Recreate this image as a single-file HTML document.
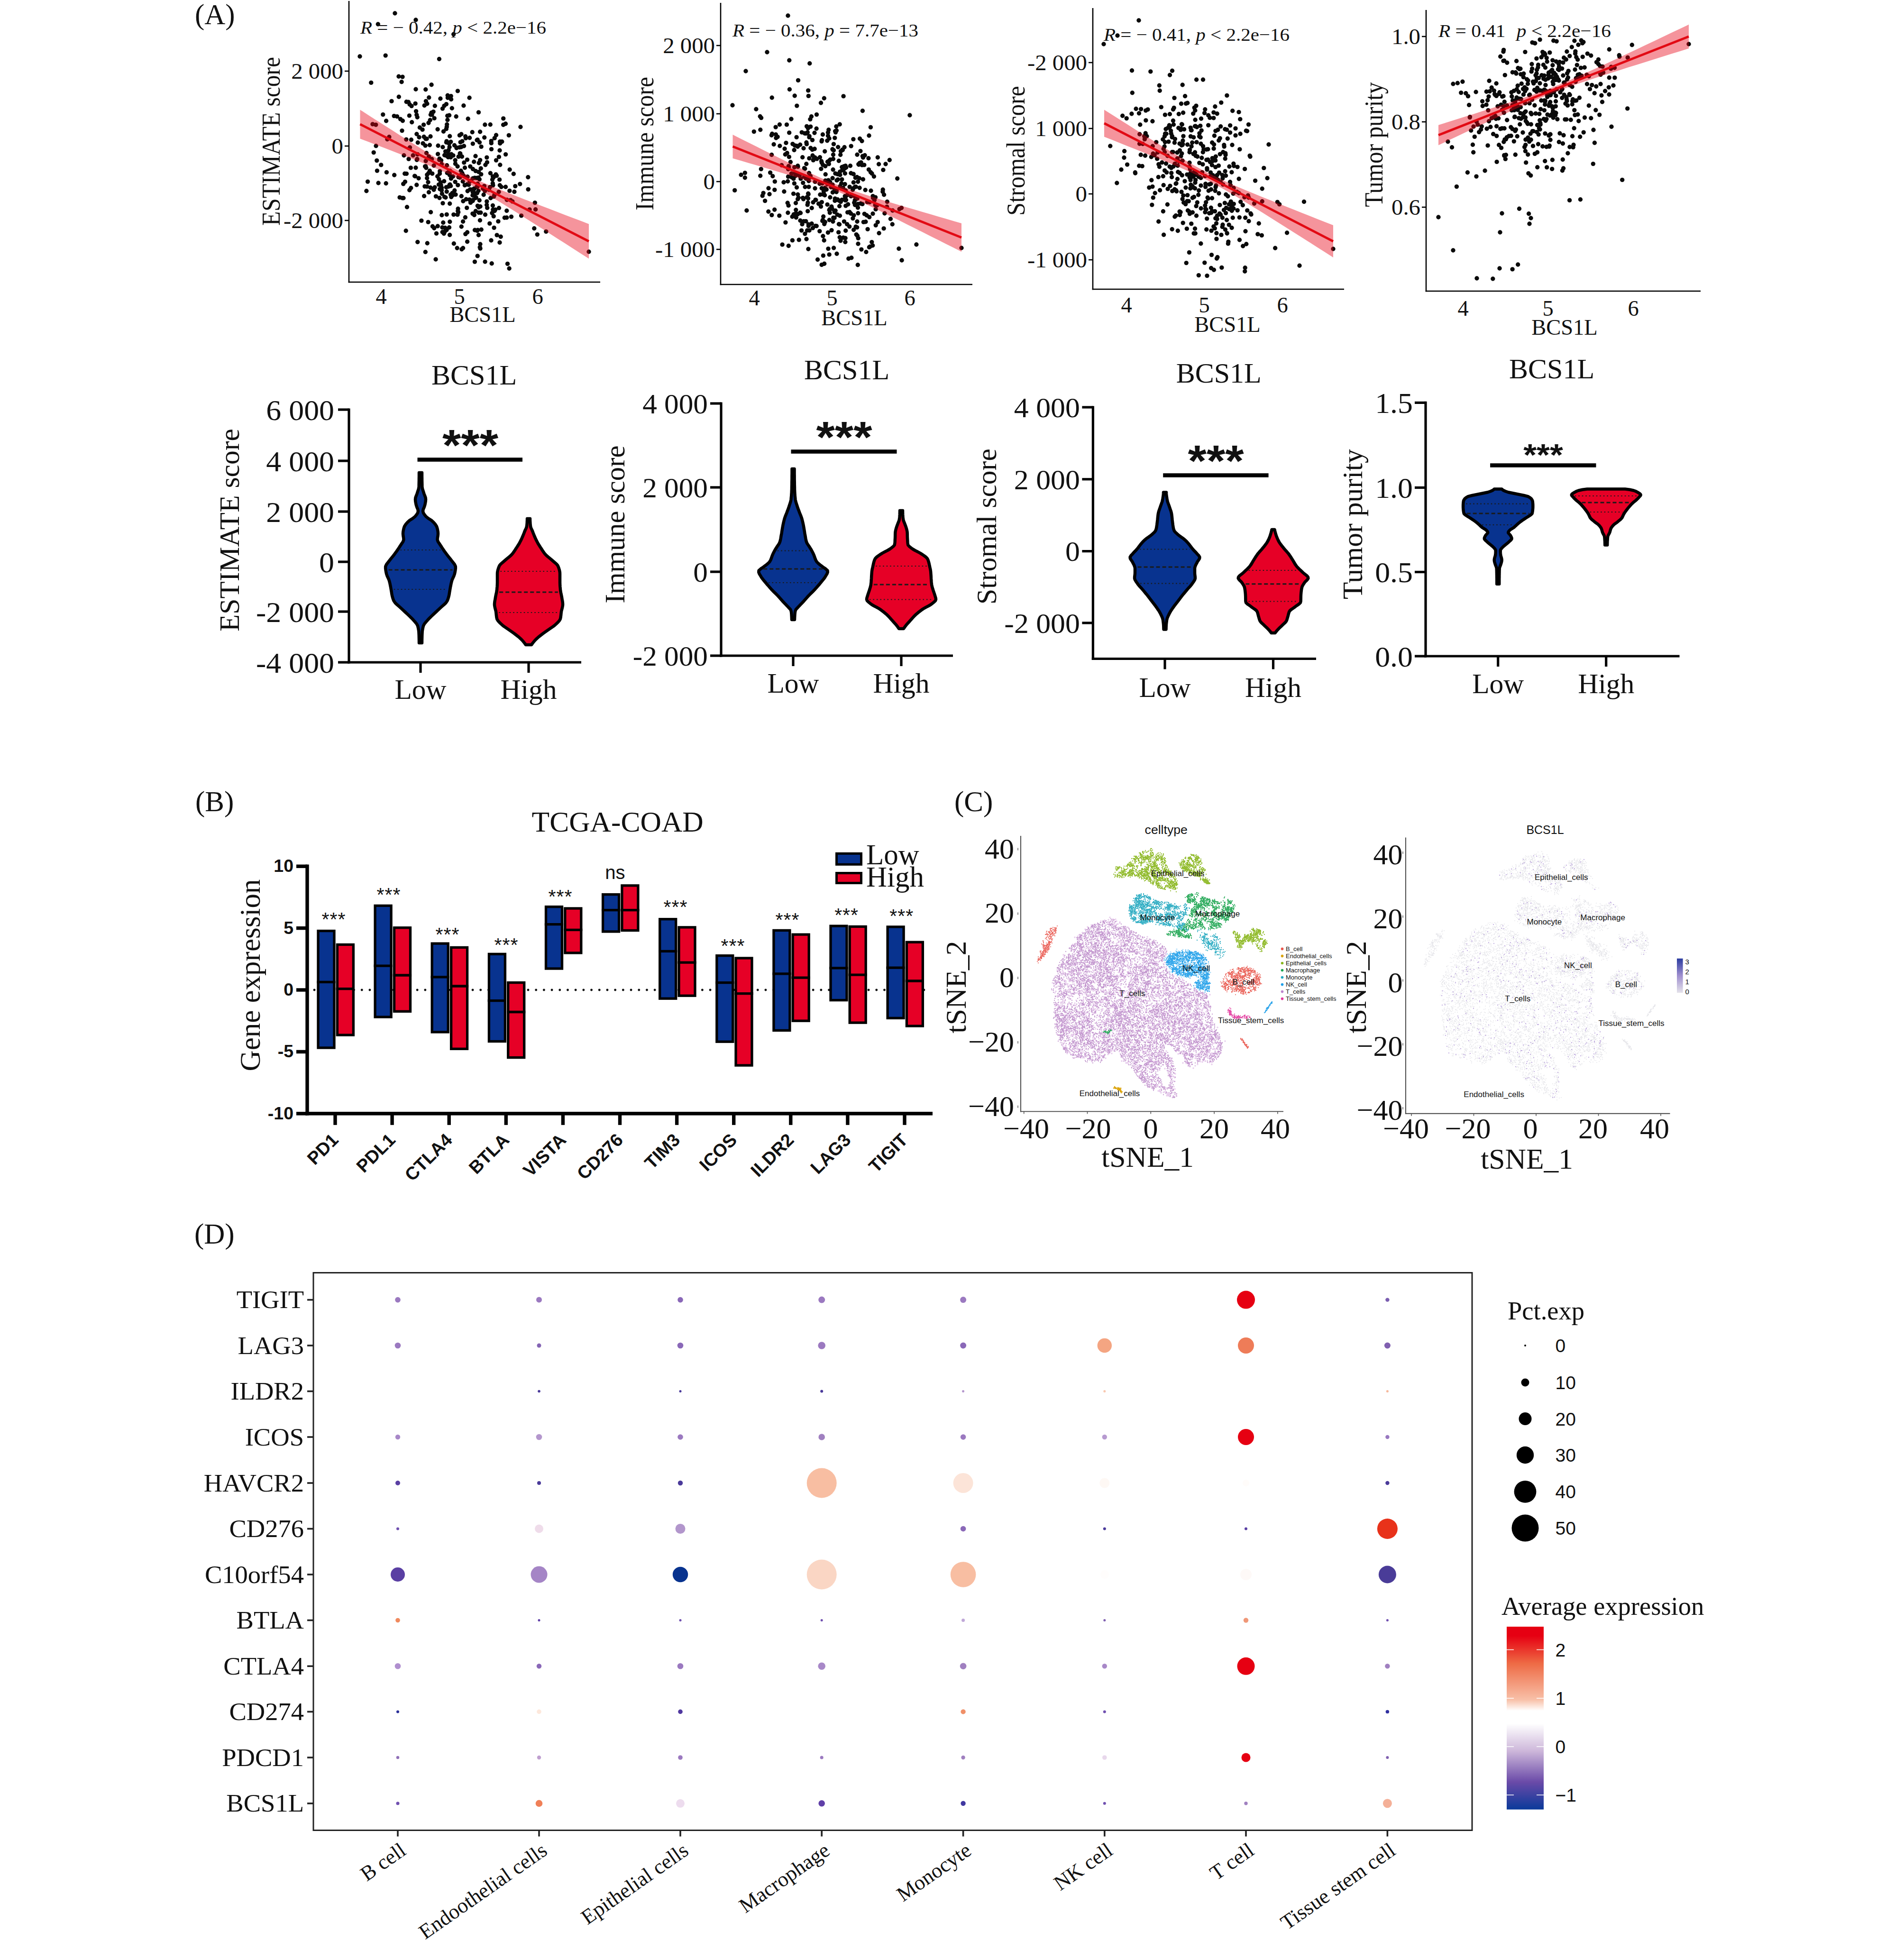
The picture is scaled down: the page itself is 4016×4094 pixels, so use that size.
<!DOCTYPE html>
<html lang="en"><head><meta charset="utf-8"><title>Figure</title>
<style>html,body{margin:0;padding:0;background:#fff}svg{display:block}text{font-family:"Liberation Serif",serif;fill:#111}text.a{font-family:"Liberation Sans",sans-serif}</style></head>
<body><svg width="4016" height="4094" viewBox="0 0 4016 4094">
<rect width="4016" height="4094" fill="#fff"/>
<defs><linearGradient id="gD" x1="0" y1="0" x2="0" y2="1"><stop offset="0" stop-color="#e60012"/><stop offset="0.05" stop-color="#e60012"/><stop offset="0.2" stop-color="#ee6a44"/><stop offset="0.4" stop-color="#f8c0a8"/><stop offset="0.46" stop-color="#ffffff"/><stop offset="0.53" stop-color="#ffffff"/><stop offset="0.68" stop-color="#cdb7da"/><stop offset="0.85" stop-color="#6a4aa8"/><stop offset="1" stop-color="#0a3a9a"/></linearGradient><linearGradient id="gB" x1="0" y1="0" x2="0" y2="1"><stop offset="0" stop-color="#2b3ca0"/><stop offset="0.5" stop-color="#9f8fcf"/><stop offset="1" stop-color="#e4e2ea"/></linearGradient></defs>
<text font-size="61" x="411" y="51">(A)</text>
<text font-size="61" x="412" y="1711">(B)</text>
<text font-size="61" x="2013" y="1711">(C)</text>
<text font-size="61" x="410" y="2623">(D)</text>
<path d="M736 2L736 596.3" stroke="#000" stroke-width="2.6" fill="none" />
<path d="M734.7 595L1266 595" stroke="#000" stroke-width="2.6" fill="none" />
<path d="M727 150L736 150" stroke="#000" stroke-width="2.6" fill="none" />
<text font-size="46.5" transform="translate(724 165.5) scale(1.05 1)" text-anchor="end">2 000</text>
<path d="M727 308L736 308" stroke="#000" stroke-width="2.6" fill="none" />
<text font-size="46.5" transform="translate(724 323.5) scale(1.05 1)" text-anchor="end">0</text>
<path d="M727 465L736 465" stroke="#000" stroke-width="2.6" fill="none" />
<text font-size="46.5" transform="translate(724 480.5) scale(1.05 1)" text-anchor="end">-2 000</text>
<text font-size="46.5" x="804" y="641" text-anchor="middle">4</text>
<text font-size="46.5" x="969" y="641" text-anchor="middle">5</text>
<text font-size="46.5" x="1134" y="641" text-anchor="middle">6</text>
<text font-size="46.5" x="1018" y="679" text-anchor="middle">BCS1L</text>
<text font-size="55" transform="translate(590 298) rotate(-90) scale(0.9 1)" text-anchor="middle">ESTIMATE score</text>
<path d="M1084.9 404.5h0M926.4 124.5h0M960.2 337.9h0M922.7 372h0M990.6 290.8h0M897.9 292.9h0M1009.7 437.2h0M868.1 223.6h0M1013 524.1h0M958.5 306.5h0M1038.5 378.8h0M1012.2 521.5h0M1005.5 394.1h0M1012.7 337.6h0M948.1 310.3h0M946.2 316.7h0M947.6 326.3h0M967.1 373.6h0M981.8 493.6h0M851 417.7h0M943.9 252.9h0M948.5 366.5h0M1036.5 314.6h0M976.2 382.8h0M841.3 204.3h0M1003.3 445.2h0M1037.9 449.4h0M988.8 389.7h0M1046.5 338.1h0M950.7 392.2h0M848.8 417.8h0M904.5 330.2h0M1113.8 373.7h0M923.2 477h0M884.1 289.5h0M997.4 422h0M1002.9 417.7h0M1056.2 499.2h0M1003 329.3h0M910.1 178.8h0M1009.5 236.9h0M1023.1 552h0M885.4 269h0M927 417.5h0M899.5 322.7h0M923.6 324.9h0M1052.4 330.9h0M965.8 390.4h0M1021.7 290h0M1039.9 442h0M1022.8 402.8h0M844.5 251.1h0M1018.8 397.8h0M957.3 513.7h0M1117 441.9h0M1097.9 267.8h0M815.4 363.4h0M942.2 404.1h0M997.4 376.3h0M1009.1 402.5h0M852 327.8h0M973.9 525.7h0M880.7 325.4h0M930.6 338.4h0M1078.5 457.1h0M927.8 361.1h0M1015.1 309.4h0M942 485h0M1021.5 392.4h0M926.9 334.7h0M850.7 387.9h0M985 389h0M868.7 257.8h0M997.3 405.4h0M925.5 389.4h0M1027.4 342.4h0M923.1 272.7h0M878.8 390h0M996.9 412h0M877.6 234.6h0M955.9 327.9h0M969.3 310.7h0M1007.2 539.9h0M1070.5 556.4h0M965.8 445h0M934 428.6h0M933.9 310.2h0M915 400.3h0M980.3 390.7h0M879.9 335.5h0M858.5 436.7h0M951.4 376.6h0M953.3 228.2h0M863.4 312.8h0M1066.6 325.6h0M910.7 335.4h0M841 161.2h0M931.6 346.3h0M933 479.7h0M949.1 389.3h0M1074.1 566.2h0M848 275.6h0M1043.2 291.4h0M895.2 222.5h0M864.1 220.3h0M973.3 478h0M1069.2 421.5h0M820.9 288.7h0M936.7 382.3h0M951.6 209.5h0M990.1 206.3h0M911.8 366.1h0M985.6 509.7h0M793.1 307.8h0M1009.7 362.6h0M1006 295.6h0M1007.4 434.1h0M891.1 273.4h0M947.3 303h0M1034.8 417.7h0M1054 511.5h0M965.1 351h0M893.6 263.1h0M903.9 365.1h0M898.1 339.5h0M974.4 330.3h0M947.5 479.7h0M1075.1 357.8h0M946.9 326.7h0M941.2 484h0M1009.5 495.8h0M1086.8 392.6h0M947.5 361.6h0M1033.5 394.6h0M1006.6 486.6h0M1043.3 444.8h0M904.8 205.8h0M1040.3 444.1h0M894.2 288.5h0M928.9 208h0M978.6 308h0M939.9 416.5h0M954 407.2h0M990.7 383h0M964.2 523.2h0M948.6 495.5h0M895.9 393.1h0M972.9 310h0M772.9 402.8h0M878.8 242.2h0M969.9 374.5h0M980.5 353.8h0M854.4 383.4h0M896.6 350.9h0M1001.5 485.2h0M945.3 331.5h0M944.2 201.3h0M907.2 253.2h0M879.2 337.3h0M938.6 487.8h0M1066.4 261h0M969.4 285.4h0M1000.2 398.5h0M1026.8 424.9h0M1014.8 367.6h0M782.8 174.4h0M900.1 292.8h0M888.9 465.4h0M948.8 467.8h0M936.7 491.7h0M875.6 371.8h0M866.4 353.9h0M1073.3 285.4h0M898.9 354h0M947.6 243.3h0M1042.8 411.4h0M1052.5 438.8h0M878.9 282.7h0M1058.8 298.8h0M927.7 398.6h0M1032.8 471.4h0M856.2 486.7h0M949.1 360.1h0M960.5 345.4h0M892.1 302.4h0M1054.6 298.6h0M788.2 321.6h0M984.7 438.4h0M1083.3 366.8h0M973.3 413.7h0M1048.1 495.9h0M900.9 218.7h0M941.4 219.6h0M1039.5 372.2h0M935.5 277.3h0M1068.8 444.5h0M931.5 401.4h0M954.7 411.8h0M1054.3 390.7h0M997.1 423.8h0M1041.2 456.1h0M963 312.2h0M981.7 287.8h0M1007.2 393.8h0M999.7 341.3h0M903.9 259.2h0M1039.3 386.8h0M944.4 206.3h0M956.7 72.3h0M1057.4 394.2h0M962.2 245.8h0M883 376h0M946 393.5h0M1050.9 466.9h0M826 213.4h0M880.2 247.3h0M813.2 117.1h0M908 287.8h0M997.4 356.5h0M1061.6 263.2h0M862 335.4h0M941.3 271.9h0M1015.2 484.2h0M1053.6 378.9h0M960.1 383.6h0M964.7 452.6h0M925.8 378h0M803.8 347.9h0M1076.9 422.1h0M1034.2 262.8h0M937 223.1h0M983.2 420.3h0M863.4 243.9h0M919.1 547h0M955.4 372.3h0M986.2 403h0M943.7 244.3h0M912.4 477.5h0M978.8 342.9h0M864.6 311h0M962.9 311.2h0M1023.9 347.8h0M948.7 429.5h0M976.6 467.3h0M944.4 320.2h0M993.9 399.9h0M1044.8 442.1h0M958.8 401.7h0M1007.2 294.6h0M950.6 331.7h0M1045.9 367.9h0M1036.2 297.4h0M956.8 452.6h0M942.2 452.4h0M816.9 293.7h0M972.2 360.3h0M853.7 366.2h0M795.4 360.1h0M981.4 458.5h0M942.7 262.5h0M924.1 307.3h0M1003.2 360.6h0M990.2 420.9h0M1061.7 249.9h0M932.3 408.6h0M1010.1 343.8h0M942.6 348.7h0M970.8 323.9h0M916.1 249.4h0M934.8 469.5h0M894.6 413.5h0M1099.6 454.9h0M1129.6 441.7h0M1080.8 424.9h0M876.9 353.8h0M1096.8 388.1h0M997.3 303.1h0M900.7 375.7h0M950.5 410.6h0M1054 317.3h0M915.1 349.2h0M1128.3 427.6h0M930.1 390.4h0M1114.1 399.4h0M943.2 364.7h0M877 188.3h0M976.9 424.3h0M807.8 241.6h0M1034.4 365.3h0M1000.9 407.3h0M1013 435.5h0M985.6 490h0M927.5 366.2h0M1047.6 370.6h0M941.4 300.2h0M901.3 513h0M1001.4 552.1h0M1020.1 410.7h0M948.3 389.7h0M965.1 452.7h0M906.4 360.3h0M1001.1 375.2h0M951.8 415.5h0M1007.9 389.4h0M967.2 330.4h0M1007.5 387.5h0M856.9 294.1h0M1011.2 422.5h0M904.5 405.5h0M1009.9 448.5h0M1074.8 402.4h0M1009.1 374.7h0M1036 507h0M1000.4 453.5h0M908 395.7h0M880.8 510.5h0M1046.5 285h0M775.6 383.1h0M903 384.3h0M871.2 327.8h0M917 395.1h0M938.8 480.5h0M908.6 447.5h0M961 410.4h0M849 162.1h0M1036.3 301.9h0M937.6 327.3h0M897.7 350.6h0M861.5 215.2h0M1026.8 332.1h0M1013.9 448.5h0M1068.8 459h0M831.2 244.6h0M931.9 453.7h0M985.5 336.9h0M991.8 351.1h0M999.7 397.9h0M1039.4 433.5h0M1031.4 400.3h0M1011.3 378.2h0M1006.4 407.2h0M952 325.3h0M941.3 394.9h0M798.1 386h0M792.8 263.1h0M937.4 415.2h0M977.5 370h0M966.7 447.6h0M1126.8 481.7h0M814.6 255h0M906.4 306h0M1000.4 412.5h0M866.8 396.5h0M867.4 294.8h0M1054.7 302.4h0M936.3 492.8h0M942.3 267.5h0M919.4 414.1h0M849.4 254.8h0M857.2 214.7h0M1052.1 404.7h0M929.5 384.8h0M910 237.7h0M1042.1 480.4h0M900.6 393.4h0M1064.3 459.3h0M996.2 278.7h0M951.2 202.6h0M1039.9 390.8h0M1054.8 347.8h0M1022.9 263h0M931.7 396.1h0M986 372.8h0M843.1 416.4h0M1007.7 485.2h0M1041 374.2h0M900.8 368.6h0M920.5 492.4h0M973 283h0M917.3 223.2h0M797.3 51h0M908.4 242h0M971.2 299.9h0M976.6 523.3h0M876.1 218.4h0M897.8 188.8h0M939.6 319.4h0M1011.5 300.3h0M941.6 328.4h0M847.1 172.8h0M992.5 427.4h0M903.2 468.4h0M1027.7 438.4h0M1004.3 416.7h0M1012.4 464.8h0M965.4 191.9h0M948.7 287.2h0M874.6 371.3h0M831.7 369.3h0M914.1 235.6h0M897.3 531.5h0M1066.5 394.2h0M1037.2 555.7h0M897.1 307.1h0M1026.6 432.3h0M933.2 489.5h0M996.9 450.6h0M1133.3 494.6h0M1151.8 488.4h0M948.5 369.2h0M1023.5 452.8h0M987.2 250.5h0M881.3 300.8h0M1012.9 515h0M786 261.9h0M926.6 337.1h0M975 297.9h0M863.7 401h0M1014.2 355.2h0M950.8 299.1h0M857.4 366.4h0M911.1 241.9h0M915.8 481.3h0M991.6 399.6h0M966.1 440.3h0M1012.6 278h0M942 297.9h0M974.8 365h0M814.2 386.7h0M977.9 222.7h0M1041.7 414.6h0M992.9 381.4h0M970.1 323.5h0M837.5 245.6h0M970.9 369.9h0M1004.7 375.5h0M794.8 338.6h0M898.4 213.4h0M933.5 229.1h0M982.4 291.5h0M1242 531h0M759 119h0M833 28h0M877 42h0" stroke="#0a0a0a" stroke-width="9.4" stroke-linecap="round" fill="none"/>
<path d="M759.5 231.5L776.1 242.2L792.8 252.9L809.4 263.5L826.1 274.1L842.7 284.7L859.3 295.3L876 305.8L892.6 316.2L909.2 326.5L925.9 336.6L942.5 346.4L959.2 355.8L975.8 364.7L992.4 373L1009.1 380.7L1025.7 387.9L1042.3 394.9L1059 401.7L1075.6 408.3L1092.3 414.9L1108.9 421.4L1125.5 427.8L1142.2 434.2L1158.8 440.6L1175.4 447L1192.1 453.4L1208.7 459.7L1225.4 466L1242 472.4L1242 545.6L1225.4 534.9L1208.7 524.2L1192.1 513.5L1175.4 502.9L1158.8 492.2L1142.2 481.6L1125.5 470.9L1108.9 460.4L1092.3 449.8L1075.6 439.3L1059 428.9L1042.3 418.7L1025.7 408.6L1009.1 398.8L992.4 389.5L975.8 380.7L959.2 372.6L942.5 365L925.9 357.8L909.2 350.8L892.6 344.1L876 337.5L859.3 330.9L842.7 324.4L826.1 318L809.4 311.6L792.8 305.2L776.1 298.8L759.5 292.5Z" fill="#e60012" fill-opacity="0.42"/>
<path d="M759.5 262L1242 509" stroke="#e20a14" stroke-width="5" fill="none" />
<text x="760" y="71" font-size="38.5" textLength="392" lengthAdjust="spacingAndGlyphs"><tspan font-style="italic">R</tspan> = − 0.42, <tspan font-style="italic">p</tspan> &lt; 2.2e−16</text>
<path d="M1520 6L1520 601.3" stroke="#000" stroke-width="2.6" fill="none" />
<path d="M1518.7 600L2051 600" stroke="#000" stroke-width="2.6" fill="none" />
<path d="M1511 96L1520 96" stroke="#000" stroke-width="2.6" fill="none" />
<text font-size="46.5" transform="translate(1508 111.5) scale(1.05 1)" text-anchor="end">2 000</text>
<path d="M1511 240L1520 240" stroke="#000" stroke-width="2.6" fill="none" />
<text font-size="46.5" transform="translate(1508 255.5) scale(1.05 1)" text-anchor="end">1 000</text>
<path d="M1511 383L1520 383" stroke="#000" stroke-width="2.6" fill="none" />
<text font-size="46.5" transform="translate(1508 398.5) scale(1.05 1)" text-anchor="end">0</text>
<path d="M1511 526L1520 526" stroke="#000" stroke-width="2.6" fill="none" />
<text font-size="46.5" transform="translate(1508 541.5) scale(1.05 1)" text-anchor="end">-1 000</text>
<text font-size="46.5" x="1591" y="644" text-anchor="middle">4</text>
<text font-size="46.5" x="1755" y="644" text-anchor="middle">5</text>
<text font-size="46.5" x="1919" y="644" text-anchor="middle">6</text>
<text font-size="46.5" x="1802" y="686" text-anchor="middle">BCS1L</text>
<text font-size="55" transform="translate(1378 303) rotate(-90) scale(0.9 1)" text-anchor="middle">Immune score</text>
<path d="M1780.2 350.6h0M1763.9 266.7h0M1799.9 293.6h0M1747.2 380.1h0M1704.6 408.2h0M1824.1 327.5h0M1841.5 417.5h0M1818.2 348.1h0M1674.2 452.2h0M1782.2 413.7h0M1792 447.2h0M1665.4 188.5h0M1628.2 206h0M1590.3 277.6h0M1709.5 371.3h0M1762 365.9h0M1728.9 387.5h0M1676.5 306.9h0M1749.3 338.6h0M1706.5 365h0M1841 450.8h0M1723 335.1h0M1738.7 556.3h0M1784.5 421.8h0M1808 326.2h0M1895.9 524.5h0M1743.2 399.8h0M1696.3 372.8h0M1736.7 456.8h0M1772 392.8h0M1794.6 450.4h0M1762.5 279.1h0M1819.4 329.3h0M1675.6 352.8h0M1782.9 510.5h0M1627.8 453.6h0M1862.2 400h0M1732.6 340h0M1704.3 270.4h0M1627.6 326.5h0M1765 535.3h0M1676.2 202h0M1757.1 357.8h0M1771.9 368.9h0M1658 301.4h0M1803.4 432.3h0M1678.5 428.2h0M1644.8 307.7h0M1760.8 290.9h0M1662.6 356.8h0M1741.2 367.8h0M1706.9 289.4h0M1702.6 486h0M1705.4 476.4h0M1833.7 457.9h0M1701.6 266.4h0M1814.9 318.6h0M1656.9 469.1h0M1849.9 433h0M1729.4 331.7h0M1771.6 362.2h0M1640.1 288.6h0M1764.4 275.3h0M1677.7 370.9h0M1865.9 450h0M1749.1 536.9h0M1671.9 303.6h0M1806.2 494.6h0M1779.1 202.9h0M1798.9 460.6h0M1750.1 441h0M1846.1 432.5h0M1680.8 223.1h0M1751.3 336.6h0M1707.2 287.3h0M1766.1 452.7h0M1777.4 316.2h0M1809.5 438h0M1571.3 364.6h0M1603.2 245.5h0M1821.4 468.4h0M1701.4 303.9h0M1771.2 262.2h0M1775.8 378.4h0M1798.6 400.2h0M1670 373.9h0M1722.1 271.3h0M1664.7 279.9h0M1750.3 448.7h0M1744.8 296.7h0M1719.9 421.5h0M1822.8 347.9h0M1766.8 367.4h0M1594.9 230.3h0M1706.9 333.9h0M1718.9 332.1h0M1772.7 326.5h0M1634.3 382.9h0M1703.2 431.9h0M1688 465.2h0M1659.4 262.9h0M1795.9 543.8h0M1690.6 486.1h0M1854.1 491.8h0M1731.5 217h0M1636.3 283.6h0M1782.1 388.4h0M1700 376.8h0M1629.8 371.5h0M1679.3 458.8h0M1757.4 335.2h0M1708.9 251.6h0M1758.4 316.9h0M1738.7 472.5h0M1770.6 434.7h0M1932.9 515.7h0M1825.2 400.7h0M1662.5 372.6h0M1664.8 127.2h0M1788.7 431h0M1671.1 457h0M1740.8 350.5h0M1678.8 449.8h0M1715.4 337.9h0M1713.3 315.6h0M1627.4 285.3h0M1684.2 417h0M1653.9 404h0M1709.9 312.2h0M1734.3 386.6h0M1753.9 435.7h0M1761.6 276.7h0M1697.9 493.1h0M1738.3 207.2h0M1758.6 523h0M1829.2 426.1h0M1762.2 444.3h0M1735.6 347.5h0M1861.9 404.4h0M1818 297.5h0M1691.2 279.1h0M1775.8 352.5h0M1700.9 300.5h0M1756.9 467.3h0M1704.5 418.4h0M1745.5 341.3h0M1771.2 500.5h0M1563.1 368.8h0M1871.3 425.5h0M1800.6 484.8h0M1783.3 422.6h0M1838.8 510.6h0M1759.9 444.7h0M1683 351.6h0M1756.1 389.5h0M1699.8 466.6h0M1771.5 455h0M1655.1 313.8h0M1697.9 355.7h0M1761 423.4h0M1733.2 342.9h0M1809.6 383.2h0M1673.6 408.6h0M1735.8 409.9h0M1769.4 472.7h0M1791.7 477.9h0M1741 380.9h0M1775.7 421.5h0M1783.8 434.1h0M1901.5 438.5h0M1783.1 416.3h0M1843.4 372.2h0M1661.9 448.7h0M1801.8 427.4h0M1695.2 466.7h0M1778.9 358.5h0M1714 328h0M1846.5 416.1h0M1675.1 316.5h0M1825.9 467.7h0M1697.3 281.2h0M1705.9 394.1h0M1717.9 334.3h0M1748.3 345.9h0M1669 251h0M1680.5 307.8h0M1764.5 402.1h0M1687.8 448.8h0M1661.2 428h0M1664.4 330.9h0M1805.1 478.1h0M1686.5 370.6h0M1667.4 341.8h0M1776.5 359h0M1851.2 468.4h0M1794.9 365.3h0M1737.5 408.3h0M1808 467.3h0M1718.2 314h0M1663.3 518.5h0M1826.9 531.5h0M1736.4 539.1h0M1783.1 421.6h0M1709.7 267.1h0M1795 413.9h0M1746.5 286.5h0M1605.6 248.6h0M1809.3 558.7h0M1700.8 345.8h0M1636.1 268.1h0M1769.3 339.3h0M1754 485.6h0M1733.6 295.7h0M1864.1 481.9h0M1761.3 418.9h0M1731.5 435.6h0M1648.7 348.5h0M1663.3 350.5h0M1792.1 394.1h0M1870.7 436.1h0M1698.1 394.3h0M1763.9 421.7h0M1750.7 383.8h0M1813.6 292.5h0M1800.2 367.1h0M1739.7 319.3h0M1836.4 268.4h0M1660.2 322.7h0M1795.2 308.1h0M1783.7 486.5h0M1683.5 169.4h0M1799.9 397.3h0M1740.3 468.2h0M1800.3 367.2h0M1757.5 326.3h0M1778.3 396.2h0M1782.7 354.6h0M1762.3 420.6h0M1786.9 411.4h0M1603.7 370.7h0M1663.1 433.4h0M1745.5 388.4h0M1701 504.2h0M1692 472.9h0M1844.4 422.1h0M1682.5 309.2h0M1643.8 454.9h0M1773.5 318.9h0M1803.2 422.6h0M1823.3 451.1h0M1673.8 377h0M1815.4 429.3h0M1758.4 303.9h0M1705.9 381.8h0M1807.6 373.5h0M1724.6 547.5h0M1682.7 349.8h0M1682.3 366.9h0M1807.7 479.6h0M1778.7 501.2h0M1749.1 443h0M1678.8 442.7h0M1705.4 473.3h0M1675.4 386.9h0M1770 423.1h0M1738.2 507h0M1777 315.6h0M1712.1 471.7h0M1685.2 505.9h0M1722.5 241.6h0M1811.4 347.3h0M1749 292h0M1760.2 447.1h0M1803.4 394.1h0M1633.7 442.3h0M1753.1 394.9h0M1636.9 291h0M1756.1 375.7h0M1757 316.1h0M1624.6 364.1h0M1734.7 465.9h0M1841.1 413.6h0M1720.2 476.4h0M1810.8 346.4h0M1878.4 461.8h0M1735.4 283.8h0M1720.9 421.8h0M1773 507.8h0M1816.2 342.6h0M1731.9 356.1h0M1695 312.7h0M1680.1 289.4h0M1739.6 411.7h0M1832.4 357.6h0M1707.8 133.8h0M1733.2 397h0M1706.9 375h0M1687.7 305.3h0M1644.4 262.7h0M1613.6 423.6h0M1803.7 415.2h0M1735.9 498h0M1783.4 349.8h0M1750.9 416.2h0M1766.8 420.8h0M1628.6 282.3h0M1605.3 356.6h0M1718 280.3h0M1902.1 549h0M1712.2 438.8h0M1703.7 445.4h0M1804.3 375h0M1789.8 545.5h0M1820.5 332.2h0M1780.4 467.1h0M1768.7 489.9h0M1705.3 202.4h0M1862.9 358.4h0M1746.5 279.5h0M1813.5 343.6h0M1764.2 405h0M1810.2 502.4h0M1773.3 425.6h0M1693.5 417.4h0M1610.1 407.1h0M1759.8 397.8h0M1833 286h0M1682.8 410.2h0M1726.6 429.7h0M1733 298.1h0M1780.3 420.7h0M1787.7 447.9h0M1892.7 376.5h0M1707.1 486h0M1688.9 376.9h0M1828.1 454.3h0M1783.7 401.7h0M1621 397h0M1809.9 449.7h0M1719.1 397.2h0M1800.3 384.7h0M1713.5 295.4h0M1781.1 310.5h0M1714.4 481h0M1603.8 273.7h0M1813.1 396.3h0M1831.9 333.8h0M1682.7 451.6h0M1676.8 365.2h0M1728.8 487.6h0M1669.3 366.1h0M1810 514.3h0M1760.1 459.5h0M1705 525.3h0M1786.7 472.9h0M1882.2 473h0M1757.7 459.2h0M1851.3 332h0M1633.8 400.4h0M1740.2 396.2h0M1897.1 441h0M1746.4 490.5h0M1693.8 385.6h0M1737.4 403.4h0M1767.7 310.2h0M1716.9 333.3h0M1653 384.5h0M1700.8 281.3h0M1632.1 304.5h0M1661.6 382.5h0M1812.4 375.9h0M1692.7 331.7h0M1793.5 349.8h0M1784.7 353.3h0M1574.9 444h0M1805.3 394h0M1756.3 405.7h0M1864.6 410.7h0M1767.2 378.6h0M1705.2 409.6h0M1782.4 365.8h0M1918.9 243h0M1853.6 346.2h0M1694.6 420h0M1816.9 526.1h0M1650.1 515.9h0M1680.5 395.3h0M1847.1 441.4h0M1749.3 464h0M1755.9 314.7h0M1835 520.2h0M1800.9 454.2h0M1840.7 517.8h0M1847.2 475.1h0M1623 409.5h0M1808.4 497.2h0M1868 346h0M1549.7 401.4h0M1809.7 430.3h0M1671.4 506.9h0M1733.1 558.5h0M1783.1 502.3h0M1571.3 374.7h0M1703.3 279.1h0M1711.4 245.7h0M1836.4 363.3h0M1747 524.6h0M1830.1 483.4h0M1834.2 426.4h0M1663.8 352.2h0M1719.2 383.4h0M1745.1 431.4h0M1820.4 378.3h0M1729.9 410.5h0M1837 402.2h0M1608.2 412.9h0M1656.3 325.7h0M1715.1 426.8h0M1620.8 446.3h0M1722.3 476.7h0M1765 380.4h0M1704.7 190.9h0M1876.3 337.5h0M1770.5 473.3h0M1808.1 418.9h0M1704 427.5h0M1747.8 273.7h0M1682.7 419.9h0M1819.4 233.8h0M1774.7 386.8h0M1819 430.4h0M1735.4 464.1h0M1833.4 521.4h0M1755 440.1h0M1882.8 444h0M1702.1 416h0M1688.5 449.2h0M1696.4 354.6h0M1839.1 366h0M1733.3 426.4h0M2028 523h0M1662 33h0M1618 110h0M1545 222h0M1573 150h0" stroke="#0a0a0a" stroke-width="9.4" stroke-linecap="round" fill="none"/>
<path d="M1545.5 284.1L1562.1 292.4L1578.8 300.8L1595.4 309.1L1612.1 317.4L1628.7 325.7L1645.3 334L1662 342.2L1678.6 350.3L1695.2 358.3L1711.9 366.2L1728.5 373.9L1745.2 381.2L1761.8 388.1L1778.4 394.5L1795.1 400.5L1811.7 406.1L1828.3 411.5L1845 416.8L1861.6 421.9L1878.3 427L1894.9 431.9L1911.5 436.9L1928.2 441.8L1944.8 446.7L1961.4 451.6L1978.1 456.5L1994.7 461.3L2011.4 466.2L2028 471L2028 531L2011.4 522.6L1994.7 514.2L1978.1 505.8L1961.4 497.4L1944.8 489.1L1928.2 480.7L1911.5 472.4L1894.9 464.1L1878.3 455.9L1861.6 447.7L1845 439.6L1828.3 431.6L1811.7 423.7L1795.1 416.1L1778.4 408.9L1761.8 402.1L1745.2 395.7L1728.5 389.8L1711.9 384.2L1695.2 378.8L1678.6 373.6L1662 368.5L1645.3 363.5L1628.7 358.5L1612.1 353.5L1595.4 348.6L1578.8 343.7L1562.1 338.8L1545.5 333.9Z" fill="#e60012" fill-opacity="0.42"/>
<path d="M1545.5 309L2028 501" stroke="#e20a14" stroke-width="5" fill="none" />
<text x="1545" y="77" font-size="38.5" textLength="392" lengthAdjust="spacingAndGlyphs"><tspan font-style="italic">R</tspan> = − 0.36, <tspan font-style="italic">p</tspan> = 7.7e−13</text>
<path d="M2305 17L2305 611.3" stroke="#000" stroke-width="2.6" fill="none" />
<path d="M2303.7 610L2835 610" stroke="#000" stroke-width="2.6" fill="none" />
<path d="M2296 132L2305 132" stroke="#000" stroke-width="2.6" fill="none" />
<text font-size="46.5" transform="translate(2293 147.5) scale(1.05 1)" text-anchor="end">-2 000</text>
<path d="M2296 271L2305 271" stroke="#000" stroke-width="2.6" fill="none" />
<text font-size="46.5" transform="translate(2293 286.5) scale(1.05 1)" text-anchor="end">1 000</text>
<path d="M2296 409L2305 409" stroke="#000" stroke-width="2.6" fill="none" />
<text font-size="46.5" transform="translate(2293 424.5) scale(1.05 1)" text-anchor="end">0</text>
<path d="M2296 548L2305 548" stroke="#000" stroke-width="2.6" fill="none" />
<text font-size="46.5" transform="translate(2293 563.5) scale(1.05 1)" text-anchor="end">-1 000</text>
<text font-size="46.5" x="2376" y="659" text-anchor="middle">4</text>
<text font-size="46.5" x="2540" y="659" text-anchor="middle">5</text>
<text font-size="46.5" x="2705" y="659" text-anchor="middle">6</text>
<text font-size="46.5" x="2589" y="700" text-anchor="middle">BCS1L</text>
<text font-size="55" transform="translate(2161 318) rotate(-90) scale(0.9 1)" text-anchor="middle">Stromal score</text>
<path d="M2481.6 403.5h0M2528.7 401.8h0M2626.7 459.2h0M2627 487.7h0M2636.1 328.4h0M2476.2 227.4h0M2571.5 364.1h0M2596.2 425.1h0M2540.8 554.1h0M2574.6 384.3h0M2462.4 431.2h0M2599 305.7h0M2521.6 379.7h0M2416.2 281h0M2630.5 276.5h0M2566.4 545.2h0M2488 303h0M2547.1 416.7h0M2559.8 248.9h0M2477.9 345.5h0M2509.4 450.9h0M2509.1 321h0M2662.2 424.8h0M2462.7 328.7h0M2515.4 417.2h0M2563.8 352.4h0M2504.7 305h0M2527.7 411h0M2557.2 333.6h0M2494.9 304.1h0M2396.1 229.5h0M2563.8 460.4h0M2517.2 324.7h0M2576.9 564.4h0M2466.3 264.2h0M2501 395.8h0M2471.6 373.5h0M2481 386.7h0M2509.6 316.1h0M2589.3 292.2h0M2477.6 399.3h0M2585.8 410.3h0M2377.6 347.1h0M2556.4 348.1h0M2394.6 365.3h0M2655.2 471.2h0M2625.6 356.4h0M2544.8 315.3h0M2452.8 294h0M2467.5 267.2h0M2477.4 300.9h0M2511.2 364.8h0M2443.8 346.5h0M2403.6 303.2h0M2537.5 168h0M2507.7 445.9h0M2563.6 338.4h0M2493.3 369.8h0M2542.7 440.4h0M2541.9 447.6h0M2560.1 313.4h0M2460.1 282.3h0M2560.6 304.8h0M2594.7 264.6h0M2513.2 274.8h0M2553.9 387.7h0M2521.1 252.7h0M2469.6 275.7h0M2601.8 345.3h0M2567.1 461.9h0M2472.2 289.4h0M2376.2 249.6h0M2582.1 309.1h0M2556.6 445.1h0M2557.2 340h0M2547.9 314.8h0M2502.2 554.6h0M2496 287.1h0M2542.7 394.1h0M2585 326.6h0M2457.4 242.1h0M2584.5 484.2h0M2478.4 293.1h0M2530 281.1h0M2496.7 427.2h0M2445.5 351.8h0M2614.9 314.9h0M2609 404.7h0M2494.1 419.8h0M2536.9 346.6h0M2491.1 271.2h0M2492.8 323.7h0M2585.6 370.5h0M2552.4 341.6h0M2565.3 375.6h0M2621.3 432.8h0M2414.4 293.6h0M2500.7 430.6h0M2533.2 439.5h0M2584.2 334.6h0M2510.3 357h0M2568.8 273.8h0M2432.1 324h0M2504.7 217.2h0M2410.4 303.5h0M2499 382.1h0M2523.5 455h0M2402.7 349.8h0M2474.4 254.5h0M2599.7 233.8h0M2525.6 330.2h0M2616.1 282.3h0M2556.5 418h0M2530.5 373.1h0M2520.8 233h0M2494.2 179h0M2598.1 480.5h0M2432.3 416.9h0M2519.2 227.1h0M2480.2 387.4h0M2524.5 268h0M2578.1 369.1h0M2495.6 237.8h0M2567.2 455h0M2457.4 299.7h0M2511.8 367.1h0M2454.6 495.3h0M2550.7 449.8h0M2508.4 532.4h0M2562.9 224.7h0M2602.1 396.5h0M2456.6 320.7h0M2468 392.1h0M2574.7 266.8h0M2578.2 478.5h0M2355.8 386h0M2578.4 459.3h0M2632.4 412.2h0M2470.7 364.9h0M2520.4 397.3h0M2367.7 244.2h0M2714.6 491h0M2602.3 430.1h0M2507.2 424.4h0M2584.1 361.2h0M2518.4 415.4h0M2475.4 262.8h0M2614.5 506h0M2518.1 492.2h0M2592.3 431h0M2495.9 412.4h0M2494.2 339h0M2488.1 446.3h0M2541.7 371.4h0M2606 270.9h0M2532.9 375.2h0M2492.5 262h0M2652.9 493.9h0M2598.5 432.7h0M2592.6 440.9h0M2546 357.7h0M2463.9 269.2h0M2529.6 287.6h0M2556.7 300.7h0M2587.6 273.6h0M2555.1 486.6h0M2593 351.3h0M2624.9 416h0M2557.5 373.9h0M2409.2 350.4h0M2562.5 445.6h0M2463.1 398.4h0M2486.3 240.5h0M2459.5 345h0M2503.3 482.4h0M2588.2 492.3h0M2520.4 266.2h0M2418.9 287.3h0M2621.7 519h0M2415.5 328.3h0M2581.8 305.8h0M2533 303.3h0M2542.8 387.8h0M2509 343.2h0M2484 349.4h0M2565.5 471.1h0M2438.8 299.9h0M2573.3 325.1h0M2483.4 334.1h0M2583.9 272.5h0M2548.2 418.8h0M2435.2 327.5h0M2633.8 416.7h0M2520.5 482.3h0M2490.9 329.5h0M2626.2 564.8h0M2456.1 309h0M2565.9 491.8h0M2564.3 330.1h0M2587.9 201.4h0M2541.8 433.5h0M2610.2 443.6h0M2430.9 393.6h0M2494.1 305.6h0M2613 236.4h0M2689.7 523.3h0M2594.5 383.8h0M2581.5 442.9h0M2548.7 243.2h0M2563.2 402.5h0M2598.1 434.6h0M2550.8 388.9h0M2426.8 150.9h0M2524 299.9h0M2563.9 276.1h0M2492 404.7h0M2532.2 289.6h0M2571 407.8h0M2459 272.3h0M2545.9 354.9h0M2513.1 308.8h0M2341.8 308h0M2553.5 363.9h0M2404.8 263h0M2529.8 343.6h0M2523.6 168h0M2572.9 432.4h0M2576 495.4h0M2544.7 484h0M2443.3 373.5h0M2512.8 471.9h0M2494.9 296.8h0M2483.5 377.5h0M2472.7 402.9h0M2579.7 389.1h0M2537.5 308.4h0M2661.3 496.4h0M2446.6 401.3h0M2450.9 342.7h0M2570.4 349.4h0M2484.7 362.7h0M2564.9 391.2h0M2551.8 248.4h0M2521.5 266h0M2531.8 265.4h0M2467.4 240.8h0M2492.4 306.5h0M2511.7 389.6h0M2453.4 445.8h0M2493.3 262.5h0M2538.9 315.1h0M2483.9 338.6h0M2428.8 380h0M2421 230.9h0M2592.2 474.1h0M2541.8 230.7h0M2490.4 273.9h0M2472.3 288.6h0M2543.7 426.6h0M2534.2 275.1h0M2520.4 363.3h0M2579.8 320.8h0M2485.8 269.9h0M2440.7 334.9h0M2480.5 401.4h0M2578.8 376.2h0M2537.3 321h0M2535.6 363.4h0M2602.6 350h0M2598.2 444.5h0M2548.7 264.1h0M2454.2 313.9h0M2533.5 250.2h0M2645.5 429.3h0M2516.9 395.3h0M2472.5 149.2h0M2517.7 289.7h0M2528.3 372.7h0M2416.7 233.1h0M2590.4 513.9h0M2524 368.7h0M2554.4 399.5h0M2488.5 317.3h0M2614.3 458.6h0M2600.2 459.3h0M2474.5 230.8h0M2430.9 255.7h0M2563.1 337.6h0M2676 304.7h0M2515.4 448h0M2665.8 354.4h0M2554.3 438.2h0M2394.3 363.7h0M2544.8 337.2h0M2601.2 408.4h0M2480.1 454.8h0M2488.4 453.5h0M2365 357.8h0M2511.1 379.8h0M2545.7 461.1h0M2474.1 320.6h0M2510.8 397.3h0M2533 391.4h0M2559.9 237.1h0M2517.7 369h0M2590.9 509.9h0M2504 424.3h0M2662.2 398h0M2491.5 218.8h0M2443.7 467.3h0M2431.2 308.3h0M2589.9 414h0M2553.8 373.1h0M2606 285.6h0M2509.1 352h0M2402.5 239h0M2521.2 492.2h0M2490 447.4h0M2484.3 486.8h0M2505.4 444h0M2741 560.3h0M2637 330.4h0M2574.6 452.7h0M2520.9 385.3h0M2456.4 287.5h0M2446.2 191.3h0M2584.7 323.2h0M2555.5 537.6h0M2610.1 352.1h0M2514.7 300.7h0M2532.9 513.7h0M2647.6 381.1h0M2436.2 407.3h0M2371 332.5h0M2371.6 318.8h0M2547.9 336.7h0M2453.3 371.7h0M2564 394.6h0M2698.6 430.9h0M2495.2 470.1h0M2750.5 425.5h0M2520.5 321.3h0M2554.8 448.8h0M2483.1 321.7h0M2467.1 351.5h0M2515 392.7h0M2517.2 372.5h0M2416.9 253.9h0M2503.9 368.1h0M2457.6 282h0M2601.8 439.7h0M2486.9 340.7h0M2509.2 374.3h0M2512.3 274.6h0M2540.6 238.4h0M2579 474h0M2594.6 279.6h0M2523.1 434.6h0M2549.2 402.3h0M2544 441.7h0M2523 223.1h0M2554.6 565.5h0M2585.5 449.4h0M2673.1 375.8h0M2464.8 298.9h0M2567.9 542.5h0M2613 407.2h0M2639 452.4h0M2558.4 369.7h0M2472.3 320.7h0M2467.5 158.3h0M2477.9 457h0M2516.8 239.6h0M2546 581.6h0M2528.3 580.6h0M2575.8 216.4h0M2560.4 569.2h0M2573.2 291.6h0M2565.9 503.9h0M2428.3 331h0M2562.3 481.6h0M2511.4 287.6h0M2583.4 428.1h0M2534.8 333h0M2597.9 363.3h0M2694.4 426.1h0M2628.8 514.7h0M2569.2 379.3h0M2616.7 425.7h0M2474.9 351.1h0M2567.2 239.8h0M2615.8 251.4h0M2553 372.5h0M2413.7 287.4h0M2460.7 363.6h0M2488.2 364.7h0M2559.8 477.7h0M2472.2 483.5h0M2388.3 195.7h0M2499.6 202.8h0M2406.2 326.5h0M2406.6 230.1h0M2588.1 491.7h0M2504.7 411.6h0M2586.3 438.5h0M2511.2 269.4h0M2429.8 432.1h0M2567.3 369.3h0M2525.3 427h0M2595.4 390.3h0M2454.2 390.5h0M2501.5 218.4h0M2625.7 572.3h0M2554.9 371.6h0M2522.1 328.6h0M2497.6 272.8h0M2470.2 281.5h0M2518.9 362.6h0M2561.4 286.2h0M2570.7 296.3h0M2456.6 359.6h0M2403.8 283h0M2386.9 240h0M2572.4 450.4h0M2449.3 225.9h0M2637.9 450.2h0M2628.3 275.8h0M2630.8 443.9h0M2441.6 321.5h0M2634 466.5h0M2445.3 180.2h0M2613.2 377.3h0M2472.3 287.1h0M2477 206.6h0M2512.4 373.9h0M2423.8 395.6h0M2470.5 354.1h0M2587.6 464h0M2633.5 262.6h0M2387.5 148.8h0M2812 525h0M2402 43h0M2328 93h0M2357 75h0" stroke="#0a0a0a" stroke-width="9.4" stroke-linecap="round" fill="none"/>
<path d="M2329 231.5L2345.7 242L2362.3 252.6L2379 263.1L2395.6 273.7L2412.3 284.2L2428.9 294.6L2445.6 305L2462.2 315.3L2478.9 325.5L2495.6 335.5L2512.2 345.3L2528.9 354.7L2545.5 363.6L2562.2 372L2578.8 379.9L2595.5 387.4L2612.1 394.7L2628.8 401.7L2645.4 408.6L2662.1 415.4L2678.8 422.1L2695.4 428.8L2712.1 435.5L2728.7 442.1L2745.4 448.7L2762 455.3L2778.7 461.9L2795.3 468.5L2812 475.1L2812 542.9L2795.3 532.3L2778.7 521.7L2762 511.1L2745.4 500.6L2728.7 490L2712.1 479.5L2695.4 469L2678.8 458.5L2662.1 448.1L2645.4 437.7L2628.8 427.4L2612.1 417.3L2595.5 407.3L2578.8 397.7L2562.2 388.4L2545.5 379.6L2528.9 371.4L2512.2 363.6L2495.6 356.2L2478.9 349.1L2462.2 342.1L2445.6 335.2L2428.9 328.4L2412.3 321.7L2395.6 315L2379 308.4L2362.3 301.7L2345.7 295.1L2329 288.5Z" fill="#e60012" fill-opacity="0.42"/>
<path d="M2329 260L2812 509" stroke="#e20a14" stroke-width="5" fill="none" />
<text x="2328" y="86" font-size="38.5" textLength="392" lengthAdjust="spacingAndGlyphs"><tspan font-style="italic">R</tspan> = − 0.41, <tspan font-style="italic">p</tspan> &lt; 2.2e−16</text>
<path d="M3008 21L3008 615.3" stroke="#000" stroke-width="2.6" fill="none" />
<path d="M3006.7 614L3587 614" stroke="#000" stroke-width="2.6" fill="none" />
<path d="M2999 77L3008 77" stroke="#000" stroke-width="2.6" fill="none" />
<text font-size="46.5" transform="translate(2996 92.5) scale(1.05 1)" text-anchor="end">1.0</text>
<path d="M2999 257L3008 257" stroke="#000" stroke-width="2.6" fill="none" />
<text font-size="46.5" transform="translate(2996 272.5) scale(1.05 1)" text-anchor="end">0.8</text>
<path d="M2999 437L3008 437" stroke="#000" stroke-width="2.6" fill="none" />
<text font-size="46.5" transform="translate(2996 452.5) scale(1.05 1)" text-anchor="end">0.6</text>
<text font-size="46.5" x="3086" y="666" text-anchor="middle">4</text>
<text font-size="46.5" x="3265" y="666" text-anchor="middle">5</text>
<text font-size="46.5" x="3445" y="666" text-anchor="middle">6</text>
<text font-size="46.5" x="3300" y="706" text-anchor="middle">BCS1L</text>
<text font-size="55" transform="translate(2916 305) rotate(-90) scale(0.9 1)" text-anchor="middle">Tumor purity</text>
<path d="M3375.5 155.2h0M3257.4 232.6h0M3140.5 255.7h0M3295.1 187.7h0M3305.5 167.2h0M3303.8 251.9h0M3237.8 91.2h0M3322.9 108.4h0M3213.8 155.3h0M3270.1 283.2h0M3323.3 172.4h0M3255.7 166h0M3171.1 202.8h0M3244.5 304h0M3234.8 175.9h0M3212.6 187.6h0M3233.5 307.9h0M3231.7 144.9h0M3138.9 232.6h0M3228.7 370.1h0M3277.2 165.2h0M3149.5 247.7h0M3193.9 232.4h0M3231.5 210.4h0M3186.8 268.3h0M3262.2 122.1h0M3360.3 345.6h0M3274 195h0M3198.6 208.7h0M3193.2 191.6h0M3304 204.9h0M3236.9 91h0M3156.8 286.8h0M3276.2 248.3h0M3240.9 123.4h0M3225.7 298.6h0M3216.7 192.3h0M3334.4 143.1h0M3206.9 145h0M3249.2 262.6h0M3288.5 140.6h0M3270.1 295h0M3241.5 164.3h0M3208 250.4h0M3151.4 191.2h0M3207.4 226h0M3259.5 142.5h0M3267 285.9h0M3125.3 266.6h0M3096.5 202.9h0M3298.7 174.3h0M3269.5 191.7h0M3084.9 172.3h0M3393.3 184.2h0M3218 188.8h0M3204.4 208.2h0M3209.3 176.5h0M3254.4 192.6h0M3278.7 168.9h0M3379.5 215h0M3278 153.8h0M3233.5 172.3h0M3367.5 131.1h0M3065 177h0M3273.7 147.6h0M3148.8 588h0M3304.9 108.7h0M3316.5 287.3h0M3188.6 232.7h0M3284.9 251.5h0M3296.4 302.7h0M3225.6 200.6h0M3442.3 94.8h0M3100.5 246.6h0M3212 279.5h0M3223 169.8h0M3188.8 203.4h0M3178.7 253.2h0M3260.1 254.5h0M3217.9 235.1h0M3270.6 150.7h0M3154 244.5h0M3347.5 177.2h0M3247.7 253.7h0M3222.8 290.2h0M3190.7 211.9h0M3215.2 237.8h0M3371.3 135h0M3146.2 184.8h0M3135.1 220.9h0M3415.2 116.5h0M3283.4 188.1h0M3161.7 198h0M3280.7 242.9h0M3199.1 205.7h0M3054 298.8h0M3266.1 193.7h0M3201.7 558h0M3172.8 328.5h0M3268.2 218.7h0M3182.7 286.9h0M3259.3 212.6h0M3072.4 393.6h0M3240.9 193.2h0M3242.5 263.7h0M3324.7 211.9h0M3217.4 318.8h0M3253.7 109.6h0M3156.2 202.4h0M3168.1 270.7h0M3257.5 112.1h0M3220.6 167.2h0M3248.2 273h0M3320.8 232.4h0M3328.1 157.8h0M3168.4 231.6h0M3178.8 132.2h0M3239.5 170.9h0M3342.5 248h0M3281.3 224.1h0M3164.7 119.2h0M3315.3 99.3h0M3316.1 183h0M3264 241.8h0M3268.3 307.2h0M3283.2 87.1h0M3195 246.1h0M3244.5 136.8h0M3310.2 198.8h0M3399 267.2h0M3286.4 167.1h0M3236.5 189.7h0M3317.6 209.5h0M3376 177.2h0M3357.7 179.4h0M3228.8 238.1h0M3268 284.8h0M3215.9 184.1h0M3277.9 193h0M3212.8 240.7h0M3276.8 155.4h0M3275.2 228h0M3201.2 180.8h0M3217.9 294.5h0M3257.5 189.1h0M3226.7 199.8h0M3421.7 379.4h0M3230.3 240.8h0M3259 114.6h0M3289.6 130.8h0M3108 267h0M3217 217.8h0M3320.2 270.5h0M3135.3 193.2h0M3113.1 194h0M3257.6 115.3h0M3146.2 249.3h0M3201.3 231.8h0M3245.5 164.4h0M3331.4 156.7h0M3173.3 214.7h0M3234.1 276.6h0M3294.8 206.5h0M3266.5 153.2h0M3190.3 152.5h0M3171 109h0M3218.3 255.3h0M3222.8 326h0M3171.6 105.4h0M3190.1 221.9h0M3353.5 187.9h0M3172.6 127.9h0M3195.8 215.2h0M3272.9 241.4h0M3331.4 206.3h0M3276.7 85.7h0M3255.1 115.2h0M3394 199.2h0M3241.5 278.4h0M3281.1 157.4h0M3156.1 176h0M3251.1 120.7h0M3281.5 213.8h0M3246.4 270.6h0M3298.6 121.7h0M3110.3 288.4h0M3299.9 174h0M3275.9 243.9h0M3173.9 294.3h0M3196.7 152.7h0M3200.7 224.2h0M3365.8 232.3h0M3307.4 163.5h0M3152.6 198.5h0M3355.8 249.2h0M3126.6 213.6h0M3280.8 237.6h0M3245.2 283.6h0M3260.5 191.6h0M3284 162.1h0M3296.2 336.5h0M3275.5 234.6h0M3248 175.7h0M3253.8 308.7h0M3397.9 144.9h0M3332.7 288.5h0M3178.6 222.5h0M3290 281.2h0M3296.9 131.9h0M3239.1 239.4h0M3371.4 125.5h0M3241.6 147.3h0M3175.3 335.4h0M3123.6 273.2h0M3242.7 352.8h0M3291 194.6h0M3270.5 200.8h0M3194.6 246.9h0M3159 224.2h0M3127.2 223.5h0M3342.2 142.2h0M3298 285.2h0M3273.5 224.2h0M3311 179.6h0M3277.5 194.8h0M3062.5 310.8h0M3363.4 301.2h0M3203.6 249.1h0M3207.8 156.6h0M3377.9 201.3h0M3119.7 278.6h0M3171 128.4h0M3258.7 339.7h0M3276.2 235.4h0M3107.7 321.3h0M3337.7 91.1h0M3198.6 128.8h0M3203.3 194h0M3339.9 88.8h0M3319 305.5h0M3178.2 289.7h0M3271.3 162.2h0M3374.9 139.2h0M3173.1 270.8h0M3242.6 321.2h0M3095.4 363.7h0M3232.2 276.7h0M3153.6 200.1h0M3255.6 192h0M3294.3 189.1h0M3346.8 157.8h0M3380.1 140.4h0M3222.4 261.3h0M3261.9 309.8h0M3294.7 144.6h0M3196.3 326.2h0M3172.2 237.9h0M3199.2 188.4h0M3259 281.6h0M3287.7 134.8h0M3106.4 305.2h0M3306.5 222.4h0M3241 155h0M3206.9 238.8h0M3187.9 194.8h0M3114.4 256.7h0M3267.3 223.1h0M3193 227.8h0M3259.9 179.4h0M3297 159.3h0M3324.3 164.7h0M3263.7 204.4h0M3262.7 352.9h0M3295.4 359.7h0M3302 218.5h0M3363.2 196.5h0M3204.5 440.2h0M3299.1 199.9h0M3433.2 121.4h0M3176.4 326.8h0M3259.8 168.2h0M3230.9 135.2h0M3091.9 196.8h0M3385.6 192h0M3176.4 293.6h0M3248.2 190.8h0M3174.3 158.4h0M3098.6 221.5h0M3197.4 273.3h0M3432.7 228.9h0M3137.7 211.5h0M3200.2 287.5h0M3275.2 172.5h0M3326.3 137.1h0M3329 94.5h0M3138.1 306.9h0M3335.2 85.2h0M3333.4 420.7h0M3222.5 176.8h0M3258.7 220.5h0M3276.1 177.2h0M3274.9 137.5h0M3100.2 247.6h0M3102.8 275.2h0M3274.8 127.1h0M3268.8 110.9h0M3230.2 150.9h0M3198.1 155.1h0M3074.4 175.2h0M3257.4 212h0M3168.6 203.6h0M3208.2 208.8h0M3327.7 125.7h0M3195.9 276.1h0M3205.8 262.3h0M3213.3 162.8h0M3218.7 342.9h0M3250.9 212h0M3286.4 146.3h0M3220.8 258.5h0M3405.9 163.9h0M3212.1 247.4h0M3229.3 262.3h0M3338.2 119.9h0M3237.3 324.4h0M3305.6 154.7h0M3405.5 143h0M3381.6 153.1h0M3303.3 125.5h0M3306.9 323.2h0M3213.4 199.4h0M3257 159.4h0M3132.1 360h0M3288 169.9h0M3281.9 238.4h0M3267.7 309.1h0M3282.4 129.7h0M3251.8 158.7h0M3140 203.6h0M3217.7 305.6h0M3329.8 255.3h0M3394.3 104.2h0M3204.9 145.7h0M3301 251.9h0M3156.6 266.2h0M3274.4 337.2h0M3193.3 298.1h0M3161.6 305.7h0M3265.3 165.4h0M3160.6 249.5h0M3340.2 279.1h0M3327.9 241.5h0M3308.2 149.6h0M3351.4 160.8h0M3091.7 196.8h0M3297.6 355h0M3269.8 215.2h0M3136.1 271.5h0M3322.1 146.7h0M3322.6 112.9h0M3288.3 147.5h0M3263.3 200.8h0M3261.9 251.1h0M3310.9 310h0M3318.1 310.6h0M3316.2 220h0M3311.2 200.2h0M3355.8 117.2h0M3255.4 136.8h0M3217.6 247.8h0M3141.1 170.5h0M3348.3 113.1h0M3310.6 422.4h0M3172.8 327.4h0M3248.1 83.6h0M3228.1 282h0M3171.7 223.9h0M3335.9 159.6h0M3116.9 262.9h0M3187.2 286.5h0M3166.6 311.9h0M3305 213.1h0M3229.2 294.8h0M3269.5 243.6h0M3155.4 250.5h0M3246.9 240.2h0M3197.2 229.6h0M3166.1 220.9h0M3114 372.1h0M3190 272h0M3331 164.5h0M3239 158.8h0M3258.8 214.6h0M3236.9 222.2h0M3321.7 212.4h0M3351.3 222.8h0M3249.6 230.2h0M3366.8 182.3h0M3373.7 242.1h0M3157.1 341.4h0M3164.7 271.7h0M3142.2 192.6h0M3232 89.6h0M3415.9 119.5h0M3201.9 143.5h0M3310.8 118.1h0M3226.2 217.9h0M3273.7 356.4h0M3223.9 365.6h0M3316.6 213.3h0M3243.9 142.2h0M3281.5 168.6h0M3219.7 187.4h0M3171.8 299.3h0M3403 180.3h0M3398.4 141.3h0M3313.2 252.7h0M3266 158.1h0M3242.6 185.3h0M3321.9 242.6h0M3216.9 109.6h0M3304.4 209.5h0M3376.1 157.5h0M3149.6 282.7h0M3361 274h0M3281.9 202.3h0M3143.9 267.8h0M3253.7 191.3h0M3248.9 259.9h0M3288.3 299.5h0M3215.6 310.1h0M3256.2 251h0M3224.6 450.7h0M3263.2 130h0M3324.8 120.5h0M3320.9 86h0M3190.1 567.9h0M3162.9 194.7h0M3081.7 195.6h0M3394.2 163.8h0M3562 93h0M3034 458h0M3065 528h0M3163 566h0M3115 587h0M3164 490h0M3168 450h0M3229 460h0M3226 472h0" stroke="#0a0a0a" stroke-width="9.4" stroke-linecap="round" fill="none"/>
<path d="M3034 263.7L3052.2 258L3070.4 252.3L3088.6 246.6L3106.8 240.9L3125 235.1L3143.2 229.3L3161.4 223.5L3179.7 217.6L3197.9 211.6L3216.1 205.5L3234.3 199.2L3252.5 192.7L3270.7 185.8L3288.9 178.5L3307.1 170.8L3325.3 162.8L3343.5 154.6L3361.7 146.3L3379.9 137.9L3398.1 129.4L3416.3 120.9L3434.6 112.3L3452.8 103.7L3471 95.1L3489.2 86.4L3507.4 77.8L3525.6 69.1L3543.8 60.5L3562 51.8L3562 102.2L3543.8 107.9L3525.6 113.6L3507.4 119.2L3489.2 124.9L3471 130.7L3452.8 136.4L3434.6 142.1L3416.3 147.9L3398.1 153.7L3379.9 159.5L3361.7 165.5L3343.5 171.5L3325.3 177.7L3307.1 184L3288.9 190.7L3270.7 197.8L3252.5 205.2L3234.3 213L3216.1 221L3197.9 229.3L3179.7 237.6L3161.4 246.1L3143.2 254.6L3125 263.1L3106.8 271.7L3088.6 280.3L3070.4 289L3052.2 297.6L3034 306.3Z" fill="#e60012" fill-opacity="0.42"/>
<path d="M3034 285L3562 77" stroke="#e20a14" stroke-width="5" fill="none" />
<text x="3034" y="78" font-size="38.5" textLength="364" lengthAdjust="spacingAndGlyphs"><tspan font-style="italic">R</tspan> = 0.41  <tspan font-style="italic" dx="12">p</tspan> &lt; 2.2e−16</text>
<path d="M736 861.4L736 1399.6" stroke="#000" stroke-width="5.2" fill="none" />
<path d="M733.4 1397L1226 1397" stroke="#000" stroke-width="5.2" fill="none" />
<path d="M713 864L736 864" stroke="#000" stroke-width="5.2" fill="none" />
<text font-size="62" transform="translate(705 885.5) scale(1.03 1)" text-anchor="end">6 000</text>
<path d="M713 972L736 972" stroke="#000" stroke-width="5.2" fill="none" />
<text font-size="62" transform="translate(705 993.5) scale(1.03 1)" text-anchor="end">4 000</text>
<path d="M713 1079L736 1079" stroke="#000" stroke-width="5.2" fill="none" />
<text font-size="62" transform="translate(705 1100.5) scale(1.03 1)" text-anchor="end">2 000</text>
<path d="M713 1185L736 1185" stroke="#000" stroke-width="5.2" fill="none" />
<text font-size="62" transform="translate(705 1206.5) scale(1.03 1)" text-anchor="end">0</text>
<path d="M713 1290L736 1290" stroke="#000" stroke-width="5.2" fill="none" />
<text font-size="62" transform="translate(705 1311.5) scale(1.03 1)" text-anchor="end">-2 000</text>
<path d="M713 1397L736 1397" stroke="#000" stroke-width="5.2" fill="none" />
<text font-size="62" transform="translate(705 1418.5) scale(1.03 1)" text-anchor="end">-4 000</text>
<path d="M887 1397L887 1419" stroke="#000" stroke-width="5.2" fill="none" />
<text font-size="59.5" x="887" y="1474" text-anchor="middle">Low</text>
<path d="M1115 1397L1115 1419" stroke="#000" stroke-width="5.2" fill="none" />
<text font-size="59.5" x="1115" y="1474" text-anchor="middle">High</text>
<text font-size="60" x="1000" y="811" text-anchor="middle">BCS1L</text>
<text font-size="59.5" x="504" y="1118" transform="rotate(-90 504 1118)" text-anchor="middle">ESTIMATE score</text>
<path d="M880.5 969.5L1102 969.5" stroke="#000" stroke-width="8.6" fill="none" />
<text font-size="92" transform="translate(992 970.5) scale(1.1 1)" class="a" text-anchor="middle" font-weight="bold">***</text>
<path d="M890 997L890 1001L890 1005.1L890.1 1009.1L890.1 1013.1L890.2 1017.2L890.3 1021.2L890.4 1025.2L890.7 1029.3L891.8 1033.3L893.2 1037.3L894.4 1041.4L896 1045.4L897.5 1049.4L898 1053.5L897.7 1057.5L897 1061.5L896.1 1065.6L894.8 1069.6L893 1073.6L892 1077.7L892.9 1081.7L895.5 1085.7L898.8 1089.8L903.9 1093.8L910.4 1097.8L914.7 1101.9L918.2 1105.9L920.8 1109.9L922.2 1114L923.1 1118L923.8 1122L924 1126.1L923.6 1130.1L922.9 1134.1L922.5 1138.2L923.8 1142.2L926.4 1146.2L929.2 1150.3L931.7 1154.3L934.4 1158.3L937.2 1162.4L940.1 1166.4L943.1 1170.4L946.3 1174.5L949.6 1178.5L952.7 1182.6L955.8 1186.6L958.9 1190.6L960.8 1194.7L960.9 1198.7L960.4 1202.7L959.7 1206.8L958.8 1210.8L957.4 1214.8L955.5 1218.9L953.7 1222.9L952.5 1226.9L951.5 1231L950.7 1235L949.9 1239L949.2 1243.1L948.5 1247.1L947.9 1251.1L947.2 1255.2L946.2 1259.2L945 1263.2L943.4 1267.3L940.7 1271.3L936.6 1275.3L931.9 1279.4L927.5 1283.4L923.2 1287.4L918.8 1291.5L914.5 1295.5L910.3 1299.5L906.1 1303.6L902.3 1307.6L898.7 1311.6L895.3 1315.7L893.1 1319.7L892.1 1323.7L891.3 1327.8L890.7 1331.8L890.5 1335.8L890.3 1339.9L890.2 1343.9L890.1 1347.9L890 1352L890 1356L884 1356L884 1352L883.9 1347.9L883.8 1343.9L883.7 1339.9L883.5 1335.8L883.3 1331.8L882.7 1327.8L881.9 1323.7L880.9 1319.7L878.7 1315.7L875.3 1311.6L871.7 1307.6L867.9 1303.6L863.7 1299.5L859.5 1295.5L855.2 1291.5L850.8 1287.4L846.5 1283.4L842.1 1279.4L837.4 1275.3L833.3 1271.3L830.6 1267.3L829 1263.2L827.8 1259.2L826.8 1255.2L826.1 1251.1L825.5 1247.1L824.8 1243.1L824.1 1239L823.3 1235L822.5 1231L821.5 1226.9L820.3 1222.9L818.5 1218.9L816.6 1214.8L815.2 1210.8L814.3 1206.8L813.6 1202.7L813.1 1198.7L813.2 1194.7L815.1 1190.6L818.2 1186.6L821.3 1182.6L824.4 1178.5L827.7 1174.5L830.9 1170.4L833.9 1166.4L836.8 1162.4L839.6 1158.3L842.3 1154.3L844.8 1150.3L847.6 1146.2L850.2 1142.2L851.5 1138.2L851.1 1134.1L850.4 1130.1L850 1126.1L850.2 1122L850.9 1118L851.8 1114L853.2 1109.9L855.8 1105.9L859.3 1101.9L863.6 1097.8L870.1 1093.8L875.2 1089.8L878.5 1085.7L881.1 1081.7L882 1077.7L881 1073.6L879.2 1069.6L877.9 1065.6L877 1061.5L876.3 1057.5L876 1053.5L876.5 1049.4L878 1045.4L879.6 1041.4L880.8 1037.3L882.2 1033.3L883.3 1029.3L883.6 1025.2L883.7 1021.2L883.8 1017.2L883.9 1013.1L883.9 1009.1L884 1005.1L884 1001L884 997Z" fill="#08338f" stroke="#000" stroke-width="6.5" stroke-linejoin="round"/>
<path d="M819.5 1202H954.5" stroke="#1a1a1a" stroke-width="3" stroke-dasharray="8 5" fill="none"/>
<path d="M844.5 1160H929.5" stroke="#1a1a1a" stroke-width="2.2" stroke-dasharray="2.5 5" fill="none"/>
<path d="M830.8 1243H943.2" stroke="#1a1a1a" stroke-width="2.2" stroke-dasharray="2.5 5" fill="none"/>
<path d="M1118 1094L1118 1097L1118.2 1100L1118.3 1103L1118.6 1106L1118.9 1108.9L1119.4 1111.9L1120.6 1114.9L1122.1 1117.9L1123.4 1120.9L1124.5 1123.9L1125.7 1126.9L1126.9 1129.9L1128.2 1132.9L1129.5 1135.8L1130.9 1138.8L1132.4 1141.8L1134 1144.8L1135.7 1147.8L1137.6 1150.8L1139.5 1153.8L1141.5 1156.8L1143.4 1159.8L1145.3 1162.7L1147.4 1165.7L1149.8 1168.7L1152.7 1171.7L1156.2 1174.7L1159.9 1177.7L1163.5 1180.7L1166.9 1183.7L1170.4 1186.7L1173.8 1189.6L1176.3 1192.6L1177.7 1195.6L1178.8 1198.6L1179.7 1201.6L1180.4 1204.6L1180.9 1207.6L1181 1210.6L1181 1213.6L1181 1216.5L1181 1219.5L1181 1222.5L1181 1225.5L1181 1228.5L1181.1 1231.5L1181.2 1234.5L1181.4 1237.5L1181.7 1240.4L1181.9 1243.4L1182.3 1246.4L1182.8 1249.4L1183.5 1252.4L1184.1 1255.4L1184.7 1258.4L1185.2 1261.4L1185.7 1264.4L1186.3 1267.3L1186.7 1270.3L1187 1273.3L1187 1276.3L1186.5 1279.3L1185.9 1282.3L1185.1 1285.3L1184.3 1288.3L1183.8 1291.3L1183.5 1294.2L1183.2 1297.2L1182.8 1300.2L1182.4 1303.2L1181.6 1306.2L1179.8 1309.2L1177.2 1312.2L1174.1 1315.2L1170.8 1318.2L1167.1 1321.1L1162.7 1324.1L1158.3 1327.1L1154 1330.1L1149.7 1333.1L1145.5 1336.1L1141.6 1339.1L1137.8 1342.1L1134.2 1345.1L1131 1348L1128.1 1351L1125.6 1354L1123.2 1357L1121 1360L1109 1360L1106.8 1357L1104.4 1354L1101.9 1351L1099 1348L1095.8 1345.1L1092.2 1342.1L1088.4 1339.1L1084.5 1336.1L1080.3 1333.1L1076 1330.1L1071.7 1327.1L1067.3 1324.1L1062.9 1321.1L1059.2 1318.2L1055.9 1315.2L1052.8 1312.2L1050.2 1309.2L1048.4 1306.2L1047.6 1303.2L1047.2 1300.2L1046.8 1297.2L1046.5 1294.2L1046.2 1291.3L1045.7 1288.3L1044.9 1285.3L1044.1 1282.3L1043.5 1279.3L1043 1276.3L1043 1273.3L1043.3 1270.3L1043.7 1267.3L1044.3 1264.4L1044.8 1261.4L1045.3 1258.4L1045.9 1255.4L1046.5 1252.4L1047.2 1249.4L1047.7 1246.4L1048.1 1243.4L1048.3 1240.4L1048.6 1237.5L1048.8 1234.5L1048.9 1231.5L1049 1228.5L1049 1225.5L1049 1222.5L1049 1219.5L1049 1216.5L1049 1213.6L1049 1210.6L1049.1 1207.6L1049.6 1204.6L1050.3 1201.6L1051.2 1198.6L1052.3 1195.6L1053.7 1192.6L1056.2 1189.6L1059.6 1186.7L1063.1 1183.7L1066.5 1180.7L1070.1 1177.7L1073.8 1174.7L1077.3 1171.7L1080.2 1168.7L1082.6 1165.7L1084.7 1162.7L1086.6 1159.8L1088.5 1156.8L1090.5 1153.8L1092.4 1150.8L1094.3 1147.8L1096 1144.8L1097.6 1141.8L1099.1 1138.8L1100.5 1135.8L1101.8 1132.9L1103.1 1129.9L1104.3 1126.9L1105.5 1123.9L1106.6 1120.9L1107.9 1117.9L1109.4 1114.9L1110.6 1111.9L1111.1 1108.9L1111.4 1106L1111.7 1103L1111.8 1100L1112 1097L1112 1094Z" fill="#e60026" stroke="#000" stroke-width="6.5" stroke-linejoin="round"/>
<path d="M1053.2 1249H1176.8" stroke="#1a1a1a" stroke-width="3" stroke-dasharray="8 5" fill="none"/>
<path d="M1055.5 1205H1174.5" stroke="#1a1a1a" stroke-width="2.2" stroke-dasharray="2.5 5" fill="none"/>
<path d="M1052.3 1292H1177.7" stroke="#1a1a1a" stroke-width="2.2" stroke-dasharray="2.5 5" fill="none"/>
<path d="M1521 848.4L1521 1385.6" stroke="#000" stroke-width="5.2" fill="none" />
<path d="M1518.4 1383L2010 1383" stroke="#000" stroke-width="5.2" fill="none" />
<path d="M1498 851L1521 851" stroke="#000" stroke-width="5.2" fill="none" />
<text font-size="59.5" transform="translate(1493 871.6) scale(1.03 1)" text-anchor="end">4 000</text>
<path d="M1498 1028L1521 1028" stroke="#000" stroke-width="5.2" fill="none" />
<text font-size="59.5" transform="translate(1493 1048.6) scale(1.03 1)" text-anchor="end">2 000</text>
<path d="M1498 1206L1521 1206" stroke="#000" stroke-width="5.2" fill="none" />
<text font-size="59.5" transform="translate(1493 1226.6) scale(1.03 1)" text-anchor="end">0</text>
<path d="M1498 1383L1521 1383" stroke="#000" stroke-width="5.2" fill="none" />
<text font-size="59.5" transform="translate(1493 1403.6) scale(1.03 1)" text-anchor="end">-2 000</text>
<path d="M1673 1383L1673 1405" stroke="#000" stroke-width="5.2" fill="none" />
<text font-size="59.5" x="1673" y="1461" text-anchor="middle">Low</text>
<path d="M1901 1383L1901 1405" stroke="#000" stroke-width="5.2" fill="none" />
<text font-size="59.5" x="1901" y="1461" text-anchor="middle">High</text>
<text font-size="60" x="1786" y="799.5" text-anchor="middle">BCS1L</text>
<text font-size="58.5" x="1317" y="1106" transform="rotate(-90 1317 1106)" text-anchor="middle">Immune score</text>
<path d="M1668.5 952.5L1891.5 952.5" stroke="#000" stroke-width="8.6" fill="none" />
<text font-size="92" transform="translate(1780.5 953.5) scale(1.1 1)" class="a" text-anchor="middle" font-weight="bold">***</text>
<path d="M1675.5 989L1675.5 992.6L1675.5 996.1L1675.5 999.7L1675.6 1003.3L1675.6 1006.9L1675.6 1010.4L1675.7 1014L1675.8 1017.6L1675.8 1021.2L1675.9 1024.7L1676 1028.3L1676 1031.9L1676.2 1035.4L1676.3 1039L1676.6 1042.6L1676.8 1046.2L1677.2 1049.7L1677.5 1053.3L1678.2 1056.9L1679.2 1060.5L1680.4 1064L1681.5 1067.6L1682.7 1071.2L1684 1074.8L1685.4 1078.3L1686.7 1081.9L1688.2 1085.5L1689.6 1089L1690.9 1092.6L1691.9 1096.2L1692.8 1099.8L1693.6 1103.3L1694.4 1106.9L1695.1 1110.5L1695.7 1114.1L1696.3 1117.6L1696.9 1121.2L1697.4 1124.8L1698.1 1128.3L1698.7 1131.9L1699.3 1135.5L1700 1139.1L1700.9 1142.6L1702.4 1146.2L1704.8 1149.8L1707.3 1153.4L1709.5 1156.9L1711.6 1160.5L1713.5 1164.1L1715.4 1167.7L1716.9 1171.2L1718.2 1174.8L1719.4 1178.4L1720.9 1181.9L1723.1 1185.5L1726.9 1189.1L1731.4 1192.7L1736 1196.2L1741.5 1199.8L1745.5 1203.4L1745.7 1207L1744.3 1210.5L1742.1 1214.1L1740 1217.7L1737.4 1221.2L1734.5 1224.8L1731.5 1228.4L1728.6 1232L1725.5 1235.5L1722.4 1239.1L1719.2 1242.7L1715.8 1246.3L1712.2 1249.8L1708.5 1253.4L1705 1257L1701.8 1260.6L1698.7 1264.1L1695.6 1267.7L1692.3 1271.3L1688.9 1274.8L1685.4 1278.4L1682.1 1282L1678.7 1285.6L1677.3 1289.1L1676.8 1292.7L1676.5 1296.3L1676.3 1299.9L1676.1 1303.4L1676 1307L1670 1307L1669.9 1303.4L1669.7 1299.9L1669.5 1296.3L1669.2 1292.7L1668.7 1289.1L1667.3 1285.6L1663.9 1282L1660.6 1278.4L1657.1 1274.8L1653.7 1271.3L1650.4 1267.7L1647.3 1264.1L1644.2 1260.6L1641 1257L1637.5 1253.4L1633.8 1249.8L1630.2 1246.3L1626.8 1242.7L1623.6 1239.1L1620.5 1235.5L1617.4 1232L1614.5 1228.4L1611.5 1224.8L1608.6 1221.2L1606 1217.7L1603.9 1214.1L1601.7 1210.5L1600.3 1207L1600.5 1203.4L1604.5 1199.8L1610 1196.2L1614.6 1192.7L1619.1 1189.1L1622.9 1185.5L1625.1 1181.9L1626.6 1178.4L1627.8 1174.8L1629.1 1171.2L1630.6 1167.7L1632.5 1164.1L1634.4 1160.5L1636.5 1156.9L1638.7 1153.4L1641.2 1149.8L1643.6 1146.2L1645.1 1142.6L1646 1139.1L1646.7 1135.5L1647.3 1131.9L1647.9 1128.3L1648.6 1124.8L1649.1 1121.2L1649.7 1117.6L1650.3 1114.1L1650.9 1110.5L1651.6 1106.9L1652.4 1103.3L1653.2 1099.8L1654.1 1096.2L1655.1 1092.6L1656.4 1089L1657.8 1085.5L1659.3 1081.9L1660.6 1078.3L1662 1074.8L1663.3 1071.2L1664.5 1067.6L1665.6 1064L1666.8 1060.5L1667.8 1056.9L1668.5 1053.3L1668.8 1049.7L1669.2 1046.2L1669.4 1042.6L1669.7 1039L1669.8 1035.4L1670 1031.9L1670 1028.3L1670.1 1024.7L1670.2 1021.2L1670.2 1017.6L1670.3 1014L1670.4 1010.4L1670.4 1006.9L1670.4 1003.3L1670.5 999.7L1670.5 996.1L1670.5 992.6L1670.5 989Z" fill="#08338f" stroke="#000" stroke-width="6.5" stroke-linejoin="round"/>
<path d="M1610.2 1200H1735.8" stroke="#1a1a1a" stroke-width="3" stroke-dasharray="8 5" fill="none"/>
<path d="M1639.8 1161.6H1706.2" stroke="#1a1a1a" stroke-width="2.2" stroke-dasharray="2.5 5" fill="none"/>
<path d="M1621 1229H1725" stroke="#1a1a1a" stroke-width="2.2" stroke-dasharray="2.5 5" fill="none"/>
<path d="M1904 1077L1904 1079.8L1904.1 1082.6L1904.2 1085.4L1904.4 1088.2L1904.6 1091L1904.9 1093.8L1905.3 1096.6L1906.2 1099.4L1907.4 1102.2L1908.5 1105L1909.5 1107.8L1910.6 1110.6L1911.5 1113.4L1912.3 1116.2L1913 1119L1913.5 1121.8L1913.7 1124.6L1913.8 1127.4L1913.8 1130.2L1913.9 1133L1914 1135.8L1914.2 1138.6L1914.3 1141.3L1914.5 1144.1L1914.8 1146.9L1915.4 1149.7L1917.8 1152.5L1921.3 1155.3L1925.2 1158.1L1929.8 1160.9L1935.3 1163.7L1940.6 1166.5L1945 1169.3L1949.2 1172.1L1952.9 1174.9L1955.7 1177.7L1957.2 1180.5L1958.2 1183.3L1959 1186.1L1959.7 1188.9L1960.3 1191.7L1960.9 1194.5L1961.5 1197.3L1962.2 1200.1L1962.7 1202.9L1963.1 1205.7L1963.3 1208.5L1963.5 1211.3L1963.7 1214.1L1963.9 1216.9L1964 1219.7L1964.2 1222.5L1964.4 1225.3L1964.6 1228.1L1964.9 1230.9L1965.2 1233.7L1965.8 1236.5L1966.6 1239.3L1967.4 1242.1L1968.3 1244.9L1969.2 1247.7L1970.2 1250.5L1971.2 1253.3L1972 1256.1L1972.9 1258.9L1973.7 1261.7L1974 1264.4L1972.9 1267.2L1970 1270L1966.5 1272.8L1962.7 1275.6L1957.9 1278.4L1952.5 1281.2L1947.5 1284L1943.4 1286.8L1939.7 1289.6L1936.2 1292.4L1932.9 1295.2L1929.9 1298L1927.2 1300.8L1924.6 1303.6L1922.2 1306.4L1919.7 1309.2L1917.2 1312L1914.6 1314.8L1912.1 1317.6L1909.9 1320.4L1907.9 1323.2L1906 1326L1896 1326L1894.1 1323.2L1892.1 1320.4L1889.9 1317.6L1887.4 1314.8L1884.8 1312L1882.3 1309.2L1879.8 1306.4L1877.4 1303.6L1874.8 1300.8L1872.1 1298L1869.1 1295.2L1865.8 1292.4L1862.3 1289.6L1858.6 1286.8L1854.5 1284L1849.5 1281.2L1844.1 1278.4L1839.3 1275.6L1835.5 1272.8L1832 1270L1829.1 1267.2L1828 1264.4L1828.3 1261.7L1829.1 1258.9L1830 1256.1L1830.8 1253.3L1831.8 1250.5L1832.8 1247.7L1833.7 1244.9L1834.6 1242.1L1835.4 1239.3L1836.2 1236.5L1836.8 1233.7L1837.1 1230.9L1837.4 1228.1L1837.6 1225.3L1837.8 1222.5L1838 1219.7L1838.1 1216.9L1838.3 1214.1L1838.5 1211.3L1838.7 1208.5L1838.9 1205.7L1839.3 1202.9L1839.8 1200.1L1840.5 1197.3L1841.1 1194.5L1841.7 1191.7L1842.3 1188.9L1843 1186.1L1843.8 1183.3L1844.8 1180.5L1846.3 1177.7L1849.1 1174.9L1852.8 1172.1L1857 1169.3L1861.4 1166.5L1866.7 1163.7L1872.2 1160.9L1876.8 1158.1L1880.7 1155.3L1884.2 1152.5L1886.6 1149.7L1887.2 1146.9L1887.5 1144.1L1887.7 1141.3L1887.8 1138.6L1888 1135.8L1888.1 1133L1888.2 1130.2L1888.2 1127.4L1888.3 1124.6L1888.5 1121.8L1889 1119L1889.7 1116.2L1890.5 1113.4L1891.4 1110.6L1892.5 1107.8L1893.5 1105L1894.6 1102.2L1895.8 1099.4L1896.7 1096.6L1897.1 1093.8L1897.4 1091L1897.6 1088.2L1897.8 1085.4L1897.9 1082.6L1898 1079.8L1898 1077Z" fill="#e60026" stroke="#000" stroke-width="6.5" stroke-linejoin="round"/>
<path d="M1842.9 1233H1959.1" stroke="#1a1a1a" stroke-width="3" stroke-dasharray="8 5" fill="none"/>
<path d="M1847.2 1194H1954.8" stroke="#1a1a1a" stroke-width="2.2" stroke-dasharray="2.5 5" fill="none"/>
<path d="M1834 1264.5H1968" stroke="#1a1a1a" stroke-width="2.2" stroke-dasharray="2.5 5" fill="none"/>
<path d="M2305.4 856.4L2305.4 1392.1" stroke="#000" stroke-width="5.2" fill="none" />
<path d="M2302.8 1389.5L2776 1389.5" stroke="#000" stroke-width="5.2" fill="none" />
<path d="M2282.4 859L2305.4 859" stroke="#000" stroke-width="5.2" fill="none" />
<text font-size="60" transform="translate(2277.9 879.8) scale(1.03 1)" text-anchor="end">4 000</text>
<path d="M2282.4 1010.8L2305.4 1010.8" stroke="#000" stroke-width="5.2" fill="none" />
<text font-size="60" transform="translate(2277.9 1031.6) scale(1.03 1)" text-anchor="end">2 000</text>
<path d="M2282.4 1162.6L2305.4 1162.6" stroke="#000" stroke-width="5.2" fill="none" />
<text font-size="60" transform="translate(2277.9 1183.4) scale(1.03 1)" text-anchor="end">0</text>
<path d="M2282.4 1313.9L2305.4 1313.9" stroke="#000" stroke-width="5.2" fill="none" />
<text font-size="60" transform="translate(2277.9 1334.7) scale(1.03 1)" text-anchor="end">-2 000</text>
<path d="M2457 1389.5L2457 1411.5" stroke="#000" stroke-width="5.2" fill="none" />
<text font-size="59.5" x="2457" y="1469.7" text-anchor="middle">Low</text>
<path d="M2685.5 1389.5L2685.5 1411.5" stroke="#000" stroke-width="5.2" fill="none" />
<text font-size="59.5" x="2685.5" y="1469.7" text-anchor="middle">High</text>
<text font-size="60" x="2570.7" y="806.6" text-anchor="middle">BCS1L</text>
<text font-size="59.5" x="2101" y="1110.6" transform="rotate(-90 2101 1110.6)" text-anchor="middle">Stromal score</text>
<path d="M2453.2 1002.5L2675.6 1002.5" stroke="#000" stroke-width="8.6" fill="none" />
<text font-size="92" transform="translate(2564.6 1003.5) scale(1.1 1)" class="a" text-anchor="middle" font-weight="bold">***</text>
<path d="M2460 1038.5L2460.1 1041.7L2460.4 1045L2460.9 1048.2L2461.4 1051.5L2462 1054.7L2462.7 1058L2463.8 1061.2L2465 1064.5L2466.2 1067.7L2467.3 1071L2468.4 1074.2L2469.6 1077.5L2470.5 1080.7L2471.2 1084L2471.6 1087.2L2472 1090.5L2472.3 1093.7L2472.6 1096.9L2473 1100.2L2473.4 1103.4L2473.8 1106.7L2474.3 1109.9L2474.8 1113.2L2475.6 1116.4L2476.8 1119.7L2479.4 1122.9L2483 1126.2L2486.7 1129.4L2491.3 1132.7L2496 1135.9L2499.9 1139.2L2503.1 1142.4L2506 1145.7L2508.7 1148.9L2511.2 1152.2L2513.6 1155.4L2516.1 1158.6L2519.2 1161.9L2522.4 1165.1L2525.2 1168.4L2528.3 1171.6L2530.4 1174.9L2530.1 1178.1L2528.1 1181.4L2525.8 1184.6L2524.1 1187.9L2522.4 1191.1L2521 1194.4L2520.1 1197.6L2520 1200.9L2520 1204.1L2520 1207.4L2520.1 1210.6L2520.5 1213.8L2520.9 1217.1L2520.9 1220.3L2519.7 1223.6L2517.7 1226.8L2515.3 1230.1L2513.1 1233.3L2510.4 1236.6L2507.4 1239.8L2504.4 1243.1L2501.7 1246.3L2499 1249.6L2496.3 1252.8L2493.7 1256.1L2491.2 1259.3L2488.7 1262.6L2486.3 1265.8L2483.8 1269.1L2481.3 1272.3L2478.8 1275.5L2476.3 1278.8L2474 1282L2471.8 1285.3L2469.6 1288.5L2467.7 1291.8L2466 1295L2464.4 1298.3L2462.9 1301.5L2461.7 1304.8L2461 1308L2460.6 1311.3L2460.2 1314.5L2459.9 1317.8L2459.7 1321L2459.6 1324.3L2459.5 1327.5L2454.5 1327.5L2454.4 1324.3L2454.3 1321L2454.1 1317.8L2453.8 1314.5L2453.4 1311.3L2453 1308L2452.3 1304.8L2451.1 1301.5L2449.6 1298.3L2448 1295L2446.3 1291.8L2444.4 1288.5L2442.2 1285.3L2440 1282L2437.7 1278.8L2435.2 1275.5L2432.7 1272.3L2430.2 1269.1L2427.7 1265.8L2425.3 1262.6L2422.8 1259.3L2420.3 1256.1L2417.7 1252.8L2415 1249.6L2412.3 1246.3L2409.6 1243.1L2406.6 1239.8L2403.6 1236.6L2400.9 1233.3L2398.7 1230.1L2396.3 1226.8L2394.3 1223.6L2393.1 1220.3L2393.1 1217.1L2393.5 1213.8L2393.9 1210.6L2394 1207.4L2394 1204.1L2394 1200.9L2393.9 1197.6L2393 1194.4L2391.6 1191.1L2389.9 1187.9L2388.2 1184.6L2385.9 1181.4L2383.9 1178.1L2383.6 1174.9L2385.7 1171.6L2388.8 1168.4L2391.6 1165.1L2394.8 1161.9L2397.9 1158.6L2400.4 1155.4L2402.8 1152.2L2405.3 1148.9L2408 1145.7L2410.9 1142.4L2414.1 1139.2L2418 1135.9L2422.7 1132.7L2427.3 1129.4L2431 1126.2L2434.6 1122.9L2437.2 1119.7L2438.4 1116.4L2439.2 1113.2L2439.7 1109.9L2440.2 1106.7L2440.6 1103.4L2441 1100.2L2441.4 1096.9L2441.7 1093.7L2442 1090.5L2442.4 1087.2L2442.8 1084L2443.5 1080.7L2444.4 1077.5L2445.6 1074.2L2446.7 1071L2447.8 1067.7L2449 1064.5L2450.2 1061.2L2451.3 1058L2452 1054.7L2452.6 1051.5L2453.1 1048.2L2453.6 1045L2453.9 1041.7L2454 1038.5Z" fill="#08338f" stroke="#000" stroke-width="6.5" stroke-linejoin="round"/>
<path d="M2399.6 1196H2514.4" stroke="#1a1a1a" stroke-width="3" stroke-dasharray="8 5" fill="none"/>
<path d="M2404 1158.5H2510" stroke="#1a1a1a" stroke-width="2.2" stroke-dasharray="2.5 5" fill="none"/>
<path d="M2405.1 1230.7H2508.9" stroke="#1a1a1a" stroke-width="2.2" stroke-dasharray="2.5 5" fill="none"/>
<path d="M2688.5 1117L2689 1119.4L2689.6 1121.9L2690.2 1124.3L2691 1126.8L2691.7 1129.2L2692.6 1131.7L2693.6 1134.1L2694.6 1136.6L2695.8 1139L2697 1141.5L2698.4 1143.9L2700 1146.4L2701.8 1148.8L2703.7 1151.3L2705.7 1153.7L2707.7 1156.2L2709.7 1158.6L2711.9 1161.1L2714.1 1163.5L2716.2 1166L2718.2 1168.4L2719.9 1170.9L2721.6 1173.3L2723.2 1175.8L2724.7 1178.2L2726.3 1180.7L2727.8 1183.1L2729.2 1185.6L2730.6 1188L2732.1 1190.5L2733.8 1192.9L2735.7 1195.4L2738 1197.8L2740.4 1200.3L2743 1202.7L2745.6 1205.2L2748.2 1207.6L2751.1 1210.1L2754.3 1212.5L2757.2 1215L2759 1217.4L2759.3 1219.9L2757.8 1222.3L2755.5 1224.8L2752.9 1227.2L2751.1 1229.7L2749.4 1232.1L2747.9 1234.6L2746.6 1237L2745.9 1239.5L2745.4 1241.9L2745 1244.4L2744.7 1246.8L2744.4 1249.3L2744.2 1251.7L2744 1254.2L2743.9 1256.6L2743.8 1259.1L2743.8 1261.5L2743.7 1264L2743.7 1266.4L2743.5 1268.9L2742.8 1271.3L2740.3 1273.8L2736.8 1276.2L2733.2 1278.7L2730.1 1281.1L2726.5 1283.6L2723 1286L2720.3 1288.5L2719 1290.9L2718.2 1293.4L2717.6 1295.8L2717 1298.3L2716.3 1300.7L2715.6 1303.2L2714.9 1305.6L2714.1 1308.1L2712.9 1310.5L2710.9 1313L2708.3 1315.4L2705.6 1317.9L2703.1 1320.3L2700.4 1322.8L2697.9 1325.2L2695.5 1327.7L2693.3 1330.1L2691.3 1332.6L2689.5 1335L2681.5 1335L2679.7 1332.6L2677.7 1330.1L2675.5 1327.7L2673.1 1325.2L2670.6 1322.8L2667.9 1320.3L2665.4 1317.9L2662.7 1315.4L2660.1 1313L2658.1 1310.5L2656.9 1308.1L2656.1 1305.6L2655.4 1303.2L2654.7 1300.7L2654 1298.3L2653.4 1295.8L2652.8 1293.4L2652 1290.9L2650.7 1288.5L2648 1286L2644.5 1283.6L2640.9 1281.1L2637.8 1278.7L2634.2 1276.2L2630.7 1273.8L2628.2 1271.3L2627.5 1268.9L2627.3 1266.4L2627.3 1264L2627.2 1261.5L2627.2 1259.1L2627.1 1256.6L2627 1254.2L2626.8 1251.7L2626.6 1249.3L2626.3 1246.8L2626 1244.4L2625.6 1241.9L2625.1 1239.5L2624.4 1237L2623.1 1234.6L2621.6 1232.1L2619.9 1229.7L2618.1 1227.2L2615.5 1224.8L2613.2 1222.3L2611.7 1219.9L2612 1217.4L2613.8 1215L2616.7 1212.5L2619.9 1210.1L2622.8 1207.6L2625.4 1205.2L2628 1202.7L2630.6 1200.3L2633 1197.8L2635.3 1195.4L2637.2 1192.9L2638.9 1190.5L2640.4 1188L2641.8 1185.6L2643.2 1183.1L2644.7 1180.7L2646.3 1178.2L2647.8 1175.8L2649.4 1173.3L2651.1 1170.9L2652.8 1168.4L2654.8 1166L2656.9 1163.5L2659.1 1161.1L2661.3 1158.6L2663.3 1156.2L2665.3 1153.7L2667.3 1151.3L2669.2 1148.8L2671 1146.4L2672.6 1143.9L2674 1141.5L2675.2 1139L2676.4 1136.6L2677.4 1134.1L2678.4 1131.7L2679.3 1129.2L2680 1126.8L2680.8 1124.3L2681.4 1121.9L2682 1119.4L2682.5 1117Z" fill="#e60026" stroke="#000" stroke-width="6.5" stroke-linejoin="round"/>
<path d="M2627.3 1231.7H2743.7" stroke="#1a1a1a" stroke-width="3" stroke-dasharray="8 5" fill="none"/>
<path d="M2633.7 1203H2737.3" stroke="#1a1a1a" stroke-width="2.2" stroke-dasharray="2.5 5" fill="none"/>
<path d="M2633.4 1268.5H2737.6" stroke="#1a1a1a" stroke-width="2.2" stroke-dasharray="2.5 5" fill="none"/>
<path d="M3007 846.8L3007 1386.6" stroke="#000" stroke-width="5.2" fill="none" />
<path d="M3004.4 1384L3542.5 1384" stroke="#000" stroke-width="5.2" fill="none" />
<path d="M2984 849.4L3007 849.4" stroke="#000" stroke-width="5.2" fill="none" />
<text font-size="62" transform="translate(2980 870.9) scale(1.03 1)" text-anchor="end">1.5</text>
<path d="M2984 1028.5L3007 1028.5" stroke="#000" stroke-width="5.2" fill="none" />
<text font-size="62" transform="translate(2980 1050) scale(1.03 1)" text-anchor="end">1.0</text>
<path d="M2984 1206.5L3007 1206.5" stroke="#000" stroke-width="5.2" fill="none" />
<text font-size="62" transform="translate(2980 1228) scale(1.03 1)" text-anchor="end">0.5</text>
<path d="M2984 1384L3007 1384" stroke="#000" stroke-width="5.2" fill="none" />
<text font-size="62" transform="translate(2980 1405.5) scale(1.03 1)" text-anchor="end">0.0</text>
<path d="M3159.7 1384L3159.7 1406" stroke="#000" stroke-width="5.2" fill="none" />
<text font-size="59.5" x="3159.7" y="1462" text-anchor="middle">Low</text>
<path d="M3387.7 1384L3387.7 1406" stroke="#000" stroke-width="5.2" fill="none" />
<text font-size="59.5" x="3387.7" y="1462" text-anchor="middle">High</text>
<text font-size="60" x="3273" y="798" text-anchor="middle">BCS1L</text>
<text font-size="59.5" x="2873" y="1105.6" transform="rotate(-90 2873 1105.6)" text-anchor="middle">Tumor purity</text>
<path d="M3143.1 981.5L3366.5 981.5" stroke="#000" stroke-width="8.6" fill="none" />
<text font-size="65" transform="translate(3255 982.1) scale(1.1 1)" class="a" text-anchor="middle" font-weight="bold">***</text>
<path d="M3167.7 1031.5L3170 1033.7L3174.8 1036L3181.2 1038.2L3192.2 1040.5L3203.2 1042.7L3214.4 1045L3222.9 1047.2L3227 1049.5L3229.7 1051.7L3231.3 1054L3232.4 1056.2L3232.8 1058.5L3233 1060.7L3233.2 1063L3233.3 1065.2L3233.3 1067.5L3233.3 1069.7L3233.2 1072L3233 1074.2L3232.8 1076.5L3232.5 1078.7L3232.1 1081L3231.6 1083.2L3229.4 1085.5L3226.1 1087.7L3222.6 1090L3218.9 1092.2L3215.5 1094.5L3212.2 1096.7L3209 1099L3206 1101.2L3203.1 1103.5L3200.6 1105.7L3198.2 1108L3195.8 1110.2L3193.2 1112.5L3189.7 1114.7L3186 1117L3183.5 1119.2L3181.6 1121.5L3181.2 1123.7L3183 1126L3185.2 1128.2L3186.6 1130.5L3187.8 1132.7L3188.6 1135L3188.4 1137.2L3186.4 1139.5L3184 1141.7L3181.6 1144L3178.9 1146.2L3176.1 1148.5L3173.4 1150.7L3170.7 1153L3168.5 1155.2L3166.5 1157.5L3165 1159.7L3164.7 1162L3164.8 1164.2L3164.9 1166.5L3165.1 1168.7L3165.3 1171L3165.9 1173.2L3166.6 1175.5L3167.2 1177.7L3167.6 1180L3167.6 1182.2L3167.3 1184.5L3166.7 1186.7L3166 1189L3165.3 1191.2L3164.4 1193.5L3163.5 1195.7L3162.8 1198L3162.7 1200.2L3162.6 1202.5L3162.5 1204.7L3162.5 1207L3162.4 1209.2L3162.4 1211.5L3162.3 1213.7L3162.3 1216L3162.3 1218.2L3162.2 1220.5L3162.2 1222.7L3162.2 1225L3162.2 1227.2L3162.2 1229.5L3162.2 1231.7L3157.2 1231.7L3157.2 1229.5L3157.2 1227.2L3157.2 1225L3157.2 1222.7L3157.2 1220.5L3157.1 1218.2L3157.1 1216L3157.1 1213.7L3157 1211.5L3157 1209.2L3156.9 1207L3156.9 1204.7L3156.8 1202.5L3156.7 1200.2L3156.6 1198L3155.9 1195.7L3155 1193.5L3154.1 1191.2L3153.4 1189L3152.7 1186.7L3152.1 1184.5L3151.8 1182.2L3151.8 1180L3152.2 1177.7L3152.8 1175.5L3153.5 1173.2L3154.1 1171L3154.3 1168.7L3154.5 1166.5L3154.6 1164.2L3154.7 1162L3154.4 1159.7L3152.9 1157.5L3150.9 1155.2L3148.7 1153L3146 1150.7L3143.3 1148.5L3140.5 1146.2L3137.8 1144L3135.4 1141.7L3133 1139.5L3131 1137.2L3130.8 1135L3131.6 1132.7L3132.8 1130.5L3134.2 1128.2L3136.4 1126L3138.2 1123.7L3137.8 1121.5L3135.9 1119.2L3133.4 1117L3129.7 1114.7L3126.2 1112.5L3123.6 1110.2L3121.2 1108L3118.8 1105.7L3116.3 1103.5L3113.4 1101.2L3110.4 1099L3107.2 1096.7L3103.9 1094.5L3100.5 1092.2L3096.8 1090L3093.3 1087.7L3090 1085.5L3087.8 1083.2L3087.3 1081L3086.9 1078.7L3086.6 1076.5L3086.4 1074.2L3086.2 1072L3086.1 1069.7L3086.1 1067.5L3086.1 1065.2L3086.2 1063L3086.4 1060.7L3086.6 1058.5L3087 1056.2L3088.1 1054L3089.7 1051.7L3092.4 1049.5L3096.5 1047.2L3105 1045L3116.2 1042.7L3127.2 1040.5L3138.2 1038.2L3144.6 1036L3149.4 1033.7L3151.7 1031.5Z" fill="#08338f" stroke="#000" stroke-width="6.5" stroke-linejoin="round"/>
<path d="M3093.7 1083H3225.7" stroke="#1a1a1a" stroke-width="3" stroke-dasharray="8 5" fill="none"/>
<path d="M3092.3 1062.7H3227.1" stroke="#1a1a1a" stroke-width="2.2" stroke-dasharray="2.5 5" fill="none"/>
<path d="M3126.2 1107H3193.2" stroke="#1a1a1a" stroke-width="2.2" stroke-dasharray="2.5 5" fill="none"/>
<path d="M3427.7 1031.5L3437.5 1032.8L3444.3 1034.2L3448.4 1035.5L3451.4 1036.8L3453.8 1038.1L3456.1 1039.5L3458.1 1040.8L3459.7 1042.1L3460.6 1043.4L3460.5 1044.8L3459.5 1046.1L3458.2 1047.4L3457.1 1048.7L3455.9 1050.1L3454.6 1051.4L3453.3 1052.7L3451.9 1054L3450.4 1055.4L3448.8 1056.7L3447.2 1058L3445.6 1059.3L3444.1 1060.7L3442.7 1062L3441.4 1063.3L3440.1 1064.6L3438.9 1066L3437.7 1067.3L3436.6 1068.6L3435.4 1069.9L3434.3 1071.3L3433.3 1072.6L3432.2 1073.9L3431.2 1075.3L3430.1 1076.6L3429.2 1077.9L3428.2 1079.2L3427.3 1080.6L3426.4 1081.9L3425.6 1083.2L3424.8 1084.5L3424.2 1085.9L3423.6 1087.2L3423 1088.5L3422.4 1089.8L3421.7 1091.2L3420.9 1092.5L3419.8 1093.8L3418.5 1095.1L3417 1096.5L3415.4 1097.8L3413.8 1099.1L3412.2 1100.4L3410.5 1101.8L3408.7 1103.1L3406.9 1104.4L3405.1 1105.7L3403.6 1107.1L3402.3 1108.4L3401.2 1109.7L3400.1 1111.1L3399.2 1112.4L3398.3 1113.7L3397.7 1115L3397.2 1116.4L3396.8 1117.7L3396.4 1119L3396.1 1120.3L3395.7 1121.7L3395.3 1123L3394.7 1124.3L3394 1125.6L3393.3 1127L3392.5 1128.3L3391.9 1129.6L3391.4 1130.9L3391.2 1132.3L3391 1133.6L3390.9 1134.9L3390.8 1136.2L3390.7 1137.6L3390.6 1138.9L3390.5 1140.2L3390.4 1141.5L3390.3 1142.9L3390.3 1144.2L3390.3 1145.5L3390.2 1146.8L3390.2 1148.2L3390.2 1149.5L3385.2 1149.5L3385.2 1148.2L3385.2 1146.8L3385.1 1145.5L3385.1 1144.2L3385.1 1142.9L3385 1141.5L3384.9 1140.2L3384.8 1138.9L3384.7 1137.6L3384.6 1136.2L3384.5 1134.9L3384.4 1133.6L3384.2 1132.3L3384 1130.9L3383.5 1129.6L3382.9 1128.3L3382.1 1127L3381.4 1125.6L3380.7 1124.3L3380.1 1123L3379.7 1121.7L3379.3 1120.3L3379 1119L3378.6 1117.7L3378.2 1116.4L3377.7 1115L3377.1 1113.7L3376.2 1112.4L3375.3 1111.1L3374.2 1109.7L3373.1 1108.4L3371.8 1107.1L3370.3 1105.7L3368.5 1104.4L3366.7 1103.1L3364.9 1101.8L3363.2 1100.4L3361.6 1099.1L3360 1097.8L3358.4 1096.5L3356.9 1095.1L3355.6 1093.8L3354.5 1092.5L3353.7 1091.2L3353 1089.8L3352.4 1088.5L3351.8 1087.2L3351.2 1085.9L3350.6 1084.5L3349.8 1083.2L3349 1081.9L3348.1 1080.6L3347.2 1079.2L3346.2 1077.9L3345.3 1076.6L3344.2 1075.3L3343.2 1073.9L3342.1 1072.6L3341.1 1071.3L3340 1069.9L3338.8 1068.6L3337.7 1067.3L3336.5 1066L3335.3 1064.6L3334 1063.3L3332.7 1062L3331.3 1060.7L3329.8 1059.3L3328.2 1058L3326.6 1056.7L3325 1055.4L3323.5 1054L3322.1 1052.7L3320.8 1051.4L3319.5 1050.1L3318.3 1048.7L3317.2 1047.4L3315.9 1046.1L3314.9 1044.8L3314.8 1043.4L3315.7 1042.1L3317.3 1040.8L3319.3 1039.5L3321.6 1038.1L3324 1036.8L3327 1035.5L3331.1 1034.2L3337.9 1032.8L3347.7 1031.5Z" fill="#e60026" stroke="#000" stroke-width="6.5" stroke-linejoin="round"/>
<path d="M3336.5 1060H3438.9" stroke="#1a1a1a" stroke-width="3" stroke-dasharray="8 5" fill="none"/>
<path d="M3321.8 1046H3453.6" stroke="#1a1a1a" stroke-width="2.2" stroke-dasharray="2.5 5" fill="none"/>
<path d="M3353.7 1080H3421.7" stroke="#1a1a1a" stroke-width="2.2" stroke-dasharray="2.5 5" fill="none"/>
<text font-size="61.5" x="1302.7" y="1753.5" text-anchor="middle">TCGA-COAD</text>
<text font-size="61" x="548" y="2057" transform="rotate(-90 548 2057)" text-anchor="middle">Gene expression</text>
<path d="M663 2088H1962" stroke="#111" stroke-width="4.8" stroke-dasharray="0.1 16.6" stroke-linecap="round" fill="none"/>
<rect x="671" y="1963.5" width="34" height="246.5" fill="#08338f" stroke="#000" stroke-width="5.3"/>
<path d="M668.4 2071.4L707.7 2071.4" stroke="#000" stroke-width="5.3" fill="none" />
<rect x="711.4" y="1992.4" width="34" height="190.7" fill="#e60026" stroke="#000" stroke-width="5.3"/>
<path d="M708.7 2085.7L748 2085.7" stroke="#000" stroke-width="5.3" fill="none" />
<text font-size="41" x="704" y="1953" class="a" text-anchor="middle" letter-spacing="1">***</text>
<path d="M707 2348.8L707 2372.8" stroke="#000" stroke-width="7.4" fill="none" />
<text font-size="38" x="716" y="2406.8" transform="rotate(-45 716 2406.8)" class="a" text-anchor="end" font-weight="bold">PD1</text>
<rect x="791.1" y="1910.3" width="34" height="234.8" fill="#08338f" stroke="#000" stroke-width="5.3"/>
<path d="M788.5 2037.2L827.8 2037.2" stroke="#000" stroke-width="5.3" fill="none" />
<rect x="831.5" y="1956.7" width="34" height="176.6" fill="#e60026" stroke="#000" stroke-width="5.3"/>
<path d="M828.8 2057L868.1 2057" stroke="#000" stroke-width="5.3" fill="none" />
<text font-size="41" x="820" y="1900.7" class="a" text-anchor="middle" letter-spacing="1">***</text>
<path d="M827.1 2348.8L827.1 2372.8" stroke="#000" stroke-width="7.4" fill="none" />
<text font-size="38" x="836.1" y="2406.8" transform="rotate(-45 836.1 2406.8)" class="a" text-anchor="end" font-weight="bold">PDL1</text>
<rect x="911.2" y="1990.1" width="34" height="186.8" fill="#08338f" stroke="#000" stroke-width="5.3"/>
<path d="M908.6 2060.9L947.9 2060.9" stroke="#000" stroke-width="5.3" fill="none" />
<rect x="951.6" y="1998.4" width="34" height="213.9" fill="#e60026" stroke="#000" stroke-width="5.3"/>
<path d="M948.9 2080L988.2 2080" stroke="#000" stroke-width="5.3" fill="none" />
<text font-size="41" x="944" y="1985" class="a" text-anchor="middle" letter-spacing="1">***</text>
<path d="M947.2 2348.8L947.2 2372.8" stroke="#000" stroke-width="7.4" fill="none" />
<text font-size="38" x="956.2" y="2406.8" transform="rotate(-45 956.2 2406.8)" class="a" text-anchor="end" font-weight="bold">CTLA4</text>
<rect x="1031.4" y="2012.3" width="34" height="184.2" fill="#08338f" stroke="#000" stroke-width="5.3"/>
<path d="M1028.7 2110.7L1068 2110.7" stroke="#000" stroke-width="5.3" fill="none" />
<rect x="1071.7" y="2072.5" width="34" height="158.1" fill="#e60026" stroke="#000" stroke-width="5.3"/>
<path d="M1069 2134.5L1108.3 2134.5" stroke="#000" stroke-width="5.3" fill="none" />
<text font-size="41" x="1068" y="2007" class="a" text-anchor="middle" letter-spacing="1">***</text>
<path d="M1067.3 2348.8L1067.3 2372.8" stroke="#000" stroke-width="7.4" fill="none" />
<text font-size="38" x="1076.3" y="2406.8" transform="rotate(-45 1076.3 2406.8)" class="a" text-anchor="end" font-weight="bold">BTLA</text>
<rect x="1151.5" y="1912.6" width="34" height="130.4" fill="#08338f" stroke="#000" stroke-width="5.3"/>
<path d="M1148.8 1949.6L1188.1 1949.6" stroke="#000" stroke-width="5.3" fill="none" />
<rect x="1191.8" y="1916" width="34" height="93.9" fill="#e60026" stroke="#000" stroke-width="5.3"/>
<path d="M1189.1 1961.3L1228.4 1961.3" stroke="#000" stroke-width="5.3" fill="none" />
<text font-size="41" x="1182" y="1905" class="a" text-anchor="middle" letter-spacing="1">***</text>
<path d="M1187.4 2348.8L1187.4 2372.8" stroke="#000" stroke-width="7.4" fill="none" />
<text font-size="38" x="1196.4" y="2406.8" transform="rotate(-45 1196.4 2406.8)" class="a" text-anchor="end" font-weight="bold">VISTA</text>
<rect x="1271.6" y="1886.6" width="34" height="78.3" fill="#08338f" stroke="#000" stroke-width="5.3"/>
<path d="M1268.9 1919.6L1308.2 1919.6" stroke="#000" stroke-width="5.3" fill="none" />
<rect x="1311.9" y="1867.8" width="34" height="94.7" fill="#e60026" stroke="#000" stroke-width="5.3"/>
<path d="M1309.2 1919.6L1348.5 1919.6" stroke="#000" stroke-width="5.3" fill="none" />
<text font-size="40" x="1297.4" y="1853.8" class="a" text-anchor="middle">ns</text>
<path d="M1307.5 2348.8L1307.5 2372.8" stroke="#000" stroke-width="7.4" fill="none" />
<text font-size="38" x="1316.5" y="2406.8" transform="rotate(-45 1316.5 2406.8)" class="a" text-anchor="end" font-weight="bold">CD276</text>
<rect x="1391.7" y="1938.7" width="34" height="167.5" fill="#08338f" stroke="#000" stroke-width="5.3"/>
<path d="M1389 2006.4L1428.3 2006.4" stroke="#000" stroke-width="5.3" fill="none" />
<rect x="1432" y="1955.9" width="34" height="144.3" fill="#e60026" stroke="#000" stroke-width="5.3"/>
<path d="M1429.3 2030.1L1468.6 2030.1" stroke="#000" stroke-width="5.3" fill="none" />
<text font-size="41" x="1425" y="1926.8" class="a" text-anchor="middle" letter-spacing="1">***</text>
<path d="M1427.6 2348.8L1427.6 2372.8" stroke="#000" stroke-width="7.4" fill="none" />
<text font-size="38" x="1436.6" y="2406.8" transform="rotate(-45 1436.6 2406.8)" class="a" text-anchor="end" font-weight="bold">TIM3</text>
<rect x="1511.8" y="2015.6" width="34" height="181.6" fill="#08338f" stroke="#000" stroke-width="5.3"/>
<path d="M1509.1 2072.7L1548.4 2072.7" stroke="#000" stroke-width="5.3" fill="none" />
<rect x="1552" y="2020.9" width="34" height="226.2" fill="#e60026" stroke="#000" stroke-width="5.3"/>
<path d="M1549.4 2095.6L1588.7 2095.6" stroke="#000" stroke-width="5.3" fill="none" />
<text font-size="41" x="1546" y="2008.8" class="a" text-anchor="middle" letter-spacing="1">***</text>
<path d="M1547.7 2348.8L1547.7 2372.8" stroke="#000" stroke-width="7.4" fill="none" />
<text font-size="38" x="1556.7" y="2406.8" transform="rotate(-45 1556.7 2406.8)" class="a" text-anchor="end" font-weight="bold">ICOS</text>
<rect x="1631.9" y="1962.4" width="34" height="211" fill="#08338f" stroke="#000" stroke-width="5.3"/>
<path d="M1629.2 2053.9L1668.5 2053.9" stroke="#000" stroke-width="5.3" fill="none" />
<rect x="1672.2" y="1971.1" width="34" height="182.1" fill="#e60026" stroke="#000" stroke-width="5.3"/>
<path d="M1669.5 2062.2L1708.8 2062.2" stroke="#000" stroke-width="5.3" fill="none" />
<text font-size="41" x="1661" y="1953.8" class="a" text-anchor="middle" letter-spacing="1">***</text>
<path d="M1667.8 2348.8L1667.8 2372.8" stroke="#000" stroke-width="7.4" fill="none" />
<text font-size="38" x="1676.8" y="2406.8" transform="rotate(-45 1676.8 2406.8)" class="a" text-anchor="end" font-weight="bold">ILDR2</text>
<rect x="1752" y="1953.1" width="34" height="156.5" fill="#08338f" stroke="#000" stroke-width="5.3"/>
<path d="M1749.3 2041.9L1788.6 2041.9" stroke="#000" stroke-width="5.3" fill="none" />
<rect x="1792.2" y="1954.4" width="34" height="202.7" fill="#e60026" stroke="#000" stroke-width="5.3"/>
<path d="M1789.6 2056.2L1828.9 2056.2" stroke="#000" stroke-width="5.3" fill="none" />
<text font-size="41" x="1785.6" y="1944" class="a" text-anchor="middle" letter-spacing="1">***</text>
<path d="M1787.9 2348.8L1787.9 2372.8" stroke="#000" stroke-width="7.4" fill="none" />
<text font-size="38" x="1796.9" y="2406.8" transform="rotate(-45 1796.9 2406.8)" class="a" text-anchor="end" font-weight="bold">LAG3</text>
<rect x="1872.1" y="1954.9" width="34" height="192.5" fill="#08338f" stroke="#000" stroke-width="5.3"/>
<path d="M1869.4 2041.1L1908.7 2041.1" stroke="#000" stroke-width="5.3" fill="none" />
<rect x="1912.4" y="1987.2" width="34" height="176.9" fill="#e60026" stroke="#000" stroke-width="5.3"/>
<path d="M1909.7 2069L1949 2069" stroke="#000" stroke-width="5.3" fill="none" />
<text font-size="41" x="1901.7" y="1945.7" class="a" text-anchor="middle" letter-spacing="1">***</text>
<path d="M1908 2348.8L1908 2372.8" stroke="#000" stroke-width="7.4" fill="none" />
<text font-size="38" x="1917" y="2406.8" transform="rotate(-45 1917 2406.8)" class="a" text-anchor="end" font-weight="bold">TIGIT</text>
<path d="M648 1823.5L648 2352.5" stroke="#000" stroke-width="7.4" fill="none" />
<path d="M644.3 2348.8L1967 2348.8" stroke="#000" stroke-width="7.4" fill="none" />
<path d="M625 1827.2L648 1827.2" stroke="#000" stroke-width="7.4" fill="none" />
<text font-size="37.5" x="619" y="1839.2" class="a" text-anchor="end" font-weight="bold">10</text>
<path d="M625 1957.6L648 1957.6" stroke="#000" stroke-width="7.4" fill="none" />
<text font-size="37.5" x="619" y="1969.6" class="a" text-anchor="end" font-weight="bold">5</text>
<path d="M625 2088L648 2088" stroke="#000" stroke-width="7.4" fill="none" />
<text font-size="37.5" x="619" y="2100" class="a" text-anchor="end" font-weight="bold">0</text>
<path d="M625 2218.4L648 2218.4" stroke="#000" stroke-width="7.4" fill="none" />
<text font-size="37.5" x="619" y="2230.4" class="a" text-anchor="end" font-weight="bold">-5</text>
<path d="M625 2348.8L648 2348.8" stroke="#000" stroke-width="7.4" fill="none" />
<text font-size="37.5" x="619" y="2360.8" class="a" text-anchor="end" font-weight="bold">-10</text>
<rect x="1764.5" y="1800.3" width="52" height="23" fill="#08338f" stroke="#000" stroke-width="5"/>
<rect x="1764.5" y="1841.5" width="52" height="21" fill="#e60026" stroke="#000" stroke-width="5"/>
<text font-size="61" x="1827" y="1822.5">Low</text>
<text font-size="61" x="1827" y="1870">High</text>
<path d="M2368 2004h0m-27 13h0m24 91h0m-86 119h0m103 -74h0m37 -24h0m0 48h0m-141 -22h0m14 -3h0m115 100h0m-152 -78h0m254 14h0m-199 -169h0m130 175h0m-152 -55h0m176 42h0m-207 40h0m293 -7h0m-66 -36h0m-108 -71h0m102 17h0m-127 -172h0m-14 100h0m130 208h0m-84 -281h0m104 228h0m-16 -82h0m-37 87h0m-19 32h0m-102 -123h0m153 -52h0m-85 64h0m-86 64h0m181 58h0m-185 -263h0m119 153h0m137 63h0m-15 -113h0m-4 90h0m-190 -164h0m219 140h0m-304 -6h0m26 -90h0m91 -47h0m-10 -39h0m-47 20h0m43 175h0m93 -54h0m-184 47h0m137 7h0m64 121h0m10 -133h0m-10 -47h0m53 45h0m-230 -64h0m246 39h0m-134 48h0m-122 -108h0m204 31h0m-242 -31h0m80 -7h0m14 132h0m30 -131h0m-107 141h0m67 -13h0m-40 -205h0m65 97h0m-17 129h0m168 -6h0m-243 -143h0m156 134h0m0 -218h0m-62 81h0m41 60h0m74 124h0m-241 -132h0m158 -135h0m-69 13h0m120 243h0m-101 -259h0m116 29h0m-112 92h0m166 12h0m-95 150h0m-139 -104h0m191 80h0m41 -57h0m-52 -176h0m-60 -17h0m-29 31h0m6 120h0m-3 -123h0m148 183h0m-83 57h0m-76 -318h0m-15 1h0m157 128h0m-205 58h0m88 -87h0m46 142h0m-138 -25h0m-20 -62h0m289 69h0m-146 69h0m61 -112h0m18 28h0m-45 39h0m-20 26h0m2 -37h0m82 57h0m-78 -54h0m-126 -75h0m151 -20h0m-164 120h0m136 -70h0m-124 73h0m-30 -173h0m180 119h0m11 16h0m14 -13h0m-159 -12h0m12 -190h0m173 140h0m0 58h0m-167 -180h0m-78 94h0m77 -18h0m121 184h0m-118 -84h0m114 53h0m-66 -233h0m-66 229h0m35 -171h0m3 -77h0m22 150h0m157 65h0m-2 -27h0m-251 -69h0m64 -129h0m164 156h0m-93 -56h0m-53 -28h0m66 229h0m9 15h0m-158 -78h0m149 -174h0m-45 51h0m30 -20h0m-137 -59h0m63 4h0m131 156h0m-202 -101h0m214 166h0m-102 -94h0m172 88h0m-272 -62h0m168 160h0m-138 -56h0m79 -183h0m-107 6h0m-46 79h0m269 -52h0m-214 6h0m112 -86h0m132 161h0m-287 52h0m139 -237h0m-22 -8h0m-21 160h0m117 174h0m-67 -261h0m-107 -11h0m0 177h0m-37 -69h0m183 -13h0m-156 -102h0m-20 24h0m21 -47h0m0 -32h0m170 50h0m48 87h0m-123 -127h0m128 158h0m-111 -109h0m-82 125h0m-4 67h0m97 -132h0m107 94h0m-210 -127h0m212 185h0m-172 -151h0m6 25h0m85 137h0m59 -144h0m-244 57h0m191 -48h0m-70 -97h0m142 69h0m-5 8h0m14 -16h0m-147 80h0m-137 -41h0m198 148h0m13 -230h0m-177 140h0m102 -48h0m64 -124h0m-198 110h0m35 91h0m72 5h0m-35 -207h0m46 131h0m103 -126h0m-46 15h0m-126 -53h0m57 30h0m209 153h0m-261 -38h0m142 -131h0m-98 224h0m-68 -223h0m89 184h0m64 -101h0m-74 119h0m151 -27h0m-233 -170h0m111 -26h0m-4 112h0m144 80h0m-128 8h0m-61 -104h0m20 -127h0m85 256h0m-68 -120h0m-29 -77h0m161 171h0m13 34h0m-244 -148h0m168 -25h0m-91 160h0m-61 -189h0m70 169h0m63 -80h0m-165 68h0m75 9h0m210 38h0m-182 -226h0m194 236h0m-155 -13h0m-46 -188h0m-6 95h0m112 -88h0m52 124h0m-206 30h0m72 -47h0m67 72h0m-87 -79h0m199 -8h0m-152 52h0m160 -17h0m-54 -28h0m-226 98h0m162 34h0m5 -169h0m-41 123h0m5 -225h0m-148 72h0m93 68h0m-79 -146h0m184 279h0m1 -115h0m-209 1h0m19 12h0m127 98h0m121 -43h0m45 -7h0m-188 -246h0m29 301h0m-116 -138h0m244 -21h0m-194 44h0m3 -130h0m33 204h0m113 -47h0m-112 -160h0m145 138h0m-70 -145h0m20 59h0m-47 52h0m-55 -89h0m-58 -7h0m171 201h0m-203 -15h0m166 -82h0m36 8h0m6 1h0m-35 67h0m-28 -150h0m18 53h0m-1 -79h0m14 31h0m76 155h0m-3 -21h0m-58 15h0m-237 -153h0m248 227h0m-190 -71h0m183 31h0m-122 -205h0m151 210h0m-85 -49h0m90 2h0m-49 -117h0m-167 57h0m103 78h0m-25 -234h0m-16 29h0m130 137h0m53 -32h0m-94 102h0m-182 -196h0m205 181h0m-143 -154h0m110 -21h0m-27 61h0m-66 98h0m31 -201h0m10 48h0m147 179h0m7 -23h0m-81 -183h0m-93 157h0m-114 38h0m159 -160h0m84 176h0m-91 -110h0m-152 23h0m221 36h0m-31 -38h0m-44 -148h0m-111 204h0m19 -85h0m58 -87h0m-47 217h0m200 25h0m4 -105h0m-229 9h0m103 100h0m54 -153h0m-207 22h0m192 55h0m-28 44h0m-147 -77h0m167 102h0m-10 -260h0m126 174h0m-188 -130h0m111 49h0m57 60h0m-36 26h0m-206 39h0m-42 -139h0m218 229h0m-16 -228h0m64 34h0m-8 -35h0m-48 -36h0m-112 5h0m96 190h0m-27 -183h0m-40 155h0m12 -127h0m-17 -49h0m16 -47h0m104 154h0m-8 16h0m50 70h0m-36 -66h0m-205 -81h0m178 71h0m28 -24h0m-212 69h0m12 -127h0m117 154h0m-153 -153h0m194 135h0m11 43h0m-61 -156h0m-62 -104h0m33 184h0m20 -107h0m154 68h0m-170 77h0m32 -104h0m149 8h0m-127 -42h0m-80 -112h0m175 183h0m-112 -66h0m-11 100h0m41 -133h0m-172 173h0m75 -243h0m108 156h0m-23 -37h0m117 77h0m-161 -63h0m41 -101h0m98 197h0m-81 -40h0m-156 -74h0m112 -22h0m-121 24h0m41 132h0m88 -140h0m-35 -83h0m81 100h0m-189 53h0m211 121h0m-175 -244h0m129 203h0m-124 -199h0m-52 49h0m174 -64h0m-102 -29h0m66 211h0m-10 -224h0m-127 195h0m327 72h0m-237 -210h0m72 121h0m-48 30h0m-57 -147h0m-25 161h0m235 -26h0m43 58h0m-163 19h0m108 -82h0m-210 -103h0m-26 -3h0m108 157h0m132 17h0m-197 -57h0m164 23h0m-178 -173h0m200 73h0m-178 -18h0m154 199h0m44 -43h0m-206 -167h0m-38 5h0m-26 108h0m127 42h0m-102 -164h0m94 150h0m17 10h0m-44 -10h0m64 -3h0m-53 -110h0m-1 40h0m233 95h0m-100 -126h0m-49 117h0m49 -44h0m-136 54h0m76 -209h0m29 216h0m-27 -201h0m-162 120h0m316 33h0m-196 61h0m93 30h0m-43 -125h0m-28 -135h0m42 -5h0m41 148h0m-236 45h0m219 -118h0m84 56h0m-163 -141h0m-29 49h0m-104 123h0m28 -177h0m105 44h0m-76 84h0m78 54h0m-144 -151h0m95 164h0m132 96h0m-211 -176h0m-20 13h0m146 4h0m169 51h0m-294 -55h0m271 32h0m-61 116h0m-156 -268h0m255 218h0m-189 -245h0m-17 74h0m82 22h0m-84 54h0m-88 -131h0m166 30h0m-47 -25h0m-71 211h0m126 49h0m-69 -167h0m153 118h0m-233 -107h0m192 37h0m-146 -31h0m196 -8h0m-205 -88h0m86 -6h0m-97 -8h0m91 153h0m129 53h0m-213 -243h0m14 89h0m78 29h0m-96 106h0m96 -17h0m-57 -14h0m15 -113h0m138 136h0m-219 -2h0m150 10h0m-220 -112h0m154 -109h0m-138 188h0m178 36h0m-114 -227h0m56 179h0m-1 68h0m-109 -121h0m118 35h0m-4 50h0m-86 -73h0m202 125h0m9 -108h0m-6 72h0m-62 61h0m-133 -57h0m-37 -121h0m129 130h0m171 23h0m-308 -188h0m163 37h0m31 167h0m-17 -136h0m-87 -52h0m-8 -58h0m-17 153h0m229 24h0m-15 26h0m-102 30h0m-41 -184h0m86 241h0m-47 -3h0m-147 -118h0m51 -179h0m216 229h0m-132 -234h0m-38 9h0m124 230h0m-158 -197h0m20 31h0m-19 170h0m-42 -171h0m68 -33h0m77 143h0m53 -54h0m-64 51h0m-147 -27h0m-44 -34h0m186 47h0m-51 -2h0m-65 -96h0m93 111h0m110 6h0m3 21h0m-250 -97h0m97 -103h0m-132 58h0m305 163h0m-149 -198h0m19 39h0m75 23h0m-236 78h0m38 -121h0m97 94h0m-134 44h0m149 -127h0m-99 117h0m60 -171h0m200 200h0m-314 8h0m191 -90h0m79 0h0m-221 78h0m54 -72h0m11 -33h0m103 144h0m-20 35h0m110 -47h0m-125 -78h0m-91 -92h0m-61 -59h0m42 129h0m-38 -5h0m193 35h0m-136 67h0m-44 -165h0m129 -39h0m-31 141h0m0 55h0m151 -26h0m7 10h0m-203 29h0m104 86h0m-129 -59h0m-5 -184h0m-68 18h0m283 71h0m-89 102h0m-59 -107h0m115 -61h0m-146 -56h0m-64 -30h0m61 78h0m78 -56h0m70 56h0m-137 52h0m-21 77h0m-32 -54h0m-77 -49h0m251 -10h0m-82 -37h0m111 136h0m-54 -64h0m-107 86h0m90 48h0m-129 -202h0m104 -7h0m-128 75h0m-40 45h0m111 -98h0m-29 -8h0m165 142h0m-166 0h0m-47 -150h0m156 250h0m14 -44h0m12 -163h0m-104 33h0m60 149h0m2 -128h0m103 -35h0m-114 -61h0m-41 73h0m9 -161h0m154 142h0m-283 42h0m91 55h0m-70 -162h0m257 171h0m-199 -53h0m-78 -63h0m187 -91h0m-99 197h0m104 -184h0m-61 86h0m85 -26h0m54 63h0m-71 119h0m34 -182h0m-235 76h0m210 -103h0m30 138h0m-64 -128h0m-70 -5h0m10 -21h0m-97 -39h0m36 67h0m257 186h0m-300 -99h0m135 -145h0m-95 13h0m66 11h0m-113 139h0m172 1h0m-55 33h0m13 -116h0m59 -66h0m-8 41h0m126 177h0m-220 -175h0m216 39h0m-18 96h0m-205 -78h0m17 9h0m-27 -32h0m146 173h0m-45 -189h0m-8 -51h0m-42 161h0m173 -41h0m-261 -171h0m81 179h0m-109 -54h0m238 -16h0m32 109h0m-192 -151h0m-102 85h0m160 -1h0m147 2h0m17 112h0m-83 30h0m-169 -65h0m98 -167h0m-125 175h0m162 -73h0m-82 -123h0m84 271h0m-156 -297h0m237 146h0m-214 -170h0m232 202h0m-188 -127h0m116 141h0m-21 -125h0m-92 23h0m-76 -57h0m137 65h0m-107 32h0m223 47h0m-84 131h0m-82 -145h0m-114 -100h0m106 3h0m14 -4h0m-127 102h0m182 23h0m-127 -172h0m49 180h0m72 8h0m-93 -80h0m77 -90h0m-35 107h0m27 95h0m35 -104h0m-170 -120h0m77 45h0m181 111h0m-59 -73h0m8 223h0m-79 -317h0m16 117h0m5 158h0m-81 -230h0m158 85h0m-40 0h0m3 -29h0m51 142h0m-219 -161h0m-17 -31h0m175 -7h0m31 110h0m-60 75h0m2 -187h0m-95 195h0m-29 -197h0m-55 89h0m290 -28h0m-68 0h0m-146 -19h0m80 -16h0m-78 167h0m70 -10h0m34 -35h0m-158 -113h0m-30 85h0m241 -19h0m-21 21h0m-43 13h0m-44 11h0m84 -170h0m-196 198h0m26 -137h0m6 -41h0m141 200h0m-125 -236h0m155 136h0m-137 3h0m14 -77h0m93 4h0m-87 -48h0m-52 168h0m82 9h0m83 52h0m-74 -37h0m-45 -134h0m38 107h0m122 7h0m-221 -65h0m109 88h0m-45 -21h0m37 -20h0m152 -26h0m-33 -48h0m-187 -89h0m230 149h0m-60 86h0m-172 -212h0m-12 151h0m119 -121h0m130 150h0m-263 16h0m178 -205h0m70 147h0m13 -38h0m-93 -79h0m-28 143h0m-55 -93h0m118 217h0m-53 -295h0m-55 100h0m16 -92h0m150 93h0m-63 126h0m0 -134h0m-211 9h0m173 -52h0m-32 -58h0m-103 90h0m143 64h0m54 55h0m30 -97h0m-150 -61h0m-67 -84h0m89 253h0m61 75h0m-61 -118h0m102 39h0m-72 -92h0m-121 -101h0m-38 99h0m265 -11h0m-278 -98h0m68 35h0m47 -51h0m139 96h0m36 4h0m-65 30h0m-152 46h0m182 18h0m-47 -53h0m98 79h0m-178 -63h0m172 63h0m-232 -166h0m-1 157h0m78 -226h0m8 285h0m-72 -167h0m106 81h0m-112 -5h0m-40 -109h0m49 -107h0m-65 228h0m43 -177h0m-84 125h0m95 -104h0m17 104h0m-66 -129h0m147 137h0m-87 11h0m28 -193h0m-69 114h0m160 141h0m37 -6h0m-142 -208h0m-9 127h0m-71 6h0m119 -166h0m81 314h0m-5 2h0m-148 -258h0m18 28h0m18 23h0m14 67h0m19 45h0m-41 -173h0m3 159h0m-50 -90h0m20 126h0m-37 -222h0m137 76h0m-35 92h0m-105 -122h0m162 246h0m-48 -232h0m-138 29h0m273 134h0m-121 -184h0m145 132h0m-154 -18h0m16 53h0m-44 -147h0m82 -44h0m-194 149h0m194 -137h0m-223 155h0m42 -19h0m185 -74h0m-116 -153h0m-54 64h0m215 113h0m-95 36h0m-107 36h0m-35 -131h0m-25 -18h0m50 19h0m166 10h0m-223 86h0m267 78h0m-78 -215h0m-161 122h0m19 -68h0m149 -62h0m62 101h0m-126 -52h0m70 -21h0m33 63h0m-201 53h0m218 27h0m-162 -211h0m19 0h0m193 139h0m-211 -77h0m217 78h0m-223 -149h0m-56 257h0m132 -207h0m136 227h0m-7 -66h0m-145 -148h0m-93 92h0m150 -98h0m-195 151h0m193 2h0m-60 -20h0m103 -55h0m-188 -111h0m134 188h0m-40 -95h0m83 12h0m35 -1h0m-150 32h0m-111 42h0m188 54h0m41 54h0m79 -100h0m0 63h0m-236 -279h0m219 149h0m-141 40h0m72 -77h0m57 80h0m-152 96h0m71 -216h0m-205 101h0m142 9h0m107 51h0m-93 1h0m-79 -234h0m235 148h0m-63 24h0m-226 -53h0m146 17h0m-153 -44h0m178 156h0m146 5h0m-293 -76h0m168 99h0m-20 -244h0m-10 154h0m125 102h0m-143 31h0m48 -212h0m98 84h0m-170 -21h0m-112 77h0m196 -195h0m-180 115h0m56 -73h0m221 184h0m-91 26h0m14 -171h0m49 105h0m-98 -182h0m25 132h0m-64 -60h0m82 98h0m-46 33h0m67 -124h0m-169 97h0m110 64h0m-185 -30h0m161 -6h0m-38 -128h0m117 103h0m-204 -82h0m7 33h0m119 86h0m-142 -3h0m36 -80h0m-17 -60h0m88 -123h0m-13 224h0m107 -117h0m38 92h0m-88 -68h0m60 221h0m-70 -156h0m-31 22h0m7 24h0m-119 -153h0m30 21h0m9 51h0m132 36h0m-112 -61h0m97 -67h0m125 96h0m-164 -8h0m-79 -23h0m139 130h0m104 -105h0m-25 90h0m-127 57h0m-89 -45h0m262 -8h0m-317 -129h0m221 113h0m-221 -47h0m175 -88h0m-62 160h0m10 -198h0m-21 -77h0m61 112h0m97 59h0m9 102h0m-54 -158h0m-64 140h0m50 22h0m-146 -234h0m32 185h0m-61 -168h0m64 4h0m30 163h0m-91 45h0m69 -30h0m167 -43h0m-121 -101h0m-3 183h0m-13 -237h0m63 174h0m-109 -97h0m74 -29h0m-44 76h0m35 49h0m36 -140h0m-73 148h0m146 22h0m-164 -191h0m18 43h0m50 104h0m7 6h0m70 70h0m-176 -243h0m-37 188h0m218 -50h0m-6 35h0m-206 39h0m-16 -169h0m187 77h0m103 75h0m-279 -45h0m44 -186h0m105 87h0m52 90h0m-101 -85h0m-134 147h0m202 38h0m57 -77h0m-69 15h0m-36 -28h0m133 104h0m-171 -85h0m-65 -161h0m74 244h0m65 -173h0m32 252h0m15 -95h0m-77 -4h0m-159 -178h0m15 130h0m154 -180h0m-160 219h0m67 -183h0m-92 122h0m93 -73h0m84 -78h0m-73 99h0m-64 128h0m158 -67h0m113 61h0m-27 -69h0m32 50h0m-125 -133h0m-15 -72h0m-89 231h0m121 10h0m-178 -210h0m56 -40h0m45 -9h0m-117 44h0m117 0h0m93 222h0m-173 -240h0m153 79h0m-146 -6h0m-29 99h0m174 -121h0m-159 -12h0m54 74h0m218 90h0m5 20h0m-16 2h0m-228 -150h0m63 -112h0m-55 138h0m135 133h0m-107 -286h0m44 219h0m26 12h0m60 29h0m39 -38h0m-5 -30h0m-195 1h0m70 13h0m49 -106h0m36 5h0m-106 115h0m-5 -156h0m93 84h0m82 136h0m-116 -207h0m-56 3h0m182 197h0m-206 -216h0m111 56h0m31 22h0m-198 9h0m118 -89h0m-59 141h0m90 126h0m-64 -73h0m33 -77h0m-40 11h0m-55 -45h0m273 136h0m-275 -44h0m157 -137h0m-147 48h0m179 109h0m-42 46h0m-136 -116h0m5 -1h0m153 104h0m-156 -231h0m-66 196h0m95 9h0m134 43h0m-16 -46h0m20 63h0m23 -169h0m7 125h0m11 5h0m-225 -150h0m138 102h0m-67 -190h0m82 118h0m-87 -65h0m72 -7h0m-18 242h0m-149 -270h0m159 68h0m-67 111h0m178 55h0m-255 -157h0m123 -44h0m1 11h0m-94 184h0m164 15h0m-152 -193h0m-24 -27h0m118 217h0m113 -57h0m-275 -162h0m116 207h0m107 -64h0m-124 -27h0m-51 -71h0m120 91h0m20 -154h0m-189 31h0m322 171h0m-233 1h0m13 -100h0m146 131h0m-225 -152h0m203 50h0m-145 -15h0m132 -26h0m-148 -62h0m-37 73h0m23 -76h0m40 -25h0m118 75h0m-37 121h0m-31 -3h0m-73 -16h0m224 21h0m-20 -38h0m20 22h0m-109 -142h0m31 136h0m21 -80h0m-217 39h0m128 -25h0m-86 -113h0m-67 103h0m199 -105h0m24 97h0m-62 169h0m-132 -288h0m209 233h0m-241 -127h0m67 -116h0m115 239h0m26 -109h0m-196 116h0m307 -46h0m-109 46h0m77 -53h0m-17 -61h0m-185 -157h0m121 214h0m-186 7h0m131 1h0m-5 45h0m54 -88h0m133 84h0m-117 -111h0m-105 75h0m197 17h0m-102 -77h0m-167 20h0m89 77h0m-99 -225h0m156 100h0m-32 57h0m-56 -126h0m182 127h0m-219 -178h0m110 143h0m-12 31h0m-82 -143h0m21 188h0m204 -22h0m-306 -87h0m144 27h0m-147 58h0m137 19h0m22 47h0m-94 -204h0m-16 84h0m80 -7h0m-75 69h0m187 -59h0m-49 125h0m-89 -285h0m101 67h0m-92 61h0m51 70h0m-103 -187h0m170 186h0m-13 -27h0m7 29h0m-43 -165h0m144 227h0m-256 -87h0m152 99h0m-118 -109h0m3 -18h0m-74 -77h0m255 204h0m-57 -170h0m81 128h0m-230 -210h0m23 210h0m-6 -186h0m-37 19h0m144 -27h0m-115 95h0m196 59h0m-16 -7h0m-246 -68h0m78 42h0m41 -9h0m-12 -41h0m-10 94h0m130 37h0m28 -69h0m38 49h0m-160 -57h0m85 7h0m-55 -133h0m35 93h0m-77 109h0m-102 -10h0m38 38h0m6 -189h0m-36 -16h0m-26 131h0m189 -20h0m-117 46h0m91 -15h0m-71 -141h0m184 174h0m-42 55h0m-191 -208h0m199 89h0m20 0h0m-54 109h0m-194 -214h0m66 197h0m186 -96h0m-126 12h0m9 79h0m-106 -32h0m172 -119h0m-86 -64h0m111 236h0m-274 -99h0m243 -36h0m-127 66h0m87 97h0m62 -131h0m-33 -118h0m-154 125h0m-34 -65h0m153 170h0m115 -115h0m-92 14h0m-224 -64h0m205 108h0m-162 -162h0m252 156h0m20 26h0m-126 -78h0m41 25h0m-103 -80h0m-75 -48h0m83 133h0m-47 -23h0m151 -16h0m-23 -65h0m-29 159h0m-89 -200h0m9 148h0m119 80h0m-10 -27h0m-112 -227h0m203 195h0m16 14h0m-278 14h0m81 -146h0m-94 73h0m93 75h0m36 -8h0m60 41h0m90 -42h0m-292 -31h0m267 -35h0m-55 -101h0m-79 203h0m12 -117h0m97 -24h0m-202 57h0m121 47h0m101 -7h0m-82 -154h0m-15 156h0m57 -89h0m48 89h0m-166 -252h0m30 75h0m3 223h0m115 -125h0m-188 -142h0m-39 147h0m300 92h0m-211 -219h0m64 266h0m-143 -85h0m93 -154h0m-117 169h0m269 -78h0m-267 68h0m113 -87h0m130 45h0m-74 36h0m78 -68h0m-218 126h0m261 -32h0m-215 -46h0m109 51h0m-179 3h0m19 -211h0m190 103h0m-219 116h0m94 -147h0m65 84h0m149 5h0m-182 -162h0m-62 -33h0m-63 80h0m19 170h0m211 -108h0m-58 71h0m-17 -162h0m-56 62h0m128 222h0m-180 -267h0m134 60h0m-48 143h0m174 -51h0m-303 -53h0m204 73h0m92 -38h0m-88 24h0m-103 -232h0m101 191h0m-31 -123h0m13 73h0m-214 56h0m131 53h0m190 -83h0m-209 -143h0m40 103h0m-17 -75h0m-100 176h0m115 -17h0m-59 4h0m48 -152h0m136 86h0m-252 -7h0m48 133h0m38 -247h0m90 181h0m-183 -31h0m82 -75h0m83 -44h0m144 216h0m-229 -100h0m226 76h0m-14 -38h0m-92 -141h0m-207 61h0m15 -24h0m127 -64h0m-73 58h0m145 -18h0m-147 148h0m-23 -69h0m-19 53h0m218 17h0m16 -99h0m-33 66h0m-137 62h0m53 -188h0m-18 103h0m-41 -89h0m139 49h0m-154 69h0m16 -51h0m122 37h0m10 155h0m85 -136h0m-292 -136h0m44 194h0m-5 -122h0m-17 76h0m-4 -35h0m-34 -73h0m176 75h0m56 -72h0m-24 50h0m5 -103h0m-27 112h0m-181 -57h0m80 6h0m113 -43h0m-139 97h0m244 25h0m-59 19h0m-17 -171h0m96 201h0m9 -14h0m-119 -126h0m-105 123h0m-33 25h0m-42 6h0m72 -37h0m-21 -74h0m-23 -55h0m0 0h0m-31 115h0m117 -64h0m-71 -150h0m107 187h0m-158 52h0m223 -44h0m-123 -128h0m-109 180h0m263 -17h0m-197 -99h0m-11 -72h0m-67 38h0m39 -2h0m123 17h0m-143 45h0m41 31h0m-2 36h0m-48 -94h0m20 -81h0m67 129h0m-3 21h0m16 34h0m-40 -108h0m85 -38h0m-70 63h0m47 -54h0m19 -59h0m107 150h0m-226 6h0m46 -165h0m196 258h0m-19 -93h0m-41 -19h0m-86 -138h0m45 108h0m4 -46h0m-50 148h0m-22 -127h0m16 -22h0m76 101h0m-117 -177h0m9 186h0m219 40h0m-148 -97h0m-46 -93h0m158 61h0m-262 122h0m239 -98h0m-66 -75h0m-193 105h0m328 57h0m-161 -120h0m-103 143h0m126 27h0m-49 -106h0m-10 36h0m-42 -121h0m26 46h0m91 101h0m105 18h0m-198 -228h0m170 233h0m-252 -58h0m64 61h0m37 -25h0m-54 -167h0m169 221h0m-135 -238h0m55 85h0m179 122h0m-156 57h0m40 -220h0m12 72h0m32 93h0m-259 -164h0m89 -89h0m44 10h0m71 232h0m-105 -122h0m-70 -98h0m80 106h0m21 119h0m177 2h0m-141 -197h0m-25 -55h0m-142 193h0m291 51h0m-202 -238h0m74 189h0m-129 54h0m2 -207h0m9 152h0m58 -33h0m-38 -127h0m17 147h0m94 2h0m124 31h0m3 19h0m-54 24h0m-68 43h0m-98 -150h0m4 -4h0m81 32h0m-16 -24h0m22 23h0m104 67h0m-46 -54h0m-23 70h0m55 -76h0m-180 -154h0m48 -8h0m-140 180h0m115 31h0m-62 -128h0m43 122h0m137 33h0m81 -7h0m-197 -177h0m3 131h0m-93 -121h0m19 -29h0m219 53h0m-212 -1h0m110 -2h0m26 3h0m102 74h0m-185 -200h0m135 311h0m74 -129h0m-220 30h0m22 -210h0m81 326h0m-100 -300h0m88 66h0m-5 208h0m-5 -202h0m61 62h0m-47 83h0m93 -14h0m-175 -102h0m-57 -75h0m-53 139h0m107 58h0m132 55h0m-173 -41h0m95 -191h0m-89 -11h0m144 125h0m27 163h0m-11 -172h0m-68 25h0m-112 -101h0m212 95h0m4 -63h0m-70 106h0m-34 -201h0m16 249h0m-23 -174h0m-73 117h0m215 -85h0m-116 122h0m-44 -46h0m-9 -110h0m-36 110h0m-37 -47h0m147 -115h0m131 219h0m-172 -26h0m-30 -39h0m20 -144h0m-105 84h0m133 157h0m-144 -96h0m54 -98h0m143 118h0m-36 -49h0m58 63h0m-187 -131h0m-56 87h0m137 53h0m21 -35h0m135 -42h0m-275 51h0m262 -38h0m-261 58h0m5 -176h0m74 -39h0m-88 88h0m258 134h0m-241 -114h0m186 28h0m-121 -107h0m-15 214h0m194 -25h0m-126 -136h0m-68 44h0m42 80h0m-59 -60h0m48 -14h0m57 -62h0m23 49h0m-91 20h0m52 56h0m-136 -12h0m147 -98h0m-114 149h0m220 -28h0m-88 -143h0m55 98h0m-52 -159h0m-130 -4h0m28 160h0m31 -175h0m209 212h0m-56 61h0m-78 3h0m-22 -33h0m34 80h0m-70 -286h0m-37 1h0m-3 -64h0m-44 93h0m143 254h0m84 -119h0m50 4h0m-294 -5h0m96 -129h0m-69 67h0m114 101h0m-167 -145h0m300 40h0m-186 -66h0m-26 185h0m106 65h0m-115 -218h0m19 61h0m211 15h0m-82 57h0m-137 -224h0m20 -2h0m-97 129h0m-19 -56h0m42 -41h0m256 140h0m-241 3h0m193 45h0m-222 -172h0m38 16h0m22 -21h0m-41 177h0m-43 -56h0m294 87h0m-242 -251h0m-16 251h0m251 -117h0m-208 -47h0m124 5h0m-154 117h0m126 -201h0m-17 189h0m22 98h0m52 -148h0m-176 38h0m228 -61h0m-126 -42h0m-164 11h0m28 -77h0m42 -18h0m131 312h0m35 -208h0m-49 133h0m-82 -72h0m60 -162h0m-135 24h0m162 43h0m-90 -83h0m-22 67h0m-48 62h0m188 -85h0m-3 178h0m-83 -150h0m69 94h0m-83 -55h0m-86 -79h0m170 142h0m-14 -75h0m-30 -64h0m32 122h0m33 124h0m-51 -259h0m15 18h0m-118 -39h0m57 174h0m148 110h0m-171 -96h0m24 -27h0m-34 54h0m-56 5h0m142 -164h0m-108 80h0m43 33h0m148 -48h0m-218 146h0m-19 -30h0m152 -157h0m-14 15h0m24 116h0m18 -6h0m-208 -46h0m60 40h0m177 -12h0m-149 -112h0m59 14h0m-77 186h0m39 -49h0m-16 -188h0m-15 116h0m-73 -4h0m123 -155h0m-28 79h0m34 -62h0m37 238h0m-76 -179h0m-5 98h0m-33 -84h0m275 183h0m-9 -79h0m-293 78h0m307 -23h0m-333 -66h0m319 79h0m-215 -71h0m221 26h0m-229 -79h0m3 35h0m43 76h0m-32 -160h0m149 130h0m-183 18h0m14 -230h0m179 159h0m-261 -106h0m140 70h0m-5 72h0m16 -49h0m-162 35h0m169 81h0m-62 -238h0m81 207h0m-145 -215h0m148 257h0m-11 -82h0m8 -110h0m-135 129h0m128 42h0m41 -84h0m17 -36h0m8 102h0m-163 -15h0m37 -235h0m47 249h0m143 21h0m13 -7h0m-174 10h0m-57 -66h0m54 -172h0m52 262h0m14 -39h0m68 20h0m-66 -15h0m54 -134h0m-35 188h0m-117 -207h0m-3 54h0m-53 7h0m33 -67h0m28 128h0m70 -185h0m-81 127h0m11 29h0m93 -47h0m62 19h0m-186 56h0m244 5h0m-245 -193h0m5 37h0m-32 -31h0m171 261h0m-232 -111h0m70 -178h0m115 314h0m-4 -244h0m39 100h0m-195 75h0m96 -60h0m190 68h0m-236 -158h0m32 -36h0m8 47h0m195 99h0m-198 -53h0m204 64h0m-78 83h0m-90 -135h0m71 -44h0m33 -27h0m50 45h0m-12 -3h0m-61 60h0m-30 45h0m41 60h0m-151 -210h0m0 53h0m-42 -18h0m-14 -49h0m159 241h0m-137 -95h0m-34 -92h0m214 7h0m-154 44h0m92 78h0m-37 -269h0m-37 5h0m27 221h0m10 35h0m-112 -81h0m146 127h0m135 -38h0m-110 -67h0m71 15h0m-121 -189h0m18 190h0m-46 -225h0m-20 247h0m-64 -80h0m195 122h0m-227 -193h0m229 142h0m85 24h0m-272 -223h0m36 148h0m49 -152h0m45 26h0m-174 141h0m122 -186h0m18 35h0m68 296h0m-63 -300h0m43 241h0m-104 -28h0m12 -160h0m21 144h0m-50 -71h0m-32 7h0m150 116h0m107 -26h0m-197 -61h0m49 -57h0m73 -49h0m54 92h0m40 -28h0m-194 -23h0m207 115h0m-171 -112h0m-55 88h0m66 -121h0m155 107h0m-247 -120h0m41 -49h0m80 240h0m131 -24h0m-259 -145h0m200 157h0m-32 -78h0m-89 40h0m-27 10h0m-90 -23h0m225 -33h0m-165 -112h0m5 -2h0m134 275h0m96 -137h0m-289 8h0m-35 -82h0m49 -11h0m158 54h0m-29 -32h0m-107 -32h0m113 24h0m-72 -107h0m203 236h0m-232 -273h0m222 278h0m10 -45h0m-178 2h0m73 -199h0m-210 92h0m47 -17h0m90 25h0m-65 -14h0m66 -16h0m43 -60h0m-168 63h0m202 79h0m-137 -174h0m243 185h0m-247 -185h0m38 149h0m5 3h0m50 89h0m-21 -258h0m31 74h0m60 207h0m-45 -8h0m-189 -131h0m308 85h0m-74 -56h0m-96 -149h0m13 121h0m-25 17h0m-14 44h0m149 68h0m-21 -58h0m74 -27h0m-132 35h0m1 111h0m-79 -301h0m144 105h0m41 64h0m-213 -103h0m6 137h0m110 -22h0m27 -71h0m-200 120h0m148 -210h0m-106 90h0m100 -5h0m-51 -130h0m54 46h0m48 108h0m81 94h0m-168 -32h0m-121 -51h0m-13 15h0m298 -17h0m-83 148h0m-8 -136h0m9 163h0m-213 -201h0m96 101h0m-68 -106h0m155 58h0m-11 -67h0m117 -1h0m-124 118h0m68 -152h0m-49 -49h0m-122 146h0m-67 -54h0m139 -16h0m-56 -68h0m72 33h0m28 147h0m35 -98h0m-20 8h0m-48 -34h0m64 69h0m-15 10h0m-173 -114h0m276 108h0m-198 -60h0m-62 -77h0m274 219h0m-91 -1h0m4 -30h0m-211 -61h0m120 -160h0m-67 144h0m32 44h0m-48 19h0m49 -172h0m-64 83h0m278 91h0m-199 -123h0m80 16h0m-63 147h0m-90 -53h0m138 -34h0m46 -17h0m-41 -74h0m-66 121h0m-34 -41h0m41 13h0m-126 -17h0m51 73h0m158 51h0m-219 -152h0m41 12h0m210 75h0m3 15h0m-219 -5h0m41 -2h0m37 -151h0m125 -27h0m-112 5h0m-19 -24h0m177 98h0m54 107h0m-50 -116h0m-173 0h0m-3 -30h0m-57 -2h0m277 175h0m-257 -49h0m148 -134h0m57 173h0m-112 -127h0m66 -63h0m-167 127h0m284 57h0m-210 -178h0m193 163h0m-224 -97h0m-44 -46h0m145 149h0m-31 32h0m-106 -21h0m79 -113h0m79 52h0m-103 19h0m-60 -148h0m37 -62h0m97 274h0m11 -171h0m-188 50h0m251 0h0m-39 -75h0m-44 -9h0m-76 173h0m-40 -84h0m-9 117h0m31 -76h0m89 97h0m-51 -59h0m-124 -117h0m126 -113h0m71 234h0m-11 3h0m-151 7h0m3 -63h0m-4 91h0m-12 -181h0m142 39h0m-130 -6h0m218 65h0m-157 -141h0m71 166h0m-166 0h0m311 -59h0m-177 16h0m-26 43h0m234 28h0m-147 36h0m69 -169h0m-140 -67h0m90 157h0m84 67h0m-94 -182h0m61 66h0m-220 -30h0m263 106h0m-235 14h0m12 -119h0m47 -44h0m73 188h0m-61 1h0m160 -75h0m-249 -88h0m240 34h0m-127 -3h0m108 55h0m-230 12h0m192 20h0m-60 71h0m28 -128h0m-122 -148h0m148 270h0m-105 -38h0m-59 -202h0m70 121h0m-101 53h0m180 -161h0m-96 131h0m128 -44h0m1 14h0m-165 -76h0m-84 126h0m184 80h0m-8 -171h0m-133 -27h0m2 1h0m-23 97h0m108 -12h0m141 -42h0m-46 14h0m-13 193h0m84 -173h0m-152 -153h0m194 228h0m-328 -51h0m156 -22h0m-41 -55h0m61 -100h0m6 135h0m-137 -38h0m240 157h0m-55 67h0m-92 -244h0m-91 176h0m55 -208h0m13 161h0m68 7h0m10 101h0m-176 -154h0m-31 24h0m202 -36h0m-151 -35h0m155 31h0m-51 111h0m-119 -42h0m225 -111h0m-6 30h0m-76 -46h0m42 127h0m-186 -99h0m8 43h0m109 -128h0m80 133h0m-147 -71h0m64 80h0m-20 -149h0m-86 77h0m205 47h0m-200 -140h0m159 169h0m55 -18h0m57 -21h0m-139 37h0m52 148h0m-9 -161h0m-117 53h0m-116 -116h0m82 -75h0m0 59h0m20 1h0m180 183h0m-74 -180h0m-143 104h0m250 13h0m-156 4h0m118 -78h0m42 37h0m6 -19h0m-108 61h0m131 16h0m-65 -25h0m-134 -125h0m-102 160h0m99 -204h0m81 101h0m-218 14h0m50 -69h0m134 209h0m-121 -160h0m243 35h0m1 -34h0m-1 81h0m-231 -155h0m141 106h0m-185 -127h0m-12 140h0m169 -68h0m-19 164h0m-63 -133h0m107 -49h0m-56 29h0m115 106h0m26 -68h0m-265 23h0m-16 3h0m103 50h0m45 -9h0m4 66h0m57 35h0m-5 -244h0m-134 37h0m151 63h0m-208 -14h0m154 110h0m-103 -250h0m22 213h0m152 -28h0m-84 -115h0m-10 85h0m-74 -56h0m166 -26h0m-127 110h0m12 -178h0m121 204h0m-165 -147h0m250 140h0m-276 -56h0m88 41h0m-2 -180h0m90 89h0m-142 -123h0m-8 120h0m18 88h0m111 -18h0m-120 -5h0m2 1h0m-16 -86h0m39 -121h0m187 155h0m-89 31h0m-65 73h0m-106 -52h0m50 52h0m-45 -56h0m119 15h0m22 -73h0m138 73h0m-115 26h0m76 -52h0m-69 -102h0m-165 162h0m35 -192h0m96 268h0m-32 -142h0m-29 -145h0m-73 196h0m265 4h0m-271 -127h0m153 165h0m-109 -66h0m-31 -51h0m206 9h0m-241 -89h0m65 -7h0m191 140h0m-255 -23h0m61 -172h0m115 64h0m27 228h0m-122 -78h0m132 -104h0m-240 -39h0m185 71h0m20 -10h0m-41 -30h0m-80 116h0m54 -211h0m-78 27h0m52 212h0m135 -133h0m-81 92h0m114 -1h0m-194 -134h0m229 83h0m-101 15h0m-228 -58h0m224 40h0m11 -106h0m-68 195h0m-16 -223h0m-68 -30h0m-66 127h0m97 114h0m-51 -103h0m277 88h0m-304 -125h0m134 16h0m-139 9h0m97 -20h0m-23 -96h0m217 162h0m-267 2h0m42 -130h0m-13 189h0m23 -144h0m23 -84h0m-58 87h0m-60 137h0m133 -51h0m-28 41h0m96 -117h0m-12 -28h0m73 44h0m-212 116h0m-10 -206h0m-24 138h0m93 -16h0m48 -80h0m-55 -43h0m-66 112h0m-30 75h0m210 23h0m67 -103h0m-192 4h0m161 62h0m-49 15h0m10 13h0m-15 60h0m-166 -75h0m44 33h0m91 -222h0m-37 -4h0m130 186h0m-21 -99h0m35 79h0m-267 32h0m12 -120h0m73 -65h0m178 170h0m-72 -9h0m95 -14h0m-139 -169h0m-113 35h0m148 292h0m-60 -267h0m54 109h0m-4 -132h0m-98 163h0m-26 -24h0m-16 -128h0m55 93h0m29 16h0m-97 21h0m100 -93h0m-64 139h0m-8 33h0m69 -128h0m-118 67h0m270 -46h0m-59 109h0m-146 -89h0m113 -24h0m-92 -139h0m80 105h0m94 61h0m-147 -167h0m79 208h0m132 8h0m-130 -22h0m-5 27h0m-35 -76h0m-90 113h0m173 -94h0m21 15h0m-175 -181h0m72 174h0m-48 22h0m124 109h0m-79 -31h0m-79 -173h0m167 21h0m-172 98h0m-12 -33h0m-3 -202h0m87 50h0m-74 21h0m-78 155h0m14 28h0m54 -23h0m62 -77h0m159 0h0m-166 -90h0m141 140h0m-170 46h0m186 -55h0m-165 -120h0m16 162h0m-35 -4h0m75 -160h0m132 193h0m-170 -38h0m-24 15h0m168 -40h0m-155 -48h0m-29 -89h0m56 153h0m-36 20h0m54 -176h0m-1 -6h0m-89 114h0m103 135h0m-55 -105h0m9 -27h0m16 26h0m151 67h0m-229 -147h0m166 163h0m-216 -149h0m61 -100h0m69 220h0m-26 4h0m-18 -13h0m-24 -12h0m159 -80h0m-116 16h0m42 -129h0m155 190h0m-14 47h0m-291 -163h0m17 80h0m-40 11h0m175 -93h0m148 98h0m-293 -18h0m273 36h0m-120 -73h0m-148 -13h0m198 45h0m-172 11h0m56 -156h0m-58 184h0m-43 -151h0m15 97h0m-23 -2h0m187 -140h0m-58 178h0m1 34h0m-15 -127h0m33 169h0m-25 -76h0m-88 -151h0m-2 -6h0m44 56h0m53 -65h0m-67 70h0m-42 79h0m178 -22h0m-16 6h0m-105 40h0m-18 -35h0m155 -136h0m-169 135h0m39 75h0m58 -243h0m26 229h0m-48 -180h0m46 233h0m93 -120h0m-251 -35h0m156 -16h0m28 147h0m-46 -78h0m149 0h0m-136 -41h0m-66 51h0m162 40h0m-111 -194h0m-82 -27h0m-64 73h0m42 -6h0m116 45h0m-9 -38h0m22 166h0m-10 -7h0m122 -47h0m-130 -136h0m145 118h0m-279 -16h0m220 -9h0m20 6h0m-80 -118h0m66 275h0m-89 -247h0m30 41h0m53 202h0m-166 -231h0m123 201h0m-61 -107h0m71 -118h0m-29 190h0m-123 -76h0m68 -121h0m88 109h0m-4 69h0m-77 -196h0m-107 183h0m72 -98h0m178 102h0m-12 -52h0m-169 38h0m-74 39h0m145 -105h0m16 -57h0m-50 97h0m195 39h0m-19 0h0m-7 48h0m16 -16h0m-25 -57h0m-194 30h0m194 22h0m-98 40h0m-142 -59h0m180 -144h0m1 68h0m-50 168h0m-53 -269h0m-33 -4h0m27 122h0m163 -38h0m-207 98h0m113 101h0m-136 -184h0m-33 63h0m85 -79h0m185 134h0m-9 -66h0m-61 29h0m-170 -214h0m68 -30h0m-51 92h0m145 5h0m34 117h0m-219 25h0m119 -60h0m7 96h0m151 -90h0m-241 -120h0m102 98h0m-133 11h0m100 -115h0m84 187h0m-190 -23h0m284 -24h0m-174 15h0m-48 68h0m166 -112h0m-244 -64h0m284 193h0m-222 -177h0m224 156h0m-94 -145h0m-133 131h0m39 -216h0m110 200h0m74 4h0m-65 -150h0m58 139h0m-239 -125h0m17 -5h0m61 12h0m-100 9h0m198 33h0m37 -24h0m-148 13h0m-21 -41h0m-37 99h0m139 88h0m-101 -209h0m61 162h0m-121 -63h0m126 -39h0m11 -7h0m-96 117h0m47 -260h0m-65 133h0m162 77h0m-56 -118h0m8 -63h0m0 164h0m-1 107h0m72 -152h0m-39 -87h0m60 173h0m-90 -163h0m-28 43h0m-23 -48h0m-106 88h0m186 -55h0m39 90h0m29 -47h0m-47 105h0m-21 -22h0m20 -68h0m0 -38h0m-71 -13h0m-35 169h0m109 -147h0m-15 -28h0m-11 26h0m-120 -63h0m144 -5h0m-10 10h0m-149 167h0m-21 -174h0m236 182h0m-109 -137h0m-151 -16h0m6 26h0m97 -43h0m-7 25h0m159 110h0m-24 -28h0m-139 57h0m-9 -95h0m227 112h0m-175 -94h0m30 82h0m133 5h0m-158 -81h0m-107 -121h0m189 303h0m-29 -233h0m-127 -69h0m107 128h0m57 45h0m-174 -95h0m7 42h0m43 7h0m32 -66h0m36 113h0m7 -136h0m95 202h0m-111 48h0m16 -123h0m73 -30h0m-178 -63h0m65 -16h0m-134 -35h0m68 151h0m99 -105h0m-9 152h0m126 -16h0m-116 -152h0m-58 104h0m-20 -73h0m53 60h0m-71 93h0m20 -157h0m174 18h0m-161 -5h0m-87 -105h0m45 232h0m162 -114h0m-205 18h0m92 38h0m-43 74h0m128 -101h0m-173 -86h0m166 42h0m-57 -53h0m131 57h0m-88 116h0m-163 -29h0m80 -84h0m-49 0h0m171 195h0m-218 -120h0m281 -7h0m-136 -43h0m-66 -41h0m48 50h0m141 83h0m-160 -47h0m37 91h0m17 -226h0m143 205h0m-253 -250h0m113 71h0m9 149h0m-75 -171h0m205 158h0m-50 62h0m-111 -177h0m-91 163h0m178 -32h0m-60 -123h0m-141 1h0m161 140h0m-93 -127h0m31 90h0m-21 -211h0m-44 -7h0m-73 84h0m48 102h0m88 -9h0m-133 -47h0m286 85h0m-300 -77h0m49 84h0m4 4h0m52 -149h0m67 93h0m89 -15h0m15 94h0m40 -15h0m-97 87h0m-202 -118h0m223 79h0m-54 -127h0m-143 -135h0m58 120h0m-39 40h0m212 -41h0m-230 -8h0m188 137h0m-135 -267h0m97 105h0m13 -42h0m-143 50h0m59 -15h0m175 105h0m15 -35h0m-192 -7h0m53 -43h0m62 109h0m12 -47h0m-177 -195h0m-24 197h0m-13 -130h0m-12 36h0m264 55h0m1 108h0m-100 -106h0m-116 -156h0m101 319h0m18 -4h0m-27 -89h0m-96 4h0m87 -43h0m78 163h0m-79 -335h0m1 29h0m46 239h0m-56 -100h0m-127 -67h0m200 99h0m-183 -84h0m143 124h0m-9 -203h0m127 111h0m-137 122h0m-148 -81h0m105 -129h0m22 -42h0m-48 82h0m111 124h0m-188 -20h0m252 -69h0m-265 35h0m291 92h0m34 -76h0m-311 -7h0m291 12h0m3 74h0m-34 -52h0m-6 36h0m-67 -231h0m72 177h0m-185 -50h0m-41 -21h0m263 120h0m-170 -69h0m-68 -130h0m157 72h0m-169 -111h0m84 171h0m-37 77h0m236 -34h0m-156 31h0m23 -56h0m-80 1h0m-58 44h0m188 -108h0m-212 126h0m161 -103h0m-80 -131h0m36 171h0m-62 -15h0m20 -60h0m15 81h0m-30 -106h0m19 108h0m-68 -213h0m19 170h0m15 -1h0m18 -182h0m6 230h0m202 -46h0m-50 -34h0m-171 -6h0m-14 -124h0m40 122h0m207 87h0m-230 -194h0m155 159h0m-202 78h0m122 -140h0m-123 12h0m242 9h0m-183 114h0m91 -190h0m-13 -29h0m48 151h0m70 41h0m-41 -31h0m-213 -15h0m80 -156h0m-39 97h0m-30 -98h0m143 206h0m21 11h0m62 47h0m10 -147h0m-167 -68h0m-110 55h0m187 73h0m-42 -158h0m25 -18h0m9 291h0m-103 -64h0m63 39h0m-122 -189h0m182 4h0m-48 -8h0m-70 61h0m83 126h0m-191 -169h0m11 -37h0m240 225h0m-195 -297h0m57 -12h0m-9 240h0m-57 -121h0m133 187h0m33 -224h0m116 151h0m-297 -109h0m221 41h0m-223 -33h0m299 103h0m-248 18h0m60 -244h0m-122 205h0m155 -40h0m103 -6h0m-242 -60h0m-29 2h0m314 157h0m-75 -59h0m-214 45h0m147 -89h0m-71 -8h0m83 65h0m12 -40h0m-155 94h0m45 -243h0m23 73h0m-44 -32h0m12 184h0m138 90h0m-103 -136h0m159 -54h0m-22 57h0m-207 -191h0m-13 90h0m-32 59h0m39 -124h0m79 206h0m-97 -132h0m118 91h0m176 -63h0m-161 -19h0m-68 140h0m-3 -133h0m198 53h0m-108 38h0m181 12h0m-151 -9h0m-99 30h0m46 -203h0m125 181h0m-44 -111h0m45 120h0m-148 -182h0m76 10h0m-171 104h0m171 75h0m28 -133h0m-227 51h0m218 -40h0m-212 24h0m264 46h0m15 5h0m-25 -1h0m-30 -30h0m-16 172h0m50 -207h0m-141 -40h0m134 133h0m-122 -57h0m134 -15h0m-156 -124h0m57 -7h0m11 190h0m-149 -12h0m-13 -138h0m34 90h0m251 57h0m-157 8h0m-33 -150h0m109 116h0m-221 -59h0m121 -16h0m52 4h0m-176 51h0m215 -5h0m18 145h0m-17 -268h0m99 166h0m-298 7h0m313 54h0m-268 -271h0m87 141h0m17 127h0m10 -10h0m47 8h0m42 -31h0m5 -99h0m47 148h0m-105 -159h0m-202 -30h0m213 10h0m52 44h0m17 122h0m-249 -157h0m269 33h0m-87 129h0m-20 6h0m125 -16h0m-228 -195h0m47 60h0m144 148h0m-127 -226h0m-144 147h0m38 -119h0m203 154h0m-186 -139h0m-54 153h0m222 -23h0m-46 88h0m-18 -215h0m-1 34h0m118 149h0m-81 -223h0m-192 32h0m-18 156h0m250 -88h0m-20 124h0m-43 -182h0m-160 -25h0m111 25h0m168 86h0m-314 -81h0m4 136h0m-11 -140h0m70 64h0m22 -30h0m108 27h0m-62 50h0m-73 -12h0m127 -175h0m-96 199h0m2 -155h0m-62 10h0m70 -46h0m44 234h0m-12 -223h0m-115 157h0m121 32h0m14 -17h0m-26 -155h0m-27 17h0m1 -68h0m118 159h0m-174 -155h0m177 181h0m-42 -97h0m92 139h0m-96 -71h0m130 53h0m14 17h0m-134 62h0m103 -72h0m-32 -50h0m-49 -53h0m104 44h0m-249 57h0m-17 42h0m261 -97h0m-204 25h0m-41 -94h0m156 42h0m-6 76h0m-92 -37h0m73 -35h0m-147 -98h0m263 219h0m-87 -42h0m-108 -26h0m197 4h0m-83 33h0m-161 -73h0m147 6h0m-11 115h0m-43 -123h0m-2 -46h0m-123 -47h0m179 190h0m-51 -55h0m-48 53h0m-79 -237h0m129 254h0m65 -156h0m-116 -55h0m-16 151h0m-92 -99h0m166 50h0m-38 17h0m-124 -93h0m258 150h0m-168 16h0m-24 -110h0m12 -145h0m123 109h0m87 165h0m-268 -185h0m150 23h0m-11 123h0m131 -58h0m-185 21h0m57 -112h0m-122 77h0m-46 69h0m18 -141h0m90 74h0m-117 -3h0m217 -102h0m84 160h0m-5 -78h0m-94 -25h0m17 159h0m-2 -140h0m-197 23h0m208 -27h0m-41 -24h0m-51 -120h0m61 131h0m-87 120h0m-48 -78h0m101 21h0m158 69h0m-127 35h0m34 -87h0m-58 85h0m-171 -95h0m263 -77h0m-56 62h0m-188 10h0m304 -5h0m-246 -122h0m121 154h0m5 -70h0m-26 173h0m-82 -236h0m77 42h0m-12 -10h0m35 127h0m61 117h0m-199 -141h0m33 -119h0m97 222h0m-14 -55h0m14 -162h0m-87 -70h0m-35 -12h0m133 27h0m46 92h0m-155 -143h0m71 204h0m118 71h0m-174 -11h0m79 -52h0m-111 -85h0m20 125h0m112 -111h0m73 112h0m-108 51h0m-99 -166h0m21 142h0m215 -73h0m-156 -82h0m-84 -20h0m177 4h0m-26 86h0m-108 68h0m48 -100h0m98 -49h0m-161 116h0m110 -39h0m-80 -19h0m28 24h0m127 58h0m9 -9h0m9 -107h0m46 110h0m-223 1h0m136 -88h0m-106 -152h0m47 54h0m8 257h0m-166 -93h0m59 -4h0m25 7h0m148 -94h0m-178 40h0m-17 -11h0m161 36h0m-123 66h0m75 -189h0m-83 145h0m104 -30h0m-93 -38h0m-91 79h0m104 -178h0m65 107h0m-88 119h0m1 -93h0m-39 -50h0m123 118h0m2 -223h0m-103 22h0m-3 102h0m85 90h0m8 38h0m104 -48h0m-82 -104h0m-46 35h0m-50 -42h0m225 163h0m-289 -15h0m117 5h0m-87 -83h0m71 -164h0m24 126h0m11 45h0m148 14h0m-107 59h0m1 -12h0m-70 -239h0m-132 201h0m124 -6h0m-51 -181h0m166 68h0m-203 18h0m-19 -59h0m93 68h0m153 80h0m-259 -91h0m269 98h0m-19 -12h0m35 -8h0m-95 83h0m-65 -66h0m8 -93h0m145 40h0m-176 -19h0m133 54h0m-157 -148h0m-39 228h0m-4 -172h0m-1 104h0m216 -88h0m-106 37h0m127 -22h0m-218 39h0m97 -153h0m27 14h0m-142 -6h0m151 241h0m-111 -28h0m51 -82h0m28 105h0m17 -61h0m-100 -152h0m191 92h0m-130 74h0m-2 -152h0m110 53h0m-167 -62h0m43 -20h0m-25 26h0m95 253h0m-111 -167h0m110 66h0m-125 -160h0m60 47h0m66 214h0m-120 -306h0m-72 147h0m86 -82h0m28 58h0m-112 43h0m271 -37h0m-187 -46h0m11 -32h0m-90 80h0m85 13h0m90 85h0m-36 -51h0m-91 -146h0m73 17h0m-79 33h0m64 165h0m-31 24h0m-26 -5h0m-66 -116h0m230 193h0m-111 -292h0m-5 176h0m-37 -126h0m254 147h0m-206 -185h0m105 217h0m-215 -205h0m136 39h0m94 94h0m-136 34h0m33 -5h0m136 -68h0m-44 38h0m-31 -38h0m-45 110h0m138 -48h0m-167 -224h0m-6 160h0m164 -29h0m-49 203h0m-129 -282h0m-43 41h0m169 -14h0m-190 177h0m-9 -160h0m281 56h0m-100 -34h0m-167 44h0m83 -115h0m-9 9h0m190 148h0m-152 -156h0m-31 48h0m-86 -3h0m148 169h0m-80 -180h0m213 172h0m-242 -164h0m134 74h0m-10 139h0m-86 -194h0m-82 128h0m178 26h0m-10 -133h0m96 92h0m-197 -129h0m42 -87h0m-49 111h0m-65 127h0m94 -215h0m75 1h0m-96 61h0m155 18h0m32 36h0m-203 -130h0m123 142h0m-64 -31h0m31 -18h0m-24 97h0m-38 -233h0m-114 220h0m64 -6h0m-2 -120h0m113 65h0m-50 -85h0m4 14h0m-102 187h0m64 -198h0m12 59h0m35 -24h0m30 -36h0m35 96h0m103 4h0m-129 162h0m-100 -194h0m4 143h0m3 -253h0m190 163h0m-212 -41h0m199 -11h0m-20 11h0m-184 -137h0m131 26h0m11 185h0m-110 -198h0m105 12h0m88 210h0m7 -26h0m-217 -118h0m192 77h0m-56 -32h0m-155 -9h0m221 96h0m-209 -210h0m146 226h0m-50 -24h0m-153 17h0m125 -65h0m-43 -113h0m112 274h0m117 -87h0m-258 -37h0m52 -70h0m-39 -123h0m-47 247h0m167 -112h0m-97 -62h0m156 35h0m-67 -23h0m-173 163h0m124 -218h0m-80 230h0m111 -258h0m-21 150h0m61 157h0m-128 -66h0m79 -170h0m1 205h0m156 -27h0m-168 3h0m105 -33h0m-92 -157h0m-101 73h0m13 26h0m19 -196h0m-35 242h0m102 -195h0m-35 71h0m184 158h0m-243 -87h0m78 -43h0m-112 138h0m38 -117h0m21 -94h0m110 268h0m-28 -289h0m89 120h0m-79 37h0m-35 66h0m-46 -115h0m-69 -71h0m131 9h0m-6 125h0m11 23h0m92 -45h0m25 -53h0m-173 -141h0m-17 156h0m101 76h0m28 -25h0m-180 -91h0m83 -11h0m-125 54h0m85 47h0m196 26h0m-54 -117h0m-30 80h0m-55 -142h0m142 153h0m-221 42h0m141 -107h0m-47 -78h0m-129 -9h0m-10 65h0m53 127h0m235 -94h0m-169 142h0m-34 -200h0m152 89h0m-121 97h0m76 -54h0m-19 -43h0m-10 114h0m-160 -144h0m89 -122h0m133 222h0m48 3h0m-107 -6h0m-106 -143h0m157 123h0m-77 -187h0m-118 203h0m18 -117h0m181 54h0m-150 -119h0m10 119h0m-74 -96h0m290 161h0m-118 -21h0m-107 13h0m157 -30h0m64 62h0m-312 -139h0m290 47h0m-45 17h0m-102 31h0m161 62h0m-109 -253h0m45 165h0m-109 66h0m21 -83h0m55 25h0m-50 -32h0m-62 23h0m-46 -175h0m39 41h0m13 141h0m118 30h0m-16 -92h0m-151 31h0m101 104h0m61 -87h0m-145 -42h0m-18 -52h0m-13 74h0m30 95h0m84 -252h0m47 146h0m-46 1h0m-96 -102h0m144 135h0m-166 -129h0m6 49h0m22 33h0m56 -110h0m-82 151h0m183 21h0m-26 -14h0m41 153h0m-1 16h0m-128 -248h0m101 39h0m-41 92h0m-111 -117h0m79 122h0m60 2h0m-195 -29h0m110 -157h0m109 119h0m-156 -78h0m151 77h0m-207 -44h0m96 -98h0m103 149h0m64 52h0m-27 22h0m-109 -224h0m-3 13h0m-69 190h0m103 43h0m64 -106h0m-97 -174h0m-13 78h0m55 60h0m3 -24h0m-31 51h0m-9 -108h0m109 141h0m-243 46h0m227 -57h0m-237 18h0m220 -106h0m18 68h0m-105 -73h0m-83 168h0m251 -93h0m-15 25h0m-124 51h0m28 -108h0m-126 82h0m160 118h0m3 -163h0m-160 -118h0m86 71h0m-68 -100h0m201 266h0m-87 -263h0m-57 10h0m131 187h0m-231 -51h0m0 -104h0m-29 64h0m41 -106h0m51 44h0m76 202h0m95 -11h0m-220 -154h0m78 103h0m-82 -22h0m-10 -155h0m280 160h0m-125 129h0m-155 -60h0m93 -18h0m-61 -256h0m102 197h0m-117 -53h0m98 -108h0m22 59h0m46 -36h0m9 159h0m-30 -85h0m-42 -31h0m87 124h0m-92 -180h0m37 177h0m-153 -142h0m192 108h0m-179 31h0m140 47h0m-166 5h0m20 -218h0m182 289h0m-123 -350h0m111 72h0m-107 -13h0m-96 170h0m252 -31h0m-220 71h0m276 25h0m-24 -56h0m-213 -162h0m122 178h0m-84 -209h0m36 -24h0m-72 51h0m203 160h0m-225 -153h0m177 142h0m-58 100h0m-181 -215h0m21 -37h0m134 161h0m-129 -31h0m75 -83h0m-52 124h0m141 -179h0m11 126h0m102 61h0m-237 4h0m139 -165h0m-75 -56h0m-119 235h0m117 -125h0m57 55h0m-15 14h0m-5 6h0m-53 -139h0m43 145h0m57 -67h0m2 25h0m-138 79h0m86 -214h0m-61 207h0m-56 -225h0m26 156h0m22 -140h0m52 256h0m127 -92h0m-77 88h0m-74 -183h0m140 165h0m-122 -72h0m-71 16h0m137 -55h0m-114 17h0m28 -92h0m-11 26h0m60 23h0m136 51h0m-294 -119h0m242 158h0m-68 -89h0m5 197h0m-141 -75h0m73 -175h0m-63 -40h0m92 242h0m66 -49h0m-1 -57h0m-99 -67h0m125 230h0m-149 -204h0m23 73h0m-18 -84h0m131 8h0m-139 -53h0m88 56h0m-66 30h0m-108 -19h0m103 -148h0m132 142h0m-158 -135h0m-70 207h0m61 -104h0m149 76h0m-12 136h0m11 -36h0m-228 -154h0m159 -41h0m55 8h0m-58 146h0m-20 -249h0m-107 153h0m189 -71h0m-218 93h0m21 47h0m52 -120h0m73 135h0m107 -97h0m-189 -10h0m156 8h0m26 18h0m-195 57h0m221 61h0m-154 -4h0m115 -136h0m-126 -28h0m110 -36h0m-24 -4h0m-53 -20h0m151 188h0m-190 -238h0m48 215h0m89 153h0m-113 -174h0m135 -58h0m-114 98h0m196 13h0m-322 -79h0m24 -1h0m-28 97h0m96 -238h0m135 96h0m-157 -23h0m110 -22h0m143 185h0" stroke="#e4c6ea" stroke-width="3.4" stroke-linecap="round" fill="none" stroke-opacity="0.9"/>
<path d="M2232 2127h0m166 110h0m-121 -244h0m252 240h0m-107 -216h0m78 82h0m-153 -34h0m86 65h0m79 -8h0m-53 -8h0m2 1h0m70 121h0m-10 -86h0m-157 -29h0m-26 7h0m-99 35h0m147 -170h0m-22 -34h0m28 46h0m35 166h0m-87 -177h0m22 35h0m-17 -23h0m59 241h0m9 -107h0m-103 -88h0m49 -42h0m5 145h0m3 -58h0m176 127h0m-157 -139h0m44 170h0m-92 -58h0m32 -169h0m100 170h0m27 -103h0m-270 -22h0m266 77h0m-74 9h0m77 0h0m-119 48h0m87 56h0m23 -150h0m-247 87h0m118 -191h0m-58 -20h0m196 154h0m18 24h0m-150 46h0m108 -156h0m39 30h0m-130 101h0m-72 31h0m25 -273h0m49 28h0m-21 159h0m166 105h0m-108 -32h0m-7 -181h0m138 207h0m-255 -171h0m173 234h0m-89 -181h0m-110 116h0m157 -164h0m-114 120h0m-35 -207h0m-48 186h0m205 62h0m12 -4h0m31 81h0m-86 -62h0m177 -49h0m-15 -32h0m-269 17h0m110 -167h0m-169 91h0m289 8h0m-9 124h0m-48 -232h0m-94 190h0m-69 -58h0m107 67h0m-12 -124h0m-146 22h0m40 18h0m276 65h0m-100 -54h0m37 -6h0m-205 -126h0m98 85h0m-127 -47h0m124 147h0m119 60h0m3 -14h0m-217 -63h0m87 68h0m-59 -272h0m36 150h0m15 -109h0m45 254h0m-168 -78h0m133 -155h0m179 186h0m-284 -208h0m103 193h0m-121 -169h0m54 -16h0m228 226h0m-294 -76h0m71 56h0m-38 -237h0m217 189h0m-147 4h0m-75 58h0m103 -43h0m-46 -147h0m-32 -33h0m104 160h0m-121 -168h0m1 196h0m-1 -111h0m-17 39h0m40 -63h0m-12 -13h0m229 71h0m-185 -91h0m43 131h0m36 -2h0m-44 -139h0m167 106h0m-157 81h0m73 -40h0m-87 47h0m120 -103h0m-194 89h0m-3 -199h0m104 57h0m4 96h0m-93 -63h0m133 31h0m-104 -7h0m205 121h0m-264 -71h0m-12 -63h0m-38 63h0m220 58h0m-124 -201h0m11 88h0m16 -45h0m165 34h0m-226 -28h0m275 155h0m-258 -270h0m162 190h0m-222 -59h0m164 188h0m92 -80h0m-211 -113h0m30 -110h0m122 165h0m-138 -125h0m156 224h0m-124 -152h0m178 103h0m-223 -170h0m71 136h0m149 82h0m-41 -28h0m-174 -235h0m145 218h0m-80 -43h0m-29 74h0m14 -265h0m-68 43h0m244 154h0m-285 39h0m17 -166h0m161 190h0m-122 -104h0m77 110h0m49 7h0m40 -2h0m-71 -58h0m-127 -69h0m15 -53h0m22 -61h0m84 152h0m-106 -79h0m191 68h0m-210 11h0m218 49h0m-35 -188h0m-145 18h0m31 72h0m-30 109h0m173 -9h0m-175 -174h0m57 37h0m8 103h0m37 -164h0m18 196h0m142 17h0m-321 -125h0m216 72h0m40 -13h0m-114 -7h0m-74 -38h0m226 51h0m-210 61h0m56 -56h0m24 24h0m13 -158h0m102 167h0m-244 -8h0m163 131h0m-155 -70h0m11 -210h0m179 250h0m-204 -65h0m12 -71h0m74 -180h0m-51 138h0m52 25h0m82 138h0m-118 -57h0m91 -53h0m-167 -7h0m181 103h0m-18 -149h0m18 -84h0m-157 42h0m195 148h0m-93 -64h0m-80 70h0m147 84h0m-29 -131h0m-59 -84h0m-41 -85h0m229 223h0m-141 -203h0m-159 52h0m67 120h0m256 15h0m-288 0h0m212 59h0m-68 -90h0m-1 75h0m-104 -38h0m6 -226h0m212 159h0m-85 -82h0m-70 -55h0m-87 1h0m-44 97h0m295 75h0m-124 92h0m22 -210h0m-55 -68h0m-109 178h0m203 81h0m-57 34h0m-143 -146h0m243 45h0m-242 -44h0m88 -112h0m25 163h0m-120 -129h0m64 174h0m-4 -253h0m94 148h0m-140 69h0m283 0h0m-210 -20h0m-3 26h0m-71 -164h0m-49 84h0m312 105h0m-28 -106h0m-139 52h0m20 -107h0m35 -35h0m-138 13h0m-10 109h0m288 49h0m-26 -82h0m-266 97h0m232 4h0m-91 18h0m-155 -220h0m72 -27h0m-35 34h0m112 90h0m0 -90h0m-130 188h0m91 -4h0m91 -69h0m68 97h0m23 4h0m-236 -226h0m-83 171h0m108 -90h0m42 44h0m-114 -86h0m115 54h0m-120 -8h0m51 -113h0m-40 13h0m148 135h0m-182 0h0m293 -37h0m-216 83h0m-21 -13h0m31 -159h0m14 92h0m201 2h0m-161 -101h0m-61 11h0m217 177h0m-13 -74h0m-279 103h0m160 -13h0m-73 -197h0m102 119h0m-23 -95h0m-38 -23h0m72 187h0m54 32h0m-241 -82h0m81 -144h0m47 98h0m14 50h0m44 18h0m-163 -46h0m192 144h0m-139 -142h0m55 -56h0m-81 -60h0m-29 33h0m84 71h0m167 64h0m-256 13h0m78 -184h0m95 296h0m-35 -261h0m51 250h0m-40 -50h0m-19 30h0m-60 -192h0m-8 143h0m121 -97h0m-70 127h0m44 -233h0m-11 -12h0m7 133h0m-132 -100h0m199 126h0m-127 -109h0m-9 101h0m-77 -29h0m-38 84h0m170 66h0m2 -141h0m-77 -15h0m124 -41h0m-32 -91h0m100 211h0m-233 -165h0m121 218h0m7 -227h0m-178 189h0m72 -167h0m-57 -33h0m90 -2h0m80 70h0m-49 -20h0m52 155h0m29 -48h0m-161 -38h0m162 4h0m-22 83h0m-53 41h0m-93 -58h0m270 17h0m-83 -49h0m-73 89h0m20 -87h0m-117 -172h0m-79 196h0m201 1h0m117 -20h0m-264 -56h0m61 -125h0m32 225h0m64 23h0m-138 -247h0m162 86h0m-80 -93h0m-161 195h0m182 91h0m-94 -243h0m60 184h0m-51 -4h0m4 -151h0m-52 -58h0m150 85h0m-170 63h0m60 -74h0m73 -104h0m40 268h0m-61 -195h0m5 160h0m-102 -150h0m33 125h0m148 -3h0m-27 116h0m-71 -101h0m-68 -114h0m126 76h0m13 -165h0m-1 9h0m-8 239h0m-119 -129h0m235 -2h0m-85 -47h0m-5 132h0m3 -56h0m-174 1h0m-32 -38h0m168 -18h0m-173 -17h0m129 -23h0m-54 -41h0m142 133h0m103 56h0m-187 -117h0m-52 -106h0m-61 111h0m143 7h0m-107 -49h0m-37 30h0m-12 30h0m33 -37h0m80 -49h0m-8 -14h0m-34 193h0m197 19h0m-272 -168h0m117 81h0m13 31h0m118 -61h0m-27 99h0m-78 9h0m75 -91h0m-27 -64h0m85 169h0m-263 -47h0m285 43h0m-241 -114h0m-60 77h0m96 -23h0m-46 -63h0m105 -26h0m10 75h0m-29 -96h0m56 174h0m18 -81h0m56 -9h0m-15 63h0m-16 -121h0m-163 42h0m-76 -42h0m300 78h0m-225 71h0m188 -106h0m-71 -99h0m-159 203h0m263 -22h0m-259 -24h0m163 7h0m-36 69h0m140 -131h0m-53 83h0m-146 -130h0m39 132h0m147 -56h0m-176 -181h0m-10 23h0m-10 -10h0m147 160h0m-92 -34h0m45 196h0m-82 -322h0m-24 230h0m41 -107h0m-79 -89h0m15 224h0m96 -41h0m-59 -85h0m119 190h0m32 -180h0m-112 96h0m139 -39h0m-87 52h0m124 4h0m-253 -153h0m-9 -15h0m259 99h0m-148 -47h0m-129 -124h0m18 217h0m-8 -139h0m117 -8h0m-90 -58h0m96 1h0m-180 63h0m17 95h0m112 -35h0m83 -71h0m-102 68h0m97 -108h0m-170 214h0m20 -235h0m12 172h0m213 49h0m-119 -89h0m-113 -41h0m137 180h0m10 -192h0m-76 11h0m73 210h0m-137 -170h0m34 -159h0m243 267h0m-72 -76h0m-110 -28h0m54 48h0m40 -44h0m-106 77h0m17 -69h0m-66 -186h0m144 122h0m-203 35h0m253 127h0m-194 -176h0m-26 -46h0m189 98h0m-150 -138h0m56 64h0m10 53h0m157 117h0m-236 -8h0m99 1h0m-54 -223h0m-98 180h0m-27 -105h0m228 187h0m-63 -195h0m84 82h0m62 91h0m-179 -105h0m2 -140h0m13 121h0m-111 -35h0m65 79h0m187 12h0m-155 -153h0m-5 12h0m-140 64h0m56 132h0m66 -62h0m43 -20h0m184 77h0m-103 107h0m-244 -165h0m209 141h0m-145 -258h0m1 -14h0m224 151h0m-215 -11h0m30 20h0m64 -37h0m-76 -96h0m-38 5h0m0 137h0m14 -211h0m241 250h0m-276 -182h0m1 24h0m-20 133h0m279 -20h0m-51 102h0m-72 -7h0m45 -122h0m67 -28h0m-83 -85h0m-38 118h0m184 37h0m-200 38h0m-31 -55h0m144 -76h0m41 106h0m-154 -176h0m-119 134h0m102 -93h0m-19 -52h0m226 151h0m-147 -92h0m-21 145h0m-53 -8h0m-3 -5h0m32 -232h0m-123 84h0m292 49h0m-46 20h0m-60 148h0m91 -158h0m-89 140h0m-15 -211h0m36 166h0m89 -106h0m-260 15h0m41 -114h0m211 230h0m-171 -265h0m-105 28h0m-1 171h0m68 -86h0m-89 70h0m45 -128h0m132 4h0m-19 166h0m-81 -210h0m132 225h0m-81 -207h0m-77 13h0m121 262h0m-1 -51h0m-88 -253h0m75 200h0m-87 -167h0m145 198h0m-144 -239h0m-28 70h0m47 16h0m121 171h0m-188 0h0m38 -168h0m180 65h0m13 -41h0m-197 97h0m-23 30h0m181 -48h0m-112 -206h0m-11 166h0m79 -31h0m-132 -21h0m7 52h0m121 -60h0m107 90h0m-187 -175h0m73 173h0m-52 -133h0m12 156h0m-29 -152h0m51 196h0m33 -230h0m-163 58h0m183 -34h0m-6 172h0m-20 -28h0m-140 -68h0m136 -35h0m-38 178h0m100 -85h0m-180 -169h0m-62 196h0m183 80h0m-103 -38h0m241 -3h0m-237 -201h0m208 171h0m-133 -119h0m42 -56h0m52 279h0m-156 -216h0m50 44h0m-11 26h0m72 -109h0m-94 -15h0m-64 110h0m156 86h0m-47 -127h0m-30 131h0m68 -59h0m122 71h0m-255 -248h0m105 161h0m-77 -57h0m126 -59h0m54 138h0m4 -3h0m-222 -60h0m15 -7h0m153 192h0m-180 -131h0m104 -172h0m198 245h0m-239 -262h0m203 220h0m-300 -37h0m207 -130h0m-135 110h0m-38 83h0m87 4h0m-13 -198h0m145 170h0m-103 -213h0m-107 109h0m271 140h0m-158 -55h0m32 -84h0m-46 137h0m68 -138h0m-220 -4h0m217 124h0m-134 -19h0m129 -158h0m-163 -7h0m96 45h0m177 124h0m-19 20h0m-218 -144h0m82 90h0m64 21h0m19 -8h0m41 72h0m-275 -30h0m125 21h0m-102 -196h0m16 141h0m113 -120h0m-56 18h0m-61 -47h0m202 88h0m-24 -38h0m-216 55h0m307 21h0m-106 -3h0m60 81h0m-164 -283h0m100 151h0m-86 116h0m141 -118h0m-47 92h0m103 -78h0m-144 95h0m-118 -203h0m248 210h0m-69 -148h0m-57 211h0m52 -142h0m-199 -35h0m-8 -34h0m-4 66h0m135 -148h0m34 96h0m10 72h0m0 -25h0m-59 -119h0m-128 172h0m0 -46h0m102 4h0m106 10h0m-25 -71h0m-121 -49h0m156 31h0m-148 -89h0m153 91h0m38 88h0m-222 -6h0m107 91h0m-10 -53h0m-22 -43h0m-2 -52h0m-103 -55h0m88 83h0m-8 92h0m225 -59h0m-115 26h0m-71 -129h0m180 59h0m-301 51h0m76 -6h0m104 -72h0m9 -37h0m-19 69h0m35 72h0m112 61h0m-173 -155h0m40 -80h0m-41 211h0m73 -88h0m-55 67h0m105 -78h0m-110 -18h0m-47 97h0m142 -118h0m23 142h0m-25 -57h0m-37 51h0m-175 -98h0m157 58h0m103 -51h0m-109 -30h0m-19 -1h0m-44 90h0m104 74h0m-135 -180h0m108 7h0m-42 56h0m-127 -87h0m-23 149h0m1 -52h0m117 -114h0m44 183h0m-74 -200h0m-1 186h0m-21 -122h0m80 11h0m-109 -14h0m210 159h0m-51 -23h0m-147 -14h0m49 -1h0m183 -34h0m4 31h0m-303 2h0m61 -181h0m32 214h0m24 -187h0m80 45h0m-20 -45h0m-46 170h0m-33 -69h0m81 7h0m96 94h0m-173 -190h0m39 -75h0m180 216h0m-315 -9h0m4 -59h0m247 29h0m50 -27h0m-251 -62h0m-23 135h0m170 8h0m-210 -48h0m70 -131h0m17 -44h0m52 43h0m92 30h0m95 174h0m-121 -121h0m-114 52h0m-49 -92h0m162 -76h0m-147 10h0m220 128h0m-264 10h0m111 -57h0m5 -123h0m58 260h0m-10 6h0m-89 -234h0m20 174h0m125 86h0m-236 -152h0m216 157h0m-37 -127h0m105 -45h0m-103 29h0m-58 -23h0m-2 -85h0m-46 112h0m-61 -23h0m44 98h0m278 -10h0m-331 -9h0m276 -9h0m-115 -41h0m132 -10h0m-138 -33h0m46 -24h0m-118 83h0m182 -3h0m-182 -121h0m7 15h0m67 65h0m-60 -22h0m197 22h0m-11 1h0m-210 70h0m50 23h0m99 -81h0m-163 42h0m-21 -108h0m11 -7h0m65 -90h0m130 259h0m-183 -137h0m-27 162h0m7 -193h0m-26 128h0m120 -172h0m-38 183h0m197 29h0m-169 -148h0m154 191h0m-255 -99h0m68 -112h0m108 169h0m8 -28h0m-151 -32h0m24 32h0m-71 -57h0m31 -37h0m-29 55h0m189 10h0m-151 37h0m132 -174h0m-65 -14h0m136 70h0m-155 -70h0m-99 168h0m211 -171h0m21 201h0m-82 -212h0m-48 46h0m-48 138h0m72 -93h0m-84 102h0m132 46h0m-63 -154h0m92 -38h0m-118 148h0m12 -141h0m71 45h0m-3 -4h0m67 44h0m-104 74h0m-23 -211h0m47 65h0m81 19h0m-172 -99h0m26 264h0m144 -142h0m-198 123h0m30 -134h0m231 48h0m-183 11h0m-23 -178h0m74 265h0m12 24h0m105 -49h0m-284 -68h0m105 -154h0m116 249h0m-82 -112h0m-13 5h0m179 89h0m-226 -99h0m-71 -1h0m44 29h0m160 121h0m-23 -18h0m-117 -126h0m92 -11h0m-152 -33h0m43 39h0m178 86h0m1 -95h0m-81 -85h0m-138 12h0m134 189h0m18 -181h0m49 88h0m-104 -116h0m-52 8h0m-57 100h0m211 18h0m-90 29h0m-52 -196h0m180 206h0m-222 -5h0m204 -116h0m-153 -84h0m-73 91h0m143 -96h0m-133 61h0m191 -46h0m32 140h0m-99 62h0m32 21h0m-90 -121h0m73 -111h0m86 229h0m-164 -211h0m64 110h0m2 -78h0m-120 125h0m51 -108h0m107 232h0m-24 -305h0m-91 231h0m94 -236h0m-109 39h0m0 32h0m292 159h0m-169 -195h0m-106 78h0m195 17h0m-161 123h0m-9 -245h0m160 245h0m-186 -218h0m-14 221h0m66 -69h0m108 -142h0m-222 87h0m63 65h0m169 -3h0m-167 -29h0m56 10h0m-13 32h0m78 -94h0m-127 -109h0m-20 113h0m-29 -38h0m148 -63h0m2 166h0m13 -163h0m38 172h0m-46 8h0m-152 -15h0m96 73h0m-88 -82h0m199 -26h0m-173 -69h0m207 38h0m-117 -85h0m143 218h0m-232 -7h0m138 37h0m-106 -186h0m206 36h0m-116 78h0m23 11h0m-19 -145h0m25 92h0m-68 -36h0m133 95h0m-195 -225h0m102 211h0m29 -72h0m4 -19h0m39 53h0m-30 -97h0m-63 190h0m-39 -160h0m104 205h0m91 -158h0m-289 34h0m49 -189h0m236 203h0m-102 -133h0m-73 136h0m9 -44h0m-24 -73h0m105 153h0m-181 -29h0m126 -16h0m-78 -203h0m-43 25h0m94 70h0m-24 -108h0m24 267h0m194 12h0m-167 -23h0m-44 -193h0m-38 39h0m21 143h0m168 -48h0m-228 -83h0m221 85h0m-94 -25h0m104 121h0m46 -100h0m-221 -30h0m2 -46h0m-37 40h0m167 89h0m-80 -18h0m113 -69h0m-4 17h0m38 -19h0m-112 -14h0m-100 -79h0m103 215h0m-114 -115h0m83 54h0m-92 -49h0m86 -137h0m-99 196h0m-42 2h0m67 -220h0m32 12h0m200 267h0m-235 -10h0m114 -102h0m-108 -76h0m95 219h0m49 -27h0m36 -18h0m-51 -98h0m-128 110h0m12 -250h0m-77 166h0m139 -37h0m140 26h0m-124 36h0m111 53h0m-54 -4h0m-11 -231h0m-99 -33h0m37 21h0m-136 52h0m120 139h0m-31 -14h0m-61 -19h0m251 76h0m-115 -38h0m-6 -113h0m-40 -107h0m-116 80h0m53 171h0m15 -45h0m135 -100h0m-84 -68h0m25 252h0m-95 -249h0m242 118h0m-188 79h0m100 -175h0m-134 163h0m-1 44h0m72 -39h0m-79 -133h0m7 159h0m71 41h0m-161 -113h0m129 41h0m-17 -167h0m22 111h0m132 24h0m14 76h0m-49 -70h0m-157 -185h0m75 156h0m61 3h0m-91 23h0m47 -50h0m-85 132h0m53 -190h0m-59 18h0m120 -44h0m-20 147h0m-132 -93h0m127 180h0m-62 -226h0m-78 -29h0m284 105h0m-78 11h0m-185 71h0m-31 -86h0m17 73h0m116 -184h0m64 219h0m-141 -229h0m97 209h0m-73 -146h0m140 231h0m-82 -212h0m164 99h0m-182 -204h0m67 80h0m92 205h0m-284 -139h0m165 86h0m55 49h0m-51 -74h0m-34 72h0m-134 -105h0m211 32h0m-182 -172h0m1 237h0m184 -129h0m-17 -88h0m-93 5h0m84 20h0m-142 39h0m75 108h0m182 -16h0m-186 51h0m85 -90h0m33 31h0m-209 -166h0m74 78h0m-65 -66h0m271 236h0m-98 -225h0m-214 23h0m146 115h0m36 -145h0m-20 -11h0m10 273h0m113 -158h0m-226 -96h0m99 164h0m91 -3h0m53 8h0m-266 -108h0m110 -67h0m43 17h0m10 21h0m33 186h0m-19 -132h0m-29 -78h0m52 235h0m-11 -99h0m-181 25h0m180 -65h0m14 39h0m-76 75h0m129 -81h0m-109 -92h0m80 12h0m-132 -114h0m89 152h0m-134 -155h0m51 228h0m16 51h0m181 -21h0m-314 -38h0m54 21h0m210 -30h0m-119 -163h0m32 163h0m52 -7h0m-209 36h0m30 14h0m-30 -5h0m193 83h0m4 -126h0m-107 -44h0m68 134h0m-12 -33h0m83 -15h0m15 4h0m-218 -210h0m66 -1h0m72 68h0m-158 103h0m31 -122h0m12 -29h0m54 -44h0m-40 150h0m-4 -99h0m7 127h0m44 -20h0m-115 28h0m32 -125h0m-80 112h0m111 -189h0m164 200h0m-227 -111h0m92 -32h0m-90 18h0m199 268h0m-185 -80h0m-11 -212h0m6 135h0m170 -125h0m-123 142h0m60 63h0m153 -95h0m-118 -76h0m-62 -29h0m-115 151h0m154 98h0m6 -214h0m45 72h0m-107 -30h0m-24 107h0m-24 29h0m175 66h0m-160 -136h0m24 23h0m-64 -2h0m97 -205h0m-83 248h0m-35 -203h0m176 237h0m-11 22h0m-84 -100h0m12 -234h0m84 68h0m41 238h0m-112 -242h0m56 184h0m-111 -33h0m-52 -132h0m72 90h0m-31 -157h0m-17 20h0m102 215h0m150 -51h0m-218 -52h0m203 74h0m-132 -151h0m102 82h0m-231 -74h0m109 133h0m-57 -98h0m-5 142h0m-55 -136h0m159 37h0m13 -61h0m-71 165h0m126 -8h0m-12 -125h0m-67 -5h0m-82 -36h0m64 112h0m29 -17h0m-101 3h0m209 38h0m-210 -25h0m96 -170h0m44 101h0m-87 -78h0m62 203h0m-85 0h0m32 -179h0m65 166h0m43 75h0m-52 -276h0m101 150h0m41 85h0m-304 -17h0m62 -65h0m133 -84h0m-134 -69h0m222 197h0m-79 -8h0m-154 -117h0m138 119h0m-137 37h0m86 -171h0m13 111h0m-132 -96h0m20 -50h0m175 235h0m-98 -142h0m-23 16h0m127 34h0m-191 31h0m225 32h0m-102 -5h0m-52 -146h0m-56 -111h0m76 235h0m68 56h0m-157 -165h0m192 -18h0m-98 83h0m62 36h0m-15 -80h0m-99 81h0m135 -79h0m-11 192h0m-105 -262h0m172 95h0m-280 26h0m35 58h0m30 22h0m60 -81h0m-87 -116h0m128 -48h0m-138 150h0m-12 -97h0m69 155h0m-69 -164h0m-2 -22h0m223 292h0m51 -120h0m-26 -20h0m34 29h0m-224 -138h0m71 99h0m-134 -63h0m100 -69h0m-72 56h0m134 56h0m-53 -132h0m-7 -31h0m45 36h0m29 -4h0m51 160h0m15 4h0m34 -77h0m-61 40h0m-173 -93h0m34 64h0m50 46h0m90 51h0m49 -30h0m6 -85h0m-160 91h0m-81 -145h0m32 1h0m98 22h0m168 146h0m-201 -236h0m-74 272h0m-3 -41h0m35 -128h0m30 45h0m68 87h0m-142 -191h0m202 110h0m-65 100h0m4 -183h0m97 104h0m-223 -126h0m136 124h0m85 -14h0m-86 78h0m-121 -196h0m120 178h0m-119 -139h0m-78 170h0m65 -6h0m-10 26h0m175 59h0m-164 -277h0m46 -5h0m-82 21h0m-29 179h0m146 -209h0m-156 163h0m125 -26h0m23 -3h0m34 -45h0m49 18h0m-99 92h0m-64 -209h0m250 187h0m-7 18h0m-207 25h0m-71 -68h0m50 -123h0m134 182h0m48 -116h0m-240 -90h0m95 -42h0m131 240h0m2 11h0m-135 -247h0m133 221h0m-114 -188h0m-134 44h0m71 68h0m249 121h0m-280 -163h0m38 52h0m-64 -97h0m32 165h0m50 -193h0m217 209h0m-76 -150h0m16 110h0m-33 127h0m-33 -62h0m-108 -142h0m-28 134h0m61 -200h0m184 92h0m-246 -148h0m238 143h0m-222 43h0m-71 18h0m146 -34h0m-17 65h0m35 -145h0m-77 20h0m1 -23h0m167 152h0m-57 20h0m-84 -15h0m41 -218h0m61 96h0m-158 -128h0m62 251h0m-82 -164h0m197 24h0m-99 -92h0m-58 -29h0m83 187h0m-36 -168h0m82 75h0m130 132h0m-83 -116h0m-26 169h0m-142 -269h0m12 -16h0m202 206h0m-88 133h0m-119 -314h0m-56 219h0m191 -104h0m-5 155h0m-95 -78h0m-12 -27h0m-77 -63h0m151 207h0m-74 -179h0m-8 14h0m-56 -107h0m144 230h0m-98 -24h0m110 25h0m10 -99h0m55 -47h0m-128 116h0m-87 -217h0m4 84h0m39 55h0m-82 -8h0m158 -101h0m11 54h0m-72 -121h0m152 160h0m-171 28h0m51 -139h0m-111 132h0m259 22h0m-250 -162h0m83 177h0m-32 -195h0m-80 60h0m-14 88h0m253 29h0m-106 -116h0m-45 39h0m123 162h0m-134 -218h0m-27 139h0m176 31h0m-108 -89h0m7 117h0m156 -46h0m-236 -213h0m-55 78h0m217 159h0m-116 -158h0m102 129h0m-78 -82h0m-68 97h0m45 34h0m24 -120h0m1 -139h0m-65 116h0m77 -75h0m31 127h0m8 -50h0m-127 -71h0m87 120h0m-64 -152h0m-58 61h0m72 -16h0m-67 30h0m171 244h0m75 -179h0m-97 -59h0m-130 -15h0m230 149h0m-184 -44h0m-42 69h0m180 81h0m-237 -154h0m177 85h0m129 -135h0m-307 15h0m287 54h0m-175 -191h0m74 204h0m61 -38h0m47 31h0m-93 73h0m132 -49h0m-194 -129h0m128 110h0m-23 -7h0m-52 98h0m20 -206h0m30 87h0m-33 89h0m80 -18h0m-17 -12h0m-234 -3h0m189 -129h0m-73 11h0m-41 79h0m84 -125h0m-129 127h0m163 -34h0m36 -58h0m-74 -83h0m-49 -9h0m-11 154h0m68 -135h0m-10 267h0m-138 -51h0m24 -140h0m124 -35h0m-120 -8h0m-8 10h0m50 78h0m-101 24h0m16 1h0m139 83h0m-126 -136h0m-31 32h0m51 -118h0m271 221h0m-206 -124h0m101 142h0m-26 -254h0m-21 223h0m-124 -108h0m128 12h0m-79 19h0m108 -78h0m-219 5h0m324 70h0m-277 -142h0m191 101h0m-86 99h0m52 64h0m-156 -169h0m74 -25h0m-48 177h0m29 -149h0m-93 106h0m123 -69h0m79 -32h0m49 75h0m-67 70h0m-29 -110h0m45 116h0m-119 -229h0m79 198h0m-122 -87h0m71 -125h0m182 139h0m-225 -115h0m75 202h0m-132 -74h0m249 -61h0m-118 56h0m24 65h0m-95 -61h0m149 47h0m-76 47h0m-48 -212h0m92 74h0m-199 -37h0m163 122h0m-92 -52h0m98 -26h0m-39 100h0m-70 -68h0m244 65h0m-143 23h0m35 -210h0m-86 -64h0m109 195h0m-172 -50h0m154 64h0m-44 51h0m147 -81h0m-149 -86h0m25 93h0m4 124h0m34 -26h0m85 -21h0m-31 -97h0m-237 74h0m262 -13h0m-227 -222h0m252 172h0m-274 29h0m-10 14h0m108 -207h0m-76 174h0m26 -91h0m65 74h0m-13 -138h0m-151 122h0m230 -15h0m-19 10h0m-99 -54h0m83 47h0m-19 -39h0m145 161h0m-187 -132h0m146 67h0m-47 32h0m-17 28h0m126 -28h0m-132 103h0m-181 -191h0m196 -52h0m6 85h0m-187 37h0m147 -197h0m44 130h0m-139 -74h0m95 212h0m-118 -278h0m-14 63h0m253 117h0m-111 -166h0m-49 212h0m-58 45h0m30 -65h0m-77 -109h0m117 63h0m-16 40h0m-15 -206h0m76 317h0m21 -38h0m-81 -177h0m37 100h0m8 -87h0m90 59h0m-5 -36h0m-111 18h0m21 136h0m-75 -131h0m-54 -112h0m80 -3h0m-17 196h0m126 -47h0m-209 41h0m80 -44h0m74 -18h0m-62 21h0m-117 -78h0m168 -80h0m171 202h0m-347 -70h0m289 58h0m-123 68h0m-58 -256h0m-35 85h0m136 68h0m43 -42h0m-126 40h0m191 36h0m-251 8h0m130 -214h0m-131 173h0m129 117h0m15 -5h0m-76 -174h0m-43 139h0m83 42h0m-143 -225h0m37 96h0m71 33h0m-137 -127h0m197 -5h0m54 145h0m59 2h0m-172 -15h0m81 -115h0m-158 67h0m201 15h0m-173 -90h0m156 137h0m-52 81h0m37 -218h0m-43 6h0m-77 133h0m110 -178h0m-153 124h0m26 98h0m96 -121h0m-118 32h0m113 -76h0m-118 129h0m194 17h0m-97 -178h0m-156 -14h0m65 -14h0m-5 184h0m37 -37h0m-75 -115h0m160 11h0m-123 24h0m133 5h0m7 -3h0m-24 -67h0m65 139h0m-91 58h0m-10 -48h0m-135 -54h0m156 -45h0m60 5h0m-88 115h0m203 26h0m-350 -64h0m170 45h0m148 -85h0m-32 21h0m-186 -76h0m85 142h0m16 -87h0m-3 105h0m-19 -119h0m-160 57h0m78 -181h0m110 46h0m-134 102h0m112 11h0m-74 -83h0m209 185h0m-123 36h0m147 -76h0m-107 -144h0m-38 56h0m-73 -87h0m71 43h0m-27 160h0m149 -46h0m-231 -180h0m73 118h0m-90 86h0m108 -148h0m114 77h0m-95 158h0m0 -7h0m-131 -171h0m176 79h0m-72 -149h0m-150 134h0m186 -174h0m20 21h0m-63 198h0m28 66h0m-37 -119h0m109 11h0m51 21h0m-215 -111h0m23 -22h0m88 165h0m-127 -197h0m67 10h0m-135 117h0m28 -14h0m42 -3h0m142 48h0m-176 -64h0m-28 -12h0m52 52h0m-39 -134h0m298 135h0m-292 -101h0m52 104h0m-55 -3h0m101 53h0m-31 -104h0m72 123h0m-141 -25h0m171 -12h0m-91 -100h0m4 0h0m-25 -115h0m-59 39h0m-16 199h0m189 19h0m11 -44h0m-64 -188h0m1 -24h0m-107 96h0m169 -68h0m-170 169h0m94 -211h0m-89 210h0m29 -159h0m-8 113h0m54 -131h0m-64 189h0m161 -129h0m-161 139h0m107 -4h0m46 1h0m-170 20h0m175 -198h0m-68 78h0m-120 -47h0m72 13h0m-68 30h0m-37 -36h0m69 23h0m-33 -78h0m105 -14h0m-82 -5h0m79 177h0m71 47h0m-116 -188h0m59 183h0m142 -88h0m-270 61h0m35 -113h0m54 105h0m-88 -156h0m104 147h0m1 -147h0m205 171h0m-320 3h0m-8 -9h0m87 43h0m112 -81h0m-136 -132h0m10 -13h0m165 210h0m36 -58h0m-68 132h0m-6 -37h0m-140 -49h0m-14 -209h0m184 115h0m-73 -89h0m-55 42h0m-29 -40h0m-17 63h0m109 31h0m-32 -71h0m-135 -4h0m231 260h0m-207 -284h0m28 210h0m68 -21h0m156 -102h0m-144 54h0m119 54h0m19 8h0m-132 -187h0m113 100h0m76 61h0m-144 -135h0m47 47h0m-110 46h0m-67 60h0m234 -10h0m31 0h0m-165 -137h0m41 225h0m-9 -266h0m124 197h0m-103 -41h0m-102 -109h0m144 86h0m67 62h0m-90 -13h0m-71 -181h0m136 223h0m-247 -21h0m3 -157h0m68 -31h0m-39 -39h0m174 77h0m-203 114h0m60 -8h0m141 42h0m-22 -136h0m-71 73h0m124 -71h0m-9 161h0m-163 -189h0m75 57h0m50 128h0m-137 -257h0m66 0h0m-59 54h0m-6 8h0m173 102h0m-192 -140h0m-31 36h0m179 200h0m-110 -138h0m-63 99h0m142 69h0m-67 -304h0m-64 261h0m-28 -207h0m12 -23h0m128 -7h0m-15 195h0m11 -1h0m-40 -34h0m118 62h0m-135 -244h0m-33 70h0m95 50h0m44 97h0m35 -46h0m-114 -113h0m79 178h0m-111 -102h0m160 131h0m-176 -165h0m-50 -62h0m116 39h0m-34 -9h0m-93 12h0m64 -55h0m-76 100h0m142 10h0m61 88h0m-160 -24h0m77 18h0m-113 -70h0m17 98h0m96 -53h0m48 -17h0m-20 40h0m23 21h0m-48 -210h0m-1 -21h0m-63 30h0m114 211h0m-190 -36h0m92 -1h0m36 -20h0m-74 -192h0m174 226h0m15 -15h0m8 -72h0m-243 21h0m7 27h0m15 -125h0m75 -55h0m136 183h0m-113 -20h0m-72 -64h0m-52 113h0m109 -34h0m89 94h0m-165 -186h0m185 19h0m-152 94h0m-56 15h0m115 -51h0m50 -53h0m-116 -59h0m251 180h0m-37 -61h0m-110 -18h0m27 -112h0m-60 216h0m79 7h0m-161 -185h0m38 -10h0m104 5h0m-47 8h0m70 106h0m23 -16h0m-71 106h0m-8 -266h0m-92 211h0m-83 -59h0m111 -31h0m75 -12h0m84 68h0m44 9h0m-267 18h0m157 -111h0m108 18h0m-72 3h0m-131 -34h0m-8 0h0m219 42h0m-22 38h0m-197 -60h0m29 44h0m-61 -82h0m110 -65h0m-48 133h0m169 13h0m-285 16h0m123 -96h0m104 248h0m-109 -231h0m92 146h0m-194 -71h0m126 85h0m-79 -143h0m-34 86h0m114 73h0m96 -28h0m-238 -143h0m3 -46h0m5 36h0m50 -93h0m126 182h0m-9 42h0m1 94h0m-14 -124h0m-21 -63h0m40 -32h0m-145 12h0m111 -69h0m-114 157h0m172 108h0m33 -143h0m-172 113h0m-49 -216h0m54 -47h0m248 198h0m-182 42h0m56 -56h0m-195 20h0m287 -7h0m-84 6h0m-162 -22h0m-2 -170h0m172 193h0m-80 -3h0m-70 17h0m87 -164h0m69 105h0m89 -33h0m-58 -25h0m-68 -9h0m-133 47h0m85 -94h0m111 105h0m-220 29h0m86 -207h0m67 216h0m-66 -122h0m-31 70h0m161 16h0m-217 -52h0m92 62h0m-22 20h0m-16 -202h0m15 229h0m64 20h0m84 -66h0m-9 171h0m-22 -252h0m51 51h0m-210 -24h0m246 104h0m-56 -92h0m-112 59h0m-38 -115h0m138 215h0m-188 -269h0m42 13h0m94 60h0m-179 130h0m197 -151h0m-137 26h0m164 89h0m-41 -157h0m95 130h0m-210 -112h0m100 150h0m-29 -204h0m13 113h0m98 119h0m-185 -230h0m214 259h0m-228 -179h0m-55 101h0m179 62h0m25 -41h0m-11 -93h0m-61 -101h0m-23 154h0m45 18h0m-100 41h0m180 -12h0m-59 -27h0m-102 -163h0m14 94h0m69 115h0m-58 37h0m17 -196h0m24 4h0m15 153h0m-130 1h0m72 -243h0m214 220h0m-117 -138h0m30 177h0m-193 -205h0m216 311h0m-62 -247h0m-66 13h0m126 233h0m-208 -187h0m-6 43h0m239 -47h0m-24 139h0m-38 -112h0m-48 86h0m-94 -166h0m52 27h0m-96 60h0m135 17h0m48 -51h0m-92 -58h0m151 112h0m-113 20h0m111 -115h0m-10 13h0m-86 83h0m161 13h0m-223 -161h0m107 148h0m97 33h0m-77 93h0m97 -157h0m-276 -108h0m-43 149h0m178 -22h0m-128 -32h0m48 -138h0m9 -39h0m83 140h0m-134 136h0m5 -152h0m-57 -52h0m153 180h0m-151 -114h0m65 -100h0m128 88h0m-18 48h0m6 8h0m-194 -9h0m286 98h0m-96 -146h0m-21 115h0m72 -64h0m-237 -32h0m203 28h0m-38 132h0m0 -66h0m122 -48h0m-116 39h0m151 -33h0m-289 -119h0m172 112h0m-54 -35h0m-126 -48h0m76 38h0m-57 -87h0m166 109h0m-32 22h0m-38 61h0m-17 -71h0m5 -178h0m100 287h0m-31 -257h0m-157 135h0m155 82h0m12 41h0m-39 -159h0m-145 67h0m150 39h0m-136 -3h0m32 -223h0m88 211h0m-44 -8h0m-5 -117h0m121 142h0m65 -68h0m-84 167h0m-136 -269h0m252 146h0m-281 25h0m242 -34h0m10 29h0m-140 -127h0m135 137h0m-93 92h0m-117 -248h0m127 159h0m42 -77h0m-225 -101h0m287 180h0m-200 -127h0m-68 76h0m37 -140h0m146 152h0m80 16h0m-237 15h0m-43 -130h0m15 -34h0m149 14h0m-25 -6h0m-81 79h0m-25 -55h0m135 202h0m48 -87h0m-111 -31h0m-76 -135h0m-66 121h0m198 119h0m-154 -226h0m64 22h0m37 -24h0m2 132h0m89 21h0m55 45h0m-189 -218h0m-81 48h0m145 -49h0m39 216h0m-33 -180h0m21 186h0m82 -103h0m-233 17h0m52 -72h0m70 92h0m-32 -162h0m54 158h0m50 -104h0m-20 -42h0m-136 198h0m144 -81h0m-29 78h0m24 35h0m-61 -155h0m57 -32h0m-207 103h0m84 -190h0m188 230h0m-266 -26h0m143 24h0m37 -190h0m-186 153h0m115 -199h0m-87 189h0m54 -195h0m131 127h0m-23 156h0m12 -108h0m-139 95h0m200 -6h0m-227 -12h0m74 -255h0m89 136h0m1 172h0m66 -95h0m8 -60h0m-233 -55h0m144 218h0m80 -77h0m-38 46h0m-93 -29h0m103 -10h0m-232 -18h0m167 -65h0m119 22h0m-140 99h0m135 -69h0m3 52h0m-226 -158h0m14 166h0m53 -170h0m-83 71h0m-31 -29h0m71 -23h0m88 188h0m8 -8h0m-92 -187h0m183 178h0m-82 -87h0m-140 -7h0m45 -16h0m-24 -143h0m83 65h0m-13 -55h0m-126 53h0m83 -33h0m-22 20h0m19 -18h0m-49 -18h0m178 112h0m-71 -116h0m87 171h0m-102 23h0m-4 -11h0m120 -16h0m-50 73h0m99 -30h0m-307 -171h0m121 -34h0m155 114h0m-84 12h0m-187 -51h0m58 4h0m99 170h0m-40 -52h0m-55 25h0m68 -140h0m81 10h0m-32 -7h0m-63 -33h0m52 66h0m-68 -126h0m40 -19h0m91 258h0m-218 -52h0m28 -5h0m146 -127h0m-83 -58h0m-24 210h0m47 -88h0m152 110h0m-101 -242h0m-78 228h0m-49 -174h0m113 170h0m149 -12h0m-195 -174h0m-26 98h0m89 -21h0m10 138h0m-121 -264h0m-73 171h0m87 -110h0m176 172h0m-42 -206h0m-90 87h0m-24 -93h0m99 24h0m63 113h0m-100 88h0m-130 -233h0m126 177h0m-165 -73h0m1 57h0m289 47h0m-229 -183h0m26 -40h0m-68 41h0m290 194h0m-126 46h0m62 -47h0m-113 -148h0m-36 38h0m29 -73h0m-89 194h0m63 -112h0m-102 23h0m42 -58h0m-37 91h0m103 31h0m80 87h0m-126 -93h0m69 -53h0m-49 -47h0m-31 -83h0m149 168h0m-138 -18h0m104 -180h0m-86 41h0m84 178h0m40 96h0m-199 -249h0m131 177h0m-8 -80h0m37 37h0m-45 -97h0m16 33h0m-23 -18h0m113 63h0m-159 1h0m0 -41h0m-16 74h0m176 -9h0m-108 -171h0m-13 36h0m54 209h0m50 -185h0m-22 -25h0m-6 238h0m-127 -221h0m228 140h0m-191 19h0m-33 -28h0m174 41h0m19 -159h0m-261 12h0m103 22h0m96 180h0m-177 -254h0m93 13h0m132 95h0m-119 -130h0m37 122h0m-83 -37h0m104 -22h0m101 98h0m-154 27h0m179 -58h0m-187 17h0m146 -67h0m-62 164h0m-7 -49h0m-174 -35h0m21 -43h0m-12 96h0m64 -116h0m130 100h0m-35 -118h0m132 32h0m-224 91h0m38 -43h0m17 24h0m102 -5h0m47 -8h0m-277 -14h0m90 -46h0m-54 -114h0m115 226h0m-144 -59h0m43 -43h0m15 -126h0m-1 -53h0m-71 206h0m34 61h0m90 -33h0m-119 -50h0m214 104h0m-32 -19h0m-191 -106h0m291 -21h0m-154 -44h0m77 174h0m-184 -147h0m25 64h0m50 -141h0m82 246h0m2 -88h0m-67 -39h0m-107 56h0m32 -109h0m-3 -1h0m159 101h0m-212 -28h0m113 -26h0m53 -47h0m-111 139h0m-45 -33h0m60 -140h0m-32 169h0m42 -77h0m119 -56h0m-185 -24h0m168 163h0m-66 -44h0m210 59h0m-95 -135h0m-115 93h0m162 26h0m21 -98h0m-204 -162h0m-14 268h0m176 -16h0m-152 -63h0m105 -9h0m-76 56h0m26 -177h0m138 187h0m-156 41h0m-90 -119h0m264 86h0m-263 -11h0m53 -126h0m25 -65h0m-85 18h0m90 154h0m-139 -25h0m231 -99h0m-43 70h0m-46 71h0m-69 -104h0m-28 71h0m65 -181h0m-25 240h0m137 -75h0m22 -56h0m-181 67h0m117 13h0m-159 26h0m203 -38h0m-85 -11h0m-4 -170h0m32 67h0m-69 152h0m-92 -122h0m171 46h0m-132 -15h0m105 0h0m155 128h0m-4 -31h0m-251 -20h0m77 -34h0m-8 15h0m31 -147h0m40 20h0m-65 -11h0m8 206h0m172 6h0m-122 -63h0m-78 -190h0m155 170h0m-162 48h0m-91 -2h0m199 54h0m-135 -84h0m-18 4h0m126 -169h0m112 148h0m-170 -144h0m-41 28h0m102 243h0m-28 -93h0m-142 -78h0m105 -55h0m-113 105h0m79 55h0m30 -152h0m165 96h0m-57 -3h0m-132 -83h0m-62 -43h0m235 96h0m-202 -113h0m126 277h0m-53 -159h0m14 50h0m21 -81h0m-104 -42h0m-53 17h0m27 92h0m307 56h0m-34 -117h0m-265 -3h0m219 -2h0m-56 70h0m-46 -19h0m-61 -40h0m116 101h0m-14 93h0m17 -64h0m-124 -114h0m62 7h0m16 125h0m-96 -248h0m-61 73h0m62 -75h0m41 105h0m-91 96h0m306 -21h0m-112 -171h0m58 130h0m-266 73h0m119 -264h0m-133 160h0m103 -128h0m0 155h0m83 -126h0m-131 57h0m155 123h0m0 -7h0m-123 -233h0m5 227h0m107 36h0m-42 -136h0m2 49h0m-167 -7h0m197 173h0m-82 -224h0m-45 17h0m138 75h0m-182 19h0m148 -171h0m-43 131h0m22 -173h0m-5 231h0m127 3h0m-101 -56h0m-13 82h0m130 -112h0m0 59h0m-103 -119h0m12 21h0m-11 73h0m-75 -144h0m164 145h0m26 78h0m-26 -83h0m-171 -137h0m147 153h0m-189 -131h0m-6 145h0m-42 -141h0m192 113h0m-108 -168h0m-50 166h0m-43 52h0m258 -25h0m-149 -199h0m27 94h0m45 9h0m128 31h0m25 106h0m-150 -229h0m41 34h0m18 180h0m-223 18h0m322 -5h0m-232 -227h0m126 282h0m4 -108h0m-109 -124h0m17 95h0m-54 91h0m-55 8h0m-39 -125h0m98 99h0m113 -155h0m0 1h0m-107 27h0m42 -89h0m88 320h0m-164 -271h0m-18 -10h0m190 126h0m-22 -155h0m22 248h0m-198 -232h0m104 122h0m181 28h0m-69 -90h0m-160 108h0m10 -229h0m21 212h0m-78 -132h0m47 -56h0m-41 33h0m190 172h0m-38 4h0m-30 -57h0m-69 25h0m213 41h0m19 12h0m-154 15h0m78 12h0m-207 -55h0m137 -7h0m-42 -82h0m61 156h0m44 -66h0m43 44h0m-145 -145h0m-100 13h0m44 61h0m218 -22h0m-272 70h0m77 2h0m44 -112h0m-61 -43h0m93 171h0m-73 -78h0m188 43h0m-166 -30h0m24 -43h0m-18 13h0m89 -1h0m-114 40h0m-57 -88h0m-28 112h0m141 81h0m21 -58h0m64 -128h0m-160 83h0m-115 -12h0m208 -25h0m-169 -80h0m7 125h0m197 -115h0m-180 7h0m260 120h0m-82 24h0m-19 -37h0m-47 -195h0m145 212h0m-7 -33h0m-50 -71h0m-40 -82h0m-72 208h0m173 -11h0m-189 -44h0m43 77h0m-23 -114h0m-83 -127h0m105 -4h0m-112 24h0m45 10h0m131 258h0m-137 -278h0m-29 -43h0m10 107h0m158 118h0m-31 7h0m-38 16h0m-23 -123h0m-30 -66h0m-11 55h0m34 127h0m-4 21h0m-68 -187h0m67 8h0m-9 172h0m-39 -148h0m162 122h0m-239 -21h0m126 -88h0m20 97h0m125 52h0m-175 -160h0m229 148h0m-48 -6h0m-164 -81h0m29 81h0m52 54h0m-142 -160h0m143 144h0m79 -77h0m-160 22h0m-9 -160h0m141 81h0m-264 54h0m223 78h0m71 -122h0m-174 -174h0m71 299h0m-154 -100h0m46 37h0m93 -62h0m-162 65h0m178 25h0m-127 -142h0m134 223h0m112 -83h0m-132 -33h0m-118 -56h0m160 -120h0m-11 200h0m-183 -10h0m278 9h0m22 27h0m-286 -204h0m196 230h0m50 -78h0m-213 25h0m-46 -155h0m-36 42h0m106 6h0m-90 55h0m258 24h0m-197 -80h0m3 83h0m80 -183h0m112 184h0m-112 9h0m18 -117h0m-134 -35h0m93 27h0m185 113h0m-126 4h0m-73 -190h0m-74 226h0m61 0h0m139 -90h0m-111 -7h0m-24 -103h0m-94 160h0m157 -182h0m-138 9h0m138 247h0m69 -109h0m62 12h0m-98 77h0m5 -95h0m-141 -170h0m-44 83h0m296 59h0m-214 -94h0m-6 200h0m66 -105h0m8 137h0m106 -120h0m-55 61h0m-106 -114h0m30 105h0m162 4h0m-99 -133h0m-19 177h0m105 -71h0m-258 -61h0m152 -16h0m37 109h0m-10 -19h0m14 -67h0m19 167h0m-119 -180h0m-67 -114h0m37 -24h0m19 123h0m-67 -93h0m20 227h0m-2 -84h0m-59 -84h0m49 107h0m118 0h0m-51 -184h0m72 58h0m84 105h0m-186 -155h0m231 210h0m-68 12h0m-153 -29h0m-31 -166h0m144 62h0m-58 30h0m-82 -68h0m200 117h0m-121 42h0m-140 -20h0m148 9h0m118 10h0m-82 -157h0m-139 204h0m117 -155h0m-29 140h0m36 -121h0m-147 88h0m96 -171h0m-129 95h0m299 24h0m29 97h0m-268 -22h0m6 -219h0m127 269h0m-58 -200h0m-3 176h0m36 -20h0m-48 -15h0m69 21h0m-116 -174h0m90 186h0m114 -134h0m-128 72h0m63 -34h0m25 142h0m-220 -143h0m125 -150h0m154 187h0m-102 -66h0m-125 77h0m76 19h0m74 -117h0m-50 187h0m-82 -216h0m8 -68h0m206 180h0m-78 143h0m14 -125h0m-72 -194h0m68 151h0m-90 31h0m82 -154h0m-45 44h0m-102 104h0m50 -2h0m26 81h0m95 -25h0m-166 -109h0m24 -11h0m-30 1h0m88 -52h0m-46 26h0m-41 30h0m39 -13h0m142 109h0m-210 -5h0m44 21h0m152 -131h0m-181 105h0m23 -105h0m82 193h0m126 -80h0m-242 -153h0m13 165h0m246 -35h0m-177 -200h0m45 210h0m98 12h0m-161 -37h0m126 56h0m-143 -226h0m190 186h0m-147 -147h0m31 25h0m44 108h0m49 67h0m-141 -72h0m-23 6h0m-39 -95h0m61 -29h0m91 -33h0m-51 273h0m-142 -183h0m96 -79h0m-27 3h0m35 175h0m106 -26h0m-170 -45h0m130 166h0m-26 -55h0m161 -43h0m-75 -74h0m-111 67h0m9 51h0m50 -239h0m67 102h0m-41 53h0m63 -14h0m2 -32h0m-154 97h0m-21 -77h0m-82 44h0m59 28h0m125 57h0m-145 -255h0m106 59h0m-29 -83h0m-93 42h0m154 163h0m-193 -2h0m1 42h0m49 -104h0m27 -94h0m-4 16h0m134 40h0m-217 51h0m0 -60h0m154 103h0m-34 -29h0m-102 -114h0m27 54h0m-40 107h0m11 -96h0m71 111h0m62 24h0m-102 -209h0m169 171h0m-151 -49h0m-8 -117h0m-6 -48h0m209 109h0m-115 57h0m92 3h0m-14 20h0m-140 -82h0m201 125h0m-164 -64h0m-24 -65h0m-14 -129h0m64 241h0m-99 -6h0m200 -97h0m-245 -57h0m98 -9h0m-41 -49h0m-32 80h0m282 145h0m-66 26h0m-24 -14h0m-157 -1h0m167 -29h0m71 53h0m11 -59h0m-104 27h0m59 7h0m-147 -101h0m-74 92h0m217 -107h0m-262 95h0m142 -191h0m-22 129h0m166 21h0m-49 4h0m-6 -58h0m-80 35h0m66 -2h0m-117 74h0m-59 -11h0m6 11h0m146 -160h0m-21 17h0m-45 -15h0m54 99h0m-132 87h0m-56 -175h0m-8 120h0m52 -183h0m63 187h0m-72 -175h0m296 231h0m-16 14h0m-316 -167h0m190 136h0m-8 -193h0m-75 71h0m87 160h0m-180 -183h0m95 10h0m-70 -64h0m-18 205h0m210 -42h0m-187 -181h0m253 169h0m-243 -104h0m125 215h0m45 -25h0m-54 -16h0m30 -139h0m-23 117h0m-74 -215h0m94 128h0m-34 10h0m66 118h0m-150 -15h0m16 -130h0m167 -30h0m-31 113h0m-71 -129h0m-135 159h0m56 -5h0m224 -86h0m6 60h0m-249 -24h0m-12 44h0m96 -14h0m-121 -82h0m156 74h0m-180 7h0m247 -101h0m-105 4h0m1 102h0m-8 -234h0m66 31h0m-15 166h0m31 79h0m-159 -14h0m43 -235h0m-23 -42h0m232 204h0m-154 -129h0m2 58h0m49 202h0m-142 -265h0m179 188h0m-165 -238h0m195 174h0m-114 -65h0m-106 127h0m162 -53h0m-176 -120h0m-38 145h0m235 68h0m-61 -75h0m24 -5h0m-163 -121h0m139 2h0m28 116h0m-8 -108h0m80 67h0m-71 -74h0m-13 140h0m-52 -27h0m-42 -4h0m81 -115h0m133 162h0m-231 -247h0m-9 -1h0m137 228h0m5 -32h0m-108 -104h0m-42 27h0m82 156h0m75 -5h0m-77 4h0m-58 -85h0m-14 96h0m44 -133h0m180 58h0m-203 -215h0m129 169h0m-181 -143h0m14 220h0m64 -33h0m-44 43h0m158 59h0m-207 -39h0m28 -132h0m264 100h0m-245 -34h0m168 150h0m-157 -279h0m190 184h0m-214 -182h0m68 26h0m12 96h0m-89 15h0m139 -119h0m-153 170h0m18 -63h0m23 -133h0m228 178h0m-116 49h0m55 -127h0m-220 42h0m40 -12h0m36 -189h0m54 181h0m129 62h0m-122 -184h0m118 88h0m-242 111h0m19 -193h0m167 98h0m-118 -60h0m135 89h0m49 -57h0m-119 174h0m20 -87h0m62 -17h0m-173 38h0m-56 -6h0m300 35h0m-183 -270h0m90 169h0m-142 10h0m-97 -87h0m93 11h0m-45 89h0m239 27h0m-132 61h0m54 -262h0m27 165h0m-24 23h0m-54 64h0m-2 -151h0m-91 -115h0m6 54h0m98 111h0m-135 -111h0m188 267h0m-169 -69h0m83 -106h0m159 75h0m-173 -124h0m3 60h0m120 50h0m-181 -192h0m230 232h0m-106 -174h0m55 153h0m-139 -114h0m88 153h0m-24 -93h0m93 -37h0m-225 45h0m251 52h0m-40 10h0m-158 -33h0m145 -95h0m-181 73h0m22 37h0m64 29h0m208 -21h0m-255 -122h0m198 10h0m21 145h0m-35 -10h0m-273 -84h0m119 -56h0m134 65h0m-184 -37h0m115 -34h0m-112 130h0m-62 -67h0m-14 32h0m292 21h0m-54 -103h0m-157 44h0m98 -52h0m107 26h0m-87 95h0m-86 -41h0m-4 -165h0m102 230h0m47 -162h0m-247 28h0m54 74h0m-23 37h0m25 -170h0m69 59h0m99 -33h0m-90 -69h0m48 38h0m127 150h0m-167 -79h0m87 135h0m-140 -276h0m-6 10h0m190 224h0m9 47h0m-256 -41h0m-4 -76h0m98 38h0m-91 -159h0m53 181h0m-63 -17h0m50 -82h0m16 -119h0m-43 113h0m3 87h0m59 -11h0m219 65h0m-49 -20h0m-224 -77h0m134 164h0m-59 -85h0m114 -134h0m-169 -101h0m242 214h0m-135 61h0m-7 14h0m75 -42h0m-141 -176h0m-40 41h0m82 37h0m26 -125h0m61 263h0m-186 -287h0m36 147h0m-74 -27h0m48 65h0m235 18h0m-95 -138h0m122 204h0m-328 -101h0m108 -127h0m45 169h0m131 62h0m-97 -51h0m0 -168h0m-141 34h0m224 48h0m25 31h0m-34 -26h0m-131 -76h0m146 116h0m58 33h0m-129 -27h0m-102 -30h0m32 -58h0m-67 165h0m191 -165h0m-93 3h0m111 48h0m-229 -27h0m89 122h0m119 -85h0m-29 1h0m-14 97h0m-141 -234h0m126 144h0m109 76h0m-199 -183h0m205 197h0m-186 -194h0m165 105h0m-71 -108h0m-109 137h0m81 24h0m-6 -30h0m11 80h0m104 -139h0m-126 35h0m120 -42h0m-100 -33h0m35 136h0m-11 -65h0m-119 67h0m-11 -192h0m205 103h0m-102 -101h0m-142 -27h0m-22 137h0m120 -82h0m-83 -30h0m225 192h0m-121 8h0m-35 -92h0m0 114h0m-51 -209h0m138 196h0m-34 -230h0m-148 148h0m124 -166h0m-20 103h0m-109 76h0m302 63h0m-105 -121h0m-219 81h0m39 -144h0m116 79h0m35 193h0m48 -177h0m-230 99h0m51 -212h0m99 229h0m-154 -22h0m245 -112h0m-61 -111h0m-185 112h0m317 119h0m-127 -188h0m-11 74h0m-101 -118h0m16 -21h0m-44 97h0m153 -65h0m-182 78h0m181 -76h0m-85 10h0m50 206h0m-130 8h0m-37 -149h0m91 -82h0m154 83h0m-39 52h0m-98 -70h0m62 216h0m52 -164h0m-76 70h0m-23 -125h0m133 85h0m-225 -167h0m272 144h0m-271 -105h0m53 123h0m57 92h0m-135 -175h0m186 128h0m-51 -5h0m-124 -150h0m63 25h0m65 195h0m-20 -141h0m-92 88h0m136 17h0m-42 -68h0m-110 9h0m-19 6h0m143 89h0m-100 -49h0m-58 -157h0m27 -9h0m31 -16h0m155 216h0m-35 42h0m18 -91h0m63 -15h0m-239 -150h0m-6 7h0m8 92h0m89 100h0m-77 -132h0m173 129h0m-187 -55h0m55 18h0m-69 7h0m-3 -8h0m225 -120h0m-182 -45h0m121 -45h0m93 169h0m-118 70h0m44 -57h0m12 -67h0m101 14h0m-10 77h0m-39 -19h0m-147 10h0m42 -29h0m84 -69h0m59 101h0m-80 49h0m-99 -105h0m129 75h0m-171 -99h0m-63 57h0m238 3h0m-233 -23h0m100 -72h0m-113 63h0m216 21h0m78 -8h0m-244 62h0m-38 -2h0m167 -155h0m9 8h0m8 29h0m-188 -24h0m31 179h0m-31 -99h0m215 -70h0m-87 160h0m-26 -89h0m54 39h0m23 -7h0m-107 -39h0m-69 30h0m140 -165h0m-50 74h0m101 191h0m31 -8h0m-142 -41h0m113 53h0m-188 -70h0m10 -17h0m99 -127h0m-46 -88h0m159 200h0m-48 30h0m61 -13h0m8 -49h0m-178 -78h0m-34 128h0m-7 -156h0m131 208h0m-168 -140h0m218 -60h0m72 146h0m37 18h0m-88 98h0m-24 -102h0m24 57h0m37 -42h0m27 -81h0m-301 12h0m254 30h0m-42 -124h0m-215 144h0m189 102h0m-84 -329h0m-28 244h0m137 -117h0m-116 -109h0m125 213h0m-53 -30h0m-12 -160h0m-54 -35h0m108 236h0m26 -75h0m-231 -61h0m268 164h0m-137 -97h0m33 -135h0m13 79h0m-173 24h0m235 13h0m-234 55h0m173 10h0m141 60h0m-256 -65h0m143 9h0m-211 -5h0m140 -27h0m190 48h0m-151 -96h0m70 79h0m1 -2h0m-147 -150h0m21 38h0m-57 96h0m20 -155h0m11 10h0m-14 -50h0m176 238h0m40 -57h0m-19 8h0m-222 74h0m23 -206h0m-20 33h0m95 202h0m67 -230h0m-216 32h0m240 161h0m10 -38h0m-42 -99h0m-64 -96h0m-79 97h0m-2 -37h0m128 235h0m-124 -300h0m229 185h0m20 3h0m-57 -85h0m-106 49h0m13 -130h0m89 177h0m-152 -225h0m86 195h0m127 16h0m-218 -103h0m197 81h0m-177 62h0m-9 -174h0m-105 26h0m255 38h0m-167 -27h0m128 -65h0m-132 -53h0m196 199h0m-132 6h0m188 48h0m-351 -131h0m239 9h0m-216 -58h0m264 127h0m-155 -49h0m202 79h0m-199 -157h0m105 247h0m-112 -306h0m51 183h0m21 -137h0m77 151h0m-107 74h0m-97 -56h0m81 -78h0m122 70h0m-199 -66h0m103 20h0m-150 25h0m138 66h0m-111 -51h0m111 -81h0m-139 108h0m47 -170h0m-47 46h0m167 134h0m-105 -240h0m21 115h0m173 104h0m-286 -64h0m162 108h0m-100 -196h0m103 69h0m152 31h0m-136 23h0m-43 -7h0m-9 -147h0m-86 230h0m95 -199h0m-140 102h0m228 41h0m-6 -168h0m-200 132h0m153 -103h0m12 154h0m135 -65h0m-93 -52h0m-17 -77h0m-42 127h0m6 -52h0m43 68h0m-101 75h0m-32 -252h0m87 175h0m63 -36h0m-196 -99h0m-18 47h0m113 99h0m58 -50h0m7 82h0m-75 18h0m185 -56h0m-117 43h0m-96 -121h0m-52 4h0m194 185h0m-178 -80h0m36 74h0m75 -146h0m-22 122h0m201 -17h0m-266 -244h0m36 122h0m-16 -50h0m-8 109h0m50 -100h0m-36 143h0m70 -126h0m55 192h0m-180 -268h0m188 149h0m61 23h0m-74 -34h0m-87 76h0m31 -71h0m-24 29h0m172 -4h0m-267 -119h0m24 -72h0m32 90h0m114 13h0m-85 -2h0m-87 25h0m-52 46h0m298 34h0m-88 8h0m63 -69h0m-73 -90h0m-82 67h0m71 175h0m-130 -177h0m-47 62h0m166 62h0m-19 -150h0m-71 -74h0m113 158h0m-59 31h0m123 -58h0m59 38h0m-174 -180h0m-16 176h0m36 -17h0m122 -14h0m-36 106h0m-62 -161h0m87 70h0m-169 64h0m-108 -57h0m36 15h0m-4 -83h0m18 -3h0m72 84h0m52 129h0m125 -98h0m-88 -177h0m-78 122h0m-59 -153h0m214 234h0m-291 -99h0m26 -20h0m-16 108h0m57 -73h0m-53 -79h0m257 166h0m-248 -36h0m131 -91h0m-110 81h0m11 -179h0m113 -5h0m47 111h0m-162 -59h0m-29 29h0m107 43h0m25 -131h0m-102 172h0m7 -77h0m-47 125h0m133 -149h0m137 74h0m-72 173h0m-9 -60h0m-111 -132h0m155 100h0m28 -92h0m-19 112h0m-232 -81h0m10 -138h0m2 137h0m130 -9h0m-47 -26h0m38 116h0m179 18h0m-277 -63h0m241 -12h0m-18 11h0m-167 -113h0m-3 161h0m38 -35h0m-83 -214h0m-30 57h0m151 -37h0m6 92h0m-73 41h0m106 49h0m-92 -30h0m-69 -110h0m18 14h0m-52 183h0m57 -192h0m-70 45h0m299 39h0m-154 112h0m-3 -88h0m-97 -102h0m160 -25h0m-2 45h0m-55 -54h0m-161 179h0m202 -43h0m129 41h0m-302 -57h0m27 -154h0m52 89h0m-75 -2h0m101 94h0m16 -39h0m-107 -95h0m253 77h0m-71 97h0m85 27h0m-134 -36h0m-30 21h0m-136 -75h0m323 72h0m-135 -186h0m-120 -7h0m101 245h0m-136 -109h0m199 20h0m35 -36h0m-167 -57h0m92 141h0m-164 -163h0m43 168h0m29 -278h0m207 251h0m-99 48h0m-182 -196h0m42 -2h0m-4 74h0m95 88h0m-85 32h0m-38 -257h0m153 159h0m65 57h0m-46 -71h0m-65 -21h0m-93 -6h0m126 -3h0m-98 -97h0m125 102h0m-121 -25h0m28 55h0m172 31h0m-231 -77h0m113 -33h0m-109 107h0m75 -162h0m94 109h0m-139 130h0m92 35h0m128 -66h0m-155 -138h0m-63 -22h0m218 115h0m-230 76h0m-43 -145h0m-1 112h0m140 -161h0m-144 47h0m122 38h0m-36 -34h0m12 34h0m69 155h0m-158 -261h0m279 212h0m-321 -50h0m221 6h0m-11 -124h0m-195 86h0m145 53h0m-155 -164h0m132 94h0m94 -8h0m-224 25h0m215 27h0m15 -15h0m-26 21h0m64 37h0m-229 -197h0m61 92h0m50 -44h0m8 123h0m-90 -159h0m13 -77h0m100 246h0m-105 -245h0m251 263h0m-161 -181h0m-71 59h0m99 172h0m4 20h0m-109 -129h0m50 -48h0m11 -30h0m-24 -85h0m-31 188h0m30 -163h0m-27 38h0m-48 -21h0m88 61h0m194 117h0m-258 -143h0m74 142h0m43 12h0m-13 18h0m95 -50h0m53 -5h0m-291 -143h0m136 227h0m111 -139h0m-173 -181h0m89 185h0m-69 -142h0m-54 18h0m211 141h0m-194 -114h0m-4 130h0m-26 -64h0m-20 -15h0m154 -57h0m43 84h0m-89 142h0m63 -143h0m-140 -113h0m88 -10h0m4 123h0m162 80h0m-108 21h0m-65 37h0m33 -157h0m-38 144h0m166 -16h0m-228 -112h0m-38 -29h0m35 49h0m42 26h0m-84 -165h0m133 78h0m-53 -79h0m143 215h0m-50 -64h0m-105 -54h0m59 -99h0m-43 217h0m37 -28h0m-43 -87h0m158 71h0m-7 78h0m-56 -83h0m10 145h0m-120 -276h0m-85 146h0m106 -193h0m181 243h0m-188 -12h0m-57 -37h0m188 -51h0m-182 -123h0m72 66h0m51 92h0m-26 104h0m82 -100h0m-100 -117h0m-58 113h0m170 -4h0m5 -31h0m61 58h0m-231 -163h0m57 220h0m-38 -105h0m207 41h0m-328 -93h0m126 58h0m38 15h0m-94 -72h0m185 65h0m36 -10h0m35 19h0m-172 62h0m42 -14h0m116 -8h0m-35 -93h0m-111 -60h0m-122 115h0m-57 -82h0m186 191h0m-13 -175h0m98 127h0m-84 -247h0m18 142h0m-167 -36h0m152 83h0m-18 -5h0m-52 -14h0m-53 -65h0m134 192h0m12 -217h0m-63 -98h0m67 36h0m31 188h0m-54 71h0m-96 -185h0m209 51h0m-137 101h0m-76 -23h0m-81 -152h0m267 190h0m-203 -80h0m64 19h0m60 -138h0m-77 109h0m-20 -88h0m43 181h0m-92 -258h0m6 159h0m112 102h0m46 -97h0m-17 -154h0m-33 248h0m-91 -65h0m-52 -31h0m100 -40h0m204 121h0m-142 -210h0m-67 192h0m61 -103h0m142 139h0m-107 -12h0m-16 -197h0m105 161h0m-235 7h0m218 28h0m-147 -199h0m84 -14h0m-155 175h0m20 -10h0m113 54h0m-39 -50h0m5 -88h0m-29 74h0m-12 -48h0m84 149h0m105 -149h0m-71 169h0m-139 -315h0m91 14h0m-138 68h0m154 -38h0m-133 7h0m43 -12h0m37 -38h0m-53 183h0m97 19h0m105 39h0m-138 -117h0m-44 28h0m-26 100h0m137 1h0m-82 -126h0m-145 -38h0m194 -79h0m-19 27h0m-33 214h0m134 -19h0m-121 -52h0m-112 -142h0m74 120h0m-72 -40h0m10 -114h0m70 68h0m50 220h0m-107 -32h0m7 -102h0m203 13h0m-41 26h0m-25 110h0m-167 -244h0m273 163h0m-99 9h0m-123 -132h0m142 32h0m-171 -106h0m-13 87h0m93 -9h0m8 2h0m6 -20h0m-40 -2h0m-30 -4h0m-53 -9h0m40 -52h0m54 51h0m-71 19h0m6 94h0m32 -137h0m38 143h0m34 -183h0m-83 39h0m-19 -69h0m22 49h0m-22 -10h0m-79 66h0m51 49h0m237 116h0m49 -9h0m-52 -139h0m62 140h0m-115 -147h0m-28 180h0m-139 -261h0m115 226h0m-162 -64h0m167 66h0m-144 -225h0m212 136h0m-206 49h0m158 3h0m-58 1h0m-16 -40h0m84 71h0m-169 -37h0m265 -17h0m-230 -150h0m88 123h0m-77 -1h0m190 67h0m-233 -204h0m258 111h0m-133 75h0m12 -22h0m15 97h0m-70 -42h0m221 -5h0m-298 21h0m286 -48h0m-232 -204h0m51 23h0m-31 71h0m77 142h0m-46 0h0m-8 -78h0m90 96h0m-196 -223h0m268 181h0m-115 104h0m-83 -252h0m83 -48h0m-73 154h0m-26 42h0m106 -199h0m26 157h0m-80 -12h0m-75 -165h0m141 81h0m-147 31h0m23 -29h0m165 65h0m-236 -111h0m92 -40h0m-7 206h0m105 82h0m-71 -197h0m72 -7h0m-139 -76h0m164 195h0m-167 -120h0m148 104h0m-107 61h0m148 -47h0m-105 -34h0m-61 -80h0m-34 -38h0m144 233h0m-9 -94h0m-176 57h0m278 -119h0m-82 187h0m46 -175h0m-46 -33h0m75 136h0m10 34h0m-233 -190h0m230 144h0m-183 -101h0m96 16h0m69 62h0m-274 -77h0m259 53h0m-115 67h0m9 -60h0m-113 -44h0m47 -143h0m-8 267h0m6 -288h0m168 170h0m-197 67h0m97 -72h0m-26 86h0m72 -205h0m-135 205h0m149 -81h0m75 94h0m-23 -38h0m-105 -179h0m-129 191h0m241 35h0m-254 -20h0m81 -174h0m5 153h0m70 -16h0m-8 94h0m113 -22h0m-224 -224h0m67 115h0m-115 56h0m192 -67h0m64 41h0m-30 77h0m-90 -174h0m159 157h0m-60 -132h0m-71 -113h0m-13 72h0m76 189h0m38 -64h0m-118 -9h0m-27 -148h0m147 179h0m-200 -217h0m171 150h0m48 13h0m-227 -29h0m201 80h0m41 -93h0m-209 101h0m21 -54h0m193 -15h0m31 80h0m-322 -175h0m78 46h0m80 -5h0m53 123h0m32 -105h0m-52 -5h0m-202 71h0m320 73h0m-196 -109h0m71 -51h0m38 105h0m39 -52h0m-44 -28h0m-192 83h0m9 -170h0m90 168h0m-64 -214h0m71 64h0m-138 75h0m120 114h0m136 -22h0m8 4h0m-225 -133h0m106 -58h0m176 175h0m-169 -129h0m-52 103h0m26 51h0m-33 2h0m169 -115h0m-189 -33h0m108 92h0m-163 -125h0m79 -19h0m48 154h0m-83 -65h0m198 147h0m14 -47h0m-202 -248h0m-35 188h0m90 5h0m-78 -164h0m161 169h0m-221 6h0m100 6h0m-86 -24h0m105 -2h0m137 1h0m-212 88h0m91 -73h0m-61 -160h0m152 146h0m-53 -44h0m54 8h0m-28 -81h0m-187 118h0m182 89h0m-107 -259h0m18 207h0m57 -129h0m55 94h0m-146 -51h0m-65 -46h0m264 197h0m-177 -215h0m206 165h0m-246 -33h0m145 132h0m4 1h0m-1 -217h0m-71 29h0m187 46h0m-183 -114h0m183 93h0m-135 -131h0m130 163h0m-265 -165h0m214 184h0m-53 61h0m-36 39h0m-67 -68h0m126 -62h0m-179 -107h0m223 148h0m-112 -30h0m23 -149h0m15 29h0m-169 -10h0m45 -61h0m34 22h0m-31 117h0m-52 107h0m-25 -46h0m118 31h0m4 -38h0m-18 39h0m-74 -161h0m38 149h0m191 32h0m2 21h0m-213 -101h0m46 -119h0m177 121h0m-250 75h0m55 -221h0m-53 129h0m79 91h0m214 -6h0m-15 10h0m2 -107h0m-95 69h0m-188 -146h0m247 42h0m-152 -39h0m-113 101h0m101 47h0m-30 -69h0m105 -17h0m-148 28h0m-8 -75h0m102 150h0m-6 -227h0m197 258h0m-171 -135h0m85 171h0m-165 -112h0m160 -11h0m-179 35h0m172 -142h0m-125 10h0m9 -81h0m-96 244h0m135 -67h0m-95 63h0m15 -239h0m163 211h0m-114 -28h0m163 12h0m-47 28h0m61 -94h0m-245 86h0m42 -118h0m39 90h0m158 -24h0m-235 23h0m176 151h0m-124 -190h0m-43 -78h0m-29 156h0m245 -5h0m-85 25h0m42 -49h0m21 -3h0m-84 -106h0m-74 -8h0m36 150h0m88 48h0m54 -78h0m60 4h0m-13 -20h0m-205 55h0m-105 -75h0m-10 34h0m181 -17h0m101 -56h0m-60 49h0m-41 -99h0m-180 18h0m187 86h0m14 -55h0m82 54h0m-228 -60h0m22 47h0m34 -193h0m-95 154h0m160 -7h0m129 92h0m-114 30h0m-12 -1h0m-150 -205h0m-6 -2h0m140 83h0m40 -31h0m-122 -84h0m201 244h0m-144 -22h0m138 7h0m-131 -71h0m-140 42h0m54 -17h0m34 -71h0m88 3h0m-177 67h0m196 -40h0m38 184h0m-236 -256h0m110 167h0m165 0h0m-168 -209h0m157 226h0m-206 -133h0m71 55h0m76 -156h0m17 68h0m-193 -2h0m180 22h0m15 163h0m-45 -171h0m94 33h0m-247 103h0m260 -109h0m-13 -9h0m-257 -43h0m112 103h0m22 39h0m-19 -222h0m103 306h0m-221 -143h0m180 72h0m137 35h0m-256 -55h0m-23 16h0m-58 -45h0m40 15h0m264 -70h0m-66 28h0m-132 -120h0m152 119h0m-212 -112h0m164 120h0m-102 -89h0m111 -25h0m-205 166h0m243 -13h0m-166 -119h0m88 18h0m-37 111h0m27 -187h0m0 229h0m-113 -28h0m-42 -18h0m175 71h0m111 -152h0m-194 -124h0m191 228h0m-10 -53h0m-144 -55h0m32 99h0m35 -65h0m-54 -23h0m-69 -28h0m127 18h0m-42 160h0m-166 -188h0m232 207h0m-52 -279h0m-8 268h0m62 -181h0m-92 56h0m60 109h0m-14 -87h0m105 41h0m-256 -16h0m178 -87h0m21 112h0m-212 -169h0m58 -68h0m100 206h0m-26 -209h0m130 226h0m-66 -114h0m16 35h0m-119 -141h0m170 160h0m-134 88h0m60 -90h0m-97 -167h0m-7 104h0m193 113h0m-232 -171h0m-52 207h0m142 -234h0m169 217h0m-70 -79h0m-145 -108h0m87 7h0m73 116h0m-73 -107h0m-171 185h0m100 -208h0m45 20h0m-24 67h0m-131 -74h0m230 136h0m-157 -76h0m125 72h0m21 19h0m-70 -158h0m-109 138h0m149 72h0m84 -122h0m-199 42h0m-74 -92h0m231 120h0m-193 -157h0m178 72h0m-163 17h0m216 36h0m-112 124h0m-14 -180h0m-5 65h0m33 45h0m121 35h0m-3 -64h0m-248 63h0m59 -71h0m-72 -165h0m96 171h0m5 -37h0m-74 106h0m103 5h0m112 -70h0m-103 -130h0m-184 91h0m157 -51h0m-40 7h0m63 -30h0m-140 145h0m229 7h0m-44 -25h0m-67 -34h0m141 -51h0m-158 -39h0m129 49h0m-176 -125h0m192 154h0m-30 74h0m-154 -214h0m100 210h0m-171 -15h0m192 -144h0m-54 123h0m-67 -179h0m146 132h0m-255 64h0m162 -62h0m152 48h0m-173 -27h0m-70 69h0m152 98h0m105 -118h0m-233 20h0m122 -153h0m72 137h0m9 -45h0m30 89h0m-116 40h0m76 -130h0m39 87h0m7 -50h0m-202 -156h0m67 209h0m-73 -211h0m-40 -23h0m28 92h0m-48 77h0m107 -7h0m-5 87h0m-112 -198h0m82 -31h0m-55 -42h0m220 230h0m-305 -83h0m101 75h0m64 -117h0m42 131h0m-15 -165h0m-56 0h0m7 90h0m-48 -174h0m155 190h0m-48 132h0m-129 -92h0m204 -123h0m-114 69h0m-121 -121h0m197 78h0m-31 -21h0m-65 123h0m65 -154h0m53 126h0m-73 -127h0m152 157h0m-149 8h0m10 -138h0m-114 -45h0m-13 51h0m1 -53h0m56 110h0m192 51h0m-267 -54h0m59 25h0m-13 -155h0m97 255h0m28 -200h0m-25 210h0m-52 -289h0m-77 42h0m68 36h0m86 135h0m-159 0h0m67 12h0m-119 -133h0m224 47h0m-185 63h0m219 38h0m2 20h0m9 -21h0m-249 -174h0m175 94h0m-37 41h0m-28 -221h0m-8 257h0m-122 -88h0m206 -133h0m-129 159h0m151 -14h0m-117 -1h0m32 -135h0m28 144h0m58 -37h0m-134 -22h0m154 26h0m-159 -68h0m9 8h0m190 166h0m-5 -34h0m-159 37h0m-35 -24h0m-67 -207h0m127 223h0m167 -39h0m-85 27h0m-142 -111h0m65 32h0m-123 -29h0m157 100h0m-37 -165h0m-100 123h0m253 43h0m-196 -66h0m62 -53h0m-92 -87h0m103 195h0m-59 41h0m-20 -208h0m113 -16h0m-170 -6h0m-5 -3h0m133 96h0m-75 -88h0m137 104h0m-252 -35h0m318 55h0m-107 -7h0m13 87h0m-12 -164h0m24 110h0m-37 83h0m-16 -188h0m90 33h0m-60 54h0m-95 23h0m84 1h0m-116 -199h0m-31 154h0m241 51h0m-8 -6h0m-87 94h0m27 -67h0m18 -95h0m-87 -122h0m-140 182h0m231 -48h0m85 90h0m-237 -138h0m-53 3h0m0 169h0m202 20h0m59 -90h0m-268 45h0m131 57h0m8 -95h0m-137 11h0m31 -118h0m-68 -5h0m240 239h0m-230 -122h0m113 20h0m-35 -171h0m14 151h0m-58 19h0m74 -169h0m-6 -53h0m-21 139h0m-22 -135h0m181 213h0m-21 4h0m-188 -171h0m263 142h0m-231 -74h0m81 -110h0m-100 -1h0m115 199h0m162 6h0m-131 68h0m-73 -159h0m124 -16h0m-159 80h0m8 -45h0m95 131h0m-102 -179h0m150 194h0m4 4h0m-125 -106h0m100 80h0m-86 -139h0m126 26h0m-96 -116h0m-114 28h0m-43 140h0m24 0h0m285 2h0m-240 -110h0m100 -85h0m-10 -5h0m34 78h0m45 254h0m-214 -108h0m84 -235h0m15 155h0m-118 63h0m189 -86h0m35 19h0m-113 -142h0m31 185h0m103 -6h0m-40 -110h0m-205 -25h0m203 178h0m-112 -168h0m-50 -8h0m-20 189h0m112 3h0m-76 -239h0m-64 216h0m37 -131h0m13 -87h0m174 170h0m-189 41h0m108 1h0m15 -61h0m-25 64h0m57 0h0m141 34h0m-307 -199h0m104 41h0m-120 29h0m32 112h0m-49 -70h0m220 170h0m22 1h0m-45 -283h0m-9 26h0m127 112h0m-63 156h0m-152 -147h0m-6 -114h0m51 -91h0m-11 142h0m47 -115h0m-99 108h0m-32 87h0m134 -36h0m8 78h0m-15 53h0m-6 -122h0m-111 -177h0m55 18h0m99 135h0m119 45h0m-97 119h0m17 -145h0m-75 -86h0m130 172h0m-165 -235h0m-1 -10h0m-49 57h0m-64 34h0m178 104h0m130 -7h0m-247 -173h0m8 -63h0m55 214h0m86 145h0m18 -210h0m-191 -9h0m103 -31h0m55 164h0m-80 -261h0m-127 209h0m7 -146h0m120 -34h0m75 200h0m-41 96h0m-120 -237h0m166 30h0m-13 48h0m-78 -21h0m190 23h0m-138 139h0m-82 -221h0m23 -66h0m-117 188h0m233 123h0m-18 -238h0m-40 68h0m-26 -126h0m132 160h0m-253 58h0m221 -84h0m14 97h0m-33 66h0m-54 -200h0m-130 -68h0m56 -49h0m139 187h0m-84 -97h0m-103 9h0m84 150h0m160 -117h0m-137 -127h0m5 46h0m10 177h0m91 34h0m65 -44h0m-322 24h0m11 -187h0m67 -28h0m158 203h0m-256 -38h0m213 -155h0m32 232h0m-145 -39h0m103 -111h0m87 -3h0m-74 78h0m32 151h0m-208 -292h0m56 85h0m101 -115h0m-154 141h0m174 27h0m-200 -3h0m139 -130h0m-57 167h0m123 25h0m-1 -12h0m-31 27h0m-48 -15h0m105 93h0m7 -239h0m-215 94h0m66 -170h0m165 169h0m-32 -97h0m-185 41h0m63 11h0m97 79h0m-197 -56h0m28 -152h0m252 187h0m23 -37h0m-227 -187h0m-15 228h0m199 -13h0m-200 -68h0m105 160h0m11 -142h0m-7 -6h0m4 -63h0m65 86h0m-186 -19h0m-17 -45h0m-37 109h0m101 -124h0m21 -76h0m25 -13h0m29 316h0m12 -271h0m23 115h0m-173 30h0m247 -64h0m-235 -54h0m-23 13h0m175 192h0m24 4h0m0 -155h0m-170 102h0m120 -17h0m-99 -175h0m-79 149h0m123 -25h0m-118 81h0m207 -2h0m-146 -170h0m9 57h0m-12 82h0m53 -184h0m157 207h0m-111 2h0m97 -16h0m-226 37h0m148 -153h0m-69 77h0m-110 54h0m44 -57h0m144 16h0m-56 -142h0m63 216h0m-125 -140h0m252 79h0m-85 43h0m-247 -146h0m88 -41h0m110 113h0m-58 14h0m54 -56h0m-43 29h0m-65 -84h0m-30 33h0m150 5h0m-69 -59h0m166 155h0m-190 -14h0m-73 -113h0m276 83h0m-124 152h0m-85 -339h0m-83 250h0m8 -168h0m8 48h0m198 69h0m-175 -123h0m104 169h0m31 87h0m-148 -234h0m270 155h0m-148 6h0m47 86h0m45 -105h0m-179 -32h0m181 -42h0m-94 -9h0m-38 -58h0m-21 -78h0m-8 168h0m2 -178h0m58 53h0m11 79h0m30 53h0m-93 -24h0m-51 -60h0m192 2h0m-258 12h0m79 -13h0m205 57h0m-221 -102h0m88 219h0m37 -159h0m84 83h0m19 -20h0m-252 61h0m250 -4h0m-131 -196h0m17 252h0m117 -88h0m-215 -212h0m97 293h0m-103 -178h0m263 117h0m-148 37h0m160 -6h0m-222 -244h0m173 241h0m-7 -60h0m-175 4h0m31 13h0m45 -84h0m74 102h0m-162 -91h0m6 20h0m-67 -29h0m202 57h0m-16 -2h0m-111 42h0m78 29h0m33 -63h0m-161 -31h0m-66 -48h0m110 -97h0m-93 185h0m207 73h0m-123 -111h0m-47 61h0m148 -98h0m-6 -10h0m29 151h0m-125 -262h0m73 169h0m-41 48h0m76 -84h0m54 104h0m-155 -86h0m22 65h0m23 30h0m118 -24h0m-239 -105h0m53 -120h0m-22 136h0m127 -95h0m-10 210h0m-140 -178h0m131 26h0m-11 37h0m90 175h0m-109 -98h0m66 -68h0m-108 -92h0m-65 73h0m146 51h0m-45 -16h0m27 4h0m-24 86h0m-57 -21h0m17 -98h0m124 -69h0m-201 71h0m-20 75h0m224 -69h0m-97 -86h0m147 173h0m-137 -136h0m-20 18h0m128 68h0m42 -38h0m-179 50h0m-103 -2h0m294 42h0m16 18h0m-92 -194h0m-168 106h0m-52 38h0m145 -4h0m-105 -139h0m133 174h0m-98 -160h0m116 -18h0m73 86h0m-93 -58h0m-6 157h0m17 -206h0m-15 244h0m-72 -89h0m212 -22h0m-231 44h0m154 84h0m-78 -118h0m-147 45h0m318 16h0m-271 -28h0m53 -185h0m-15 -20h0m-91 211h0m187 -101h0m-61 76h0m47 102h0m-78 -71h0m25 5h0m43 55h0m5 0h0m-65 -32h0m62 -195h0m-75 156h0m47 -172h0m70 183h0m-29 -12h0m-90 -54h0m96 -39h0m-24 -9h0m16 -64h0m-34 198h0m35 76h0m-162 -79h0m-9 -11h0m-8 -30h0m150 -159h0m133 186h0m-20 -84h0m56 111h0m-165 -117h0m12 -22h0m-134 -23h0m247 45h0m-28 30h0m-166 -93h0m151 145h0m-223 -68h0m-9 18h0m230 43h0m-229 -17h0m93 36h0m-48 42h0m40 -172h0m-5 -16h0m190 60h0m-216 138h0m149 -191h0m4 91h0m-98 66h0m50 -102h0m-35 -140h0m-123 178h0m262 -41h0m-262 -8h0m41 -74h0m153 31h0m-144 27h0m163 175h0m37 -136h0m-119 5h0m-88 -87h0m-41 68h0m241 -3h0m-47 34h0m-111 -170h0m134 42h0m-74 139h0m40 -79h0m-43 92h0m65 -116h0m-18 201h0m31 -97h0m-173 38h0m0 -155h0m-20 -4h0m59 158h0m-81 -7h0m298 31h0m-180 -34h0m-65 -150h0m145 -22h0m-148 11h0m-21 174h0m230 -6h0m-175 -216h0m73 271h0m66 -72h0m-164 -67h0m144 42h0m-200 77h0m80 -260h0m105 271h0m-157 -98h0m22 27h0m-45 22h0m209 -107h0m-32 190h0m-186 -67h0m284 -75h0m-51 58h0m-27 8h0m-21 -14h0m-181 17h0m-6 -30h0m214 -85h0m-147 -116h0m-51 216h0m70 50h0m59 -91h0m-8 49h0m92 -52h0m-169 -115h0m150 173h0m-160 -150h0m131 65h0m-19 -27h0m-146 -9h0m7 7h0m26 78h0m229 85h0m-201 -164h0m-69 -12h0m316 112h0m-51 36h0m-80 21h0m-58 -216h0m51 281h0m-31 -145h0m28 55h0m-54 -66h0m-49 -66h0m10 -84h0m200 232h0m-88 -97h0m23 -3h0m40 101h0m-73 -186h0m-42 -22h0m-131 109h0m175 171h0m-19 -9h0m122 -173h0m-201 -42h0m95 29h0m107 4h0m-191 50h0m47 -140h0m-4 97h0m16 26h0m-36 -16h0m-6 36h0m52 -76h0m-179 -31h0m228 54h0m83 118h0m-124 -133h0m-93 40h0m-24 -71h0m59 93h0m117 -12h0m-160 -93h0m148 83h0m-226 27h0m177 0h0m-106 -138h0m79 202h0m15 -231h0m13 2h0m-27 244h0m31 -169h0m-176 39h0m208 40h0m-78 -12h0m-136 23h0m119 -192h0m0 10h0m-59 168h0m163 -31h0m75 15h0m-33 37h0m-37 139h0m-125 -148h0m-53 5h0m212 -57h0m63 90h0m-119 -27h0m-46 68h0m-98 2h0m121 -15h0m75 -11h0m-129 -232h0m66 263h0m-117 -267h0m-47 125h0m233 66h0m34 -52h0m-314 27h0m67 66h0m-10 -133h0m28 -61h0m85 236h0m-105 -130h0m208 56h0m23 54h0m-219 -114h0m182 8h0m-223 -31h0m100 58h0m124 12h0m-46 -150h0m131 221h0m-226 -253h0m-2 107h0m135 88h0m24 5h0m-255 -75h0m77 -128h0m19 94h0m21 78h0m-58 -144h0m146 166h0m-172 -163h0m157 289h0m-20 -212h0m-86 82h0m79 37h0m117 -3h0m-164 -12h0m36 -4h0m1 -186h0m-154 154h0m164 -21h0m-27 -46h0m71 53h0m-84 19h0m84 -54h0m-84 41h0m13 -153h0m140 125h0m-234 -96h0m41 213h0m47 -232h0m106 212h0m-125 -85h0m-109 -92h0m250 194h0m-177 -250h0m47 194h0m4 -25h0m84 -86h0m-26 213h0m-83 -125h0m-11 -79h0m129 15h0m-184 89h0m-23 -137h0m86 -37h0m-105 33h0m145 187h0m-125 -18h0m85 -42h0m195 -15h0m-113 -8h0m38 71h0m-158 -170h0m265 182h0m-105 -100h0m-201 -82h0m39 -50h0m125 69h0m-161 149h0m7 -205h0m1 -5h0m-5 185h0m168 -121h0m-76 176h0m29 -140h0m-38 38h0m40 56h0m-28 -170h0m102 99h0m-81 101h0m-139 -194h0m142 189h0m87 -89h0m-111 14h0m126 21h0m15 -57h0m-112 103h0m22 -196h0m-147 14h0m158 138h0m-78 -38h0m-100 -88h0m148 80h0m55 7h0m-8 -64h0m79 94h0m-26 -49h0m-13 -10h0m-179 -108h0m82 239h0m-72 -148h0m77 18h0m87 46h0m29 47h0m-84 -168h0m-121 -39h0m119 35h0m-161 187h0m157 -158h0m54 104h0m-73 -25h0m-56 -130h0m-50 33h0m17 101h0m7 -111h0m-74 172h0m211 5h0m0 -43h0m-44 78h0m65 -40h0m-82 -41h0m-138 3h0m126 -105h0m130 141h0m-130 -211h0m178 205h0m-304 -152h0m267 67h0m-120 175h0m-98 -235h0m147 36h0m-203 -36h0m-5 138h0m97 -90h0m-28 -96h0m74 21h0m-120 21h0m15 -1h0m203 132h0m-143 -89h0m106 -28h0m124 166h0m-187 -131h0m-106 110h0m188 19h0m57 30h0m-91 -22h0m-191 -33h0m59 -74h0m155 124h0m6 -139h0m-182 -52h0m-8 163h0m53 -11h0m-29 -57h0m78 21h0m-18 51h0m-100 -35h0m102 -203h0m169 221h0m-253 -134h0m-19 -3h0m-18 12h0m213 82h0m-48 -89h0m-171 10h0m290 164h0m-78 -126h0m-24 166h0m-118 -46h0m135 -190h0m-126 61h0m-22 -72h0m251 100h0m-153 44h0m66 -81h0m50 136h0m-146 -7h0m60 -192h0m-1 53h0m-180 118h0m52 -222h0m234 160h0m50 91h0m-266 -225h0m41 88h0m161 68h0m0 -37h0m-246 76h0m89 -173h0m-7 80h0m49 111h0m69 -159h0m-134 -31h0m8 29h0m25 34h0m-7 74h0m8 -36h0m-56 82h0m-21 -171h0m23 -82h0m118 247h0m-80 5h0m-112 -143h0m178 129h0m-120 52h0m66 -99h0m93 89h0m-71 -178h0m-115 168h0m204 87h0m50 -95h0m-216 -100h0m153 185h0m-28 -238h0m-123 112h0m47 -159h0m76 183h0m-134 -237h0m83 217h0m25 8h0m121 -91h0m-196 -110h0m53 264h0m58 -57h0m19 -50h0m-136 -147h0m18 143h0m58 -79h0m96 59h0m-53 141h0m19 47h0m-163 -166h0m249 75h0m-171 -43h0m-40 -18h0m124 -103h0m-190 150h0m161 87h0m-144 -125h0m144 -143h0m16 61h0m94 121h0m-170 25h0m118 -46h0m-155 -146h0m106 46h0m23 107h0m-203 -40h0m113 16h0m-126 -28h0m18 20h0m83 -196h0m-115 183h0m96 87h0m-33 -189h0m173 87h0m-47 80h0m-120 -2h0m-40 -162h0m21 146h0m42 -20h0m105 -113h0m-94 7h0m-85 -43h0m177 220h0m14 -48h0m-128 -74h0m208 -2h0m-164 42h0m-34 -72h0m-18 70h0m-50 -154h0m35 49h0m16 -90h0m14 261h0m64 -166h0m96 19h0m-112 -28h0m171 126h0m-280 -7h0m313 27h0m-151 16h0m140 20h0m-124 -62h0m-32 -123h0m-143 54h0m-19 81h0m161 33h0m61 -51h0m-68 108h0m35 -124h0m89 22h0m-80 25h0m11 -169h0m-104 57h0m-13 -25h0m133 38h0m-139 139h0m-76 -209h0m273 127h0m-66 157h0m-216 -155h0m91 33h0m-19 -224h0m213 279h0m-233 -198h0m55 -4h0m-75 33h0m-33 112h0m158 -28h0m-115 13h0m41 -180h0m-31 79h0m277 138h0m-138 -216h0m-116 106h0m135 94h0m-64 20h0m119 -92h0m-202 -44h0m-9 1h0m71 22h0m-138 -25h0m130 -27h0m-67 136h0m-58 -16h0m176 28h0m-102 -184h0m189 104h0m21 -5h0m-77 141h0m6 -53h0m-108 -176h0m122 177h0m-166 -124h0m151 144h0m50 -79h0m-183 -140h0m13 198h0m88 55h0m-106 -20h0m74 -30h0m-49 -4h0m215 -76h0m-282 -96h0m114 -62h0m48 223h0m-14 -34h0m-62 -26h0m9 -53h0m-112 79h0m11 20h0m28 -143h0m-52 90h0m239 -46h0m37 175h0m-274 -94h0m84 62h0m-34 -137h0m136 8h0m49 204h0m-239 -103h0m187 46h0m-81 -187h0m-55 91h0m135 28h0m-69 -219h0m119 293h0m16 -75h0m-192 45h0m30 6h0m-62 -129h0m29 106h0m-27 8h0m117 -24h0m109 -49h0m44 -22h0m-215 -157h0m138 275h0m-23 -52h0m5 -171h0m6 139h0m-46 -64h0m-66 -46h0m-43 13h0m20 -84h0m-9 281h0m92 -143h0m33 122h0m-158 -67h0m204 -27h0m-194 -13h0m11 99h0m128 -159h0m-16 126h0m4 18h0m-158 -18h0m264 34h0m-96 -180h0m115 156h0m-116 42h0m51 -115h0m-151 50h0m174 9h0m-83 -156h0m106 160h0m-199 -56h0m-19 -11h0m83 70h0m20 35h0m-102 -91h0m59 43h0m28 -160h0m-106 140h0m-30 6h0m274 60h0m-81 -201h0m133 177h0m-115 -62h0m-144 -62h0m24 101h0m90 -9h0m7 116h0m-116 -320h0m-21 10h0m71 150h0m-109 -29h0m190 -56h0m-13 -34h0m72 234h0m-47 0h0m16 -74h0m-47 38h0m-27 80h0m-101 -282h0m59 57h0m32 62h0m-158 69h0m65 -217h0m85 6h0m-50 231h0m-34 -25h0m85 -9h0m-91 -80h0m114 31h0m26 -104h0m43 106h0m-141 102h0m-84 -125h0m119 102h0m-9 -86h0m81 -12h0m12 200h0m-201 -118h0m14 -131h0m244 183h0m-241 -225h0m30 109h0m195 -36h0m-164 -43h0m172 209h0m-104 -70h0m-124 -203h0m207 163h0m-92 8h0m-135 -126h0m122 171h0m83 -70h0m-136 33h0m180 -32h0m-256 77h0m65 -71h0m81 92h0m-99 -48h0m131 -37h0m-138 62h0m-45 20h0m212 -21h0m-99 -233h0m68 223h0m-136 -2h0m244 14h0m6 -5h0m-227 -179h0m15 -31h0m180 150h0m-75 30h0m-106 -154h0m-94 80h0m217 207h0m-171 -63h0m111 -177h0m-103 -40h0m81 99h0m23 -16h0m13 94h0m69 110h0m-250 -236h0m283 171h0m-168 -188h0m-10 181h0m132 -177h0m-124 104h0m200 65h0m-68 -26h0m45 -21h0m-215 -22h0m254 -6h0m-206 -49h0m178 98h0m-102 -156h0m-195 115h0m303 56h0m-136 -145h0m8 133h0m-16 -93h0m-115 39h0m122 97h0m1 -198h0m-3 146h0m40 -52h0m-86 -77h0m98 180h0m-75 -98h0m14 81h0m183 -21h0m-309 -7h0m57 -189h0m164 93h0m-143 -40h0m234 163h0m-293 -213h0m28 193h0m-47 -144h0m55 -40h0m88 61h0m-157 65h0m129 7h0m16 36h0m-99 40h0m-36 -197h0m82 102h0m69 -1h0m-14 -13h0m-146 39h0m20 44h0m-1 -49h0m143 27h0m-76 27h0m0 -146h0m-86 155h0m216 -130h0m-131 82h0m40 -43h0m-16 -164h0m20 177h0m65 62h0m-142 -205h0m169 161h0m9 152h0m-18 -154h0m-113 -166h0m174 187h0m-72 17h0m62 55h0m-4 -28h0m-215 -51h0m121 111h0m47 -168h0m62 30h0m-119 -147h0m15 51h0m131 64h0m-200 95h0m78 -149h0m29 114h0m104 -16h0m-160 35h0m-105 -145h0m120 228h0m-12 -88h0m29 7h0m-184 -56h0m71 -54h0m98 -32h0m14 158h0m-108 -31h0m117 119h0m-215 -223h0m44 145h0m19 -244h0m215 263h0m-206 -208h0m2 69h0m28 -84h0m241 178h0m-337 -50h0m140 -87h0m43 220h0m-11 -112h0m44 28h0m-99 -107h0m148 119h0m-6 -16h0m-56 114h0m-11 -17h0m-129 -40h0m63 -88h0m-107 7h0m155 -65h0m91 -19h0m-17 96h0m-148 -118h0m-25 148h0m-53 -49h0m84 -80h0m-36 132h0m26 -169h0m33 -78h0m78 177h0m118 59h0m-207 -20h0m85 57h0m-182 -193h0m126 -14h0m-71 -41h0m80 107h0m-98 113h0m29 -144h0m55 118h0m195 54h0m-290 -238h0m-24 180h0m6 30h0m-25 -47h0m79 -182h0m173 163h0m-90 107h0m-81 -139h0m144 24h0m-193 -25h0m119 20h0m-59 -77h0m32 41h0m116 170h0m80 -61h0m-73 -76h0m-152 -100h0m201 90h0m-210 -92h0m-34 166h0m68 -71h0m112 -47h0m51 163h0m-152 -264h0m-120 134h0m200 37h0m7 162h0m20 -233h0m-200 140h0m121 -133h0m145 89h0m-77 10h0m-104 -25h0m-64 -59h0m57 34h0m161 1h0m-63 160h0m-74 -118h0m-135 -83h0m71 -83h0m131 13h0m40 138h0m-133 2h0m88 107h0m-164 -222h0m185 192h0m-39 1h0m-120 -77h0m232 61h0m-228 -104h0m219 67h0m-99 71h0m-63 -105h0m-54 58h0m120 43h0m-172 -215h0m203 163h0m-147 -22h0m37 -13h0m-11 -173h0m84 103h0m-89 -117h0m55 126h0m65 -23h0m-55 113h0m63 -149h0m-87 130h0m-62 -106h0m106 51h0m-167 53h0m237 144h0m-117 -107h0m9 -162h0m-116 0h0m18 188h0m105 -95h0m49 89h0m-65 -265h0m71 95h0m-177 79h0m252 38h0m-200 55h0m66 -47h0m51 -134h0m-149 -59h0m171 248h0m-215 -182h0m75 -40h0m-27 38h0m55 -45h0m-60 95h0m145 -50h0m10 214h0m-70 -247h0m-4 11h0m69 212h0m-183 -196h0m155 -30h0m-138 61h0m-18 -39h0m173 79h0m15 -76h0m-57 117h0m-28 -208h0m-18 242h0m100 -128h0m79 156h0m-22 -25h0m-12 -90h0m-22 -15h0m57 159h0m-66 -15h0m-45 -216h0m-121 167h0m62 -142h0m112 133h0m-157 -88h0m83 114h0m54 -61h0m-180 -104h0m72 15h0m7 -68h0m214 239h0m-256 6h0m57 -70h0m-98 -98h0m107 -61h0m70 290h0m6 -135h0m6 -151h0m82 101h0m-158 -139h0m31 35h0m84 169h0m-207 -81h0m45 -92h0m29 180h0m-26 -159h0m121 281h0m-13 -88h0m-184 -43h0m210 120h0m97 -44h0m-270 -120h0m31 85h0m111 -223h0m75 146h0m-130 -154h0m91 157h0m-22 126h0m31 -90h0m-235 -4h0m303 59h0m-182 -280h0m-49 42h0m-61 172h0m227 -24h0m-239 -61h0m138 147h0m135 -137h0m-96 -16h0m-105 -45h0m63 38h0m147 70h0m-272 -41h0m259 37h0m-91 -30h0m-175 27h0m175 -73h0m57 142h0m-82 -70h0m87 119h0m-149 -164h0m189 109h0m-98 -121h0m24 -21h0m-111 -9h0m25 -45h0m-66 82h0m36 116h0m193 9h0m-84 38h0m-145 -57h0m-11 7h0m116 -5h0m51 -99h0m-159 -19h0m20 168h0m174 -70h0m-47 -148h0m-69 201h0m-58 -179h0m30 -5h0m99 72h0m6 104h0m5 6h0m-143 5h0m169 15h0m-25 -14h0m-76 -200h0m-32 32h0m-14 8h0m-38 -38h0m113 -43h0m117 152h0m-270 16h0m250 -70h0m84 125h0m-262 -158h0m104 221h0m-133 -93h0m44 -117h0m34 90h0m-45 -142h0m55 168h0m-56 -96h0m13 130h0m113 -184h0m-16 118h0m-33 28h0m-8 11h0m-104 -31h0m255 77h0m-79 -29h0m-93 -229h0m102 159h0m-135 61h0m136 -57h0m-113 -93h0m141 169h0m-141 -199h0m-30 -17h0m47 154h0m76 156h0m11 -120h0m-200 -31h0m148 32h0m-21 -192h0m-82 -18h0m-32 68h0m-20 160h0m163 -190h0m58 256h0m-15 -195h0m-97 -36h0m33 120h0m-132 -12h0m209 -54h0m-73 -22h0m-94 12h0m222 80h0m-235 -106h0m192 26h0m-240 82h0m103 -73h0m209 88h0m-41 56h0m-178 -217h0m23 150h0m129 55h0m-68 -203h0m139 190h0m-120 55h0m31 8h0m-85 -252h0m-81 -15h0m-28 15h0m139 220h0m-155 -211h0m280 93h0m-225 2h0m93 161h0m64 -19h0m-193 -240h0m238 187h0m-184 -69h0m34 16h0m-134 -19h0m144 -53h0m-75 -59h0m-2 191h0m112 -167h0m13 -38h0m-31 2h0m-157 37h0m30 165h0m133 -34h0m-26 -137h0m-101 102h0m51 -87h0m118 176h0m-18 -195h0m-63 -10h0m64 105h0m-93 -114h0m-27 5h0m269 164h0m-267 28h0m-9 -30h0m-33 -30h0m7 17h0m138 -16h0m-95 44h0m-55 -59h0m132 -152h0m-86 25h0m173 59h0m-117 92h0m197 -22h0m-255 26h0m142 26h0m-14 -54h0m-148 91h0m67 -149h0m-74 -34h0m66 52h0m0 118h0m-102 -65h0m65 -196h0m70 219h0m-39 -193h0m21 24h0m190 202h0m-247 -236h0m127 54h0m58 190h0m70 -62h0m-306 65h0m225 -143h0m26 153h0m-147 -10h0m-81 -218h0m112 205h0m-74 -102h0m239 10h0m-153 -47h0m-11 176h0m46 -7h0m-72 -174h0m-30 138h0m132 -7h0m-132 -188h0m56 43h0m117 176h0m-41 -45h0m-139 18h0m-57 -128h0m19 -10h0m278 125h0m-36 -16h0m-60 -13h0m-195 -8h0m179 -12h0m52 27h0m-258 -129h0m202 123h0m8 76h0m-214 -81h0m207 -122h0m18 176h0m-148 -153h0m58 -37h0m-139 112h0m57 -95h0m131 181h0m-147 -167h0m87 151h0m-26 -83h0m94 -120h0m-94 218h0m211 -26h0m-214 -138h0m15 -57h0m-58 -7h0m-1 125h0m44 -14h0m104 91h0m-76 -165h0m27 188h0m-117 -217h0m10 224h0m177 -16h0m-122 -92h0m-100 73h0m113 38h0m82 -232h0m142 226h0m-89 -29h0m14 43h0m-220 -42h0m23 -9h0m168 117h0m-219 -150h0m226 13h0m-28 136h0m-194 -265h0m20 21h0m21 174h0m76 -247h0m-131 216h0m169 -89h0m-82 86h0m46 -13h0m26 41h0m-65 -78h0m-113 12h0m70 32h0m-21 -165h0m-23 158h0m81 -97h0m-36 59h0m242 -29h0m-130 169h0m-84 -155h0m159 90h0m-29 -214h0m-3 172h0m-93 -208h0m-34 191h0m-12 -95h0m156 45h0m77 23h0m-120 -50h0m52 61h0m-223 -10h0m16 -94h0m172 -19h0m-116 222h0m29 -278h0m117 355h0m-175 -157h0m-57 -79h0m97 -25h0m-84 130h0m286 -40h0m-241 12h0m225 -45h0m4 91h0m-226 -190h0m69 85h0m25 95h0m-66 -211h0m249 243h0m-334 -64h0m112 4h0m151 -38h0m-265 40h0m159 -39h0m-20 25h0m-76 -184h0m256 229h0m-128 -161h0m29 62h0m-81 -114h0m-29 -39h0m155 225h0m-195 -120h0m-45 -52h0m29 47h0m-49 86h0m224 -72h0m-201 -1h0m297 120h0m-265 62h0m11 -256h0m-25 106h0m-57 76h0m228 15h0m17 28h0m5 109h0m-107 -201h0m25 46h0m3 72h0m33 24h0m-34 -149h0m111 90h0m-87 -127h0m-61 91h0m-38 -120h0m-85 -6h0m275 165h0m-153 -38h0m147 81h0m-200 -179h0m111 64h0m-49 69h0m-4 -184h0m-68 0h0m-3 28h0m-19 161h0m147 -105h0m-91 37h0m76 95h0m-4 18h0m-47 -214h0m98 200h0m-114 -115h0m-99 -14h0m113 -86h0m94 174h0m-92 9h0m-101 -160h0m92 49h0m71 -57h0m-45 186h0m-68 -68h0m66 40h0m102 93h0m-27 -240h0m-41 133h0m4 -176h0m-99 -25h0m26 -3h0m141 186h0m-221 -16h0m13 15h0m151 89h0m-58 -157h0m-10 -14h0m-12 -45h0m-114 37h0m68 -84h0m28 137h0m19 41h0m-111 -5h0m232 41h0m70 -88h0m-156 -86h0m175 206h0m-248 -274h0m209 253h0m-263 -42h0m131 -179h0m86 175h0m21 -4h0m-40 23h0m17 88h0m-101 -240h0m131 87h0m-169 -149h0m67 155h0m-2 89h0m26 -113h0m66 -4h0m7 92h0m-40 -161h0m-68 67h0m-13 114h0m38 41h0m-161 -173h0m298 144h0m-169 -158h0m148 52h0m-212 -120h0m-20 32h0m162 174h0m-29 -54h0m58 -80h0m-12 59h0m-227 50h0m141 -100h0m-74 138h0m-61 0h0m115 -11h0m130 -120h0m-105 -14h0m121 157h0m-194 -217h0m108 65h0m-32 68h0m118 -18h0m-69 -110h0m71 66h0m-63 -71h0m-87 206h0m-81 -212h0m6 186h0m99 -155h0m-46 8h0m83 -51h0m-99 -9h0m210 217h0m-85 -193h0m-170 -28h0m-47 158h0m0 14h0m188 6h0m-131 55h0m16 -199h0m126 235h0m-90 -104h0m132 26h0m-34 -26h0m20 84h0m-9 -198h0m12 223h0m16 -90h0m-8 -78h0m-62 -16h0m-12 -7h0m-114 110h0m58 -103h0m35 -74h0m42 169h0m-34 -144h0m-79 85h0m139 177h0m-46 -145h0m-156 32h0m333 41h0m-217 -138h0m-94 89h0m275 39h0m-260 -40h0m37 80h0m104 -210h0m-85 17h0m-61 12h0m227 175h0m-72 -148h0m59 9h0m-115 -135h0m24 208h0m-57 -105h0m33 -83h0m20 277h0m-96 -186h0m134 80h0m11 -24h0m70 19h0m-68 85h0m-80 -181h0m-109 119h0m32 64h0m-7 -237h0m237 231h0m-178 -243h0m66 127h0m-70 -85h0m76 160h0m70 -44h0m-161 -98h0m147 116h0m-233 -76h0m-4 82h0m312 70h0m-277 -96h0m47 -70h0m30 31h0m63 -78h0m13 181h0m-113 4h0m-69 -106h0m215 -59h0m84 65h0m-24 86h0m-23 -32h0m55 -46h0m-307 36h0m248 -76h0m-239 8h0m217 15h0m67 129h0m-77 -7h0m20 -19h0m-191 -114h0m265 21h0m-121 31h0m-24 9h0m-32 23h0m-5 -51h0m-82 -144h0m176 171h0m50 -15h0m-244 -62h0m57 53h0m232 58h0m-315 -92h0m32 44h0m289 58h0m-177 -57h0m-140 47h0m15 -160h0m116 124h0m167 51h0m-200 0h0m62 -75h0m-18 -115h0m54 47h0m-213 14h0m26 -43h0m264 160h0m52 40h0m-279 -168h0m239 150h0m-229 -178h0m147 69h0m-107 -34h0m-36 -94h0m69 19h0m156 156h0m-116 54h0m40 83h0m-48 -61h0m-130 -99h0m79 -75h0m17 55h0m77 92h0m-199 -115h0m151 -6h0m37 224h0m-159 -281h0m171 205h0m-3 -156h0m-185 7h0m80 -102h0m11 188h0m188 35h0m-259 -112h0m195 104h0m-14 -135h0m60 140h0m-171 -121h0m-37 -66h0m-31 232h0m155 -102h0m-169 -83h0m73 149h0m-56 -78h0m205 -32h0m-77 1h0m-37 122h0m198 -8h0m-158 -154h0m-32 115h0m175 67h0m-189 -51h0m-138 -11h0m173 64h0m-55 -109h0m-15 -2h0m119 168h0m-194 -78h0m162 -222h0m114 194h0m-234 -198h0m106 226h0m-42 -207h0m-26 191h0m-113 -125h0m91 103h0m53 30h0m3 -246h0m-120 137h0m162 54h0m47 45h0m-179 -49h0m218 49h0m-3 -110h0m-147 117h0m3 -3h0m-36 -110h0m32 1h0m92 51h0m-75 -39h0m70 197h0m-139 -182h0m-27 70h0m88 -56h0m-75 48h0m166 44h0m-183 -47h0m173 -174h0m-26 52h0m-150 7h0m146 -4h0m-174 81h0m226 -13h0m-232 22h0m69 -105h0m-31 -40h0m178 241h0m-82 -260h0m-3 -19h0m64 281h0m-142 -242h0m181 155h0m-152 -143h0m115 250h0m-103 -23h0m87 -59h0m-169 -155h0m20 56h0m239 29h0m-73 -108h0m-147 64h0m140 171h0m-98 -27h0m-41 -143h0m0 114h0m-22 -42h0m65 -68h0m125 -8h0m26 218h0m-236 -244h0m173 127h0m90 77h0m-169 -122h0m-102 -69h0m28 -11h0m201 72h0m-82 79h0m-25 -124h0m-26 -93h0m30 39h0m-69 -31h0m-33 55h0m6 93h0m40 -111h0m226 222h0m-34 -136h0m-122 15h0m98 -8h0m-211 60h0m223 9h0m-158 -91h0m-87 -7h0m202 -61h0m25 101h0m-63 77h0m-78 -166h0m113 0h0m-24 174h0m-129 -72h0m-26 -102h0m7 194h0m208 -82h0m-77 49h0m-8 -67h0m-120 72h0m289 -74h0m-150 146h0m-82 -231h0m83 48h0m55 47h0m-7 -35h0m-101 -99h0m-57 173h0m8 -42h0m14 -6h0m63 90h0m-68 -227h0m-52 7h0m125 136h0m-42 -129h0m23 108h0m-102 -49h0m-37 71h0m107 -10h0m-89 88h0m61 -203h0m-1 3h0m242 92h0m-188 -76h0m206 158h0m-298 -96h0m175 158h0m-60 -96h0m-148 -115h0m247 80h0m-64 -33h0m19 87h0m-122 -135h0m113 -37h0m38 102h0m-66 105h0m-107 -179h0m179 38h0m-171 169h0m245 -127h0m-158 119h0m-100 -22h0m132 69h0m-32 -83h0m91 4h0m50 -47h0m17 23h0m-174 66h0m-91 -240h0m148 186h0m24 20h0m62 2h0m-146 -84h0m127 24h0m-88 -93h0m51 8h0m-221 76h0m305 -40h0m-96 161h0m49 -77h0m-114 -219h0m5 281h0m-102 -107h0m204 79h0m-179 -66h0m171 -25h0m-11 180h0m-103 -159h0m-125 1h0m172 -136h0m-118 -5h0m260 186h0m-201 -50h0m-83 -74h0m-23 147h0m88 -153h0m99 223h0m-148 -97h0m262 18h0m-159 -179h0m77 215h0m-30 -68h0m-15 -106h0m108 135h0m-257 -55h0m251 -4h0m-218 -137h0m132 99h0m26 68h0m-16 109h0m-81 -179h0m-89 44h0m219 -57h0m-128 107h0m85 -137h0m9 113h0m-66 -130h0m-76 129h0m219 -67h0m-61 -1h0m-231 0h0m278 128h0m-81 47h0m-49 -61h0m-23 -35h0m63 -45h0m-21 155h0m-112 -94h0m113 -98h0m-47 -112h0m-67 143h0m98 94h0m-9 -158h0m116 184h0m-214 -239h0m212 152h0m-119 -44h0m63 4h0m76 -14h0m-207 -148h0m46 166h0m133 -26h0m-114 -93h0m-65 -22h0m181 204h0m-227 -24h0m26 -160h0m8 30h0m134 167h0m14 -135h0m95 49h0m-107 152h0m-142 -155h0m-3 66h0m147 66h0m-90 -233h0m125 243h0m-79 -48h0m25 -212h0m69 165h0m-221 9h0m-40 -101h0m212 158h0m-96 -158h0m111 53h0m-144 -33h0m44 -100h0m-13 225h0m93 -180h0m-180 98h0m229 37h0m-20 123h0m-87 -238h0m-61 95h0m125 18h0m-51 -35h0m-91 -50h0m217 41h0m-173 -117h0m-93 16h0m219 142h0m-208 -10h0m124 -50h0m123 127h0m-245 -104h0m89 3h0m74 144h0m-134 -284h0m40 154h0m168 -1h0m-170 -63h0m31 -107h0m-18 75h0m170 51h0m-100 146h0m19 -183h0m-125 -70h0m18 221h0m-20 -183h0m18 172h0m-2 31h0m101 20h0m-73 -255h0m190 230h0m-122 -150h0m34 5h0m-71 -31h0m-118 -59h0m179 155h0m-112 -110h0m-78 2h0m114 119h0m136 35h0m-154 -89h0m-89 -55h0m100 110h0m-37 -88h0m121 156h0m-53 -199h0m137 201h0m21 -14h0m-160 23h0m11 13h0m-54 -225h0m42 -54h0m87 190h0m-161 40h0m-37 -1h0m21 -96h0m79 88h0m-123 -158h0m91 -38h0m103 31h0m-169 7h0m-26 178h0m117 -79h0m47 84h0m-155 9h0m-2 -150h0m-28 78h0m157 23h0m93 1h0m90 31h0m-115 -98h0m-59 103h0m-78 -225h0m35 25h0m35 177h0m133 -63h0m-2 71h0m-214 -85h0m151 -25h0m-119 -137h0m-3 109h0m-50 -26h0m84 201h0m-44 -79h0m-20 41h0m68 -232h0m122 113h0m-252 66h0m78 -123h0m99 147h0m140 12h0m-337 -105h0m252 120h0m-30 -17h0m49 -5h0m-192 -175h0m152 99h0m-132 -144h0m-74 164h0m74 -140h0m31 214h0m10 -148h0m138 110h0m-92 10h0m-119 -134h0m77 0h0m-62 194h0m245 -13h0m-324 -170h0m136 -68h0m-93 57h0m30 -21h0m76 186h0m-64 24h0m48 -134h0m177 54h0m-128 -45h0m-9 40h0m52 158h0m-100 -316h0m-126 165h0m220 -79h0m-208 112h0m90 -213h0m57 133h0m130 104h0m-191 -162h0m52 170h0m-9 -41h0m-56 59h0m129 -213h0m-98 -44h0m130 155h0m-37 150h0m-128 -150h0m25 -113h0m-70 62h0m206 233h0m-123 -278h0m14 84h0m-118 -9h0m207 39h0m22 -42h0m-85 113h0m68 -53h0m-101 -65h0m-13 -48h0m-46 156h0m182 -124h0m-149 -99h0m120 216h0m-26 -210h0m-131 40h0m37 79h0m-94 -12h0m138 -96h0m54 245h0m5 -154h0m-49 -79h0m-87 -48h0m40 150h0m145 2h0m17 61h0m-187 -125h0m-45 86h0m173 -123h0m-16 85h0m110 136h0m-70 -137h0m-28 138h0m-135 -245h0m174 93h0m30 19h0m-94 157h0m-114 -23h0m75 -58h0m56 -138h0m-203 73h0m306 30h0m-141 -132h0m-101 157h0m-29 -133h0m279 79h0m-272 -104h0m73 -40h0m93 255h0m-44 -38h0m-147 -64h0m218 -58h0m51 122h0m-99 99h0m-31 -167h0m-87 111h0m118 40h0m12 9h0m-28 -88h0m-62 -170h0m-90 67h0m45 -51h0m107 161h0m149 20h0m-104 -72h0m-30 62h0m-128 -69h0m-39 -113h0m45 139h0m62 -138h0m212 152h0m-57 -11h0m-194 -195h0m29 140h0m-16 -94h0m139 99h0m-138 -105h0m96 37h0m-57 -81h0m-91 73h0m98 175h0m-40 -137h0m-76 28h0m114 -13h0m-88 -16h0m159 113h0m14 52h0m80 -81h0m-213 -160h0m1 161h0m-61 -161h0m34 20h0m118 178h0m-158 -69h0m155 149h0m136 -116h0m-165 62h0m85 -149h0m1 -14h0m-126 41h0m101 -60h0m-96 1h0m-63 -44h0m98 61h0m83 79h0m-80 -175h0m-120 131h0m10 -114h0m158 65h0m105 125h0m-111 29h0m-116 -204h0m0 13h0m36 58h0m-102 26h0m20 75h0m85 -192h0m30 215h0m172 12h0m-26 -41h0m-258 -8h0m105 -94h0m161 132h0m-194 -169h0m115 57h0m-2 100h0m-91 -72h0m-58 -117h0m228 182h0m-166 -60h0m113 73h0m-189 -32h0m104 77h0m142 -34h0m-88 45h0m-44 -155h0m-19 -63h0m-66 85h0m154 45h0m41 87h0m-5 -39h0m15 -61h0m10 -47h0m-197 -64h0m205 144h0m-176 -60h0m38 -134h0m-110 -1h0m178 275h0m-194 -132h0m36 -26h0m49 -49h0m-78 81h0m96 68h0m164 33h0m-136 -35h0m-103 -54h0m-49 30h0m61 -109h0m63 -78h0m-18 158h0m-27 -7h0m-57 -57h0m261 134h0m-130 -160h0m-99 169h0m258 10h0m-276 -144h0m-21 96h0m196 -120h0m-194 -70h0m53 218h0m66 -24h0m-151 -83h0m205 82h0m-168 -208h0m105 99h0m108 77h0m-139 36h0m17 4h0m-76 -124h0m80 169h0m186 -5h0m-125 -128h0m67 113h0m-39 -135h0m-149 9h0m202 119h0m-166 -239h0m-19 229h0m-59 -178h0m161 2h0m-34 128h0m40 57h0m-91 -151h0m-105 129h0m159 17h0m87 -74h0m-63 46h0m15 -65h0m-35 117h0m30 45h0m-181 -248h0m270 62h0m-66 144h0m11 -35h0m56 -47h0m-133 -8h0m-102 -27h0m-32 90h0m28 -160h0m257 54h0m-145 45h0m-91 38h0m129 -13h0m-128 -145h0m-2 172h0m28 -8h0m-67 -103h0m82 0h0m156 68h0m-76 132h0m-68 -236h0m57 -62h0m-145 35h0m153 146h0m-92 -119h0m-76 80h0m169 49h0m-92 -38h0m-71 -44h0m151 50h0m-163 -88h0m154 15h0m45 68h0m-154 -122h0m-49 199h0m64 -264h0m56 14h0m90 230h0m-22 -113h0m-47 82h0m-144 45h0m43 -46h0m93 -8h0m-130 15h0m36 -105h0m-21 -34h0m124 200h0m40 -101h0m98 -34h0m-9 35h0m-21 7h0m-155 -82h0m-21 -51h0m31 163h0m117 -19h0m-83 -130h0m33 220h0m-92 -104h0m-49 49h0m37 -238h0m223 277h0m-268 -184h0m183 79h0m-19 -50h0m-19 -20h0m37 -54h0m18 134h0m-238 -71h0m70 -107h0m5 -3h0m23 144h0m-98 -50h0m198 109h0m114 67h0m-165 -7h0m-38 -135h0m2 -129h0m-68 267h0m141 -175h0m-144 -63h0m16 40h0m73 129h0m146 -27h0m-253 -6h0m157 -2h0m-93 50h0m-37 -5h0m7 24h0m150 50h0m-63 -29h0m-52 25h0m8 -245h0m11 3h0m-45 188h0m128 -169h0m-192 68h0m338 111h0m-130 -53h0m-32 -45h0m-69 -36h0m169 158h0m-259 -181h0m-13 123h0m143 -24h0m-105 -147h0m276 227h0m-51 -105h0m-22 10h0m42 34h0m3 23h0m-54 130h0m-86 -301h0m-3 158h0m28 125h0m66 -186h0m-33 -89h0m-7 217h0m-103 -34h0m-56 -30h0m241 -17h0m-184 -108h0m102 195h0m-5 -86h0m-9 13h0m3 45h0m34 34h0m-201 -88h0m160 -64h0m-177 0h0m99 106h0m-74 -99h0m52 -138h0m-34 54h0m242 162h0m-159 38h0m30 -148h0m-131 14h0m33 -37h0m137 161h0m30 -22h0m-97 -146h0m-57 153h0m21 18h0m113 -204h0m53 155h0m-129 -101h0m187 124h0m-7 -22h0m-67 11h0m-111 15h0m-132 -121h0m72 67h0m128 -113h0m12 162h0m-30 -115h0m-127 11h0m-46 25h0m102 -32h0m172 112h0m-167 -137h0m149 205h0m-65 -107h0m-25 29h0m118 8h0m-177 -42h0m-120 -61h0m291 111h0m-139 -137h0m48 213h0m-77 -295h0m-57 111h0m64 157h0m125 -4h0m-84 -133h0m15 -44h0m-90 -35h0m-76 33h0m-5 106h0m189 -130h0m4 53h0m-33 136h0m-105 -207h0m21 90h0m168 76h0m-208 -153h0m149 125h0m-72 -137h0m58 -7h0m102 122h0m-241 -144h0m217 166h0m-113 105h0m-139 -192h0m81 2h0m101 -54h0m15 160h0m86 33h0m-88 -110h0m-81 -58h0m-31 29h0m50 115h0m-48 -65h0m40 60h0m-91 61h0m240 -68h0m-201 -104h0m-41 -55h0m30 145h0m127 -102h0m80 133h0m-165 30h0m-120 -144h0m169 43h0m63 56h0m-227 -6h0m113 -97h0m52 11h0m130 92h0m-150 -8h0m10 -16h0m51 88h0m-165 -150h0m73 93h0m-47 -93h0m52 52h0m75 107h0m86 -53h0m-226 -139h0m-19 -62h0m31 72h0m22 130h0m-47 -4h0m-43 -112h0m29 101h0m76 -125h0m79 236h0m32 -90h0m-157 18h0m50 -143h0m100 68h0m-77 -90h0m126 119h0m-46 29h0m50 -37h0m-73 142h0m-42 -213h0m-94 -100h0m12 249h0m70 -209h0m143 80h0m-55 127h0m-136 -186h0m-76 74h0m41 -95h0m-56 112h0m144 82h0m-8 -138h0m-75 -3h0m40 -119h0m164 217h0m-19 18h0m-28 -6h0m91 20h0m-82 -37h0m-39 -77h0m-77 -25h0m74 141h0m-121 -45h0m23 -166h0m-34 202h0m117 -78h0m24 123h0m-137 -213h0m114 228h0m-24 -51h0m-43 -2h0m218 -28h0m-213 -114h0m156 122h0m-263 -56h0m164 138h0m-106 -119h0m172 -21h0m-114 -86h0m116 99h0m-111 -13h0m-22 58h0m-61 -181h0m-5 206h0m242 -111h0m-133 134h0m37 53h0m-85 -94h0m53 -15h0m76 17h0m5 -148h0m-101 39h0m101 30h0m1 56h0m-142 -97h0m-35 85h0m238 16h0m-77 -90h0m-134 5h0m90 119h0m49 35h0m-185 -246h0m82 77h0m-21 130h0m-42 -133h0m81 -50h0m153 180h0m48 23h0m-294 -240h0m50 18h0m37 112h0m123 68h0m-227 -168h0m136 111h0m70 72h0m-30 -105h0m-35 -41h0m-113 96h0m137 -73h0m5 -66h0m97 194h0m-209 -38h0m149 -112h0m-153 85h0m82 27h0m170 32h0m-230 -116h0m1 -120h0m105 271h0m-42 -165h0m-82 -95h0m136 258h0m-21 -214h0m30 143h0m-172 -161h0m15 -17h0m42 188h0m91 11h0m-124 -152h0m88 168h0m58 -196h0m-169 170h0m41 -135h0m58 72h0m-121 -16h0m224 94h0m-112 -191h0m-37 187h0m119 18h0m-2 -5h0m-58 -63h0m132 17h0m-205 -62h0m-43 86h0m12 -143h0m-24 42h0m131 55h0m109 -6h0m-48 24h0m-41 58h0m-20 -53h0m168 83h0m-208 -95h0m-31 -153h0m112 255h0m-137 -278h0m-34 112h0m93 140h0m-66 -94h0m22 35h0m-23 -66h0m154 120h0m-4 -162h0m-7 94h0m-139 30h0m18 -116h0m-87 98h0m28 -86h0m96 -17h0m-124 -9h0m216 2h0m-96 90h0m153 -30h0m-178 119h0m150 -98h0m-176 -165h0m-18 42h0m104 180h0m11 81h0m-12 -292h0m-31 100h0m-35 -90h0m233 205h0m-209 -227h0m-52 145h0m70 -98h0m-3 98h0m-29 24h0m-32 64h0m-12 -48h0m88 -171h0m34 82h0m45 90h0m-201 -121h0m95 124h0m76 -56h0m46 111h0m-136 -148h0m35 61h0m18 113h0m-33 -272h0m72 116h0m40 57h0m-221 2h0m23 26h0m142 79h0m-51 -258h0m22 180h0m20 102h0m169 -50h0m-182 -32h0m-79 -143h0m47 100h0m-77 66h0m-57 -104h0m195 61h0m-180 18h0m225 13h0m-113 12h0m-55 -181h0m174 276h0m-11 -93h0m0 32h0m-176 -190h0m172 166h0m-84 -240h0m100 291h0m-37 -73h0m-50 -133h0m71 95h0m3 74h0m-93 -22h0m201 -10h0m-133 -91h0m38 99h0m-58 71h0m133 -60h0m-234 -244h0m-7 65h0m95 35h0m142 105h0m-172 -53h0m-102 -71h0m68 -4h0m0 67h0m112 -56h0m92 174h0m-209 -120h0m100 -43h0m112 109h0m-110 67h0m77 -50h0m10 21h0m-282 -61h0m4 34h0m154 -143h0m114 201h0m-286 -152h0m163 50h0m-12 28h0m174 47h0m-281 -149h0m269 152h0m-13 -23h0m-185 17h0m128 -106h0m-62 -18h0m-118 -44h0m153 177h0m60 -116h0m11 131h0m-218 -162h0m145 -42h0m2 17h0m94 103h0m-103 137h0m-128 -189h0m-7 138h0m39 -215h0m-62 111h0m117 -158h0m9 207h0m16 90h0m49 -23h0m-8 45h0m-216 -186h0m219 121h0m-64 -222h0m-131 26h0m224 180h0m-179 -131h0m53 -10h0m-38 -126h0m206 208h0m-62 79h0m-2 15h0m-54 25h0m-27 -119h0m-59 -109h0m57 -59h0m90 129h0m54 96h0m-112 -160h0m-19 163h0m-9 -28h0m-153 -144h0m104 -50h0m15 135h0m7 -156h0m180 236h0m-195 -43h0m61 -26h0m-86 76h0m-70 -18h0m323 31h0m-122 -186h0m-40 223h0m-55 -57h0m-108 -41h0m180 -95h0m-35 -19h0m-151 118h0m297 -73h0m-64 151h0m-222 -218h0m116 -14h0m76 258h0m-44 -192h0m30 206h0m-108 -209h0m73 -27h0m117 24h0m-20 46h0m-194 -164h0m-33 85h0m156 223h0m-87 -252h0m156 114h0m-42 -7h0m-17 33h0m56 30h0m-156 29h0m202 -109h0m-260 125h0m5 -75h0m279 73h0m-220 -7h0m35 -90h0m-130 8h0m165 33h0m-75 -167h0m74 36h0m99 137h0m-54 51h0m-124 -171h0m129 -22h0m-189 132h0m132 1h0m-45 -168h0m135 171h0m65 -15h0m-231 -176h0m-35 185h0m-56 -23h0m267 -21h0m-148 -38h0m-115 3h0m159 139h0m-3 -95h0m30 -73h0m-70 89h0m69 -99h0m83 117h0m-50 2h0m-139 -7h0m-19 -68h0m73 -64h0m-73 131h0m23 -82h0m14 -87h0m143 190h0m-62 -180h0m-49 30h0m-27 -79h0m-60 239h0m90 39h0m122 -56h0m-58 -123h0m-119 -66h0m192 254h0m-174 -45h0m34 -85h0m-82 -62h0m114 -76h0m-112 79h0m37 -97h0m-29 261h0m-50 -79h0m264 26h0m-234 -150h0m81 -36h0m92 138h0m-74 63h0m196 4h0m-258 27h0m241 -57h0m-204 -153h0m195 228h0m-248 -111h0m-28 -95h0m55 -45h0m-2 104h0m-63 60h0m186 -5h0m-69 -104h0m-123 2h0m87 188h0m126 41h0m-236 -157h0m82 50h0m71 -56h0m150 98h0m-202 -170h0m147 37h0m-156 -24h0m144 195h0m-152 -229h0m-12 124h0m206 -9h0m-148 -52h0m-16 -120h0m-77 205h0m61 71h0m60 -23h0m1 -14h0m-57 -11h0m76 12h0m-108 -228h0m-20 245h0m60 -1h0m-99 -97h0m279 75h0m-137 -33h0m26 -84h0m-96 -64h0m110 -10h0m-150 36h0m37 45h0m49 -5h0m174 36h0m-163 -81h0m-124 152h0m81 -64h0m190 37h0m-274 16h0m219 -13h0m-155 -112h0m29 -92h0m108 247h0m-100 -9h0m-81 -10h0m119 -17h0m9 30h0m-165 -117h0m82 -43h0m-34 65h0m113 -118h0m-131 195h0m38 -178h0m-19 204h0m183 -24h0m-3 -90h0m38 45h0m-131 82h0m80 64h0m-81 -254h0m120 112h0m-74 84h0m-12 -169h0m73 186h0m15 -108h0m68 13h0m-255 13h0m47 -144h0m26 137h0m48 -87h0m-85 -78h0m47 17h0m-125 164h0m55 -98h0m-43 73h0m160 -128h0m143 199h0m-58 -25h0m-276 -14h0m192 -6h0m-8 5h0m-75 31h0m91 -66h0m-132 107h0m-40 -175h0m149 -18h0m-106 -36h0m211 194h0m-229 -189h0m80 86h0m77 -39h0m-60 133h0m-110 9h0m-17 -182h0m215 254h0m-8 -182h0m76 56h0m-175 -97h0m177 120h0m-31 1h0m-237 6h0m234 48h0m-112 -150h0m-20 75h0m-54 29h0m159 -109h0m21 88h0m-245 -132h0m117 -65h0m97 156h0m-49 127h0m-87 -82h0m216 60h0m18 4h0m-95 -68h0m-117 1h0m-41 -128h0m-3 31h0m58 -37h0m-138 107h0m201 99h0m58 -7h0m63 13h0m-309 -58h0m73 -182h0m-26 69h0m-7 -50h0m165 175h0m-77 10h0m-114 -107h0m155 23h0m-1 -63h0m-140 -3h0m155 229h0m56 -168h0m-62 -116h0m63 74h0m-73 95h0m-47 2h0m-116 -31h0m188 95h0m-194 -81h0m219 4h0m-100 0h0m110 129h0m63 -69h0m-296 -57h0m63 40h0m93 49h0m-134 -213h0m9 -34h0m165 132h0m-137 105h0m140 -97h0m43 56h0m-192 -8h0m136 -135h0m11 -22h0m91 149h0m-284 -13h0m21 -151h0m69 27h0m-33 -17h0m55 126h0m73 -117h0m-175 180h0m198 -155h0m-1 88h0m-87 20h0m-95 31h0m-11 -54h0m-7 1h0m155 26h0m-69 -141h0m85 46h0m-3 -52h0m-23 94h0m-26 20h0m-126 -57h0m85 68h0m186 24h0m-30 -22h0m-183 -30h0m93 140h0m-94 -297h0m103 300h0m89 -147h0m-44 30h0m-75 -33h0m-87 101h0m3 -195h0m-36 163h0m247 -16h0m-122 -7h0m-34 -101h0m200 63h0m-34 84h0m-64 49h0m-115 -171h0m3 -104h0m114 41h0m-20 149h0m-111 -51h0m120 129h0m21 -229h0m-172 148h0m-39 50h0m-7 -151h0m213 80h0m-91 1h0m54 38h0m-167 -87h0m140 122h0m-49 -10h0m-56 -235h0m-36 163h0m284 -38h0m-220 -84h0m-50 -12h0" stroke="#b886c6" stroke-width="2.3" stroke-linecap="round" fill="none" stroke-opacity="0.8"/>
<path d="M2467 2023h0m37 32h0m-15 -15h0m57 -2h0m-51 -18h0m-11 6h0m23 -14h0m32 27h0m-31 14h0m0 6h0m-15 -12h0m32 1h0m-7 -1h0m-37 1h0m2 -6h0m25 4h0m-9 -26h0m-13 27h0m1 -3h0m47 -9h0m-42 -26h0m2 20h0m52 19h0m-56 9h0m-10 -27h0m53 -9h0m-64 -3h0m65 12h0m-15 19h0m-48 -4h0m41 1h0m30 12h0m-3 -7h0m6 15h0m-6 -4h0m-72 -41h0m33 35h0m-3 -15h0m-8 -32h0m-9 -3h0m-15 24h0m-9 -8h0m42 35h0m-1 -1h0m47 -10h0m-48 -1h0m22 12h0m-15 -12h0m-36 -16h0m19 -11h0m-15 7h0m59 -5h0m-1 28h0m-57 -26h0m43 -13h0m23 57h0m-10 -10h0m6 -41h0m12 42h0m-18 -11h0m-44 -15h0m27 -21h0m-1 -3h0m-4 42h0m-4 -1h0m1 -18h0m7 7h0m17 4h0m-63 -15h0m58 20h0m12 -17h0m-40 14h0m-23 -23h0m16 12h0m45 6h0m-4 -10h0m-8 -16h0m21 17h0m-11 39h0m5 10h0m-50 -58h0m-23 9h0m70 28h0m16 33h0m-17 -78h0m-57 15h0m30 -1h0m44 56h0m-11 -36h0m-4 -17h0m-52 21h0m51 7h0m-38 -23h0m41 -2h0m-32 -23h0m-6 51h0m37 16h0m1 -24h0m-25 -16h0m24 7h0m5 6h0m4 -13h0m-5 -3h0m-76 -21h0m0 8h0m70 -9h0m-2 28h0m-39 -22h0m50 49h0m-76 -40h0m83 50h0m-61 -27h0m-7 -19h0m52 43h0m-32 -32h0m40 1h0m8 1h0m-49 -23h0m4 11h0m-23 -2h0m53 1h0m-45 -7h0m50 2h0m-54 -2h0m-5 -2h0m40 -5h0m-13 41h0m-5 -2h0m45 35h0m-40 -60h0m-6 12h0m-11 11h0m-34 -28h0m10 14h0m58 1h0m-34 1h0m39 -19h0m-18 -14h0m-32 13h0m56 29h0m-34 -20h0m25 15h0m-45 -25h0m35 -1h0m1 1h0m-11 -13h0m23 26h0m-60 -9h0m11 -4h0m9 30h0m56 -24h0m-36 -7h0m-20 10h0m-5 -12h0m12 -14h0m-16 24h0m36 -3h0m29 30h0m1 31h0m-47 -68h0m-8 34h0m-32 -31h0m56 35h0m13 -3h0m-8 -19h0m-34 -5h0m27 20h0m34 -10h0m-77 -30h0m74 66h0m-56 -31h0m56 -23h0m-27 25h0m-52 -22h0m79 39h0m-50 -42h0m15 27h0m-26 -21h0m-14 3h0m32 -17h0m16 19h0m-8 -15h0m-43 10h0m49 26h0m10 5h0m-12 -22h0m-1 -21h0m36 57h0m-43 -36h0m28 7h0m-1 -16h0m4 10h0m-11 24h0m-24 -9h0m-31 -18h0m72 18h0m-12 37h0m-56 -46h0m4 -28h0m61 10h0m7 52h0m-23 -25h0m-8 -4h0m-15 -2h0m-25 1h0m22 9h0m47 9h0m-17 -23h0m-5 -19h0m9 52h0m7 -29h0m-12 -23h0m-19 13h0m6 -4h0m25 36h0m-14 -26h0m-10 -26h0m-20 18h0m-6 -23h0m23 48h0m-19 -44h0m-6 10h0m34 -13h0m12 54h0m-17 -23h0m8 1h0m-15 8h0m-11 0h0m33 -2h0m-6 -40h0m-32 39h0m-25 -27h0m60 4h0m-11 10h0m-30 -4h0m42 -11h0m-27 5h0m-12 -14h0m53 82h0m-80 -68h0m42 29h0m12 -13h0m4 2h0m-43 -27h0m20 -8h0m31 69h0m11 -42h0m-24 -27h0m-30 46h0m48 20h0m-23 -34h0m-35 -18h0m-9 16h0m79 -18h0m-10 9h0m-13 -17h0m10 42h0m-9 -3h0m6 -9h0m-53 2h0m74 7h0m-27 -16h0m13 -9h0m-9 5h0m-31 -8h0m-28 4h0m79 19h0m-14 2h0m-43 -30h0m31 17h0m-16 -17h0m-36 32h0m36 -42h0m29 71h0m-14 -69h0m-28 41h0m46 34h0m-32 -60h0m-6 6h0m-7 -4h0m17 29h0m32 -10h0m-12 -5h0m-45 17h0m45 -29h0m-37 11h0m41 8h0m-32 7h0m5 2h0m40 15h0m-15 -36h0m-30 -7h0m37 43h0m-48 -49h0m1 25h0m47 9h0m2 -19h0m-6 48h0m-21 -31h0m5 -46h0m-4 16h0m-27 14h0m56 9h0m-1 2h0m1 -6h0m-13 -3h0m-38 -17h0m-18 20h0m55 6h0m-49 2h0m24 -34h0m9 -3h0m-21 42h0m42 -32h0m-34 -8h0m34 30h0m-29 -2h0m36 -7h0m-24 8h0m-9 -3h0m-25 -25h0m26 41h0m21 -4h0m-36 -18h0m1 5h0m49 23h0m-17 -14h0m13 5h0m-64 -33h0m21 -2h0m30 40h0m7 -10h0m-38 1h0m11 2h0m-12 -40h0m35 28h0m-11 2h0m27 32h0m-67 -66h0m41 45h0m-14 -15h0m31 26h0m-21 -48h0m-33 -4h0m24 44h0m13 -17h0m-13 7h0m42 -15h0m-39 3h0m-22 17h0m38 -10h0m15 22h0m-5 -38h0m4 52h0m-15 -68h0m-25 40h0m36 15h0m-67 -47h0m23 23h0m45 38h0m-43 -46h0m-12 -32h0m56 85h0m-81 -62h0m39 2h0m47 9h0m-65 4h0m28 -13h0m-30 10h0m-4 -5h0m29 -14h0m11 -8h0m29 67h0m-14 -27h0m-60 -17h0m51 16h0m5 -34h0m-19 -8h0m41 80h0m-44 -47h0m35 29h0m-55 -35h0m59 51h0m4 -21h0m0 8h0m-82 -42h0m34 17h0m-1 -33h0m48 74h0m-11 -12h0m-40 -20h0m53 -30h0m-35 9h0m-17 11h0m45 27h0m-41 -20h0m21 -39h0m18 10h0m-41 -12h0m-6 46h0m-5 -44h0m36 9h0m28 63h0m1 -3h0m-66 -40h0m41 30h0m-40 -39h0m64 22h0m-81 -33h0m45 34h0m7 26h0m-47 -66h0m13 20h0m52 18h0m-53 -29h0m45 27h0m-40 -6h0m-23 -20h0m28 15h0m36 27h0m-13 -43h0m19 25h0m13 29h0m-8 -4h0m-4 -64h0m-3 46h0m-33 1h0m43 -5h0m-58 -29h0m49 27h0m10 31h0m-43 -37h0m-35 -20h0m32 -15h0m43 10h0m11 30h0m-55 -34h0m23 14h0m-18 -8h0m46 41h0m-51 -19h0m-23 -22h0m3 7h0m9 -21h0m-5 30h0m28 -7h0m-8 0h0m-42 -1h0m86 45h0m3 -1h0m-22 2h0m-48 -23h0m31 -22h0m32 46h0m-16 -40h0m5 9h0m-15 4h0m8 -30h0m-24 23h0m1 -27h0m41 72h0m-50 -28h0m13 -32h0m-39 -9h0m50 27h0m15 -12h0m19 40h0m-56 -59h0m46 12h0m-37 27h0m47 -16h0m-75 -10h0m70 46h0m-8 -55h0m10 19h0m-9 25h0m-46 -31h0m5 4h0m18 6h0m-4 3h0m3 12h0m-28 -26h0m26 -5h0m-23 28h0m-3 -49h0m21 44h0m36 36h0m-52 -75h0m25 3h0m11 36h0m-45 -37h0m45 12h0m13 -6h0m-10 21h0m15 42h0m-5 -16h0m-5 -26h0m15 40h0m-70 -29h0m62 41h0" stroke="#a9daf6" stroke-width="3.2" stroke-linecap="round" fill="none" stroke-opacity="0.9"/>
<path d="M2508 2022h0m33 27h0m-46 -10h0m0 -18h0m29 17h0m-16 16h0m39 37h0m-7 -34h0m-52 -11h0m-23 -24h0m17 -15h0m42 45h0m-63 -29h0m76 3h0m-63 18h0m24 -22h0m-33 7h0m63 6h0m-29 3h0m32 3h0m0 -3h0m-58 -20h0m54 12h0m18 31h0m-38 -9h0m25 -25h0m-43 8h0m8 -12h0m-14 20h0m58 32h0m-30 -20h0m-8 -14h0m-28 -5h0m58 41h0m-31 -52h0m-3 -16h0m27 31h0m25 35h0m-74 -55h0m36 6h0m-45 9h0m81 -6h0m-13 26h0m-68 -16h0m29 -4h0m31 47h0m-39 -35h0m49 -16h0m-56 20h0m52 34h0m-44 -46h0m46 -10h0m-8 1h0m-20 -5h0m42 49h0m-50 -44h0m47 45h0m-14 7h0m-45 -29h0m24 6h0m-6 -30h0m-42 6h0m32 18h0m28 -4h0m-16 -35h0m15 33h0m11 36h0m-62 -60h0m44 32h0m4 -24h0m2 8h0m6 42h0m-51 -61h0m20 15h0m-28 -23h0m32 10h0m44 47h0m-58 -53h0m61 38h0m-16 30h0m-65 -58h0m61 41h0m1 -40h0m11 -2h0m-21 28h0m11 -24h0m1 22h0m1 -20h0m-10 40h0m29 20h0m-25 -62h0m21 23h0m-14 26h0m9 2h0m-41 -40h0m-18 11h0m-16 -32h0m15 -8h0m6 36h0m2 6h0m49 1h0m-2 -35h0m-15 -1h0m-40 31h0m39 8h0m-58 -29h0m47 -6h0m-36 -2h0m72 39h0m-74 -15h0m14 -35h0m58 67h0m-33 -24h0m16 -5h0m9 39h0m8 -42h0m-27 -26h0m20 44h0m-21 -11h0m-43 -30h0m-8 6h0m31 -9h0m47 2h0m-38 20h0m-18 13h0m-16 -23h0m16 -4h0m1 27h0m44 -10h0m0 -24h0m15 38h0m-38 -6h0m5 1h0m-43 -19h0m10 -1h0m47 40h0m-1 6h0m-35 -31h0m37 -33h0m-2 -5h0m-24 33h0m48 38h0m-5 -9h0m-82 -44h0m77 35h0m-1 13h0m-58 -47h0m-14 4h0m72 37h0m-53 -43h0m-1 1h0m28 17h0m-40 -28h0m41 -3h0m27 62h0m-12 0h0m-29 -22h0m22 26h0m-35 -53h0m-5 28h0m-25 -29h0m76 25h0m-34 -8h0m-36 -24h0m47 -8h0m32 35h0m-76 -29h0m-5 12h0m72 -8h0m-31 5h0m25 16h0m-66 -5h0m24 13h0m-13 -24h0m-8 -2h0m4 -2h0m74 37h0m-66 -36h0m43 23h0m21 12h0m-2 -17h0m-20 -7h0m-20 3h0m44 27h0m-5 11h0m-53 -23h0m-3 -41h0m30 10h0m2 6h0m-19 31h0m-1 -48h0m39 42h0m-17 -6h0m-51 -17h0m51 11h0m15 -25h0m-47 9h0m13 0h0m8 17h0m44 46h0m-8 -31h0m-4 -34h0m6 66h0m-5 -41h0m-56 -28h0m62 26h0m-70 -23h0m54 31h0m1 24h0m-34 -49h0m31 -11h0m2 45h0m-25 -40h0m-10 -5h0m40 63h0m12 -55h0m-6 39h0m1 -2h0m-62 -16h0m4 2h0m53 -25h0m-4 66h0m-62 -72h0m12 25h0m31 17h0m32 16h0m-51 -41h0m-19 -18h0m39 -7h0m-3 5h0m20 33h0m-54 -1h0m55 26h0m-52 -27h0m49 37h0m-32 -67h0m14 6h0m-42 10h0m30 26h0m-15 -39h0m10 -3h0m-25 5h0m69 66h0m1 -24h0m-63 -23h0m42 10h0m-22 -38h0m3 14h0m35 10h0m-24 19h0m-2 2h0m3 -14h0m33 -17h0m-2 43h0m-75 -28h0m72 19h0m11 2h0m-33 -12h0m-28 -5h0m57 8h0m-83 -32h0m38 0h0m1 -12h0m-19 14h0m5 26h0m-2 -11h0m49 15h0m3 14h0m-25 -26h0m16 -18h0m16 37h0m-79 -28h0m50 23h0m-12 -32h0m-32 10h0m9 11h0m60 40h0m-3 -5h0m-13 6h0m14 -45h0m-54 -25h0m54 26h0m2 25h0m-13 -24h0m-4 -4h0m-47 -15h0m60 38h0m-7 -46h0m-61 14h0m39 -9h0m-17 -1h0m-10 -2h0m23 31h0m11 -6h0m-45 -9h0m62 55h0m-25 -29h0m7 -47h0m10 63h0m10 -22h0m-11 -35h0m-3 -7h0m14 49h0m-19 -4h0m-48 -19h0m7 -16h0m28 39h0m-27 -25h0m-5 -6h0m38 21h0m28 -1h0m-1 -14h0m6 1h0m-79 -12h0m68 53h0m0 -38h0m9 -23h0m-14 68h0m-41 -30h0m57 26h0m-6 -44h0m-40 4h0m9 10h0m-8 -38h0m55 39h0m-43 -22h0m-3 -15h0m41 33h0m-18 29h0m-49 -42h0m22 22h0m-17 -33h0m8 0h0m22 -13h0m8 45h0m-51 -19h0m74 9h0m-9 -25h0m6 21h0m-24 -14h0m-23 13h0m37 3h0m-54 -29h0m33 0h0m17 56h0m16 2h0m-2 5h0m1 14h0m-22 -75h0m-28 42h0m24 -35h0m-5 -3h0m-42 13h0m54 -11h0m1 3h0m-51 3h0m25 5h0m38 54h0m12 -28h0m-56 -14h0m42 -11h0m-19 18h0m1 -11h0m10 -26h0m-56 15h0m55 -9h0m-4 20h0m-15 -13h0m7 -15h0m-12 28h0m38 2h0m-54 10h0m-15 -15h0m0 -12h0m4 -6h0m63 15h0m0 52h0m-6 -42h0m-36 -14h0m0 -13h0m49 28h0m-73 -28h0m75 45h0m-52 -4h0m26 -19h0m-7 -16h0m-2 -2h0m28 5h0m-7 25h0m-23 -43h0m32 50h0m-45 -6h0m39 -3h0m-61 1h0m27 -11h0m12 10h0m1 -2h0m-5 -37h0m-6 52h0m24 12h0m15 -5h0m-77 -53h0m60 65h0m5 -59h0m-6 2h0m2 23h0m19 22h0m-66 -48h0m27 13h0m3 -21h0m-48 16h0m31 11h0m-16 -27h0m55 66h0m-52 -66h0m59 47h0m-38 -3h0m34 29h0m-56 -71h0m27 46h0m-21 -45h0m51 45h0m-12 -49h0m4 30h0m-12 -1h0m-52 -10h0m65 48h0m-63 -63h0m23 8h0m-6 -10h0m29 0h0m-26 32h0m-1 7h0m-2 -2h0m-8 -8h0m55 -8h0m-28 -30h0m2 41h0m-13 -22h0m18 0h0m-40 -9h0m13 39h0m39 -46h0m-11 12h0m10 30h0m-14 0h0m34 26h0m-7 -25h0m-20 -12h0m31 25h0m-38 -12h0m-6 -13h0m32 3h0m-47 -24h0m37 0h0m-17 41h0m26 15h0m3 -51h0m-38 2h0m-6 -16h0m-5 2h0m-16 33h0m4 -20h0m76 17h0m-54 -30h0m38 24h0m12 26h0m-54 -27h0m44 13h0m13 29h0m-63 -19h0m-6 -13h0m-8 -25h0m45 38h0m-8 -15h0m44 31h0m-6 -24h0m-57 -9h0m48 41h0m-76 -50h0m13 14h0m5 5h0m66 33h0m-12 -43h0m14 13h0m-71 -19h0m52 13h0m-34 -31h0m30 25h0m8 38h0m3 -23h0m8 -34h0m-25 30h0m-21 -2h0m-34 -14h0m67 13h0m8 -8h0m-45 13h0m9 1h0m26 -8h0m16 -13h0m-15 45h0m-5 -20h0m-34 -17h0m40 8h0m4 -28h0m13 52h0m-10 10h0m-6 -55h0m-29 -6h0m27 49h0m-51 -26h0m43 -25h0m-18 33h0m-31 -18h0m12 19h0m66 -1h0m-37 -45h0m-8 7h0m22 65h0m-2 -67h0m-58 12h0m72 -5h0m-37 -4h0m45 49h0m-7 -5h0m-71 -38h0m38 21h0m39 15h0m-19 14h0m-11 -57h0m-3 21h0m10 -14h0m4 -2h0m-41 -10h0m-12 16h0m-2 9h0m-9 -4h0m75 29h0m-72 -29h0m24 18h0m-14 -18h0m1 -2h0m10 -10h0m52 62h0m-45 -50h0m38 5h0m10 -13h0m-34 2h0m-35 -1h0m52 48h0m2 11h0m-53 -46h0m17 -10h0m47 51h0m-24 -69h0m10 3h0m-48 33h0m1 -25h0m-4 -9h0m22 12h0m51 40h0m-34 -12h0m35 21h0m-74 -31h0m57 -11h0m-13 19h0m-12 5h0m7 -34h0m22 39h0m-56 -41h0m-1 5h0m36 -15h0m36 67h0m-66 -32h0m-3 -16h0m65 49h0m-44 -16h0m45 -28h0m-11 0h0m6 14h0m-66 0h0m11 -31h0m36 2h0m-1 36h0m-12 -35h0m25 20h0m11 21h0m-62 -26h0m29 11h0m-31 0h0m21 12h0m39 -8h0m3 27h0m7 9h0m-40 -50h0m27 -3h0m11 14h0m-1 11h0m-76 -22h0m44 -8h0m6 21h0m-16 7h0m-35 -26h0m72 27h0m3 -10h0m-49 -12h0m-13 -23h0m16 8h0m49 57h0m-18 -50h0m-11 -11h0m-3 10h0m-54 -5h0m35 30h0m23 -4h0m-46 -14h0m49 -9h0m-39 -11h0m-17 19h0m72 28h0m-65 -23h0m55 48h0m-35 -67h0m54 51h0m-15 10h0m-35 -24h0m22 -4h0m22 24h0m4 -29h0m-19 28h0m-38 -20h0m-13 -13h0m57 -23h0m-22 -8h0m37 72h0m-83 -53h0m44 29h0m-8 -19h0m-15 18h0m48 -12h0m-61 -14h0m57 46h0m-29 -61h0m-9 -4h0m-13 36h0m27 9h0m-19 -15h0m55 27h0m-44 -15h0m46 5h0m-43 -37h0m28 22h0m-62 -24h0m64 4h0m-56 -6h0m7 16h0m-9 16h0m12 -24h0m61 30h0m-46 -36h0m-5 26h0m9 -35h0m-22 14h0m-1 25h0m31 9h0m-20 -34h0m43 32h0m16 31h0m-80 -57h0m30 -10h0m20 35h0m-36 -45h0m43 25h0m-35 -29h0m19 5h0m26 64h0m9 -14h0m-35 -4h0m-45 -26h0m35 15h0m-35 -26h0m73 62h0m1 -38h0m5 9h0m-67 -37h0m45 -1h0m-50 9h0m69 27h0m-1 -9h0m-38 15h0m33 25h0m3 -33h0m-2 4h0m6 -5h0m-10 33h0m-1 -38h0m-49 -17h0m45 50h0m-24 -48h0m17 -20h0m28 66h0m-50 -28h0m8 -7h0m36 32h0m-11 7h0m12 11h0m-15 -9h0m15 -54h0m-22 49h0m15 -4h0m-53 -46h0m17 -8h0m28 29h0m13 30h0m-16 -55h0m-58 8h0m6 13h0m21 15h0m-11 -25h0m-14 -6h0m31 -16h0m30 73h0m-53 -70h0m68 78h0m-71 -78h0m13 12h0m-18 -2h0m12 -6h0m-4 16h0m39 47h0m-56 -53h0m47 0h0m-4 -9h0m36 33h0m-16 -21h0m3 -18h0m-35 7h0m-18 -7h0m52 69h0m-58 -56h0m18 23h0m55 36h0m-35 -63h0m-1 9h0m12 22h0m-40 -10h0m49 -20h0m-44 4h0m35 5h0m-21 20h0m17 -21h0m-37 15h0m40 6h0m3 2h0m18 -29h0m-2 36h0m-64 -43h0m-12 14h0m58 17h0m-11 -28h0m-20 -11h0m63 48h0m-43 -36h0m3 1h0m15 53h0m16 -13h0m-57 -11h0m48 -1h0m4 23h0m-23 -32h0m-18 11h0m45 4h0m-61 -33h0m41 35h0m-6 -47h0m-4 9h0m-38 9h0m11 -3h0m56 38h0m-3 -42h0m-2 49h0m-8 -24h0m-15 -6h0m-2 -20h0m44 54h0m-22 -1h0m3 -57h0m-8 8h0m18 32h0m-42 -11h0m34 15h0m-47 -39h0m36 21h0m-10 -21h0m-34 -5h0m22 27h0m17 30h0m18 -10h0m-30 -53h0m17 11h0m-38 29h0m63 25h0m-64 -32h0m31 -4h0m-13 16h0m7 -16h0m8 0h0m-33 -24h0m40 62h0m-37 -43h0m41 -13h0m-49 -8h0m35 0h0m20 67h0m-63 -68h0m49 61h0m-32 -17h0m17 -7h0m20 -17h0m8 -17h0m-68 25h0m44 -23h0m1 -9h0m38 54h0m-30 -49h0m-51 26h0m76 36h0m-30 -62h0m-27 25h0m10 6h0m10 -34h0m-2 48h0m-21 -2h0m23 -39h0m1 24h0m-35 -24h0m25 30h0m-33 -29h0m71 45h0m-64 -17h0m26 -18h0m49 27h0m-8 26h0m-26 -72h0m26 73h0m-8 -46h0m-61 -14h0m73 43h0m-32 -49h0m-38 -3h0m4 2h0m43 2h0m-32 12h0m7 -7h0m44 39h0m-11 -41h0m12 44h0m-3 23h0m10 -42h0m-49 -1h0m-2 -1h0m49 12h0m-21 -44h0m-11 -1h0m20 50h0m-7 -47h0m-48 0h0m-17 13h0m16 -11h0m-14 18h0m46 -25h0m-9 32h0m0 -22h0m23 0h0m22 47h0m-4 -33h0m-39 -15h0m12 35h0m32 19h0m-36 -58h0m16 66h0m1 -32h0m-11 10h0m1 -16h0m9 -29h0m-13 34h0m-8 -33h0m28 31h0m-10 -3h0m-47 -9h0m62 -17h0m-74 13h0m42 -16h0m-5 42h0m37 29h0m3 -36h0m0 19h0m-1 5h0m-45 -37h0m38 -10h0m6 38h0m-33 -1h0m23 -34h0m-23 -19h0m16 31h0m-58 -21h0m18 -3h0m0 -1h0m-20 17h0m74 31h0m-31 -37h0m-19 1h0m37 50h0m12 -56h0m-14 -11h0m10 44h0m-49 -28h0m-20 3h0m43 24h0m-25 -27h0m65 59h0m-4 -19h0m9 18h0m-13 -8h0m-43 -32h0m19 -3h0m19 25h0m-32 -12h0m-34 -23h0m54 1h0m-26 -3h0m-8 12h0m61 45h0m-30 -34h0m10 -25h0m-47 -11h0m-1 26h0m60 34h0m2 2h0m-39 -35h0m-10 -16h0m-20 25h0m70 4h0m-34 -1h0m-14 2h0m26 -44h0m-5 -3h0m-47 12h0m66 18h0m-22 9h0m-42 -26h0m39 0h0m23 -8h0m6 44h0m-24 -6h0m-14 -18h0m46 42h0m-28 -60h0m-45 11h0m77 55h0m-23 -7h0m-13 -25h0m9 -12h0m-41 7h0m-16 -23h0m3 12h0m79 48h0m-42 -28h0m21 -43h0m-35 17h0m31 6h0m-26 6h0m-27 -14h0m58 8h0m-16 -4h0m-2 -22h0m3 31h0m-43 -4h0m27 -4h0m19 -19h0m-3 29h0m-25 -12h0m50 46h0m-26 -17h0m-47 -39h0m56 17h0m2 -25h0m15 8h0m-47 20h0m-19 -8h0m69 46h0m-46 -31h0m-13 1h0m-4 -16h0m46 5h0m1 33h0m-32 -11h0m51 -6h0m-43 -32h0m-14 -3h0m48 28h0m-48 8h0m-28 -19h0m70 50h0m-15 -72h0m31 68h0m-25 -57h0m8 52h0m-51 -30h0m15 6h0m48 21h0m-43 -25h0m19 -5h0m-42 -20h0m35 32h0m-47 -25h0m68 51h0m-51 -67h0m50 2h0m-15 40h0m-21 -24h0m6 11h0m2 -26h0m-15 18h0m-12 14h0m62 35h0m-9 0h0m-33 -60h0m-19 -6h0m12 -5h0m-17 14h0m57 43h0m-24 -21h0m-21 -18h0m26 -20h0m-19 24h0m-6 -25h0m30 46h0m3 -9h0m27 17h0m-39 -48h0m27 29h0m-61 -14h0m46 -10h0m-52 5h0m77 20h0m-8 -28h0m16 73h0m-60 -67h0m8 12h0m9 23h0m9 -36h0m20 -5h0m-60 -7h0m48 46h0m1 24h0m-28 -29h0m9 5h0m3 -42h0m-21 -4h0m30 36h0m-21 -3h0m42 22h0m-25 -21h0m-6 -32h0m-3 41h0m-18 -41h0m35 9h0m25 54h0m-19 -25h0m-41 -27h0m19 -19h0m40 78h0m-37 -56h0m-35 -3h0m52 50h0m-64 -46h0m59 18h0m-39 -17h0m12 -21h0m24 41h0m-45 -28h0m59 26h0m-8 -10h0m-43 9h0m3 -25h0m-5 -4h0m58 56h0m-4 -49h0m-57 20h0m29 -28h0m8 42h0m-21 -12h0m10 -26h0m26 27h0m-25 -22h0m29 9h0m17 53h0m-1 -23h0m-77 -22h0m56 44h0m-66 -55h0m64 -20h0m-17 28h0m12 -2h0m-25 4h0m50 14h0m-80 -27h0m63 6h0m-61 -1h0m65 12h0m-18 12h0m-27 -7h0m-10 -37h0m64 36h0m-10 7h0m8 4h0m0 10h0m0 12h0m-67 -31h0m46 -28h0m-45 4h0m25 21h0m38 -29h0m-8 13h0m-24 -16h0m-33 7h0m5 6h0m12 22h0m19 -42h0m5 3h0m39 44h0m-3 19h0m-50 -55h0m35 60h0m-65 -67h0m27 -3h0m28 6h0m12 1h0m-17 18h0m-27 12h0m-18 2h0m5 -36h0m56 49h0m3 13h0m-56 -61h0m-2 10h0m10 -10h0m7 -1h0m29 70h0m-58 -56h0m58 56h0m-6 -57h0m-51 -2h0m11 22h0m43 -6h0m-56 -12h0m59 -16h0m-20 13h0m-15 -9h0m49 58h0m-66 -45h0m9 10h0m-9 -9h0m39 24h0m16 -25h0m-27 -12h0m-37 15h0m42 16h0m-28 -19h0m62 47h0m-16 -49h0m14 0h0m-22 12h0m-43 -6h0m37 -20h0m-1 -7h0m17 26h0m7 30h0m-21 -17h0m-18 -21h0m34 52h0m-5 -3h0m-22 -36h0m44 50h0m-43 -28h0m40 15h0m-38 -38h0m21 13h0m-52 -11h0m-4 -2h0m36 14h0m35 -11h0m-36 -16h0m6 29h0m23 34h0m-25 -30h0m13 -13h0m-20 18h0m18 -40h0m-9 43h0m-46 -33h0m33 -4h0m11 -10h0m10 -3h0m-24 19h0m1 -24h0m9 41h0m44 -1h0m-73 1h0m31 0h0m-23 -3h0m4 6h0m12 -10h0m4 2h0m26 -22h0m-52 2h0m15 24h0m23 -35h0m-47 30h0m77 -19h0m-39 -4h0m23 -1h0m-3 3h0m19 39h0m-8 -16h0m-6 5h0m-42 -26h0m50 24h0m2 -1h0m3 35h0m-7 0h0m10 -19h0m-77 -40h0m8 -2h0m40 -6h0m18 61h0m-31 -66h0m-3 31h0m6 13h0m37 18h0m-43 -53h0m-29 -2h0m50 -10h0m-3 18h0m-36 -13h0m54 57h0m-25 -14h0m30 32h0m135 34h0m-7 10h0m11 -17h0m-11 18h0m2 -3h0m2 -3h0m-3 2h0m5 -6h0m-4 5h0m6 -7h0m-10 15h0m9 -15h0m-5 7h0m5 -6h0m-5 4h0m10 -12h0m-7 12h0m0 -1h0m6 -9h0m-6 8h0m4 -6h0m-9 11h0m-2 5h0m7 -11h0m5 -7h0m2 0h0m-5 4h0m-4 6h0m-5 9h0m3 -8h0m10 -12h0m-4 6h0m-8 11h0m-3 5h0m8 -9h0m6 -10h0m2 -1h0m-4 2h0m-9 13h0m3 -3h0m6 -8h0m-10 15h0m3 -4h0m9 -16h0m1 0h0" stroke="#1f9fe9" stroke-width="2.3" stroke-linecap="round" fill="none" stroke-opacity="0.9"/>
<path d="M2409 1937h0m39 3h0m43 21h0m12 -44h0m-81 -7h0m64 48h0m-89 -70h0m-4 29h0m51 -16h0m5 46h0m-56 -7h0m73 -4h0m-49 12h0m-17 -4h0m59 1h0m-11 -10h0m-40 -35h0m68 31h0m-90 -7h0m77 -21h0m-69 14h0m24 29h0m20 -41h0m7 46h0m35 -20h0m-54 -2h0m-5 -9h0m0 -28h0m27 15h0m-30 33h0m-22 -3h0m40 -38h0m-30 34h0m-15 -23h0m98 30h0m-55 -39h0m70 14h0m-10 33h0m-72 -45h0m-1 8h0m6 -15h0m46 55h0m-12 -5h0m-66 -27h0m56 -17h0m-49 4h0m-4 20h0m22 -20h0m45 21h0m-45 -22h0m-12 33h0m62 -9h0m-12 21h0m-57 -45h0m60 23h0m-9 12h0m-36 -2h0m7 -11h0m-3 -17h0m18 5h0m-19 -4h0m-16 -20h0m18 8h0m-13 4h0m30 9h0m50 42h0m-77 -33h0m32 25h0m25 -25h0m-51 -6h0m-4 -2h0m-14 -5h0m-2 -1h0m16 -16h0m28 42h0m21 -14h0m-77 3h0m99 19h0m-86 -29h0m35 20h0m-2 -17h0m-20 -24h0m9 51h0m57 -26h0m-91 0h0m36 -14h0m63 23h0m-62 14h0m82 22h0m-33 -39h0m13 39h0m-36 -21h0m11 -9h0m-32 -6h0m-1 2h0m37 -16h0m18 1h0m-65 -20h0m34 51h0m38 9h0m-53 -37h0m-26 -10h0m26 30h0m-3 -23h0m56 22h0m-5 12h0m-89 -33h0m24 31h0m-20 -37h0m91 46h0m-6 -5h0m-59 -45h0m-1 22h0m37 3h0m-60 8h0m93 14h0m-40 0h0m42 11h0m-105 -24h0m42 -35h0m-37 4h0m67 4h0m-2 18h0m-16 12h0m-27 -37h0m28 15h0m-62 5h0m84 -13h0m-1 6h0m-18 24h0m3 -36h0m-66 29h0m23 -19h0m55 37h0m-62 -53h0m9 48h0m7 -56h0m44 24h0m33 46h0m-17 -32h0m-74 -38h0m-8 7h0m0 16h0m104 52h0m-55 -30h0m-56 4h0m42 -13h0m47 -14h0m-69 -5h0m69 21h0m-52 17h0m-32 -45h0m75 9h0m9 5h0m-40 11h0m20 4h0m-67 11h0m20 -7h0m-12 -21h0m93 28h0m1 11h0m-22 -12h0m-62 -11h0m-25 -5h0m36 -17h0m68 20h0m-12 10h0m-91 -11h0m75 -1h0m-53 -21h0m32 -1h0m-27 35h0m78 15h0m-72 -34h0m-22 -10h0m1 8h0m10 5h0m-1 -10h0m28 -3h0m10 8h0m1 -13h0m58 60h0m-113 -25h0m20 -30h0m85 52h0m3 -1h0m-83 -14h0m30 -9h0m-30 -5h0m34 10h0m-43 -40h0m73 21h0m-16 -8h0m-60 -10h0m6 45h0m15 -13h0m-10 5h0m4 -49h0m-30 30h0m30 -30h0m-12 53h0m-24 -27h0m73 -13h0m10 42h0m4 -37h0m-55 33h0m-2 -3h0m72 -28h0m6 20h0m-86 -18h0m-6 32h0m71 -11h0m-79 -16h0m33 -1h0m-33 -2h0m92 14h0m20 30h0m-93 -43h0m-15 19h0m-7 -23h0m93 0h0m5 44h0m-77 -43h0m31 23h0m35 -26h0m-66 31h0m56 -14h0m-56 -21h0m88 23h0m-42 20h0m-50 -5h0m57 -21h0m-1 25h0m-35 -14h0m74 15h0m-50 -18h0m-39 -6h0m-15 9h0m64 -6h0m-9 -27h0m2 36h0m-34 -19h0m-29 1h0m18 27h0m59 -18h0m-72 -27h0m71 12h0m2 4h0m-83 2h0m101 11h0m-43 -25h0m-48 -5h0m45 15h0m-9 -3h0m52 0h0m-6 15h0m-15 -1h0m-42 1h0m-24 -13h0m-10 0h0m100 11h0m-63 -19h0m1 -13h0m70 34h0m-38 -11h0m-69 -2h0m67 36h0m-38 -41h0m-26 10h0m64 26h0m7 -4h0m3 -9h0m-13 -27h0m46 18h0m-89 -39h0m-17 58h0m-1 -7h0m18 -7h0m28 -26h0m65 9h0m-55 27h0m-35 -23h0m51 35h0m-43 -38h0m8 8h0m-25 25h0m4 -6h0m89 13h0m-49 -49h0m-6 42h0m22 -17h0m15 -11h0m-60 21h0m72 -5h0m-59 -10h0m45 11h0m28 -25h0m-36 -3h0m27 49h0m-12 -27h0m-16 15h0m22 -17h0m-25 14h0m-24 -34h0m5 -5h0m-48 3h0m69 41h0m3 -17h0m-32 -14h0m-39 -3h0m69 -7h0m-6 30h0m-54 -8h0m93 -18h0m-4 41h0m-111 -42h0m56 10h0m-12 -7h0m37 26h0m4 3h0m-19 -25h0m-12 -11h0m-40 -6h0m34 47h0m-30 -40h0m90 21h0m-13 -11h0m-41 -1h0m-40 -10h0m73 6h0m19 30h0m-57 -16h0m-24 20h0m28 -39h0m-34 -15h0m18 33h0m-9 -11h0m82 48h0m-58 -39h0m65 8h0m-55 -21h0m21 35h0m-60 -48h0m0 17h0m19 23h0m10 -12h0m-8 0h0m18 11h0m-31 -13h0m50 -5h0m6 34h0m-64 -7h0m4 -7h0m7 0h0m-16 -35h0m4 45h0m66 -16h0m-76 -34h0m45 36h0m-39 -22h0m24 24h0m9 1h0m-23 -35h0m-19 39h0m69 -5h0m-23 -31h0m50 49h0m-60 -25h0m-20 -21h0m13 19h0m-10 -23h0m15 -9h0m13 24h0m21 -14h0m41 53h0m-60 -44h0m22 18h0m-54 -17h0m31 0h0m30 -2h0m-20 0h0m34 35h0m-14 4h0m-51 -24h0m34 20h0m29 -33h0m-25 -10h0m31 44h0m9 10h0m-88 -15h0m63 -8h0m-27 2h0m15 -21h0m23 3h0m19 7h0m-106 14h0m50 -35h0m-11 11h0m9 25h0m-7 -39h0m28 8h0m-46 -16h0m1 11h0m-32 17h0m51 -13h0m-13 18h0m66 26h0m-22 -43h0m2 3h0m-75 -18h0m22 40h0m6 -40h0m44 58h0m-60 -8h0m66 -10h0m-2 -3h0m-53 8h0m-10 -22h0m2 21h0m86 -20h0m-31 -2h0m-83 12h0m32 9h0m-12 -10h0m10 -38h0m51 38h0m36 -8h0m-90 4h0m97 -8h0m-41 0h0m-58 2h0m87 44h0m-51 -26h0m-47 -32h0m100 26h0m-1 -19h0m-19 2h0m-1 10h0m-68 26h0m55 -32h0m-50 -26h0m32 22h0m47 25h0m-96 -44h0m61 60h0m-54 -61h0m39 43h0m-29 -24h0m26 -11h0m10 29h0m2 9h0m-43 -22h0m-9 -13h0m21 21h0m-8 -6h0m6 -10h0m22 37h0m-17 -25h0m-18 20h0m0 6h0m22 -21h0m0 -2h0m74 -7h0m-79 23h0m58 -28h0m-90 3h0m15 -7h0m54 39h0m-55 -25h0m30 -3h0m-34 -11h0m-4 3h0m39 15h0m-6 -2h0m15 -13h0m-30 9h0m4 8h0m5 -35h0m-35 28h0m31 0h0m44 -11h0m-52 22h0m83 19h0m-67 -37h0m-34 16h0m71 23h0m-57 -28h0m38 10h0m41 -1h0m-20 -5h0m31 26h0m-90 -19h0m76 18h0m-3 -14h0m-7 -6h0m0 0h0m-25 1h0m-20 -16h0m22 31h0m-58 -10h0m92 -25h0m-8 11h0m-77 -11h0m5 -15h0m3 19h0m41 10h0m33 -13h0m-12 18h0m18 11h0m-17 -31h0m32 2h0m-41 13h0m1 -17h0m3 2h0m-67 -2h0m28 -14h0m-1 26h0m-14 -11h0m53 15h0m-56 -10h0m13 -23h0m-29 24h0m33 25h0m57 -7h0m-79 -34h0m37 36h0m9 -23h0m-46 18h0m71 -9h0m3 -17h0m-76 20h0m83 30h0m-22 -40h0m-2 32h0m-48 -23h0m-18 -31h0m86 20h0m-95 2h0m111 15h0m-99 -9h0m7 -15h0m-24 13h0m102 6h0m-26 -22h0m38 18h0m-74 18h0m0 -17h0m-8 -32h0m22 15h0m39 30h0m-80 -36h0m29 29h0m-3 -6h0m-15 -22h0m12 32h0m2 -3h0m68 -15h0m-103 -2h0m105 42h0m-68 -46h0m19 -4h0m-50 10h0m18 -17h0m-5 6h0m5 35h0m39 2h0m-25 -48h0m1 17h0m6 28h0m51 -13h0m-28 3h0m-12 6h0m-17 -3h0m-16 8h0m5 -31h0m65 40h0m-91 -27h0m92 0h0m9 13h0m-11 0h0m-76 -24h0m57 27h0m-50 -51h0m79 42h0m-38 0h0m0 8h0m0 -10h0m41 4h0m-35 10h0m-7 -34h0m32 25h0m-24 3h0m50 26h0m-89 -30h0m81 20h0m-13 3h0m-98 -37h0m13 -15h0m-4 41h0m26 -38h0m48 28h0m-24 -22h0m44 38h0m-13 -38h0m-93 17h0m100 28h0m-70 -13h0m46 -6h0m-58 -47h0m46 22h0m-46 32h0m16 -29h0m10 -18h0m-33 21h0m3 12h0m1 -27h0m69 35h0m-63 -43h0m98 34h0m-111 -34h0m0 29h0m88 -12h0m-35 15h0m-20 -22h0m44 3h0m-4 37h0m41 -25h0m-87 22h0m82 -36h0m-114 32h0m56 -35h0m8 30h0m-4 8h0m-60 -29h0m62 36h0m-11 -47h0m56 38h0m-78 -28h0m-10 -6h0m2 38h0m89 -8h0m-15 18h0m-78 -20h0m31 -29h0m50 51h0m-93 -40h0m37 5h0m-15 19h0m14 -8h0m-20 14h0m59 -6h0m-73 -12h0m76 2h0m-5 3h0m-3 -1h0m-43 7h0m8 4h0m21 -4h0m-11 -33h0m2 -6h0m25 49h0m-41 -46h0m4 33h0m21 -28h0m-36 12h0m33 17h0m-56 2h0m93 -9h0m-36 9h0m-36 -28h0m15 -17h0m53 28h0m-59 -14h0m45 41h0m-78 -29h0m27 -9h0m12 34h0m34 -4h0m-49 3h0m89 20h0m-112 -32h0m84 5h0m-3 17h0m-79 -35h0m100 18h0m1 13h0m-87 -4h0m46 -37h0m-44 29h0m79 -13h0m-21 -8h0m5 -5h0m18 38h0m-3 -33h0m-57 -8h0m18 32h0m-18 1h0m-13 -6h0m58 13h0m22 -24h0m-5 10h0m-68 -10h0m69 31h0m-9 -24h0m-38 -30h0m50 51h0m-105 -34h0m67 23h0m-21 2h0m73 -23h0m-104 -20h0m16 24h0m0 14h0m-22 -3h0m-12 -25h0m55 -8h0m2 2h0m57 21h0m-33 11h0m-62 -15h0m39 12h0m-46 -10h0m13 9h0m12 4h0m47 -28h0m-32 -2h0m-3 18h0m0 -13h0m59 40h0m-66 -50h0m36 12h0m43 51h0m-86 -30h0m85 -26h0m-94 20h0m8 13h0m0 -3h0m75 20h0m-97 -32h0m105 -1h0m0 -2h0m-87 20h0m61 -32h0m-45 19h0m-44 -18h0m26 23h0m20 -31h0m-23 42h0m58 -13h0m-70 -8h0m-1 2h0m6 0h0m97 31h0m-59 -29h0m-57 -14h0m21 27h0m16 -6h0m-1 -3h0m-9 2h0m35 -27h0m-61 24h0m114 18h0m-102 -11h0m52 0h0m21 11h0m-76 -37h0m76 1h0m24 26h0m-87 -33h0m27 17h0m-11 20h0m-27 -16h0m20 19h0m51 -10h0m-20 -7h0m-16 13h0m-2 -6h0m-42 -10h0m1 2h0m51 -24h0m2 36h0m-37 -35h0m84 24h0m-42 4h0m23 -26h0m-28 17h0m-32 19h0m37 -43h0m-43 29h0m-10 3h0m52 11h0m51 8h0m-106 -27h0m4 17h0m4 -47h0m8 11h0m9 41h0m23 -43h0m60 27h0m-84 -21h0m53 5h0m-26 -2h0m-14 -18h0m-22 20h0m69 -5h0m-20 -2h0m-20 -5h0m-44 8h0m59 24h0m-29 -44h0m80 23h0m-39 23h0m-52 -4h0m-25 -6h0m17 -26h0m60 13h0m-38 -6h0m-12 -17h0m14 29h0m0 7h0m-35 0h0m28 -20h0m83 54h0m-37 -34h0m34 1h0m-99 -16h0m47 29h0m16 -1h0m39 23h0m-36 -24h0m30 -11h0m-23 6h0m-46 -2h0m82 30h0m-117 -24h0m69 11h0m9 0h0m-65 -47h0m72 51h0m-80 -16h0m35 2h0m-19 10h0m74 7h0m25 -40h0m-93 4h0m52 -8h0m-39 12h0m-5 17h0m27 6h0m12 -39h0m-61 -15h0m78 34h0m19 -14h0m-56 23h0m-33 -28h0m17 28h0m32 -18h0m-66 9h0m-8 -7h0m42 23h0m-13 -26h0m60 16h0m-70 -29h0m59 8h0m-55 1h0m59 -3h0m-21 22h0m-6 8h0m48 -4h0m7 -8h0m-83 17h0m-26 -24h0m104 1h0m-78 -6h0m73 18h0m5 -8h0m6 32h0m-78 -49h0m37 39h0m-56 -3h0m24 -18h0m49 4h0m-53 -23h0m36 38h0m-23 -18h0m-13 -7h0m33 10h0m-45 -9h0m70 17h0m-79 -40h0m87 38h0m-70 -42h0m-21 20h0m46 -14h0m33 27h0m-66 -12h0m10 28h0m-4 -37h0m-9 24h0m73 24h0m-43 -47h0m41 20h0m-60 5h0m86 -12h0m-97 -32h0m62 25h0m35 3h0m-99 28h0m84 7h0m-84 -55h0m-3 6h0m-3 9h0m15 9h0m56 29h0m-62 -36h0m15 5h0m39 12h0m18 -1h0m-28 3h0m35 4h0m-21 -11h0m16 -9h0m-39 14h0m-46 7h0m2 -13h0m0 -15h0m65 35h0m-45 -8h0m50 -26h0m-81 12h0m87 19h0m-82 -42h0m31 18h0m49 -12h0m-61 18h0m31 15h0m-11 -27h0m-31 -22h0m68 62h0m2 -27h0m20 26h0m-31 -12h0m13 -30h0m1 21h0m-27 -16h0m-35 -10h0m62 25h0m-51 -19h0m67 44h0m-26 -26h0m-68 7h0m100 16h0m-55 -19h0m24 -22h0m18 43h0m-17 -15h0m-6 -14h0m-37 18h0m-18 -38h0m99 55h0m-53 -56h0m-51 42h0m90 -13h0m-40 -21h0m-12 -4h0m22 21h0m-56 -18h0m32 -13h0m59 45h0m8 -23h0m-105 -7h0m3 -16h0m54 37h0m-48 -33h0m12 39h0m69 17h0m-72 -63h0m17 41h0m-45 -12h0m15 -31h0m13 6h0m14 -2h0m-10 49h0m46 -24h0m15 -14h0m-75 18h0m67 6h0m-5 20h0m-52 -49h0m-28 30h0m27 12h0m-30 -29h0m86 5h0m-60 -26h0m-21 23h0m86 23h0m-67 -3h0m73 -23h0m2 1h0m-18 -1h0m-61 -6h0m60 27h0m-74 -10h0m16 -33h0m12 10h0m-4 -16h0m84 44h0m-31 20h0m-4 -20h0m28 25h0m-78 -48h0m1 8h0m41 4h0m-49 28h0m37 -11h0m3 7h0m-24 -21h0m-10 -20h0m10 41h0m-31 -29h0m20 30h0m-3 -8h0m98 -5h0m-100 -35h0m64 56h0m36 -36h0m-18 22h0m-29 -24h0m-1 35h0m21 -35h0m-61 15h0m-6 -15h0m85 46h0m-53 -21h0m56 -8h0m-50 -14h0m2 27h0m-48 -34h0m-8 15h0m0 -27h0m29 -1h0m-18 36h0m-22 -16h0m39 -11h0m72 56h0m-41 -20h0m-62 -32h0m54 1h0m-15 19h0m-45 2h0m20 3h0m60 -18h0m14 -2h0m-78 -19h0m4 30h0m5 -33h0m72 24h0m-86 -10h0m74 29h0m-54 -46h0m69 26h0m-65 22h0m-16 -50h0m92 60h0m-75 -42h0m4 -7h0m-16 11h0m74 46h0m-72 -54h0m-10 -4h0m88 38h0m-81 -25h0m18 -18h0m67 55h0m-68 -28h0m-7 11h0m-16 -35h0m16 18h0m-15 -13h0m91 23h0m-100 -14h0m16 38h0m30 -44h0m-14 14h0m-18 13h0m49 7h0m44 -10h0m-41 5h0m-52 -14h0m13 -8h0m-33 14h0m109 3h0m-52 13h0m-17 -31h0m0 8h0m58 26h0m-89 -47h0m50 36h0m26 -8h0m-61 18h0m30 -6h0m-16 -19h0m18 -11h0m-11 -9h0m60 36h0m-103 -19h0m6 12h0m9 -31h0m8 51h0m-19 -45h0m16 17h0m-16 17h0m62 -15h0m-20 -16h0m7 36h0m-28 -23h0m-19 -9h0m-3 15h0m54 17h0m-33 -28h0m73 0h0m-105 9h0m95 -8h0m8 39h0m-79 -50h0m38 33h0m46 -24h0m5 37h0m-70 -20h0m-6 -19h0m14 6h0m-1 -2h0m57 44h0m-77 -21h0m27 6h0m30 -29h0m-8 32h0m-55 -14h0m11 -24h0m40 31h0m-52 -39h0m-19 24h0m17 -36h0m59 65h0m-50 -65h0m-4 52h0m11 -27h0m-25 13h0m26 -2h0m-13 -31h0m62 21h0m-30 15h0m28 -15h0m-43 23h0m34 -20h0m-43 31h0m-20 -11h0m-8 -6h0m10 -37h0m10 50h0m58 -30h0m-50 19h0m-22 2h0m105 -8h0m-33 -6h0m-73 -11h0m34 2h0m39 13h0m14 8h0m-48 -17h0m-26 -9h0m0 -15h0m-1 40h0m-10 9h0m25 -33h0m70 48h0m-70 -29h0m83 -9h0m-15 36h0m-48 -27h0m27 -17h0m-29 21h0m33 -13h0m-58 -10h0m83 31h0m-94 5h0m71 -21h0m-58 -12h0m-16 -9h0m1 10h0m31 -4h0m-7 -16h0m-4 22h0m66 25h0m-69 -30h0m-16 -13h0m71 14h0m-34 12h0m32 9h0m-10 20h0m-49 -46h0m-12 42h0m21 -8h0m5 -28h0m45 3h0m-75 11h0m90 5h0m-66 -8h0m2 -9h0m-15 15h0m73 -10h0m-18 13h0m-48 -28h0m-18 2h0m13 21h0m-11 -15h0m2 -22h0m48 59h0m-44 -35h0m-15 13h0m40 -5h0m47 -5h0m-49 2h0m36 -10h0m-63 2h0m91 47h0m-98 -20h0m45 -15h0m-33 -22h0m0 25h0m68 6h0m-58 -40h0m-27 20h0m2 18h0m30 -21h0m25 1h0m-7 6h0m-3 -10h0m-23 31h0m52 -8h0m39 33h0m-44 -36h0m12 5h0m-28 -13h0m-2 2h0m-41 26h0m18 -3h0m-22 -41h0m70 10h0m-46 15h0m31 -17h0m-21 25h0m0 -8h0m64 31h0m-43 -14h0m-31 -4h0m6 -28h0m40 24h0m-72 -14h0m27 2h0m51 -15h0m-54 -9h0m-18 18h0m100 32h0m-102 -12h0m45 -5h0m-48 -31h0m-1 39h0m32 4h0m-7 5h0m12 -29h0m45 3h0m-59 -8h0m9 9h0m-13 -32h0m-17 30h0m83 -10h0m18 51h0m-34 -11h0m-41 -45h0m29 35h0m-43 -28h0m37 24h0m-48 -10h0m28 10h0m-28 -40h0m93 61h0m-21 -45h0m7 -1h0m8 42h0m-84 -50h0m42 4h0m50 33h0m-12 -34h0m-15 31h0m-34 -23h0m70 -1h0m-100 -3h0m56 29h0m-46 -27h0m-14 22h0m5 -19h0m72 19h0m7 -23h0m-86 11h0m9 -34h0m59 57h0m14 -13h0m6 -23h0m-70 32h0m21 -30h0m-41 15h0m22 -24h0m56 24h0m-76 -5h0m29 16h0m7 -22h0m-21 18h0m55 3h0m-25 -24h0m-40 -25h0m71 64h0m22 -1h0m-86 -30h0m33 29h0m-31 -61h0m-15 33h0m12 2h0m4 -10h0m-19 10h0m96 33h0m-36 -15h0m-58 -4h0m75 5h0m-76 -34h0m76 39h0m-49 -40h0m-30 27h0m116 -21h0m-84 4h0m17 9h0m-29 -18h0m49 41h0m34 -16h0m-101 -11h0m95 35h0m-5 -33h0m-32 24h0m-48 -3h0m88 -29h0m-48 -11h0m26 7h0m26 11h0m-46 13h0m-48 -43h0m80 42h0m-91 -13h0m15 -35h0m2 1h0m14 14h0m-7 42h0m-14 1h0m73 -1h0m19 -8h0m-99 -16h0m59 20h0m0 -3h0m-6 -25h0m26 22h0m-38 -18h0m-23 18h0m-1 -47h0m28 15h0m-45 13h0m26 -11h0m22 22h0m56 27h0m-34 -20h0m-57 -16h0m5 -4h0m2 13h0m-22 -13h0m61 16h0m-15 -8h0m67 -14h0m-66 15h0m15 7h0m-45 -37h0m-21 19h0m67 4h0m40 9h0m4 31h0m-55 -17h0m20 -7h0m26 13h0m-57 -24h0m-16 28h0m32 -44h0m43 45h0m-24 -34h0m-21 30h0m37 -13h0m-78 -28h0m24 7h0m-7 30h0m4 -24h0m64 16h0m-48 -23h0m-23 0h0m28 31h0m-1 -38h0m-12 38h0m-28 -15h0m-16 -1h0m25 -15h0m1 -24h0m-17 7h0m32 35h0m-12 -5h0m-30 13h0m32 8h0m10 -38h0m-9 2h0m43 28h0m-50 -10h0m-15 -27h0m9 11h0m86 47h0m-1 -3h0m-16 -46h0m-40 8h0m-42 7h0m11 0h0m-4 -30h0m95 43h0m-26 -11h0m-53 -5h0m9 9h0m-16 -23h0m-22 6h0m29 28h0m81 -13h0m-89 -34h0m14 24h0m21 20h0m58 -14h0m-37 -4h0m-19 19h0m-20 -1h0m41 -20h0m-72 -14h0m8 5h0m-7 -14h0m11 -5h0m0 41h0m59 17h0m-44 -56h0m77 35h0m-84 -10h0m8 21h0m19 -25h0m40 13h0m-60 -32h0m1 30h0m31 16h0m13 -36h0m9 50h0m-60 -62h0m45 36h0m2 12h0m-45 3h0m60 -6h0m-21 14h0m-51 -42h0m17 14h0m-9 2h0m70 12h0m-35 -5h0m-27 -44h0m-28 50h0m17 -14h0m24 -10h0m16 16h0m48 -4h0m-8 12h0m-92 -37h0m24 45h0m33 2h0m-38 -39h0m-14 -10h0m87 61h0m-74 -47h0m72 3h0m-76 -10h0m6 20h0m60 -1h0m-10 4h0m-62 -7h0m6 17h0m34 -35h0m99 85h0m19 25h0m-15 -27h0m-3 -8h0m23 22h0m-12 -16h0m12 14h0m-17 -7h0m-13 -18h0m27 35h0m-24 -37h0m11 19h0m-11 -15h0m28 23h0m-22 -17h0m-1 -12h0m-6 16h0m25 0h0m-7 0h0m-19 2h0m16 14h0m-16 -20h0m24 28h0m-1 -13h0m-1 -15h0m12 26h0m-16 -12h0m-11 -24h0m-8 2h0m32 40h0m-32 -30h0m18 10h0m-12 -14h0m-13 -3h0m15 5h0m-5 -5h0m17 22h0m-12 -10h0m16 11h0m-20 -24h0m-1 2h0m25 14h0m-25 6h0m-3 -22h0m1 7h0m21 11h0m-16 -6h0m-1 -3h0m4 20h0m-7 -29h0m16 19h0m6 -2h0m-14 2h0m-16 -21h0m32 23h0m-15 -36h0m8 29h0m-9 9h0m11 -11h0m-16 -18h0m22 25h0m-9 7h0m16 19h0m-31 -52h0m5 10h0m10 9h0m-15 -12h0m23 26h0m-12 -13h0m15 4h0m-5 -2h0m12 12h0m-5 10h0m1 -18h0m-8 -7h0m-26 2h0m2 -7h0m40 27h0m-2 -7h0m-13 -3h0m-23 -32h0m27 28h0m-20 -7h0m35 20h0m-38 -38h0m11 13h0m-26 -22h0m51 41h0m-17 -2h0m-12 -12h0m-25 -24h0m42 36h0m13 13h0m-32 -34h0m26 40h0m-32 -27h0m-2 -13h0m0 -6h0m24 36h0m-9 -20h0m-31 -7h0m23 14h0m23 6h0m-16 -11h0m4 9h0m-10 -8h0m0 2h0m18 7h0m13 6h0m-24 -13h0m9 -1h0m-30 -17h0m4 10h0m1 3h0m34 20h0m-35 -33h0m4 -5h0m6 13h0m7 7h0m-6 6h0m26 1h0m-33 -6h0m31 23h0m-20 -21h0m13 6h0m-17 -9h0m29 25h0m-40 -27h0m22 5h0m-13 -6h0m18 4h0m-25 -10h0m12 19h0m17 -10h0m-5 3h0m-22 -23h0m18 12h0m-8 6h0m-8 6h0m29 10h0m-26 -19h0m14 15h0m7 5h0m-34 -40h0m1 9h0m18 16h0m19 21h0m-24 -27h0m-10 -5h0m-7 -9h0m19 20h0m-2 9h0m14 7h0m-26 -31h0m16 8h0m-10 -4h0m13 14h0m-17 -16h0m8 6h0m0 6h0m3 0h0m5 12h0m-19 -19h0m22 7h0m9 23h0m-23 -29h0m-5 0h0m3 -14h0m24 19h0m-19 -9h0m7 17h0m-5 -9h0m9 -1h0m0 13h0m5 2h0m-14 -13h0m-8 0h0m33 16h0m-8 1h0m-25 -35h0m31 27h0m-6 3h0m-6 -1h0m-1 -4h0m11 4h0m-22 -7h0m16 12h0m-12 -4h0m32 5h0m-34 -20h0m-6 17h0m22 -1h0m4 -7h0m-36 -15h0m21 8h0m-1 -14h0m-21 -14h0m9 33h0m10 -2h0m-26 -30h0m37 13h0m11 15h0m-4 -8h0m-3 0h0m6 5h0m-5 -8h0m-6 4h0m6 -7h0m-3 7h0m1 -5h0m-4 -5h0m-4 2h0m15 5h0m-13 -8h0m5 14h0m2 3h0m7 -3h0m-13 -9h0m5 12h0m-6 -8h0m-2 -7h0m1 1h0m7 2h0m-2 -7h0m-1 7h0m4 0h0m-1 -1h0m-1 0h0m-1 0h0m-2 -3h0" stroke="#23a9c0" stroke-width="2.3" stroke-linecap="round" fill="none" stroke-opacity="0.9"/>
<path d="M2541 1917h0m15 5h0m39 5h0m-76 -34h0m-40 75h0m40 -72h0m-6 43h0m14 -50h0m49 39h0m-26 -21h0m-44 71h0m-29 -7h0m74 -31h0m-19 -28h0m27 14h0m43 -7h0m-97 23h0m50 6h0m24 -29h0m-43 8h0m44 -27h0m-33 5h0m36 3h0m7 22h0m-67 21h0m50 -21h0m-54 -6h0m39 -12h0m36 -9h0m-14 12h0m-71 15h0m72 6h0m-15 -5h0m-28 -17h0m34 35h0m-84 15h0m101 -50h0m2 11h0m-29 -26h0m-17 28h0m-6 -13h0m-55 49h0m7 3h0m-20 -1h0m29 -2h0m27 -52h0m-8 -12h0m58 30h0m-30 -30h0m-30 20h0m-30 56h0m32 -22h0m-10 -62h0m28 24h0m3 0h0m-39 63h0m-19 -10h0m66 -63h0m-29 13h0m14 10h0m17 -11h0m15 13h0m-1 20h0m-49 -20h0m81 -11h0m-60 29h0m-11 -11h0m65 -30h0m-91 58h0m84 -54h0m-8 -8h0m-11 47h0m-47 -51h0m7 16h0m39 1h0m16 22h0m-62 -41h0m83 25h0m-33 25h0m5 -21h0m19 15h0m-2 -42h0m-125 72h0m57 -75h0m68 26h0m-12 6h0m-88 39h0m103 -51h0m-48 -19h0m-53 72h0m-11 2h0m113 -66h0m-62 42h0m32 -20h0m24 -10h0m-12 10h0m-26 -22h0m45 27h0m-30 22h0m-54 15h0m-1 -71h0m-12 78h0m5 -3h0m71 -25h0m-45 5h0m4 -22h0m39 -16h0m-38 35h0m62 -23h0m-88 -36h0m39 11h0m-23 1h0m65 12h0m-73 -29h0m26 18h0m-30 0h0m45 52h0m-58 7h0m22 -67h0m-43 78h0m23 -25h0m76 -15h0m-11 -18h0m-18 -17h0m40 20h0m-77 -23h0m9 11h0m-44 63h0m11 -7h0m69 -20h0m37 -9h0m-117 30h0m63 -33h0m-22 -1h0m11 -12h0m61 22h0m-71 10h0m77 -17h0m-78 -9h0m53 24h0m-36 -39h0m-6 5h0m69 8h0m-77 20h0m71 -7h0m-68 -15h0m23 -17h0m-1 2h0m-14 45h0m-13 4h0m-12 -60h0m56 53h0m-33 -38h0m-19 43h0m40 -55h0m-17 4h0m-17 29h0m-36 44h0m59 -76h0m52 42h0m-26 -13h0m25 -14h0m7 -10h0m-29 29h0m-64 42h0m21 -63h0m-4 14h0m3 26h0m2 -25h0m67 -11h0m-3 11h0m-1 -7h0m-74 -33h0m24 17h0m-12 9h0m31 -11h0m34 12h0m-46 24h0m26 19h0m-15 1h0m-29 -48h0m-13 49h0m25 -44h0m-36 -23h0m68 15h0m-53 -13h0m74 32h0m-61 18h0m19 -41h0m-40 1h0m79 19h0m-48 -14h0m47 5h0m-71 -16h0m37 41h0m-18 -38h0m-21 20h0m-11 -18h0m54 21h0m-6 27h0m-57 14h0m3 2h0m2 9h0m21 -51h0m-11 -38h0m-22 88h0m48 -34h0m-14 -1h0m-15 1h0m-19 30h0m27 -48h0m45 29h0m-14 -37h0m-24 9h0m23 16h0m-12 -41h0m-56 68h0m61 -65h0m-4 30h0m11 -9h0m12 -22h0m39 21h0m-90 -33h0m66 27h0m-15 -10h0m-63 56h0m65 -50h0m-19 -8h0m36 25h0m-57 -10h0m-55 51h0m91 -20h0m-34 0h0m-31 18h0m63 -12h0m44 -29h0m-76 30h0m37 -13h0m-44 -55h0m-9 3h0m81 38h0m-70 25h0m60 -23h0m-7 -29h0m6 46h0m-52 -27h0m-24 43h0m63 -64h0m16 31h0m-54 13h0m16 -24h0m45 7h0m-22 -15h0m-82 55h0m13 -4h0m26 -59h0m32 -7h0m9 8h0m3 -4h0m3 50h0m9 -12h0m-55 -22h0m50 36h0m28 -33h0m-44 -16h0m47 7h0m-46 29h0m1 10h0m39 -27h0m-2 5h0m-83 45h0m-11 4h0m-3 -21h0m-20 10h0m9 -6h0m72 -45h0m-24 30h0m56 -25h0m-33 38h0m34 -24h0m-71 19h0m-4 -22h0m7 -18h0m-57 52h0m83 -8h0m-29 1h0m67 -37h0m-59 -15h0m23 4h0m-18 -15h0m62 24h0m-72 19h0m17 -21h0m26 0h0m-24 -22h0m-26 58h0m-5 -54h0m45 5h0m-39 -7h0m17 41h0m-56 26h0m107 -23h0m-39 -13h0m25 20h0m-48 7h0m-32 15h0m48 -61h0m53 10h0m-55 -27h0m28 32h0m30 -20h0m-48 25h0m51 -4h0m-92 49h0m71 -42h0m-64 -36h0m-38 76h0m118 -57h0m1 7h0m-33 -9h0m15 11h0m-69 51h0m39 -80h0m13 6h0m-3 25h0m-43 -2h0m20 29h0m27 1h0m34 -26h0m-61 -22h0m5 -9h0m46 23h0m-35 -22h0m-64 67h0m80 -28h0m-52 -17h0m9 17h0m32 7h0m16 -10h0m30 -26h0m-25 17h0m-44 -15h0m56 9h0m-54 -3h0m1 -18h0m59 7h0m-49 30h0m26 5h0m-47 -17h0m7 24h0m-25 -6h0m55 -15h0m-18 -25h0m-53 73h0m14 -15h0m25 -31h0m22 -27h0m-31 15h0m47 15h0m14 -17h0m1 14h0m-66 29h0m62 -29h0m-37 -18h0m19 17h0m28 -7h0m9 -4h0m-92 35h0m24 -38h0m57 6h0m-72 -23h0m9 25h0m30 -18h0m-6 28h0m16 4h0m-33 -24h0m55 5h0m12 3h0m-57 14h0m9 -7h0m-19 26h0m-16 26h0m-6 -1h0m76 -44h0m-44 -31h0m47 37h0m-84 36h0m65 -69h0m9 28h0m-10 -18h0m-5 -2h0m-20 46h0m25 -10h0m33 -50h0m-84 56h0m30 -53h0m-38 68h0m27 -75h0m-20 38h0m47 -32h0m-23 26h0m-52 40h0m4 2h0m100 -73h0m-86 2h0m86 13h0m11 4h0m-89 11h0m69 -7h0m-55 9h0m-15 -37h0m67 42h0m-69 13h0m-35 21h0m70 -32h0m14 10h0m-48 -44h0m63 30h0m22 -14h0m-80 8h0m13 -20h0m36 28h0m-53 39h0m47 -75h0m39 19h0m-32 -6h0m-51 -21h0m51 68h0m13 -30h0m-22 23h0m1 -20h0m-45 -5h0m47 27h0m28 -22h0m-81 -34h0m8 -7h0m45 55h0m-24 -32h0m-49 57h0m22 -74h0m27 19h0m-27 -12h0m54 0h0m-50 -15h0m73 43h0m-15 -25h0m-74 53h0m13 -55h0m6 30h0m70 -19h0m-43 20h0m3 1h0m-22 -20h0m74 0h0m-38 6h0m1 28h0m11 -3h0m-54 13h0m40 -21h0m-38 -48h0m-33 81h0m80 -59h0m16 28h0m-32 -36h0m-42 74h0m53 -75h0m-73 72h0m38 -42h0m18 -3h0m-81 40h0m113 -49h0m-4 11h0m-86 36h0m116 -54h0m-100 39h0m-25 10h0m19 -3h0m62 -16h0m21 -32h0m5 1h0m-19 39h0m-2 -52h0m-12 -3h0m17 36h0m-44 15h0m-24 -56h0m19 65h0m52 -24h0m-59 -12h0m25 30h0m9 -21h0m-55 39h0m19 -83h0m56 15h0m24 30h0m-74 -10h0m46 4h0m18 3h0m-65 -26h0m-30 69h0m65 -62h0m-22 18h0m54 -34h0m-59 60h0m14 -4h0m33 3h0m-48 1h0m22 -27h0m-20 -35h0m-5 8h0m13 -5h0m-37 69h0m26 -41h0m74 -18h0m-40 52h0m38 -38h0m-51 13h0m-18 -22h0m-28 43h0m57 -46h0m-54 55h0m-35 11h0m99 -45h0m-63 37h0m11 -60h0m60 11h0m-72 60h0m59 -65h0m14 28h0m-24 -29h0m-19 38h0m3 -42h0m-27 -7h0m2 60h0m18 -45h0m-34 60h0m44 -20h0m-41 19h0m40 -46h0m34 2h0m-58 44h0m28 -35h0m47 7h0m-69 -28h0m1 41h0m75 -25h0m-108 31h0m17 -15h0m59 -23h0m-10 6h0m14 1h0m-28 -38h0m26 23h0m-30 31h0m44 -46h0m-4 28h0m12 -17h0m-12 38h0m-69 7h0m4 -68h0m-8 65h0m56 -11h0m-20 -53h0m32 15h0m-73 63h0m45 -15h0m-26 -70h0m26 29h0m52 -15h0m-34 27h0m-42 32h0m1 -35h0m-30 47h0m95 -45h0m-55 1h0m22 17h0m-80 21h0m59 -53h0m57 4h0m-62 -8h0m30 43h0m22 3h0m-43 -43h0m-25 67h0m26 -26h0m-43 23h0m82 -70h0m-97 69h0m109 -34h0m-21 12h0m20 -40h0m-55 2h0m-3 2h0m-4 9h0m61 0h0m-60 -7h0m72 -5h0m-35 3h0m15 16h0m17 -23h0m-72 13h0m13 24h0m41 -40h0m-44 -21h0m8 10h0m-46 78h0m85 -45h0m-20 31h0m-9 -34h0m18 -9h0m-7 10h0m19 4h0m-39 -31h0m-13 8h0m21 19h0m-46 27h0m46 -49h0m15 -2h0m24 5h0m5 34h0m-56 -12h0m8 -33h0m-8 56h0m34 -19h0m-52 -33h0m42 39h0m-36 -25h0m70 2h0m-68 11h0m79 -8h0m-83 -15h0m49 2h0m-7 18h0m-39 1h0m24 23h0m44 -45h0m-83 51h0m8 -25h0m42 -22h0m-1 50h0m-84 10h0m12 6h0m83 -19h0m-30 -59h0m35 44h0m-62 -50h0m21 51h0m-16 -19h0m-6 22h0m73 -39h0m-52 39h0m-10 -45h0m44 46h0m-9 -15h0m30 -11h0m-35 27h0m-82 27h0m112 -60h0m-23 -11h0m26 23h0m-2 2h0m-2 4h0m-2 -11h0m17 10h0m-9 13h0m-70 -45h0m-46 71h0m81 -70h0m25 36h0m13 -10h0m-15 7h0m-61 -42h0m19 18h0m27 22h0m9 -26h0m15 30h0m-22 -7h0m-57 20h0m91 -18h0m-107 47h0m41 -26h0m-8 -48h0m-6 -13h0m56 24h0m-13 45h0m-2 -1h0m36 -28h0m-61 -17h0m-27 51h0m95 -45h0m-11 25h0m-2 -22h0m4 0h0m1 -1h0m-85 55h0m41 -65h0m-13 -1h0m56 0h0m-11 26h0m-23 23h0m42 -51h0m-82 -18h0m84 36h0m-58 -25h0m-12 50h0m55 -21h0m-68 -6h0m6 30h0m-9 4h0m-1 -56h0m41 41h0m27 -6h0m-66 -48h0m5 67h0m19 -53h0m-5 -5h0m-1 50h0m26 0h0m5 3h0m-49 -27h0m44 9h0m-51 42h0m60 -29h0m-80 28h0m58 -64h0m12 44h0m34 -19h0m-85 -33h0m85 23h0m-9 -14h0m5 27h0m-106 28h0m53 -57h0m2 50h0m-4 -28h0m14 10h0m26 -12h0m-31 -33h0m-55 66h0m2 12h0m18 -68h0m5 -3h0m73 37h0m-42 3h0m31 -10h0m-19 24h0m15 -15h0m-6 -10h0m10 2h0m-56 14h0m-11 -46h0m7 19h0m12 -4h0m45 24h0m-36 -28h0m49 10h0m-21 2h0m-2 26h0m-2 -35h0m24 -19h0m-32 11h0m45 -1h0m-65 44h0m16 -53h0m44 41h0m-66 -22h0m68 -14h0m-83 55h0m2 -11h0m13 -26h0m15 -11h0m-33 -14h0m17 56h0m-50 17h0m79 -22h0m-36 11h0m56 -16h0m-45 17h0m68 -50h0m-71 23h0m-4 10h0m58 -3h0m-51 10h0m-51 27h0m9 -5h0m96 -52h0m-75 -23h0m67 60h0m-53 -58h0m10 14h0m32 11h0m33 -17h0m-125 62h0m56 -78h0m1 60h0m76 -32h0m-37 23h0m2 -35h0m18 34h0m-66 -3h0m77 -19h0m-80 6h0m26 -27h0m42 46h0m-32 6h0m-27 -31h0m-57 51h0m48 -41h0m-4 54h0m17 -66h0m-42 56h0m-4 1h0m23 -31h0m1 6h0m51 -24h0m-43 11h0m49 -29h0m-42 41h0m21 -44h0m33 33h0m-34 8h0m36 -16h0m-35 -20h0m-20 6h0m3 6h0m23 0h0m-45 52h0m-36 -1h0m17 7h0m-10 -15h0m63 -24h0m-54 28h0m8 5h0m76 -30h0m4 -8h0m-2 22h0m-52 -6h0m37 0h0m-45 -49h0m73 12h0m-26 30h0m25 -36h0m9 32h0m-59 23h0m9 -48h0m-27 -13h0m66 31h0m-44 8h0m-42 22h0m64 -30h0m17 -3h0m-15 1h0m11 8h0m-41 20h0m57 -42h0m-56 1h0m1 -5h0m53 32h0m-67 -28h0m34 48h0m-46 -9h0m-20 12h0m0 2h0m46 -71h0m52 36h0m-54 -2h0m10 -24h0m18 42h0m-51 -59h0m22 59h0m27 -6h0m-34 -22h0m-1 37h0m-10 -60h0m64 38h0m28 -26h0m-28 -5h0m-28 6h0m44 8h0m-24 40h0m-92 15h0m32 5h0m14 -69h0m68 -5h0m-31 46h0m-63 25h0m98 -73h0m-97 60h0m104 -49h0m-79 -11h0m52 36h0m-66 -7h0m12 -35h0m16 20h0m-2 -19h0m55 21h0m-50 -12h0m23 16h0m28 -3h0m-56 -14h0m35 46h0m21 -34h0m-129 54h0m102 -64h0m-16 21h0m-58 44h0m56 -47h0m-60 52h0m-4 -12h0m85 -33h0m-21 -2h0m17 0h0m-50 -30h0m50 6h0m0 47h0m-57 24h0m13 -74h0m19 14h0m57 12h0m-105 45h0m49 -69h0m3 -3h0m-8 -1h0m18 0h0m44 15h0m-87 -17h0m50 7h0m-40 17h0m41 8h0m-28 -24h0m60 -1h0m6 9h0m-39 -15h0m-52 -3h0m50 50h0m-22 -38h0m58 10h0m-32 -18h0m-21 54h0m-1 1h0m-46 22h0m81 -22h0m-32 -22h0m-71 32h0m109 -30h0m-72 14h0m22 -1h0m-2 -40h0m61 27h0m-4 3h0m-24 -19h0m-31 11h0m17 -33h0m46 28h0m-79 32h0m39 -4h0m-26 -40h0m63 18h0m9 -10h0m-64 -21h0m-11 57h0m38 -31h0m-18 -3h0m13 0h0m7 -5h0m-42 -32h0m37 51h0m-5 -37h0m-31 -3h0m39 3h0m-27 41h0m1 -5h0m62 -15h0m-65 -9h0m57 14h0m-68 -17h0m9 42h0m30 -15h0m-51 41h0m-26 -10h0m34 -53h0m-6 40h0m79 -22h0m0 -18h0m-66 -3h0m2 44h0m-44 9h0m106 -31h0m-76 17h0m-24 10h0m16 -8h0m33 -45h0m48 35h0m-65 -23h0m67 16h0m-88 38h0m49 -76h0m38 45h0m-51 9h0m-19 4h0m29 -55h0m-38 -5h0m56 35h0m14 21h0m-26 -55h0m-30 22h0m-30 51h0m92 -34h0m-70 39h0m0 -45h0m10 11h0m38 -40h0m1 45h0m-5 -39h0m-64 67h0m35 -26h0m-5 -19h0m-35 40h0m52 -73h0m-4 7h0m-4 7h0m7 -12h0m37 53h0m-9 -34h0m-11 41h0m-32 -49h0m-47 56h0m47 -73h0m-14 57h0m79 -30h0m-20 28h0m-60 7h0m17 -40h0m33 -11h0m2 24h0m-64 45h0m63 -32h0m-57 37h0m13 -76h0m47 27h0m-18 -27h0m5 59h0m35 -43h0m-14 25h0m-48 -2h0m-20 16h0m32 -54h0m-19 28h0m53 -15h0m-97 53h0m30 10h0m91 -47h0m-66 -2h0m-29 48h0m18 -51h0m19 -10h0m-46 40h0m59 -24h0m-35 2h0m-7 7h0m46 -38h0m1 53h0m-77 16h0m55 -59h0m36 -5h0m-56 -7h0m37 8h0m17 49h0m0 -10h0m-60 -46h0m2 73h0m7 -44h0m-27 45h0m17 -83h0m-8 84h0m32 -60h0m34 16h0m-14 -1h0m37 -17h0m-23 8h0m-46 -33h0m50 63h0m0 1h0m-59 -66h0m24 38h0m-23 -30h0m38 2h0m-28 53h0m-25 20h0m50 -31h0m-22 -32h0m46 9h0m-18 21h0m-41 -38h0m5 57h0m52 -54h0m11 30h0m-46 -20h0m31 18h0m12 23h0m-62 4h0m23 -62h0m24 4h0m2 30h0m-49 22h0m-29 12h0m77 -50h0m-41 28h0m48 -24h0m-47 -9h0m-50 61h0m55 -83h0m9 22h0m-20 -22h0m50 38h0m-2 -3h0m10 6h0m-29 16h0m-66 28h0m40 -84h0m2 11h0m22 10h0m35 22h0m-15 -29h0m-18 57h0m17 -56h0m-41 -4h0m57 34h0m9 6h0m-51 -35h0m63 3h0m-37 9h0m-59 41h0m33 -45h0m17 29h0m-14 -12h0m17 16h0m19 -13h0m-10 -34h0m20 41h0m-48 -41h0m48 36h0m-39 -27h0m-12 7h0m4 37h0m0 5h0m-28 17h0m30 -42h0m-2 -23h0m4 33h0m40 -16h0m-62 22h0m80 -23h0m-39 -14h0m-96 62h0m50 -20h0m34 -53h0m-6 20h0m58 1h0m-20 15h0m-62 -36h0m6 32h0m2 -23h0m42 8h0m-25 26h0m51 -25h0m-56 -8h0m-41 65h0m67 -54h0m-60 46h0m46 -69h0m2 10h0m-36 11h0m-15 50h0m72 -28h0m-59 -38h0m15 15h0m26 30h0m39 -15h0m-55 -38h0m-27 39h0m0 13h0m81 -25h0m-86 -31h0m89 37h0m-73 14h0m-14 -38h0m32 -2h0m-15 -17h0m32 70h0m-30 -23h0m5 -4h0m-32 51h0m7 -73h0m1 52h0m3 -64h0m39 52h0m11 -19h0m-75 46h0m80 -40h0m-80 36h0m87 -55h0m25 -8h0m-109 62h0m71 -37h0m-79 40h0m82 -63h0m-47 14h0m10 -37h0m-2 23h0m33 4h0m38 23h0m-74 -8h0m73 0h0m-83 -23h0m-15 72h0m61 -30h0m-53 14h0m-11 12h0m5 -15h0m59 -3h0m-28 -43h0m29 14h0m7 10h0m-29 -20h0m63 -11h0m-2 -2h0m-76 8h0m3 32h0m40 -25h0m-74 55h0m101 -34h0m-2 -11h0m-59 -11h0m56 4h0m-11 31h0m-35 -13h0m22 14h0m21 -38h0m-96 50h0m91 -25h0m24 -14h0m-37 2h0m19 8h0m-71 -44h0m20 65h0m-12 -22h0m4 -23h0m36 -9h0m6 54h0m-7 -41h0m-46 46h0m79 -45h0m-61 -12h0m-17 -1h0m-3 -3h0m-8 76h0m7 -20h0m-12 22h0m-24 -9h0m83 -60h0m-24 36h0m-23 11h0m-22 9h0m97 -37h0m-89 36h0m-6 12h0m59 -38h0m37 1h0m-5 -3h0m3 -31h0m-64 20h0m-27 48h0m68 -36h0m-58 15h0m38 7h0m22 -32h0m-18 6h0m-21 -19h0m38 -7h0m-20 0h0m24 48h0m-8 -54h0m34 2h0m5 22h0m-39 0h0m32 0h0m-28 29h0m-12 -49h0m18 3h0m24 21h0m-110 38h0m64 -54h0m-10 36h0m-29 -57h0m0 68h0m81 -28h0m-57 19h0m-10 -29h0m1 34h0m-11 -23h0m-5 43h0m56 -53h0m-22 -23h0m-1 5h0m51 25h0m0 -25h0m-89 71h0m78 -56h0m-12 -4h0m-3 19h0m26 6h0m-85 -41h0m40 6h0m-37 40h0m52 -3h0m-92 32h0m120 -34h0m-64 -31h0m53 26h0m-70 11h0m27 -39h0m71 5h0m-3 5h0m-96 -27h0m54 25h0m-31 -6h0m-25 42h0m93 -32h0m-57 39h0m-27 -6h0m2 0h0m48 3h0m-47 4h0m-1 -37h0m-4 50h0m22 -24h0m27 -18h0m17 -20h0m-42 10h0m15 -16h0m-38 -11h0m43 18h0m-71 58h0m25 7h0m33 -66h0m-41 44h0m74 3h0m-72 -7h0m54 -48h0m-31 33h0m-10 22h0m-7 -56h0m13 54h0m58 -34h0m-99 42h0m43 -15h0m16 -26h0m-18 21h0m61 -50h0m-47 23h0m-22 11h0m-20 37h0m54 -56h0m1 20h0m46 -5h0m-76 29h0m25 -47h0m15 54h0m35 -27h0m-89 17h0m12 1h0m26 -37h0m-48 63h0m40 -67h0m18 50h0m-73 13h0m39 -43h0m27 1h0m-6 -26h0m-25 -1h0m6 22h0m-14 36h0m3 -63h0m34 35h0m22 -17h0m-11 15h0m6 22h0m-58 20h0m63 -19h0m-44 -34h0m28 40h0m13 -7h0m-32 -8h0m5 -49h0m-5 54h0m-13 10h0m20 -64h0m42 20h0m-29 -13h0m-22 11h0m-27 43h0m60 -24h0m39 -20h0m-93 -20h0m27 18h0m13 17h0m-35 2h0m0 -8h0m29 -21h0m-21 21h0m7 -8h0m-36 50h0m37 -33h0m67 -8h0m-25 27h0m-26 -20h0m-15 -5h0m16 -22h0m37 27h0m-54 13h0m44 7h0m18 -10h0m-59 -20h0m-15 -18h0m60 33h0m13 -8h0m-24 8h0m-50 -11h0m-2 5h0m47 -6h0m-47 -2h0m13 21h0m-6 -44h0m70 37h0m-69 19h0m-9 6h0m23 -1h0m-4 -33h0m12 -15h0m28 27h0m15 1h0m-25 -22h0m-6 29h0m-28 -14h0m52 -18h0m-19 46h0m18 -38h0m-75 32h0m88 -26h0m-54 -35h0m8 14h0m-26 6h0m21 23h0m-7 -35h0m-17 0h0m-15 75h0m97 -58h0m-2 -1h0m-29 23h0m-53 18h0m25 -62h0m-16 45h0m60 -27h0m-74 -26h0m78 49h0m-31 16h0m-11 -8h0m56 -34h0m-5 4h0m-12 14h0m-68 22h0m-3 8h0m52 -10h0m-21 -51h0m-44 59h0m98 -42h0m-137 57h0m74 -59h0m37 -6h0m-8 13h0m-58 -24h0m38 8h0m-71 61h0m83 -12h0m-41 -20h0m54 19h0m-44 -42h0m41 48h0m11 -24h0m17 -11h0m-91 28h0m-38 20h0m126 -68h0m-68 2h0m28 6h0m-27 -6h0m-40 61h0m77 -11h0m-82 11h0m-150 210h0m1 0h0m1 0h0m8 2h0m1 -2h0m-5 3h0m8 -5h0m-11 3h0m10 -4h0m-5 7h0m1 -2h0m-3 1h0m1 3h0m-8 -5h0m10 2h0m-8 -2h0m1 1h0m10 -3h0m2 0h0m-5 1h0m-4 4h0m0 -2h0m2 0h0m-7 -1h0m-3 1h0m14 -2h0m-5 1h0m2 -3h0m-4 4h0m-2 1h0" stroke="#20a653" stroke-width="2.3" stroke-linecap="round" fill="none" stroke-opacity="0.9"/>
<path d="M2407 1804h0m11 36h0m12 24h0m43 -5h0m-3 2h0m-51 -27h0m4 -18h0m-16 23h0m-19 0h0m39 -22h0m43 57h0m-54 -65h0m24 41h0m-87 -19h0m36 1h0m90 44h0m-45 -42h0m35 35h0m1 -32h0m-76 -24h0m24 16h0m-3 23h0m54 18h0m-90 -45h0m76 10h0m-14 -2h0m-84 -4h0m66 20h0m-49 -5h0m34 -41h0m66 65h0m-38 -52h0m-24 22h0m8 7h0m-42 -19h0m21 4h0m-39 17h0m90 -46h0m26 64h0m-68 -14h0m42 -33h0m-27 32h0m54 15h0m-9 -18h0m-33 -7h0m-57 -12h0m66 28h0m-2 -21h0m-54 1h0m60 -22h0m-16 28h0m-71 -2h0m52 11h0m32 14h0m-41 -46h0m46 -5h0m-27 -8h0m4 21h0m-18 11h0m48 -2h0m-84 9h0m76 -34h0m-65 11h0m17 23h0m-36 -15h0m106 31h0m-12 -2h0m-49 -63h0m-22 50h0m44 -35h0m-4 -2h0m33 43h0m2 5h0m-35 -41h0m-18 23h0m68 17h0m-32 -17h0m23 22h0m-42 -25h0m-62 12h0m88 5h0m-18 -21h0m-29 -29h0m26 2h0m-17 5h0m-2 28h0m45 19h0m-78 -35h0m94 52h0m-13 -17h0m-56 -56h0m56 32h0m-8 -23h0m-38 18h0m36 -15h0m-42 21h0m23 32h0m-51 -41h0m26 -21h0m66 57h0m-17 -24h0m5 6h0m15 33h0m-34 -9h0m-2 -5h0m-56 -38h0m92 42h0m-61 -21h0m40 1h0m-24 -1h0m6 9h0m13 17h0m-48 -56h0m45 35h0m-33 -18h0m36 -8h0m-18 23h0m-35 -7h0m63 -6h0m-2 -9h0m-4 12h0m-60 -16h0m64 13h0m-56 -20h0m48 -2h0m-23 -19h0m-12 54h0m12 -10h0m9 -9h0m-51 16h0m58 -29h0m8 33h0m13 -10h0m-26 -33h0m11 62h0m4 -62h0m-81 41h0m29 -34h0m37 16h0m7 13h0m-24 0h0m35 -7h0m0 -1h0m-31 -22h0m45 32h0m-29 -10h0m17 21h0m-61 -43h0m10 12h0m36 15h0m-35 -6h0m-22 -5h0m19 22h0m32 -31h0m12 2h0m-48 26h0m62 15h0m-87 -17h0m51 -35h0m41 52h0m-58 -63h0m55 66h0m-75 -41h0m-22 25h0m105 11h0m-17 -26h0m-16 17h0m-11 -15h0m-13 5h0m16 -37h0m25 16h0m-4 -8h0m-17 7h0m-40 17h0m-11 -17h0m26 -12h0m14 49h0m31 0h0m2 -2h0m-38 -10h0m3 -15h0m26 -18h0m-20 21h0m-41 11h0m7 -4h0m32 16h0m-11 3h0m38 -56h0m4 34h0m-19 15h0m-21 -16h0m55 35h0m-59 -72h0m43 79h0m-91 -37h0m102 24h0m-32 -22h0m3 -16h0m16 -6h0m-34 -13h0m10 -2h0m25 34h0m-17 -13h0m-5 10h0m10 -3h0m20 38h0m-62 -26h0m-30 -10h0m45 6h0m-26 3h0m34 9h0m-1 -31h0m44 41h0m-41 1h0m-20 -18h0m32 -36h0m-54 33h0m74 28h0m-44 -63h0m56 35h0m-22 0h0m-22 -20h0m-65 6h0m72 29h0m-60 -10h0m62 -5h0m17 11h0m-45 -37h0m22 -18h0m-22 52h0m-1 -6h0m1 -3h0m32 -34h0m39 58h0m-57 -38h0m-38 -4h0m58 8h0m-22 -25h0m-25 2h0m40 20h0m-50 18h0m32 3h0m-19 -2h0m-5 -19h0m85 47h0m-37 -39h0m2 -30h0m4 35h0m27 33h0m-117 -39h0m71 -9h0m-33 -11h0m13 -9h0m9 23h0m51 40h0m-68 -57h0m72 48h0m-52 -12h0m-30 -13h0m15 -31h0m39 48h0m-26 -8h0m15 1h0m2 -31h0m-19 -4h0m50 34h0m-33 -10h0m39 27h0m-37 -40h0m48 44h0m-126 -21h0m11 -6h0m69 5h0m-12 16h0m34 -42h0m-2 55h0m-27 -29h0m-7 12h0m-35 -10h0m-3 -6h0m23 -34h0m66 64h0m-87 -23h0m49 -18h0m19 -6h0m-7 35h0m-62 -14h0m38 7h0m45 17h0m-104 -30h0m75 28h0m7 -66h0m9 74h0m-28 -17h0m46 13h0m-64 -30h0m13 -32h0m20 6h0m-34 27h0m-1 12h0m18 7h0m-37 -29h0m8 -24h0m48 28h0m-29 -40h0m26 64h0m30 6h0m-23 -24h0m-46 -3h0m31 8h0m40 23h0m-45 -62h0m52 55h0m-123 -32h0m119 40h0m-32 -13h0m-21 -7h0m-21 3h0m29 -44h0m27 60h0m-77 -23h0m-1 -5h0m47 1h0m-5 5h0m25 -8h0m-49 -28h0m73 35h0m-115 -10h0m79 6h0m18 15h0m15 3h0m-37 -12h0m7 -33h0m8 27h0m-22 -30h0m-62 31h0m93 15h0m-16 -1h0m-1 8h0m-54 -29h0m77 9h0m-94 -3h0m21 -25h0m82 54h0m9 -7h0m-46 -2h0m14 -54h0m-31 32h0m-29 2h0m1 4h0m28 2h0m-27 -22h0m-25 25h0m37 -29h0m34 31h0m1 -42h0m6 -5h0m-5 53h0m-54 -30h0m57 3h0m-13 -24h0m-24 43h0m43 1h0m-76 -1h0m71 20h0m2 -2h0m39 5h0m-46 -53h0m-17 -9h0m-19 33h0m-44 5h0m106 -10h0m-75 -6h0m0 -6h0m41 7h0m19 18h0m-27 -43h0m-34 15h0m45 -5h0m-47 19h0m24 -18h0m68 50h0m-27 -29h0m-24 -38h0m-7 37h0m4 6h0m-40 -9h0m89 13h0m-90 -13h0m62 20h0m17 -31h0m-25 -4h0m2 -15h0m16 50h0m-20 -35h0m9 29h0m-62 -28h0m71 -11h0m10 29h0m-39 -11h0m8 8h0m-19 -28h0m29 55h0m-11 -35h0m28 8h0m-37 13h0m-31 -24h0m-8 16h0m52 14h0m16 -32h0m-32 6h0m2 -21h0m57 49h0m-80 -53h0m74 65h0m-6 -32h0m-13 32h0m31 -13h0m-35 -15h0m-72 -9h0m35 -20h0m2 29h0m67 32h0m-88 -49h0m31 -13h0m20 -9h0m8 42h0m-41 -14h0m-15 -23h0m13 9h0m-25 8h0m60 11h0m26 8h0m-114 -9h0m91 11h0m32 18h0m-66 -19h0m62 23h0m-37 -18h0m-7 -20h0m0 32h0m-11 -55h0m53 48h0m-87 -32h0m36 7h0m-17 19h0m43 7h0m21 11h0m-43 -15h0m24 -41h0m11 13h0m-15 29h0m37 13h0m-91 -25h0m-21 -1h0m38 4h0m21 -11h0m40 27h0m-49 -26h0m17 -11h0m-11 29h0m-51 -9h0m57 -45h0m50 65h0m-18 -29h0m-14 -26h0m28 46h0m-88 -33h0m14 20h0m59 11h0m-4 -29h0m-30 -34h0m-21 31h0m32 -9h0m-56 34h0m21 -37h0m14 -11h0m33 73h0m-30 -28h0m-40 -23h0m36 -10h0m18 42h0m-65 -18h0m67 -21h0m4 54h0m-46 -20h0m74 25h0m-42 -44h0m51 45h0m-98 -28h0m-30 5h0m111 -5h0m20 18h0m-18 5h0m-14 -10h0m-24 -2h0m-21 -57h0m-16 44h0m87 28h0m-12 -34h0m-4 6h0m-94 1h0m53 0h0m17 3h0m-2 -20h0m-5 2h0m-35 -11h0m57 32h0m-26 1h0m47 -4h0m-60 -13h0m36 21h0m-40 -12h0m9 -31h0m-33 38h0m36 -45h0m17 21h0m-6 -3h0m-64 18h0m97 -5h0m-37 27h0m13 -37h0m2 -12h0m-30 -6h0m3 7h0m19 46h0m-25 -58h0m32 56h0m-39 -53h0m25 53h0m8 -36h0m-38 -6h0m50 34h0m4 1h0m-16 -32h0m21 -2h0m-22 26h0m7 19h0m-20 -67h0m23 42h0m-95 6h0m36 1h0m34 8h0m28 -7h0m-19 -12h0m-2 18h0m-19 -8h0m7 -2h0m16 -6h0m23 -19h0m-93 15h0m47 -23h0m4 39h0m54 -3h0m-68 1h0m60 -10h0m19 35h0m-37 -50h0m-55 19h0m35 -1h0m-8 -41h0m41 50h0m-64 -5h0m15 -2h0m39 -28h0m25 47h0m-15 -33h0m-20 12h0m-76 10h0m100 -16h0m-83 4h0m49 -24h0m-64 19h0m115 14h0m-71 -32h0m26 -19h0m-30 13h0m70 55h0m-69 -32h0m48 7h0m-65 4h0m-14 9h0m-8 -22h0m116 39h0m-13 2h0m-109 -42h0m58 -10h0m68 42h0m-123 -28h0m96 -28h0m-74 44h0m22 1h0m47 2h0m28 11h0m-42 -2h0m-22 -48h0m32 -7h0m-42 38h0m-33 -7h0m-14 -3h0m68 -8h0m-3 17h0m18 19h0m36 6h0m-3 -21h0m4 5h0m-38 -13h0m47 27h0m-87 -55h0m10 29h0m65 27h0m-21 -49h0m-94 28h0m109 -3h0m-98 -2h0m92 -1h0m-15 18h0m16 -23h0m-88 7h0m21 -22h0m64 18h0m-23 9h0m21 -33h0m-17 22h0m-47 -22h0m31 45h0m51 16h0m-48 -17h0m6 -8h0m-22 -14h0m43 22h0m-40 -9h0m33 2h0m12 26h0m-30 -47h0m52 34h0m-109 -25h0m35 4h0m16 -1h0m-25 -13h0m59 30h0m-48 -51h0m37 62h0m-20 -26h0m-54 -5h0m37 -35h0m56 61h0m-11 -54h0m-12 59h0m10 -50h0m26 50h0m-106 -36h0m52 -21h0m20 21h0m34 21h0m-83 -43h0m41 42h0m1 -26h0m-1 -2h0m-36 2h0m23 22h0m-31 -9h0m19 6h0m34 -38h0m-49 10h0m55 -7h0m-80 28h0m65 -21h0m13 37h0m-26 -21h0m1 2h0m55 33h0m-50 -66h0m-30 7h0m26 33h0m14 24h0m28 -9h0m-72 -12h0m-1 -1h0m81 15h0m-23 -30h0m-12 6h0m-46 -24h0m46 19h0m-7 10h0m-50 -22h0m47 24h0m-29 -32h0m81 50h0m-21 -26h0m-66 13h0m-3 -17h0m-2 -5h0m37 -33h0m30 64h0m-30 -44h0m-4 20h0m-57 9h0m74 19h0m13 13h0m-50 -35h0m-35 7h0m98 19h0m-51 -14h0m27 -18h0m-30 -29h0m47 16h0m14 49h0m-120 -29h0m17 -2h0m49 -1h0m54 31h0m0 -23h0m-38 -18h0m22 -6h0m-24 20h0m-47 3h0m4 -18h0m86 40h0m-72 -50h0m72 33h0m-36 10h0m-18 -18h0m-13 -33h0m33 18h0m-36 24h0m38 17h0m-3 -53h0m3 23h0m-8 -29h0m-22 4h0m4 -2h0m-33 35h0m52 9h0m23 -19h0m4 27h0m5 -15h0m-56 1h0m19 -11h0m6 1h0m-55 2h0m71 15h0m-88 -13h0m114 16h0m-86 -14h0m0 -28h0m21 37h0m25 1h0m-31 -7h0m19 -23h0m10 -1h0m-33 19h0m56 3h0m-36 -20h0m-47 8h0m68 32h0m1 -57h0m-35 -1h0m12 -12h0m61 70h0m-91 -19h0m73 -6h0m5 10h0m-77 -39h0m38 30h0m-12 -29h0m13 48h0m-51 -22h0m81 18h0m-88 -13h0m51 -36h0m17 29h0m19 21h0m-9 18h0m6 -20h0m-10 -51h0m-83 28h0m53 22h0m26 -14h0m16 -1h0m-53 -4h0m32 -7h0m41 26h0m-42 -52h0m-55 38h0m37 -1h0m16 -13h0m5 32h0m32 14h0m-54 -49h0m-13 -3h0m70 44h0m-106 -29h0m93 22h0m-5 -16h0m-37 2h0m-5 -34h0m-2 28h0m66 26h0m-45 -41h0m-19 32h0m58 12h0m-43 -34h0m-17 0h0m6 11h0m18 -34h0m-40 32h0m29 -40h0m-14 34h0m0 13h0m64 20h0m-95 -44h0m87 36h0m-49 -36h0m42 47h0m8 -28h0m-16 32h0m-31 -68h0m31 5h0m-38 -5h0m-18 1h0m33 25h0m-49 -6h0m-25 2h0m25 -1h0m35 19h0m22 -38h0m19 21h0m-36 -14h0m53 29h0m1 27h0m-33 -67h0m15 31h0m-31 0h0m-10 -3h0m-2 0h0m-54 15h0m35 -3h0m34 -46h0m5 55h0m28 -1h0m-18 -19h0m-37 -27h0m72 59h0m-63 -54h0m32 34h0m-27 -30h0m45 44h0m-6 -21h0m-9 -12h0m-42 7h0m30 -29h0m7 69h0m28 -21h0m-65 -45h0m56 32h0m-109 -7h0m6 7h0m113 24h0m-105 -28h0m79 -17h0m5 21h0m-47 8h0m9 3h0m6 -43h0m34 7h0m-50 23h0m-37 6h0m83 12h0m-57 -49h0m46 -8h0m3 4h0m16 65h0m-78 -47h0m-10 22h0m97 27h0m-55 -27h0m-10 -41h0m15 25h0m34 12h0m-76 1h0m-11 7h0m29 -37h0m-20 16h0m70 28h0m-63 -30h0m-17 21h0m75 -12h0m27 14h0m-37 -13h0m7 28h0m3 -7h0m-41 -11h0m3 6h0m52 -41h0m-66 28h0m42 -8h0m-7 11h0m-11 18h0m-50 -10h0m96 12h0m-82 -35h0m37 13h0m18 -12h0m-12 26h0m48 27h0m13 -18h0m-95 -40h0m88 52h0m-12 -36h0m-95 4h0m7 3h0m4 -4h0m78 -25h0m20 51h0m-35 -3h0m-6 -13h0m-15 -4h0m-5 -11h0m48 2h0m-84 10h0m67 -37h0m10 21h0m-37 -23h0m46 59h0m-80 -31h0m71 -26h0m-14 31h0m10 -23h0m-47 -9h0m27 27h0m-21 -25h0m38 -4h0m-71 16h0m40 12h0m27 5h0m1 13h0m-6 12h0m-21 -56h0m-18 6h0m9 5h0m55 53h0m-45 -63h0m31 20h0m-7 38h0m35 -1h0m-44 -41h0m-17 9h0m1 -28h0m20 6h0m-19 31h0m-2 -1h0m-34 -16h0m74 41h0m-101 -35h0m17 1h0m51 16h0m42 1h0m-2 -14h0m-25 27h0m11 -31h0m-46 -14h0m62 23h0m-14 -40h0m-55 8h0m28 -2h0m12 45h0m-44 -6h0m49 15h0m35 -6h0m-26 -4h0m-81 -14h0m6 4h0m53 -14h0m-1 15h0m3 -41h0m31 38h0m-45 7h0m39 -20h0m-14 37h0m-13 -71h0m-1 68h0m-44 -35h0m0 12h0m45 3h0m39 22h0m-95 -25h0m4 -15h0m31 -26h0m3 42h0m-48 12h0m82 12h0m-2 -22h0m-11 19h0m-15 -55h0m53 61h0m-65 -22h0m54 23h0m-22 -53h0m-16 35h0m-1 -20h0m-10 -29h0m12 53h0m23 -46h0m-15 27h0m-13 7h0m11 -37h0m-7 12h0m46 57h0m-61 -39h0m50 -3h0m-7 26h0m27 14h0m-77 -56h0m59 55h0m-37 -52h0m-3 15h0m16 16h0m-37 -7h0m-2 -8h0m65 20h0m0 -26h0m-77 -8h0m38 -5h0m15 20h0m42 38h0m-74 -33h0m0 -33h0m62 35h0m-57 -46h0m58 50h0m-3 27h0m-39 -50h0m29 -8h0m-46 26h0m-22 -6h0m48 9h0m-21 4h0m-8 -11h0m30 -5h0m22 38h0m-27 -7h0m-20 -9h0m60 -9h0m-49 -36h0m45 60h0m3 -11h0m-111 -15h0m81 -13h0m-66 13h0m88 -7h0m-62 -22h0m-18 25h0m30 -25h0m55 29h0m-55 1h0m18 -25h0m39 53h0m-64 -68h0m68 58h0m-92 -36h0m15 0h0m36 23h0m28 -16h0m-8 9h0m-28 8h0m21 22h0m4 -18h0m6 -23h0m-24 13h0m12 29h0m-32 -61h0m67 42h0m-79 -9h0m44 20h0m-24 -55h0m14 13h0m-42 -17h0m70 24h0m4 41h0m-12 -15h0m-19 -12h0m38 25h0m-67 -69h0m25 60h0m33 -1h0m5 -20h0m-109 1h0m81 25h0m31 2h0m-1 -3h0m-31 -50h0m-57 21h0m9 2h0m50 22h0m-55 -36h0m69 29h0m5 -13h0m-7 -12h0m-14 4h0m39 32h0m-67 -15h0m1 -39h0m-13 17h0m24 -17h0m-42 29h0m49 -11h0m-46 20h0m39 -40h0m-4 33h0m13 11h0m36 9h0m-9 -19h0m-27 -7h0m4 -11h0m-54 16h0m36 -28h0m-32 24h0m59 -12h0m-35 20h0m51 1h0m-109 4h0m36 -23h0m45 -2h0m-34 4h0m66 12h0m-39 -35h0m-22 -1h0m12 43h0m0 -49h0m-17 49h0m-31 -8h0m62 -33h0m-10 0h0m0 18h0m-46 23h0m60 12h0m-55 -16h0m76 -8h0m-23 -11h0m-5 -2h0m9 24h0m21 -34h0m7 22h0m-61 3h0m8 -23h0m-25 28h0m84 7h0m5 12h0m-114 -30h0m35 16h0m2 -19h0m76 23h0m-68 -24h0m30 1h0m13 25h0m27 18h0m-76 -23h0m-17 -9h0m36 16h0m45 -11h0m-46 -13h0m6 -23h0m2 54h0m3 -34h0m3 -6h0m5 4h0m3 4h0m-71 2h0m70 14h0m-53 -20h0m47 15h0m-76 7h0m26 -9h0m-9 -11h0m39 19h0m-11 -1h0m78 20h0m-108 -31h0m65 -22h0m-7 25h0m-22 -2h0m-2 8h0m-53 -9h0m81 -10h0m1 19h0m6 -42h0m-10 38h0m6 28h0m-48 -44h0m-34 23h0m59 -41h0m-53 41h0m3 2h0m28 -35h0m26 21h0m24 28h0m17 -24h0m19 12h0m-67 -32h0m14 -18h0m42 38h0m-20 32h0m-14 -41h0m-14 18h0m37 -11h0m-31 3h0m30 24h0m25 18h0m-67 -37h0m5 7h0m-27 -40h0m35 48h0m-39 -22h0m-17 -10h0m96 46h0m-42 -55h0m34 18h0m-102 14h0m103 20h0m-64 -64h0m12 48h0m-42 -19h0m98 19h0m-6 15h0m-24 -20h0m23 26h0m17 -12h0m-81 -31h0m84 31h0m-76 -20h0m32 21h0m-25 -46h0m-2 8h0m28 28h0m5 -17h0m7 31h0m-78 -28h0m4 2h0m66 21h0m-8 -22h0m24 -1h0m-51 -30h0m0 -11h0m18 7h0m46 58h0m-27 -32h0m5 -21h0m-42 36h0m67 16h0m-38 -35h0m38 17h0m-80 -2h0m20 -4h0m19 -44h0m6 33h0m-22 18h0m-11 -35h0m34 10h0m8 44h0m-12 -24h0m45 27h0m-72 -28h0m63 28h0m-45 -26h0m-29 -36h0m47 18h0m-14 -25h0m54 67h0m1 0h0m-54 -61h0m-21 19h0m-43 18h0m103 21h0m-52 -29h0m62 15h0m3 18h0m-59 -57h0m0 1h0m-14 0h0m-35 35h0m10 1h0m36 -16h0m9 -41h0m20 47h0m-51 -3h0m-21 10h0m67 28h0m-53 -31h0m50 -25h0m-37 28h0m52 -2h0m-26 3h0m-18 -35h0m11 29h0m31 12h0m-8 -21h0m-42 15h0m4 -23h0m3 31h0m58 14h0m-71 -54h0m31 20h0m36 6h0m-60 -20h0m30 21h0m-59 8h0m13 -26h0m33 23h0m-61 -15h0m41 14h0m40 22h0m-5 -47h0m-58 25h0m90 -5h0m-97 6h0m97 26h0m-24 -2h0m-13 -21h0m-11 -38h0m0 28h0m40 0h0m-71 10h0m56 -6h0m-32 8h0m-27 -7h0m4 -16h0m16 16h0m34 -7h0m-17 7h0m20 -12h0m-79 9h0m75 9h0m13 -40h0m-50 7h0m66 49h0m-32 -14h0m17 -29h0m21 42h0m-27 5h0m-12 -8h0m-15 -24h0m-4 -24h0m29 -2h0m-88 18h0m65 -25h0m45 60h0m6 1h0m-41 -67h0m25 35h0m-51 3h0m-5 13h0m19 -30h0m23 16h0m9 -18h0m-18 32h0m-46 -6h0m-16 -9h0m54 20h0m8 8h0m-32 -17h0m-20 -22h0m71 -17h0m-22 -7h0m23 41h0m-1 -28h0m-2 7h0m-25 7h0m20 13h0m12 16h0m7 15h0m-56 -25h0m-24 -4h0m49 -2h0m-10 9h0m58 16h0m-70 -64h0m16 37h0m-19 -25h0m11 23h0m-67 10h0m9 6h0m79 3h0m-8 -37h0m-2 13h0m-14 7h0m4 15h0m43 10h0m-65 -25h0m56 -14h0m-47 21h0m62 12h0m-22 -3h0m-49 -45h0m-29 33h0m-17 5h0m32 -12h0m80 3h0m-75 -12h0m90 33h0m-6 17h0m-30 -19h0m3 -16h0m10 -2h0m-29 15h0m12 -5h0m25 12h0m-13 -6h0m-5 -12h0m19 -4h0m-63 -1h0m32 -17h0m-28 25h0m73 20h0m-110 -22h0m11 5h0m80 -9h0m-91 6h0m95 -10h0m-42 -3h0m-8 -23h0m14 3h0m-60 27h0m66 22h0m1 -38h0m5 6h0m-5 10h0m14 -3h0m-17 -19h0m12 36h0m-26 2h0m-63 -19h0m91 9h0m-31 -13h0m-4 14h0m-21 -35h0m56 41h0m-51 -17h0m55 39h0m-72 -51h0m74 -9h0m-30 44h0m14 -27h0m14 41h0m-33 -60h0m19 20h0m3 19h0m35 23h0m-95 -43h0m20 9h0m60 31h0m-14 -63h0m-24 22h0m-1 25h0m20 -28h0m27 22h0m-26 8h0m-11 0h0m17 16h0m6 -40h0m-36 20h0m11 -30h0m-21 -21h0m37 64h0m9 -15h0m-25 -42h0m-70 22h0m57 -13h0m37 -5h0m-4 45h0m-3 -3h0m-30 -10h0m3 -37h0m-9 5h0m-41 24h0m98 21h0m-96 -17h0m4 6h0m107 7h0m-62 -31h0m23 -12h0m-4 56h0m-24 -49h0m36 -7h0m-83 33h0m97 17h0m-37 -63h0m55 70h0m-64 -34h0m52 30h0m-44 -48h0m48 54h0m-7 -4h0m-16 -58h0m-19 24h0m0 -32h0m-45 11h0m29 2h0m8 30h0m15 -13h0m70 -20h0m14 7h0m-31 5h0m13 11h0m6 -22h0m-8 13h0m8 14h0m36 16h0m-45 -32h0m1 2h0m25 19h0m1 -22h0m-7 19h0m5 8h0m9 -18h0m2 27h0m-19 -39h0m6 -2h0m-30 19h0m23 -30h0m2 42h0m-7 -5h0m20 -2h0m-5 1h0m-19 1h0m-5 -6h0m-5 -18h0m-3 -4h0m-3 18h0m5 4h0m20 10h0m-1 -41h0m14 44h0m-22 -26h0m10 8h0m4 -19h0m-6 15h0m7 20h0m-34 -18h0m38 -13h0m-4 4h0m-31 12h0m9 -4h0m32 12h0m-28 -29h0m19 14h0m-6 -21h0m-27 28h0m26 -29h0m-20 26h0m23 -17h0m-30 7h0m31 -8h0m-18 9h0m-3 -12h0m6 24h0m5 -21h0m33 45h0m-15 -10h0m-25 -13h0m-7 -15h0m3 12h0m38 19h0m4 10h0m-29 -14h0m11 1h0m6 -7h0m-27 -13h0m9 7h0m-21 -13h0m9 11h0m6 -14h0m21 2h0m-19 11h0m-17 -5h0m21 19h0m7 -31h0m7 10h0m-23 3h0m-9 6h0m8 7h0m43 20h0m-21 -15h0m0 -38h0m17 48h0m-7 -33h0m16 42h0m-20 -28h0m-2 -26h0m-23 14h0m0 12h0m27 -20h0m-6 5h0m-28 13h0m28 -26h0m3 35h0m-19 -33h0m3 27h0m-6 0h0m32 -3h0m-24 -5h0m22 3h0m-13 -21h0m-38 10h0m25 23h0m25 12h0m5 4h0m-18 -19h0m16 20h0m-5 -25h0m-30 -16h0m42 43h0m-28 -38h0m10 -6h0m5 14h0m-10 -9h0m18 35h0m-18 -47h0m4 33h0m-23 -23h0m26 9h0m-3 -20h0m0 37h0m-1 -41h0m9 29h0m-9 -23h0m-18 14h0m2 -19h0m8 35h0m11 -24h0m1 24h0m8 17h0m-42 -33h0m-1 -13h0m36 29h0m-22 -4h0m20 -19h0m-25 11h0m12 0h0m8 -20h0m-30 12h0m47 14h0m-24 -5h0m-13 6h0m-1 -22h0m13 13h0m-3 -16h0m10 27h0m8 4h0m-12 -2h0m10 -31h0m3 8h0m-38 11h0m11 -14h0m3 24h0m-5 -18h0m9 -17h0m27 33h0m9 25h0m-43 -45h0m-1 3h0m-1 5h0m42 36h0m-38 -47h0m15 3h0m-8 26h0m-2 -32h0m-24 12h0m7 7h0m12 -21h0m11 -5h0m-12 7h0m45 52h0m-54 -39h0m20 22h0m-20 -30h0m42 44h0m-14 -51h0m-17 1h0m-10 0h0m37 45h0m-41 -38h0m36 16h0m9 24h0m7 7h0m-34 -22h0m-14 -10h0m20 -25h0m4 -4h0m-27 21h0m20 18h0m-14 -7h0m9 -10h0m2 -11h0m20 9h0m13 39h0m-4 -6h0m-24 -33h0m3 -14h0m-11 29h0m34 21h0m-23 -29h0m1 -21h0m-24 20h0m-1 4h0m42 26h0m-13 -19h0m-5 -11h0m-3 -6h0m-2 -6h0m21 19h0m-13 -26h0m-14 -2h0m24 33h0m-15 -7h0m11 -15h0m8 35h0m-46 -36h0m37 31h0m-12 -31h0m31 46h0m-27 -47h0m-13 9h0m1 -7h0m-13 5h0m10 0h0m-6 6h0m32 18h0m-10 -28h0m20 35h0m-21 -10h0m-10 -20h0m-3 13h0m8 1h0m-10 -30h0m12 29h0m-17 -9h0m-5 -9h0m25 28h0m-20 -11h0m26 3h0m19 17h0m-41 -33h0m21 1h0m-19 9h0m33 23h0m-8 -15h0m-6 -1h0m-1 1h0m10 -22h0m3 15h0m-23 -9h0m6 -12h0m-25 17h0m14 -23h0m-7 24h0m9 -30h0m21 38h0m-21 -13h0m27 27h0m-26 -29h0m-12 3h0m33 6h0m2 3h0m-29 4h0m29 -2h0m-25 -11h0m10 -2h0m12 12h0m9 -4h0m-21 5h0m1 7h0m1 -19h0m-14 12h0m2 -15h0m34 40h0m-39 -39h0m-5 8h0m27 -25h0m-29 19h0m0 -10h0m44 34h0m-46 -23h0m24 19h0m28 14h0m-12 -22h0m14 25h0m-11 -9h0m-10 -10h0m-37 -16h0m43 9h0m-6 -9h0m-17 13h0m1 -39h0m28 51h0m-24 -30h0m-17 7h0m32 -19h0m15 48h0m-19 -35h0m-11 16h0m-3 -14h0m1 17h0m-8 -19h0m11 16h0m7 -27h0m-2 27h0m-2 -25h0m3 31h0m23 10h0m-15 -18h0m10 23h0m-5 -6h0m0 -23h0m-14 13h0m20 8h0m2 7h0m-15 -32h0m13 29h0m-49 -26h0m22 -10h0m-16 8h0m23 -21h0m-34 17h0m30 5h0m17 24h0m-11 -9h0m17 9h0m-25 -13h0m12 -25h0m-36 11h0m8 4h0m8 5h0m-11 -20h0m12 22h0m12 -33h0m-10 29h0m14 7h0m-29 -24h0m2 13h0m26 11h0m-9 -1h0m-7 -8h0m38 28h0m-25 -20h0m-22 -10h0m-7 -14h0m34 -1h0m-5 -10h0m11 37h0m-34 -21h0m43 38h0m-21 -49h0m1 33h0m-24 -14h0m24 -22h0m-23 28h0m39 20h0m-25 -20h0m8 -31h0m-28 20h0m57 37h0m-48 -27h0m12 8h0m29 14h0m-39 -33h0m-10 8h0m42 20h0m-6 -6h0m-1 -2h0m-4 -6h0m-8 -16h0m26 39h0m-6 -21h0m-25 -4h0m0 1h0m23 6h0m-11 5h0m5 -30h0m-30 16h0m7 -23h0m3 29h0m30 -3h0m-7 8h0m-15 -25h0m-23 -1h0m0 3h0m52 37h0m-53 -29h0m-5 -8h0m35 26h0m-23 -37h0m4 11h0m32 35h0m-38 -38h0m15 5h0m8 5h0m7 13h0m-8 -3h0m-17 -17h0m6 -1h0m-3 2h0m42 37h0m-23 -41h0m6 33h0m-35 -25h0m20 -12h0m-6 -8h0m31 55h0m-30 -50h0m12 -1h0m2 -1h0m-23 22h0m20 14h0m-27 -24h0m52 36h0m-51 -42h0m29 31h0m17 7h0m6 10h0m-36 -29h0m-10 3h0m2 -1h0m17 8h0m-31 -22h0m29 7h0m6 -21h0m-23 10h0m-3 15h0m36 0h0m-19 1h0m-10 -7h0m-9 -12h0m50 42h0m-41 -34h0m22 20h0m11 17h0m4 -17h0m-31 -34h0m9 2h0m15 31h0m10 17h0m-40 -45h0m-6 10h0m39 12h0m-23 4h0m-28 -19h0m6 10h0m16 -9h0m1 18h0m32 21h0m-55 -37h0m20 10h0m23 12h0m-35 -10h0m12 -13h0m7 -9h0m16 8h0m-8 12h0m-8 -32h0m12 5h0m16 48h0m-35 -44h0m23 43h0m-29 -22h0m38 3h0m-46 -17h0m45 39h0m-20 -19h0m-10 -28h0m7 26h0m-4 -5h0m12 -26h0m-24 3h0m-9 14h0m20 19h0m-7 -13h0m5 -5h0m11 17h0m15 -2h0m-4 -11h0m-15 13h0m10 -18h0m-34 -9h0m34 6h0m2 -1h0m-24 6h0m21 21h0m-4 -2h0m-26 -14h0m18 10h0m-15 -24h0m16 -1h0m-11 9h0m21 -12h0m-21 22h0m28 22h0m-21 -20h0m-11 -4h0m26 12h0m7 -29h0m-10 16h0m-12 7h0m-3 -10h0m17 13h0m-8 -1h0m3 -12h0m2 13h0m-18 -13h0m21 17h0m6 2h0m-13 -5h0m24 15h0m-34 -19h0m14 -25h0m28 49h0m-25 -49h0m2 -5h0m9 47h0m2 -24h0m-40 0h0m6 -12h0m11 -15h0m4 36h0m-21 -2h0m-2 -20h0m37 36h0m-26 -19h0m13 2h0m-12 -29h0m-5 22h0m3 1h0m8 -6h0m-14 3h0m39 13h0m-14 -27h0m7 3h0m-25 8h0m14 5h0m8 5h0m-35 -4h0m57 25h0m-36 -39h0m29 45h0m-21 -47h0m-14 24h0m26 -8h0m7 25h0m-46 -34h0m18 5h0m-24 -5h0m16 -2h0m-7 -2h0m18 8h0m-1 3h0m-21 -12h0m36 -1h0m-28 19h0m11 -31h0m0 8h0m92 160h0m15 12h0m35 -1h0m-18 -1h0m-16 6h0m36 -21h0m-8 12h0m6 -16h0m-1 4h0m-28 9h0m28 -15h0m-12 0h0m12 1h0m12 30h0m-9 15h0m-39 -21h0m54 4h0m-17 -28h0m-31 10h0m-12 4h0m47 23h0m7 -15h0m0 -1h0m-39 3h0m29 -15h0m7 19h0m-55 -19h0m38 -9h0m8 19h0m-49 -9h0m50 12h0m-30 -10h0m16 -1h0m2 -1h0m22 19h0m-23 -28h0m-6 7h0m-35 -4h0m5 15h0m24 -9h0m-17 19h0m19 -8h0m15 -13h0m1 21h0m10 -28h0m-17 21h0m8 -18h0m-31 30h0m48 -13h0m-54 15h0m13 -23h0m-10 19h0m24 -20h0m-2 -3h0m-16 18h0m31 1h0m-14 -13h0m-15 5h0m1 -6h0m8 -2h0m4 4h0m-22 11h0m52 -5h0m-48 3h0m12 -13h0m36 16h0m-60 -21h0m27 14h0m-21 16h0m44 3h0m-25 -28h0m-7 9h0m5 -4h0m22 -12h0m11 29h0m-55 -9h0m36 -6h0m-1 -21h0m-30 24h0m12 -7h0m-13 11h0m21 -17h0m-18 6h0m-1 18h0m38 -24h0m-14 11h0m15 -16h0m5 4h0m-2 28h0m-26 -22h0m-4 -3h0m28 28h0m-33 -10h0m7 -15h0m-3 5h0m-10 10h0m-3 -6h0m44 -24h0m-7 8h0m-5 -6h0m9 31h0m-24 -14h0m-18 5h0m38 -15h0m-6 12h0m-35 -2h0m57 13h0m-39 -14h0m21 -10h0m24 19h0m-27 -20h0m7 15h0m-15 -2h0m-21 3h0m-7 1h0m58 4h0m-35 -16h0m10 9h0m4 3h0m-42 -21h0m3 2h0m9 18h0m23 -4h0m-33 -3h0m13 7h0m48 7h0m-26 -17h0m-33 4h0m12 6h0m1 8h0m25 -16h0m-21 1h0m34 18h0m-6 -26h0m-23 10h0m-8 10h0m9 -12h0m21 -4h0m-17 5h0m-27 5h0m5 -9h0m-3 3h0m57 22h0m-65 -33h0m40 22h0m-3 -13h0m5 3h0m-6 -3h0m26 18h0m-8 7h0m-2 -38h0m-44 16h0m36 -1h0m1 -7h0m-38 10h0m29 -4h0m-27 8h0m6 -8h0m28 -5h0m1 -1h0m-10 13h0m15 -12h0m17 21h0m-34 -6h0m10 -7h0m26 6h0m-18 -13h0m21 17h0m-21 -23h0m1 9h0m-36 27h0m23 -18h0m27 3h0m-49 1h0m-6 -10h0m27 1h0m6 2h0m-33 -8h0m41 -1h0m-17 8h0m24 -11h0m3 32h0m-3 -22h0m-26 -7h0m-26 0h0m58 13h0m-10 -22h0m-45 33h0m0 -25h0m42 25h0m3 -30h0m17 19h0m-40 -8h0m8 0h0m-25 21h0m29 -34h0m-19 14h0m16 8h0m2 -6h0m-34 4h0m17 0h0m38 4h0m-17 -15h0m-8 8h0m6 -19h0m24 25h0m-19 -24h0m-22 15h0m23 -5h0m5 -9h0m-23 14h0m-19 -5h0m9 10h0m29 -16h0m-10 15h0m-32 16h0m32 -16h0m3 -6h0m11 -11h0m-16 4h0m25 22h0m-47 -3h0m13 -13h0m20 21h0m-12 -11h0m-26 -10h0m35 2h0m10 3h0m-45 11h0m54 -20h0m-21 -8h0m1 10h0m18 -8h0m-30 20h0m13 -3h0m-20 -7h0m-18 -8h0m6 24h0m48 6h0m-53 -20h0m33 -4h0m22 11h0m-34 -12h0m17 0h0m-19 1h0m15 -11h0m-14 11h0m9 6h0m12 -13h0m8 15h0m-45 11h0m38 7h0m-2 -33h0m-29 20h0m32 -11h0m-48 -5h0m58 20h0m0 -3h0m-11 -18h0m-3 0h0m-5 10h0m7 14h0m-18 -9h0m-8 -13h0m25 24h0m-8 -9h0m-22 -3h0m13 -9h0m13 -4h0m0 2h0m7 27h0m-1 -33h0m-37 30h0m34 -20h0m-12 5h0m21 -13h0m-35 16h0m-1 0h0m-1 -5h0m-7 9h0m10 -11h0m19 -2h0m12 23h0m-17 -26h0m11 4h0m-27 15h0m23 -7h0m-31 6h0m32 -13h0m11 5h0m-44 -11h0m27 -10h0m27 23h0m-26 -6h0m-2 -6h0m27 22h0m-50 4h0m28 -13h0m-19 -5h0m27 -16h0m-22 8h0m-14 19h0m46 -10h0m-12 -22h0m7 5h0m-6 14h0m-1 15h0m18 -11h0m-47 6h0m24 -5h0m-1 -16h0m2 -1h0m-12 10h0m8 8h0m23 11h0m-36 -21h0m9 1h0m-17 14h0m42 -21h0m-3 37h0m-3 -40h0m1 0h0m-32 18h0m17 -11h0m3 0h0m7 7h0m-6 -5h0m13 28h0m5 -5h0m-18 -23h0m5 -13h0m-11 0h0m11 38h0m-39 -5h0m-8 -17h0m45 -6h0m-22 8h0m20 -9h0m-18 5h0m-17 12h0m22 -3h0m33 8h0m-57 -10h0m54 4h0m-14 -12h0m-36 10h0m-2 -11h0m44 7h0m-47 2h0m47 20h0m9 -5h0m1 -10h0m-65 -17h0m21 13h0m-13 -6h0m48 25h0m-57 -35h0m42 2h0m-5 1h0m-3 10h0m16 -2h0m3 -11h0m-41 23h0m-8 -20h0m4 5h0m3 3h0m-4 -6h0m7 11h0m-5 3h0m45 -24h0m-41 12h0m29 -15h0m-28 17h0m50 13h0m-26 -23h0m5 17h0m-1 -22h0m2 3h0m3 1h0m-33 33h0m37 -33h0m-24 16h0m-6 4h0m23 -20h0m-32 27h0m34 -7h0m-13 -3h0m18 1h0m-30 8h0m27 -5h0m21 3h0m-10 -8h0m-48 3h0m31 -16h0m-2 9h0m27 11h0m-9 -16h0m-17 11h0m11 -22h0m-32 30h0m33 -26h0m2 21h0m-15 5h0m-15 -14h0m28 -11h0m-10 20h0m-23 1h0m27 -19h0m-45 -3h0m12 29h0m48 -6h0m-3 19h0m4 -14h0m-12 -28h0m2 22h0m-4 -16h0m-14 -7h0m-17 22h0m-19 -18h0m28 6h0m34 7h0m-8 -13h0m-35 16h0m8 -7h0m35 3h0m-26 -8h0m-17 26h0m21 -12h0m-35 -10h0m20 1h0m26 -6h0m-9 13h0m7 -20h0m1 4h0m-9 17h0m0 -13h0m10 -11h0m5 7h0m-40 27h0m22 -26h0m-19 17h0m-1 7h0m49 0h0m-61 -24h0m44 -1h0m-1 0h0m-7 -6h0m-32 32h0m40 -22h0m-15 4h0m14 1h0m20 15h0m-1 -2h0m-11 -24h0m-15 -8h0m-12 15h0m22 -7h0m-1 30h0m1 -20h0m-8 -3h0m-14 10h0m-13 7h0m22 -30h0m-31 25h0m19 -3h0m34 24h0m-41 -20h0m-3 13h0m2 -9h0m45 3h0m2 6h0m-61 -26h0m21 13h0m4 -6h0m1 -5h0m28 5h0m-56 -14h0m50 17h0m-37 8h0m46 -1h0m-46 1h0m15 -11h0m-19 0h0m33 3h0m18 -16h0m-60 -1h0m54 -4h0m9 24h0m-57 -4h0m11 -1h0m-8 16h0m25 -22h0m-13 0h0m-17 6h0m60 6h0m-18 -22h0m0 -3h0m-33 24h0m21 -17h0m-1 4h0m-14 16h0m2 -2h0m11 -10h0m20 -6h0m6 2h0m-8 -8h0m-14 11h0m-8 9h0m2 -4h0m24 -18h0m-14 12h0m8 5h0m3 -17h0m-43 15h0m46 -10h0m-35 17h0m0 -6h0m-21 -10h0m12 16h0m-4 -16h0" stroke="#88b61c" stroke-width="2.3" stroke-linecap="round" fill="none" stroke-opacity="0.9"/>
<path d="M2582 2086h0m25 1h0m-2 -18h0m23 -21h0m-47 18h0m73 -3h0m-17 18h0m-16 -18h0m-34 -9h0m32 20h0m-4 -21h0m-5 14h0m-23 10h0m13 -16h0m38 28h0m-45 -17h0m-9 12h0m44 -27h0m-14 2h0m2 -1h0m22 -10h0m-15 -4h0m-27 26h0m-2 -16h0m50 30h0m-44 -12h0m49 -1h0m-32 -28h0m16 29h0m-21 -10h0m8 -21h0m26 29h0m-50 6h0m50 14h0m-26 -1h0m-18 -25h0m44 6h0m-47 22h0m21 -49h0m-37 37h0m14 7h0m1 -25h0m22 0h0m29 8h0m-69 0h0m63 10h0m-31 -15h0m6 17h0m31 -16h0m-34 4h0m19 -12h0m-42 14h0m56 11h0m-50 -5h0m35 -24h0m-33 21h0m-4 -15h0m-7 23h0m36 -33h0m-19 48h0m21 -41h0m-15 35h0m-17 -39h0m12 6h0m42 16h0m-26 12h0m25 -12h0m-64 -2h0m41 -2h0m-40 4h0m58 -28h0m10 18h0m-18 8h0m-23 -2h0m-1 -7h0m37 -12h0m-22 -10h0m-34 12h0m43 5h0m16 -1h0m-9 22h0m-60 1h0m59 7h0m-23 -41h0m-21 37h0m13 -13h0m39 -2h0m-45 -8h0m21 -1h0m28 -4h0m-27 -5h0m0 3h0m1 40h0m6 -20h0m-33 2h0m16 -8h0m-4 -6h0m17 -22h0m16 45h0m-37 2h0m-10 4h0m15 -45h0m-15 9h0m-14 26h0m43 6h0m11 -17h0m-38 9h0m-5 -13h0m47 -20h0m16 16h0m-53 8h0m28 -8h0m-54 18h0m49 13h0m22 -25h0m-1 -7h0m-24 -15h0m-48 28h0m6 -3h0m55 -21h0m-39 20h0m23 -25h0m6 -3h0m-48 29h0m69 -2h0m-24 -10h0m-17 14h0m-4 -13h0m-21 14h0m38 -14h0m9 6h0m-43 13h0m59 8h0m-25 5h0m0 -8h0m15 -37h0m-16 35h0m26 -12h0m-43 -12h0m46 26h0m-11 -7h0m-34 11h0m13 -21h0m-18 5h0m-14 0h0m18 -8h0m8 -11h0m38 7h0m-60 7h0m16 7h0m11 3h0m-20 5h0m38 11h0m-7 -48h0m3 2h0m-37 3h0m16 34h0m-21 -17h0m30 28h0m8 1h0m-13 -55h0m-29 42h0m8 2h0m-7 2h0m50 -24h0m-36 -1h0m23 0h0m22 24h0m-8 -22h0m-29 21h0m39 -13h0m2 -14h0m-36 -4h0m28 13h0m-8 -20h0m-25 14h0m40 21h0m-29 -36h0m20 7h0m-22 -4h0m-19 23h0m26 -24h0m-17 35h0m18 -25h0m0 7h0m2 -14h0m6 33h0m8 -16h0m-9 -19h0m-9 38h0m-26 -14h0m29 14h0m-4 -22h0m-24 -3h0m36 -19h0m23 18h0m-30 21h0m-17 1h0m-26 -23h0m5 29h0m-5 -12h0m45 -18h0m-3 -1h0m-9 -12h0m8 3h0m15 33h0m-54 -9h0m66 -15h0m-51 8h0m-4 17h0m61 -8h0m-41 -18h0m2 35h0m-21 -41h0m23 32h0m-1 0h0m-2 3h0m24 -39h0m-31 36h0m14 7h0m30 -13h0m-11 -9h0m-38 2h0m34 20h0m-18 -46h0m20 31h0m10 -3h0m-72 9h0m31 1h0m-31 -3h0m74 -20h0m-9 6h0m10 -9h0m-44 0h0m7 30h0m34 -10h0m-67 10h0m17 -1h0m-6 -7h0m22 11h0m-13 -18h0m36 -22h0m11 14h0m-34 -17h0m5 39h0m34 -31h0m-79 26h0m26 -10h0m27 -29h0m6 38h0m-21 -36h0m1 4h0m18 0h0m-24 14h0m40 8h0m-15 -6h0m10 4h0m-1 2h0m-62 11h0m67 9h0m-5 -3h0m-27 -17h0m0 -24h0m-1 42h0m6 -9h0m0 -12h0m-8 16h0m39 -18h0m-52 11h0m39 -28h0m-42 13h0m48 -11h0m-5 0h0m-22 12h0m16 0h0m15 6h0m2 -15h0m-45 3h0m18 35h0m21 -22h0m3 -4h0m2 -3h0m-41 21h0m-4 -20h0m5 -18h0m-31 20h0m66 -2h0m-26 22h0m-17 4h0m6 0h0m-11 -37h0m21 16h0m3 18h0m18 6h0m-2 -32h0m-21 -11h0m-2 0h0m-6 10h0m16 -10h0m-20 21h0m2 -13h0m27 36h0m10 -48h0m-28 15h0m-10 16h0m14 -25h0m-29 35h0m52 -11h0m-52 -20h0m-9 21h0m70 -18h0m-18 20h0m22 -8h0m-43 -18h0m-1 36h0m43 -13h0m-7 -25h0m-26 -4h0m12 31h0m-24 -17h0m-29 16h0m44 -27h0m-13 13h0m-21 -7h0m3 18h0m23 23h0m10 -12h0m30 -8h0m-2 -10h0m-54 18h0m9 -5h0m-7 13h0m20 -3h0m-20 -16h0m7 -4h0m34 14h0m-22 -36h0m28 19h0m-5 5h0m-16 9h0m3 -30h0m14 38h0m-56 -36h0m-6 31h0m55 -11h0m-55 3h0m37 10h0m-12 4h0m-5 -21h0m31 -13h0m-7 -5h0m23 16h0m-18 -21h0m-17 18h0m-13 -13h0m11 41h0m33 -21h0m-7 -21h0m-2 8h0m5 20h0m6 -13h0m-47 12h0m5 15h0m21 -48h0m-22 44h0m21 6h0m-21 -28h0m40 4h0m-55 12h0m56 -13h0m6 10h0m-21 -21h0m-48 17h0m7 -22h0m44 -3h0m-14 11h0m1 -13h0m0 32h0m-2 -16h0m-21 10h0m13 15h0m45 -28h0m-5 13h0m-65 2h0m25 2h0m22 -27h0m-1 -4h0m21 16h0m-1 7h0m-48 7h0m-11 -6h0m21 18h0m37 -30h0m-44 31h0m31 -38h0m-36 19h0m41 14h0m-45 -31h0m35 0h0m-50 34h0m49 -38h0m2 4h0m11 -5h0m-29 -1h0m5 49h0m-2 -10h0m-18 -38h0m47 26h0m-23 -8h0m8 19h0m-4 -39h0m10 25h0m-21 13h0m6 -20h0m-11 16h0m26 -36h0m-55 42h0m6 -14h0m38 -29h0m-2 43h0m24 -12h0m-19 -25h0m24 25h0m-3 -18h0m-49 22h0m-5 -23h0m24 40h0m-42 -18h0m14 -9h0m28 -20h0m24 6h0m-47 5h0m23 -8h0m-11 17h0m24 3h0m-37 -6h0m-1 -14h0m11 7h0m-25 21h0m24 -22h0m-25 24h0m18 -36h0m1 16h0m35 -5h0m-37 13h0m0 -2h0m12 -16h0m13 2h0m14 7h0m-40 21h0m23 11h0m3 -47h0m-14 10h0m7 5h0m-14 25h0m-17 -9h0m3 8h0m53 -35h0m5 25h0m-24 18h0m-7 -41h0m12 16h0m-27 -3h0m-11 24h0m15 -7h0m-17 -12h0m45 14h0m-19 8h0m28 -19h0m-36 20h0m13 -48h0m-28 37h0m8 -1h0m-15 -22h0m48 -3h0m-40 17h0m-3 5h0m41 -38h0m25 26h0m-36 0h0m-8 28h0m40 -19h0m-36 9h0m-12 -8h0m-5 -18h0m-15 7h0m35 27h0m-19 -45h0m24 -5h0m-35 47h0m64 -20h0m-78 4h0m74 -16h0m-59 21h0m40 -35h0m-16 47h0m-15 -8h0m40 -34h0m-38 4h0m9 34h0m27 4h0m-43 -20h0m-9 13h0m69 -18h0m-11 9h0m-50 4h0m44 -3h0m-26 -19h0m-2 36h0m12 -3h0m-2 -37h0m-27 5h0m53 -3h0m-22 8h0m-14 8h0m37 0h0m-36 -4h0m17 -11h0m-19 28h0m33 -5h0m-24 -13h0m-20 -6h0m18 6h0m14 -8h0m-4 -3h0m7 42h0m-11 -35h0m-5 -16h0m30 29h0m-3 -25h0m-28 16h0m4 29h0m6 -5h0m0 -27h0m-21 12h0m26 -25h0m23 23h0m-41 -17h0m27 21h0m4 -9h0m5 -2h0m-59 13h0m16 -23h0m-19 21h0m49 -28h0m-34 20h0m-1 22h0m19 -47h0m9 14h0m-23 8h0m11 -3h0m23 13h0m-19 6h0m6 -31h0m-31 7h0m1 -2h0m42 0h0m-39 -1h0m23 15h0m1 28h0m22 -8h0m-35 -28h0m-13 20h0m59 -10h0m-43 -2h0m18 3h0m-18 -2h0m-26 2h0m10 -12h0m-11 -4h0m15 29h0m12 -3h0m-23 6h0m-1 -9h0m6 -2h0m63 1h0m-50 -1h0m27 -33h0m-37 51h0m41 -34h0m-28 1h0m25 14h0m-11 -17h0m8 36h0m1 1h0m-8 -36h0m22 13h0m-68 1h0m53 -17h0m-29 23h0m21 -14h0m21 8h0m-12 1h0m-34 5h0m23 -16h0m-14 0h0m8 -15h0m17 10h0m-12 4h0m35 10h0m-46 -14h0m11 40h0m-15 -18h0m41 -16h0m10 -4h0m-67 27h0m68 -12h0m-9 -2h0m-28 -21h0m-18 6h0m14 -3h0m16 8h0m-22 -10h0m26 -10h0m-23 41h0m46 -8h0m-51 0h0m10 8h0m-6 -12h0m22 5h0m-19 -29h0m-9 19h0m29 23h0m-29 -2h0m18 6h0m3 4h0m-10 -47h0m-34 29h0m48 -33h0m12 2h0m5 24h0m-35 -17h0m21 2h0m10 -1h0m-19 29h0m-7 -35h0m35 13h0m-54 15h0m-8 3h0m62 -16h0m-57 -13h0m-5 0h0m38 5h0m13 8h0m-40 9h0m18 8h0m22 -10h0m-54 -21h0m2 8h0m24 19h0m-4 -13h0m-5 23h0m37 -21h0m-27 7h0m-4 -31h0m38 16h0m-14 -12h0m3 27h0m-16 -26h0m6 23h0m-8 -30h0m-4 6h0m-34 29h0m47 -34h0m-19 2h0m-1 24h0m12 22h0m-15 -21h0m16 -10h0m28 0h0m-52 -9h0m50 5h0m-50 31h0m4 5h0m12 -44h0m3 25h0m-27 3h0m28 -17h0m21 29h0m-10 -25h0m17 8h0m-29 -7h0m-13 -5h0m30 -16h0m-26 38h0m27 -28h0m-13 30h0m-10 5h0m9 -27h0m10 15h0m3 18h0m15 -33h0m3 17h0m-28 -33h0m-15 16h0m-11 -10h0m49 33h0m-69 -1h0m25 -22h0m49 16h0m2 -9h0m-36 -7h0m-21 -4h0m9 7h0m27 31h0m-15 -33h0m-2 12h0m-1 -4h0m-19 15h0m21 4h0m-20 -38h0m22 24h0m-30 -16h0m1 14h0m35 -15h0m-10 23h0m-24 -27h0m18 12h0m-27 19h0m37 -8h0m-34 -13h0m24 16h0m25 6h0m-5 -27h0m-15 15h0m30 10h0m-4 -12h0m-17 -11h0m26 1h0m-1 1h0m7 4h0m-8 14h0m-39 -12h0m22 -16h0m-45 7h0m0 20h0m36 2h0m-23 9h0m6 -30h0m36 6h0m-2 -14h0m-14 4h0m9 1h0m-7 -15h0m28 23h0m-72 10h0m7 -6h0m31 25h0m21 -43h0m-61 29h0m45 -25h0m-38 23h0m46 -7h0m2 2h0m-36 0h0m15 7h0m34 -14h0m-42 -13h0m8 34h0m28 -31h0m14 17h0m-41 -12h0m3 -16h0m1 15h0m-38 23h0m7 -6h0m14 10h0m20 -27h0m-28 16h0m54 -7h0m-36 -13h0m-16 16h0m11 7h0m15 -28h0m22 26h0m-59 -18h0m61 29h0m10 -32h0m-31 31h0m29 -14h0m-44 -2h0m-1 8h0m2 2h0m6 10h0m13 -23h0m21 10h0m5 -19h0m-16 -8h0m-28 9h0m-18 17h0m11 1h0m25 -35h0m13 22h0m-35 16h0m-13 -26h0m53 21h0m-1 -18h0m-38 -17h0m-25 43h0m33 -35h0m-24 -3h0m3 15h0m16 -15h0m-2 39h0m8 -11h0m-5 -4h0m31 -20h0m-44 20h0m56 4h0m-15 4h0m-20 14h0m9 -37h0m24 18h0m-39 -15h0m6 0h0m-25 0h0m1 18h0m2 -17h0m-14 17h0m12 -5h0m36 -19h0m-24 9h0m2 -4h0m23 0h0m-15 4h0m25 24h0m-20 -36h0m-1 -4h0m-2 43h0m4 -43h0m22 21h0m10 -4h0m-36 35h0m16 -48h0m4 30h0m-30 -36h0m15 4h0m4 -3h0m-33 1h0m-11 20h0m48 -11h0m-18 -7h0m-24 9h0m42 2h0m-3 -6h0m-6 2h0m0 5h0m-7 17h0m-1 10h0m-5 -7h0m-22 -9h0m45 -16h0m-4 -9h0m13 24h0m-35 -13h0m-7 16h0m-21 11h0m55 -9h0m-53 9h0m40 0h0m9 -8h0m-2 -23h0m-42 0h0m10 -3h0m-5 29h0m57 -2h0m-45 -1h0m-11 -23h0m56 19h0m-37 4h0m-17 -6h0m-12 15h0m64 -8h0m-45 -17h0m-6 -7h0m13 -9h0m5 11h0m12 7h0m-15 -8h0m6 39h0m21 -20h0m11 -12h0m-65 18h0m65 -14h0m-20 -19h0m3 49h0m6 -19h0m-38 -23h0m48 25h0m-71 -8h0m57 -24h0m-16 37h0m-11 4h0m1 1h0m36 -37h0m-57 21h0m28 -28h0m1 25h0m15 17h0m-19 -27h0m-30 -3h0m60 8h0m-49 -8h0m58 6h0m-36 12h0m27 -23h0m-37 34h0m9 10h0m-19 -45h0m23 40h0m-8 -4h0m19 -36h0m12 38h0m-24 -9h0m2 -31h0m-16 38h0m-5 -2h0m-2 -7h0m49 -4h0m-60 20h0m22 -29h0m2 -1h0m4 20h0m-7 -38h0m26 49h0m-43 -25h0m45 -22h0m1 45h0m-8 -7h0m-37 -8h0m18 -25h0m-20 33h0m29 7h0m-1 1h0m-6 -50h0m4 45h0m30 -40h0m9 23h0m-34 15h0m-10 -28h0m15 37h0m-25 -42h0m18 -10h0m23 28h0m-58 19h0m32 0h0m29 -33h0m2 30h0m-28 10h0m-5 -23h0m41 -5h0m1 -1h0m-44 -18h0m9 9h0m3 10h0m-17 13h0m15 -15h0m-3 5h0m-5 -7h0m2 20h0m-32 -4h0m7 -29h0m8 4h0m17 34h0m-37 -6h0m30 -21h0m7 30h0m-10 -32h0m-30 13h0m77 -6h0m-41 23h0m-13 -37h0m-15 26h0m59 7h0m-53 -4h0m56 6h0m-6 -7h0m-40 -15h0m-5 7h0m49 -21h0m-25 27h0m-5 -32h0m-19 27h0m-20 6h0m20 -28h0m24 28h0m-10 -23h0m-2 1h0m37 11h0m-27 -2h0m-9 13h0m16 9h0m-20 -16h0m49 10h0m-64 -13h0m25 19h0m27 -22h0m-40 -7h0m26 -8h0m28 26h0m-451 -80h0m7 -3h0m-6 5h0m-3 -6h0m18 -22h0m-19 46h0m13 -31h0m6 -25h0m-7 27h0m-12 4h0m3 20h0m4 -4h0m-9 6h0m7 -19h0m-2 -25h0m5 33h0m-1 -29h0m-7 39h0m15 -44h0m-12 38h0m5 -6h0m2 -37h0m-5 28h0m10 -29h0m9 0h0m-19 37h0m1 1h0m9 -22h0m-21 42h0m4 -9h0m23 -49h0m-6 15h0m0 -8h0m-6 -5h0m9 14h0m-20 37h0m28 -58h0m-8 13h0m-22 43h0m17 -23h0m-21 32h0m20 -43h0m-6 -12h0m18 -8h0m-13 41h0m-4 -1h0m4 -14h0m6 -4h0m-29 40h0m35 -62h0m0 13h0m-18 32h0m2 -31h0m15 -12h0m-21 36h0m-4 16h0m9 -19h0m-9 11h0m16 -19h0m-11 18h0m8 -15h0m2 -5h0m-10 23h0m5 -17h0m0 7h0m-5 8h0m-13 16h0m3 1h0m22 -62h0m-2 13h0m12 -18h0m-32 67h0m22 -63h0m8 3h0m-23 34h0m15 -28h0m-12 41h0m-14 14h0m14 -23h0m6 4h0m18 -43h0m-21 26h0m12 -15h0m-13 26h0m-5 -13h0m13 -22h0m-12 52h0m-8 -9h0m20 -15h0m-6 -29h0m-12 55h0m21 -32h0m-7 16h0m-13 15h0m3 -7h0m18 -42h0m-23 44h0m14 -21h0m5 -5h0m-24 44h0m19 -37h0m-5 10h0m11 -37h0m-15 43h0m6 -2h0m0 -9h0m-9 11h0m22 -21h0m0 -20h0m-3 19h0m-15 6h0m0 14h0m-1 -24h0m-1 9h0m12 4h0m-11 -12h0m2 20h0m10 -27h0m-17 38h0m31 -56h0m-14 26h0m9 -19h0m0 5h0m6 -4h0m0 -2h0m-26 43h0m-8 12h0m10 -22h0m7 -7h0m5 -26h0m-2 19h0m-8 21h0m6 -7h0m-4 -29h0m2 22h0m-8 22h0m14 -41h0m-13 31h0m-2 -8h0m11 0h0m-9 -1h0m11 -6h0m3 -1h0m5 -32h0m-17 50h0m8 -21h0m-3 9h0m14 -21h0m-22 16h0m-3 23h0m9 -31h0m-12 25h0m2 16h0m14 -34h0m1 3h0m-6 11h0m-3 -6h0m-6 19h0m-2 5h0m13 -27h0m-5 20h0m7 -30h0m-4 18h0m9 -42h0m-2 35h0m2 -32h0m3 24h0m-6 3h0m6 -20h0m-7 19h0m15 -26h0m-8 1h0m0 -5h0m-8 35h0m-7 21h0m7 -22h0m-4 -21h0m-4 22h0m-1 17h0m-9 13h0m15 -25h0m-8 11h0m10 -18h0m2 -25h0m-1 4h0m5 22h0m6 -25h0m-15 28h0m-11 24h0m10 -24h0m8 4h0m4 -13h0m-8 -14h0m-6 30h0m13 -27h0m-1 -5h0m-5 21h0m2 -15h0m-9 30h0m-3 -7h0m16 -22h0m-20 45h0m1 -1h0m4 -10h0m6 -3h0m-12 2h0m28 -50h0m-33 61h0m34 -64h0m-20 43h0m-6 14h0m11 -20h0m-3 10h0m-7 12h0m20 -50h0m-22 54h0m24 -59h0m-11 36h0m-2 -20h0m-12 29h0m23 -47h0m2 10h0m-6 2h0m-6 27h0m3 -2h0m-18 25h0m21 -41h0m15 -27h0m-4 5h0m-26 54h0m-2 3h0m13 -20h0m-14 17h0m5 -16h0m-3 16h0m2 2h0m6 -20h0m0 2h0m4 7h0m3 -15h0m-23 36h0m35 -59h0m-24 36h0m5 4h0m-16 21h0m23 -35h0m-19 27h0m24 -36h0m-12 20h0m-1 -8h0m-3 1h0m23 -34h0m-21 48h0m1 -4h0m12 -23h0m-17 32h0m-2 -5h0m2 -17h0m10 -20h0m11 -2h0m-10 26h0m-1 6h0m-1 -30h0m8 4h0m-15 20h0m10 -29h0m-18 59h0m0 -16h0m16 -39h0m-6 8h0m22 -18h0m-19 16h0m-12 39h0m29 -48h0m-11 6h0m3 6h0m-13 15h0m-10 11h0m3 -15h0m-3 28h0m23 -41h0m-13 34h0m-4 0h0m1 -2h0m27 -53h0m-18 36h0m-10 20h0m1 -7h0m20 -40h0m-9 26h0m-24 36h0m28 -70h0m-3 22h0m-6 21h0m-14 23h0m26 -56h0m-7 33h0m-11 0h0m17 -31h0m-11 8h0m18 -16h0m-27 55h0m27 -60h0m-5 12h0m-8 31h0m-11 4h0m6 -33h0m6 17h0m7 -20h0m-8 18h0m-23 39h0m35 -55h0m-27 49h0m3 -9h0m9 -19h0m9 -22h0m-2 28h0m-9 8h0m-7 5h0m-10 8h0m10 -11h0m12 -22h0m2 6h0m-7 -25h0m-12 54h0m22 -62h0m-4 38h0m5 -31h0m-4 28h0m0 -24h0m411 230h0m6 9h0m-4 -3h0m5 5h0m-13 -16h0m8 9h0m0 1h0m-3 -6h0m0 1h0m6 8h0m-5 -4h0m1 0h0m6 7h0m-4 -5h0m-2 -1h0m-9 -12h0m14 17h0m-12 -17h0m1 -1h0m2 6h0m9 13h0m0 1h0m-7 -11h0m9 9h0m-10 -12h0m6 7h0m-8 -11h0m-1 -1h0m12 18h0m-4 -4h0m-6 -8h0m1 -3h0m-6 -4h0m12 17h0m-3 -8h0m7 7h0m-16 -17h0m5 9h0m6 6h0m2 -2h0m-5 -2h0m-5 -6h0m7 10h0m-1 -5h0m2 3h0m-6 -5h0m3 3h0m5 5h0m3 1h0m-11 -13h0" stroke="#e9574d" stroke-width="2.2" stroke-linecap="round" fill="none" stroke-opacity="0.9"/>
<path d="M2590 2131h0m16 15h0m-5 0h0m-4 -11h0m25 9h0m-25 -6h0m8 8h0m-8 -12h0m12 13h0m-11 -7h0m6 9h0m-4 -4h0m-5 -11h0m23 12h0m-23 -6h0m-1 -8h0m-1 1h0m15 15h0m2 -4h0m15 0h0m-23 2h0m27 -1h0m-15 2h0m-21 -11h0m37 9h0m-25 -2h0m26 0h0m-19 3h0m-18 -20h0m32 17h0m-10 3h0m-21 -9h0m34 10h0m7 -2h0m-29 1h0m21 1h0m-6 -3h0m-31 -12h0m5 1h0m40 12h0m-32 0h0m24 3h0m-33 -12h0m2 4h0m-3 -2h0m20 6h0m-15 -2h0m-6 -5h0m-3 -2h0m34 12h0m-27 -9h0m33 8h0m5 0h0m-23 -3h0m13 4h0m-17 -4h0m3 1h0m-8 1h0m14 2h0m-12 -2h0m15 0h0m0 2h0m6 -6h0m-18 7h0m8 -5h0m-22 -2h0m42 5h0m-45 -17h0m2 11h0m31 2h0m1 2h0m-21 3h0m0 -5h0m0 4h0m17 -2h0m-27 -13h0m16 16h0m-12 -4h0m-2 -15h0m12 19h0m-14 -10h0m37 10h0m-35 -8h0m15 11h0m-8 -7h0m27 8h0m-26 -12h0m-8 -7h0m-3 2h0m32 9h0m-30 -2h0m31 3h0m3 4h0m0 -4h0m-16 1h0m24 1h0m-28 0h0m-8 -5h0m11 1h0m-8 6h0m30 -5h0m-22 6h0m2 -3h0m17 1h0m-38 -16h0m21 16h0m-6 1h0m-3 -4h0m6 2h0m18 2h0" stroke="#e23a9d" stroke-width="2.3" stroke-linecap="round" fill="none" stroke-opacity="0.9"/>
<path d="M2365 2303h0m-1 -1h0m1 1h0m-5 -8h0m-1 1h0m-1 -1h0m7 8h0m-14 -10h0m-2 2h0m9 0h0m-3 0h0m1 1h0m-5 -2h0m2 1h0m8 1h0m0 2h0m2 1h0m1 4h0m1 -2h0m0 4h0m-1 -10h0m-11 -1h0m8 5h0m0 -1h0m1 -1h0m-11 -5h0m7 3h0m3 0h0m3 8h0m3 0h0m-17 -8h0m9 2h0m5 0h0m-5 -1h0m2 1h0m-1 -2h0m3 6h0m-5 -7h0m-5 2h0m7 -1h0m3 7h0m-6 -4h0m-5 -4h0m12 8h0m0 -5h0m-5 1h0m2 -1h0m3 3h0m-13 -5h0m9 5h0" stroke="#dba40c" stroke-width="2.6" stroke-linecap="round" fill="none" stroke-opacity="1"/>
<path d="M2153 1763L2153 2345.4" stroke="#444" stroke-width="1.9" fill="none" />
<path d="M2152 2344.4L2707 2344.4" stroke="#444" stroke-width="1.9" fill="none" />
<path d="M2147 1788.6L2147 1793.6" stroke="#555" stroke-width="1.4" fill="none" />
<text font-size="62" x="2139" y="1810.6" text-anchor="end">40</text>
<path d="M2147 1924.4L2147 1929.4" stroke="#555" stroke-width="1.4" fill="none" />
<text font-size="62" x="2139" y="1946.4" text-anchor="end">20</text>
<path d="M2147 2060.2L2147 2065.2" stroke="#555" stroke-width="1.4" fill="none" />
<text font-size="62" x="2139" y="2082.2" text-anchor="end">0</text>
<path d="M2147 2196L2147 2201" stroke="#555" stroke-width="1.4" fill="none" />
<text font-size="62" x="2139" y="2218" text-anchor="end">−20</text>
<path d="M2147 2331.8L2147 2336.8" stroke="#555" stroke-width="1.4" fill="none" />
<text font-size="62" x="2139" y="2353.8" text-anchor="end">−40</text>
<path d="M2159.7 2344.4L2159.7 2349.4" stroke="#555" stroke-width="1.6" fill="none" />
<text font-size="62" x="2164.5" y="2400.6" text-anchor="middle">−40</text>
<path d="M2293.5 2344.4L2293.5 2349.4" stroke="#555" stroke-width="1.6" fill="none" />
<text font-size="62" x="2295" y="2400.6" text-anchor="middle">−20</text>
<path d="M2427.3 2344.4L2427.3 2349.4" stroke="#555" stroke-width="1.6" fill="none" />
<text font-size="62" x="2427" y="2400.6" text-anchor="middle">0</text>
<path d="M2561.1 2344.4L2561.1 2349.4" stroke="#555" stroke-width="1.6" fill="none" />
<text font-size="62" x="2561" y="2400.6" text-anchor="middle">20</text>
<path d="M2694.9 2344.4L2694.9 2349.4" stroke="#555" stroke-width="1.6" fill="none" />
<text font-size="62" x="2690" y="2400.6" text-anchor="middle">40</text>
<text font-size="61.5" x="2420.6" y="2461" text-anchor="middle">tSNE_1</text>
<text font-size="61.5" x="2037" y="2082" transform="rotate(-90 2037 2082)" text-anchor="middle">tSNE_2</text>
<text font-size="26.6" x="2459.7" y="1759" class="a" text-anchor="middle" fill="#222">celltype</text>
<text font-size="17" x="2484" y="1847.5" class="a" text-anchor="middle" fill="#222">Epithelial_cells</text>
<text font-size="17" x="2441.4" y="1941.2" class="a" text-anchor="middle" fill="#222">Monocyte</text>
<text font-size="17" x="2568" y="1933" class="a" text-anchor="middle" fill="#222">Macrophage</text>
<text font-size="17" x="2523.1" y="2048" class="a" text-anchor="middle" fill="#222">NK_cell</text>
<text font-size="17" x="2622.6" y="2076.5" class="a" text-anchor="middle" fill="#222">B_cell</text>
<text font-size="17" x="2388.3" y="2100.7" class="a" text-anchor="middle" fill="#222">T_cells</text>
<text font-size="17" x="2638.6" y="2157.7" class="a" text-anchor="middle" fill="#222">Tissue_stem_cells</text>
<text font-size="17" x="2340.5" y="2312.3" class="a" text-anchor="middle" fill="#222">Endothelial_cells</text>
<circle cx="2704.5" cy="2001.4" r="2.8" fill="#e9574d"/>
<text font-size="13" x="2712" y="2005.9" class="a" fill="#333">B_cell</text>
<circle cx="2704.5" cy="2016.4" r="2.8" fill="#dba40c"/>
<text font-size="13" x="2712" y="2020.9" class="a" fill="#333">Endothelial_cells</text>
<circle cx="2704.5" cy="2031.5" r="2.8" fill="#88b61c"/>
<text font-size="13" x="2712" y="2036" class="a" fill="#333">Epithelial_cells</text>
<circle cx="2704.5" cy="2046.5" r="2.8" fill="#20a653"/>
<text font-size="13" x="2712" y="2051" class="a" fill="#333">Macrophage</text>
<circle cx="2704.5" cy="2061.5" r="2.8" fill="#23a9c0"/>
<text font-size="13" x="2712" y="2066" class="a" fill="#333">Monocyte</text>
<circle cx="2704.5" cy="2076.6" r="2.8" fill="#1f9fe9"/>
<text font-size="13" x="2712" y="2081.1" class="a" fill="#333">NK_cell</text>
<circle cx="2704.5" cy="2091.6" r="2.8" fill="#bb84cc"/>
<text font-size="13" x="2712" y="2096.1" class="a" fill="#333">T_cells</text>
<circle cx="2704.5" cy="2106.6" r="2.8" fill="#e23a9d"/>
<text font-size="13" x="2712" y="2111.1" class="a" fill="#333">Tissue_stem_cells</text>
<path d="M3242 2154h0m-145 -105h0m5 188h0m10 -9h0m-2 -137h0m93 154h0m-140 -118h0m8 63h0m178 -72h0m-66 117h0m64 -201h0m-195 94h0m73 -157h0m217 247h0m-172 -12h0m-41 -116h0m182 83h0m-121 73h0m156 -12h0m-205 -119h0m198 65h0m-18 63h0m-77 -192h0m-17 124h0m107 -71h0m-213 119h0m22 -9h0m-3 -12h0m92 -191h0m-59 170h0m73 -97h0m41 121h0m-78 -163h0m-43 56h0m102 101h0m-170 -123h0m133 68h0m101 90h0m-282 -149h0m236 194h0m-75 -223h0m107 99h0m-191 -9h0m222 8h0m-143 44h0m26 -2h0m-67 -94h0m160 13h0m-53 49h0m5 -70h0m-152 -38h0m243 126h0m-284 -170h0m-20 136h0m184 -128h0m-170 153h0m119 -151h0m-61 84h0m-35 97h0m118 -34h0m74 -50h0m-60 10h0m-78 56h0m147 21h0m-92 -122h0m-63 18h0m135 20h0m-78 56h0m-14 -125h0m64 196h0m-33 -208h0m60 73h0m64 -8h0m-228 -96h0m165 57h0m55 106h0m-223 -131h0m186 88h0m62 43h0m-76 -16h0m-4 -13h0m-207 29h0m121 33h0m-108 -178h0m-2 199h0m234 -136h0m-155 126h0m-78 -108h0m144 11h0m99 99h0m-93 -73h0m-13 47h0m-102 42h0m176 -115h0m-219 84h0m86 -51h0m-63 -21h0m172 -21h0m8 73h0m-184 -189h0m-6 34h0m64 -6h0m157 102h0m33 104h0m-230 4h0m140 -63h0m67 5h0m-101 -173h0m-47 9h0m-10 22h0m52 -17h0m-49 65h0m-17 7h0m64 -108h0m-4 189h0m-36 -131h0m5 194h0m-58 0h0m66 -184h0m123 175h0m-123 -51h0m-35 -77h0m76 33h0m17 -88h0m-54 15h0m-137 99h0m76 -144h0m138 179h0m-36 95h0m-181 -245h0m132 90h0m129 -43h0m-145 42h0m-23 -42h0m12 -84h0m-111 59h0m32 56h0m89 -10h0m-38 -29h0m135 111h0m9 -88h0m-55 -97h0m-53 182h0m-93 -137h0m88 25h0m115 212h0m-57 -115h0m83 -96h0m-144 27h0m-88 -65h0m175 62h0m-178 60h0m264 -44h0m-29 3h0m-233 -60h0m233 112h0m-167 67h0m-36 -172h0m36 81h0m79 127h0m-149 -212h0m146 103h0m112 33h0m-125 44h0m-65 -229h0m204 180h0m-178 -122h0m49 164h0m0 -57h0m78 99h0m-158 -262h0m205 151h0m-121 -22h0m-158 -48h0m8 38h0m155 70h0m15 29h0m-32 -119h0m69 -20h0m67 116h0m-68 -197h0m63 143h0m31 30h0m-102 114h0m31 -194h0m-168 48h0m52 -67h0m104 13h0m-70 77h0m-24 -149h0m-44 -25h0m-10 -32h0m7 -11h0m133 148h0m44 53h0m-184 -175h0m127 147h0m-62 -23h0m32 -36h0m114 136h0m-204 -181h0m5 10h0m99 121h0m19 56h0m-47 -133h0m-27 142h0m-45 -120h0m50 -72h0m-97 99h0m-43 -58h0m194 193h0m56 -40h0m-117 -217h0m153 218h0m-195 -236h0m162 107h0m25 96h0m-77 94h0m-45 -184h0m-31 -75h0m-10 113h0m88 27h0m39 -51h0m-37 128h0m-204 -194h0m174 106h0m84 -47h0m-198 -131h0m-16 83h0m-1 50h0m264 51h0m-69 -29h0m-202 -86h0m221 120h0m-71 23h0m-34 -212h0m52 204h0m-169 -72h0m134 -18h0m-56 -18h0m92 221h0m-210 -159h0m30 52h0m36 -220h0m37 15h0m127 205h0m-37 -1h0m-101 -242h0m77 91h0m-2 203h0m-32 -218h0m-42 2h0m73 -36h0m13 276h0m61 -57h0m13 -26h0m-185 -8h0m186 -68h0m-52 82h0m124 24h0m-208 -172h0m4 43h0m-29 -125h0m43 205h0m-35 -128h0m84 150h0m-149 -3h0m38 56h0m-51 -167h0m3 81h0m145 -27h0m89 -40h0m-92 157h0m-162 -59h0m68 -182h0m99 275h0m-110 -109h0m90 -194h0m57 197h0m75 -57h0m-288 38h0m169 -160h0m25 118h0m-101 -43h0m113 -9h0m-56 -6h0m169 146h0m-217 -160h0m12 -75h0m185 222h0m-125 61h0m-124 -98h0m150 64h0m66 15h0m-8 -80h0m-245 63h0m71 32h0m0 -67h0m200 -69h0m-277 72h0m304 17h0m-275 -179h0m258 122h0m-288 39h0m76 -197h0m176 182h0m-80 48h0m-92 -32h0m200 -57h0m-188 -152h0m-35 128h0m79 -23h0m-78 -72h0m126 153h0m-117 -1h0m245 35h0m-260 -36h0m144 127h0m-167 -209h0m145 121h0m66 -9h0m-148 -151h0m-85 86h0m193 -33h0m66 1h0m-260 15h0m191 24h0m-161 -14h0m77 -105h0m-3 39h0m126 89h0m-244 -61h0m96 17h0m208 119h0m-256 -108h0m5 -57h0m-17 159h0m92 -202h0m-46 223h0m121 69h0m1 -41h0m-32 -186h0m-20 -54h0m124 232h0m-235 -171h0m181 180h0m56 -44h0m-68 -16h0m79 21h0m-117 -119h0m-168 -26h0m239 30h0m-92 -60h0m189 153h0m-197 -186h0m-3 194h0m-63 -208h0m-73 83h0m80 -109h0m132 211h0m-140 -75h0m118 -110h0m-175 142h0m108 -9h0m-116 62h0m107 -123h0m163 150h0m-164 -149h0m38 89h0m27 -149h0m15 67h0m-13 -3h0m74 58h0m31 54h0m-193 -197h0m-21 61h0m163 263h0m-22 -221h0m-52 5h0m-122 -77h0m91 62h0m160 123h0m-32 -3h0m-210 -148h0m33 -38h0m221 204h0m-304 -67h0m187 22h0m77 -59h0m-236 116h0m79 -184h0m193 189h0m-71 -178h0m-26 217h0m-24 -49h0m-30 -143h0m57 172h0m-139 -275h0m113 237h0m-96 -224h0m165 196h0m-246 -103h0m236 7h0m78 98h0m-167 5h0m76 -126h0m108 148h0m-68 -102h0m-10 39h0m-189 60h0m240 3h0m-160 28h0m-49 -194h0m208 162h0m-70 93h0m13 -117h0m-50 6h0m-112 -182h0m44 -40h0m-74 180h0m14 -153h0m162 122h0m-154 -18h0m170 112h0m84 -7h0m-305 -55h0m120 48h0m125 -114h0m-218 -10h0m11 83h0m216 17h0m-144 -10h0m-103 -60h0m141 82h0m-127 -207h0m194 167h0m-114 -9h0m75 55h0m14 83h0m-119 -210h0m-34 -29h0m153 22h0m-8 48h0m78 20h0m-255 38h0m98 -84h0m33 138h0m50 25h0m-17 -100h0m-41 -71h0m-20 -54h0m-27 96h0m189 31h0m-122 103h0m-126 -213h0m80 -10h0m128 137h0m31 1h0m-204 -88h0m1 -9h0m202 147h0m-144 -123h0m-29 -46h0m21 161h0m35 -70h0m-41 44h0m102 117h0m-182 -80h0m66 -16h0m7 -177h0m-79 62h0m57 115h0m-15 -241h0m119 124h0m49 20h0m-77 -80h0m-55 173h0m84 41h0m34 33h0m-24 24h0m-172 -291h0m166 24h0m-139 81h0m189 61h0m-176 -175h0m165 96h0m-85 95h0m46 -109h0m-26 105h0m-162 -59h0m162 153h0m113 -113h0m7 -41h0m-296 70h0m34 -41h0m99 11h0m72 -138h0m-169 -3h0m212 145h0m-71 -89h0m-136 -85h0m180 205h0m-109 -223h0m116 145h0m95 72h0m-197 -228h0m96 174h0m83 1h0m-187 -114h0m-78 26h0m240 163h0m-253 1h0m125 -135h0m-12 -4h0m152 114h0m-75 -60h0m-1 25h0m-55 71h0m-5 22h0m-118 -262h0m85 235h0m-20 2h0m-38 -92h0m0 -152h0m121 101h0m30 113h0m-38 58h0m17 -161h0m-159 102h0m130 78h0m-115 -109h0m79 -13h0m-25 -36h0m-112 73h0m266 7h0m-140 -231h0m-99 75h0m107 -9h0m136 84h0m-61 -91h0m49 71h0m-202 -50h0m109 55h0m50 93h0m-37 24h0m-144 -212h0m192 192h0m-84 -116h0m-39 -103h0m179 251h0m-222 -123h0m21 0h0m183 82h0m-57 -96h0m-62 -84h0m-106 28h0m200 257h0m-108 -164h0m38 11h0m106 -24h0m-54 -72h0m-133 34h0m112 -27h0m-126 -78h0m3 203h0m-35 -65h0m219 91h0m-158 -121h0m-57 136h0m183 -138h0m-88 43h0m-93 80h0m12 -11h0m109 -119h0m-40 -36h0m-77 144h0m142 -34h0m-45 -160h0m117 254h0m-63 -155h0m-141 87h0m-30 -42h0m260 65h0m-42 -44h0m-49 -5h0m-105 -10h0m-79 40h0m25 31h0m-39 -35h0m28 -66h0m-20 -41h0m124 18h0m2 87h0m-70 -182h0m47 121h0m28 132h0m-85 -134h0m235 85h0m-145 -206h0m16 67h0m70 206h0m32 -81h0m-206 -74h0m40 119h0m102 -68h0m25 -80h0m-208 89h0m163 -154h0m-76 28h0m191 106h0m-140 14h0m16 -156h0m-82 57h0m172 170h0m-171 -148h0m89 182h0m-26 -58h0m-58 -167h0m-83 96h0m189 42h0m4 74h0m-57 -7h0m127 -128h0m-93 145h0m-72 -67h0m83 108h0m-105 -134h0m60 66h0m35 -127h0m-174 -13h0m144 158h0m48 -189h0m110 104h0m-288 5h0m129 -26h0m77 -10h0m-39 0h0m-171 -37h0m267 21h0m-16 94h0m-252 8h0m220 33h0m-46 -130h0m123 122h0m-255 -25h0m143 -111h0m-108 -148h0m72 126h0m36 45h0m-144 79h0m116 -193h0m108 155h0m-165 -167h0m101 102h0m36 -22h0m-85 191h0m-112 -148h0m-39 29h0m230 65h0m-32 -108h0m-7 -58h0m-149 146h0m115 -218h0m0 175h0m-56 -20h0m16 72h0m-24 -186h0m157 133h0m30 32h0m-102 14h0m-32 -21h0m-92 -20h0m79 18h0m-53 6h0m177 -23h0m-110 -56h0m-72 -114h0m62 215h0m-25 -126h0m160 146h0m-249 -155h0m-7 113h0m83 -38h0m-79 -50h0m56 -97h0m64 -11h0m-40 -5h0m4 229h0m-106 -167h0m42 116h0m33 -8h0m-25 66h0m122 -169h0m-19 178h0m112 -125h0m-60 71h0m-21 45h0m-29 -203h0m-123 152h0m148 126h0m-94 -209h0m85 187h0m39 -162h0m-225 -49h0m213 110h0m107 -13h0m-307 -103h0m225 84h0m-41 9h0m-171 -16h0m113 -36h0m-53 -17h0m-17 81h0m112 -31h0m47 -51h0m-192 -56h0m249 135h0m-184 -198h0m108 329h0m7 -273h0m-29 111h0m-67 59h0m106 55h0m-230 -107h0m62 -60h0m234 111h0m-271 -128h0m135 197h0m90 -144h0m-127 -129h0m-118 201h0m280 -3h0m-12 -41h0m-175 -31h0m14 -38h0m-62 41h0m31 55h0m176 -81h0m-202 87h0m238 75h0m-88 -200h0m63 55h0m-267 63h0m129 -200h0m119 180h0m6 -65h0m-78 -99h0m-137 69h0m268 65h0m-106 94h0m14 86h0m-42 -226h0m-166 67h0m194 77h0m-43 -7h0m-134 -5h0m139 -218h0m97 170h0m-48 31h0m77 -54h0m-230 71h0m140 95h0m109 -109h0m-96 123h0m-52 -71h0m65 -90h0m-61 48h0m-64 4h0m203 -21h0m-269 -70h0m112 11h0m180 112h0m-190 -76h0m90 16h0m-40 -110h0m4 107h0m146 63h0m-278 -94h0m235 -40h0m-255 -35h0m184 120h0m-17 -169h0m53 65h0m-182 -104h0m14 267h0m86 -172h0m5 46h0m-87 -74h0m8 97h0m43 -173h0m45 43h0m-68 76h0m-61 58h0m112 -68h0m-48 -41h0m-118 108h0m150 78h0m-60 -234h0m4 25h0m54 164h0m10 20h0m-79 7h0m39 -103h0m83 23h0m-200 -7h0m30 -81h0m84 112h0m70 -96h0m70 137h0m-14 -80h0m-55 -80h0m-4 176h0m18 69h0m-131 -196h0m91 -25h0m40 13h0m57 41h0m-163 120h0m-11 -180h0m-62 15h0m107 53h0m95 118h0m-72 -39h0m67 -24h0m-88 -214h0m-124 191h0m281 33h0m-152 -153h0m-34 140h0m75 35h0m37 -63h0m-1 166h0m-20 -53h0m-137 -231h0m56 15h0m141 177h0m-128 -192h0m-47 65h0m257 136h0m-309 -106h0m150 55h0m-60 -197h0m129 194h0m-42 68h0m-98 -106h0m-13 -15h0m-48 -80h0m63 142h0m-1 10h0m154 49h0m-47 -103h0m-135 -159h0m44 138h0m164 35h0m-206 -178h0m-29 152h0m-25 54h0m100 -113h0m58 41h0m-15 164h0m7 -21h0m3 35h0m3 -29h0m-46 -200h0m10 87h0m-37 78h0m-82 -208h0m101 23h0m-54 156h0m2 -82h0m50 94h0m-91 -107h0m113 -41h0m34 201h0m-171 -115h0m245 94h0m-193 -136h0m174 187h0m-46 -225h0m-67 72h0m89 -104h0m43 171h0m-112 47h0m-110 -169h0m238 182h0m-43 17h0m-121 -66h0m114 27h0m-181 -245h0m134 187h0m-130 -93h0m120 54h0m65 122h0m-56 -208h0m7 211h0m-137 -222h0m210 109h0m16 78h0m-56 -115h0m-124 108h0m47 17h0m-103 -226h0m44 218h0m121 -105h0m66 27h0m-123 -49h0m-38 -133h0m-81 63h0m103 171h0m35 -81h0m-107 88h0m-51 -66h0m40 76h0m205 -115h0m56 10h0m-71 81h0m-53 11h0m-22 -141h0m-119 -49h0m175 210h0m-80 -251h0m-23 25h0m-101 207h0m42 -136h0m122 -86h0m88 189h0m-155 21h0m152 -17h0m-226 55h0m213 -44h0m-102 -27h0m-84 -25h0m132 -133h0m18 276h0m101 -86h0m-267 -121h0m-16 134h0m216 -7h0m-15 -76h0m-82 -135h0m122 179h0m-212 -179h0m268 232h0m-295 -119h0m96 -144h0m27 96h0m-66 5h0m59 3h0m-44 36h0m-39 55h0m54 56h0m-63 -35h0m7 -75h0m78 17h0m99 140h0m-182 -174h0m-22 -14h0m238 105h0m-242 -159h0m59 -43h0m78 67h0m37 28h0m-201 117h0m127 -157h0m196 180h0m-242 -158h0m-31 97h0m-33 32h0m290 -36h0m-34 -6h0m-110 -58h0m-56 -2h0m69 28h0m-110 -137h0m-20 101h0m87 -91h0m-46 2h0m-78 137h0m294 122h0m-41 -91h0m-24 -19h0m-199 -29h0m284 118h0m-184 -77h0m-34 -96h0m-34 -6h0m28 -57h0m-30 -11h0m232 152h0m-29 67h0m-231 -172h0m116 35h0m117 79h0m38 97h0m-294 -96h0m98 -96h0m10 129h0m170 -35h0m-43 34h0m-102 -167h0m-5 257h0m123 -78h0m-222 45h0m254 -17h0m-38 -94h0m-151 -5h0m2 -56h0m-24 48h0m-5 131h0m96 -189h0m142 199h0m-267 -273h0m118 91h0m-96 12h0m91 1h0m-7 14h0m-149 14h0m162 189h0m-25 -173h0m-95 -24h0m135 -51h0m-107 179h0m48 -92h0m-108 -8h0m72 -96h0m166 67h0m-44 51h0m109 68h0m-24 -100h0m-215 -135h0m-2 229h0m112 -84h0m-180 53h0m135 -90h0m31 161h0m-12 -204h0m-10 172h0m-13 21h0m-79 11h0m208 -73h0m-73 -143h0m-172 -13h0m230 218h0m62 -4h0m-51 -71h0m-90 -137h0m-34 230h0m-101 -53h0m48 -164h0m78 115h0m-104 17h0m121 49h0m-32 -43h0m-156 -39h0m18 52h0m9 -170h0m22 75h0m-34 112h0m156 -92h0m106 103h0m-174 -32h0m6 -162h0m85 282h0m-99 -178h0m44 -56h0m-29 -68h0m66 286h0m-142 -146h0m11 -67h0m141 172h0m69 -98h0m-195 0h0m94 -123h0m103 191h0m-147 -231h0m186 227h0m-137 -49h0m154 66h0m-117 52h0m-72 -173h0m35 71h0m7 26h0m-99 -99h0m215 100h0m-115 70h0m-52 -154h0m-64 22h0m270 88h0m-126 31h0m-51 -168h0m6 -97h0m-50 83h0m50 123h0m-53 -240h0m15 261h0m-38 -150h0m69 87h0m33 -30h0m-16 -15h0m-160 105h0m270 -66h0m-126 -126h0m5 126h0m-90 5h0m13 -104h0m126 151h0m-93 1h0m-68 -147h0m163 128h0m12 -35h0m-64 84h0m-126 -60h0m202 13h0m-238 -31h0m185 -27h0m-161 -41h0m218 171h0m-113 -100h0m52 116h0m39 -213h0m-120 -57h0m52 -23h0m9 56h0m-44 -24h0m-63 126h0m163 29h0m-123 -118h0m-24 -37h0m22 143h0m125 26h0m-194 15h0m119 -226h0m21 272h0m171 -38h0m-55 -112h0m-66 -51h0m-121 143h0m23 -144h0m63 164h0m-96 -51h0m125 35h0m-77 24h0m-2 -73h0m18 -164h0m11 5h0m-50 20h0m-31 -4h0m15 220h0m151 -68h0m-73 -165h0m-50 98h0m195 87h0m-10 -54h0m-234 -34h0m110 18h0m-85 112h0m151 -110h0m-171 93h0m173 -22h0m-186 -198h0m129 246h0m21 22h0m-53 -237h0m-30 81h0m-63 -91h0m123 257h0m-13 -266h0m13 294h0m-39 -51h0m38 -188h0m-11 -54h0m-74 52h0m-38 156h0m257 -37h0m-70 -20h0m-101 -33h0m-30 -74h0m102 202h0m-134 -96h0m29 -173h0m142 182h0m22 27h0m-269 -19h0m228 6h0m-86 -104h0m-42 33h0m-78 -35h0m109 -45h0m82 239h0m-142 -13h0m214 -51h0m-198 -129h0m-14 120h0m53 -1h0m-51 54h0m-28 -233h0m38 15h0m13 173h0m213 56h0m-99 -198h0m-23 158h0m-197 -125h0m203 199h0m-99 -157h0m-36 1h0m145 -14h0m-64 10h0m18 -120h0m68 278h0m-29 13h0m5 -80h0m96 12h0m-84 18h0m-168 -240h0m215 162h0m-215 -32h0m122 127h0m40 -6h0m-70 -255h0m39 157h0m32 38h0m-15 -186h0m-54 93h0m-153 -19h0m242 53h0m71 61h0m-185 -64h0m75 -32h0m7 -30h0m-44 -71h0m87 161h0m-172 -114h0m143 274h0m101 -118h0m-166 -154h0m-96 131h0m117 6h0m-53 -82h0m50 -104h0m-14 252h0m-51 -205h0m34 58h0m38 149h0m70 -40h0m-39 -131h0m84 85h0m-30 46h0m-252 -104h0m174 43h0m-105 -160h0m126 79h0m-117 -47h0m75 217h0m-10 -1h0m75 2h0m-130 -27h0m130 37h0m73 -41h0m-216 -127h0m26 -49h0m85 70h0m-71 70h0m22 -45h0m-36 15h0m-82 19h0m199 -74h0m-221 8h0m273 94h0m-226 -155h0m-19 80h0m78 60h0m24 -170h0m-114 160h0m288 33h0m-280 -3h0m158 106h0m-27 -146h0m16 -100h0m65 87h0m-194 51h0m70 -141h0m-30 41h0m208 68h0m-261 16h0m84 50h0m37 -167h0m45 184h0m-22 10h0m38 -243h0m-45 52h0m108 100h0m40 75h0m-173 -54h0m-9 43h0m71 26h0m-77 -23h0m41 14h0m-65 -189h0m3 49h0m-26 82h0m-1 51h0m88 -143h0m-18 160h0m3 -100h0m-32 -113h0m57 116h0m-40 -4h0m109 -36h0m-79 -51h0m106 35h0m-141 109h0m-114 -66h0m60 27h0m110 108h0m82 -125h0m-148 -104h0m-120 116h0m37 -173h0m278 246h0m-196 -83h0m177 -45h0m-270 -48h0m22 6h0m72 -50h0m75 197h0m72 2h0m-139 -43h0m143 -39h0m-274 18h0m28 -129h0m169 4h0m2 167h0m-113 2h0m41 -182h0m106 132h0m-135 4h0m168 91h0m-177 -63h0m140 137h0m-93 -268h0m127 186h0m-133 -45h0m102 -62h0m-82 12h0m-95 -152h0m40 174h0m127 79h0m-37 -170h0m-138 29h0m185 -18h0m-96 46h0m81 -69h0m-101 -31h0m-40 11h0m242 159h0m-300 -78h0m-5 -25h0m178 -85h0m-43 71h0m144 74h0m6 -38h0m-177 2h0m123 11h0m10 4h0m-216 -131h0m121 -3h0m-148 70h0m193 132h0m-90 7h0m39 51h0m101 -173h0m-218 -23h0m95 187h0m48 -110h0m-46 36h0m73 -70h0m43 118h0m-13 -65h0m-34 42h0m72 -3h0m-196 -89h0m38 113h0m14 -181h0m163 182h0m-26 -42h0m-57 -55h0m-12 176h0m-170 -208h0m-38 -17h0m1 39h0m114 -33h0m97 83h0m-147 -140h0m127 -12h0m-41 230h0m-15 2h0m-12 -215h0m74 248h0m135 -51h0m-133 38h0m-63 -141h0m72 9h0m-33 -134h0m-111 5h0m-48 157h0m281 64h0m-239 -118h0m126 -24h0m122 85h0m-13 44h0m-211 -161h0m90 160h0m-150 1h0m256 4h0m-138 -51h0m22 -85h0m74 210h0m-140 -247h0m191 178h0m-220 -210h0m236 168h0m-113 112h0m-34 -251h0m41 225h0m-6 31h0m-20 -16h0m-25 -149h0m132 60h0m-154 -176h0m-27 25h0m181 143h0m-247 -112h0m3 43h0m244 93h0m-260 -68h0m100 -100h0m107 32h0m-96 13h0m-19 -127h0m-109 169h0m162 -57h0m-113 -49h0m21 214h0m-18 -130h0m134 -2h0m-80 42h0m84 51h0m-162 -24h0m59 38h0m60 26h0m54 67h0m-4 -26h0m-89 -85h0m208 28h0m-42 -6h0m14 -15h0m-96 -130h0m38 -48h0m-148 72h0m84 70h0m70 33h0m-153 -59h0m112 147h0m117 -115h0m-274 -160h0m31 -34h0m101 246h0m-5 -225h0m22 141h0m-83 -15h0m51 -13h0m-54 -20h0m-27 -67h0m14 79h0m153 -20h0m-9 67h0m-133 67h0m12 -22h0m151 56h0m42 -24h0m-286 -106h0m139 -5h0m9 74h0m69 -9h0m18 32h0m68 14h0m-134 -161h0m-70 137h0m-19 -5h0m122 -47h0m-139 53h0m-58 -29h0m81 -162h0m212 164h0m-106 -79h0m-37 132h0m16 -160h0m-53 -54h0m79 6h0m-14 194h0m-84 -123h0m88 99h0m-24 -174h0m-126 5h0m56 68h0m120 57h0m-103 73h0m-62 -104h0m-32 59h0m166 -174h0m89 165h0m-254 -57h0m142 106h0m95 -40h0m-76 -77h0m6 -28h0m-62 -53h0m-21 46h0m35 -36h0m-38 100h0m-30 -76h0m-82 39h0m184 -51h0m121 88h0m-248 -100h0m63 137h0m-54 11h0m194 14h0m-134 -24h0m-69 -131h0m101 116h0m-127 -125h0m-23 116h0m21 -66h0m-26 116h0m219 -79h0m-213 -15h0m172 202h0m40 -179h0m-195 -81h0m144 90h0m-136 87h0m120 0h0m-12 -41h0m35 63h0m-62 -211h0m102 111h0m-169 -85h0m32 171h0m144 -101h0m-42 -69h0m-87 58h0m-85 9h0m69 -39h0m23 46h0m51 -2h0m-51 91h0m9 -176h0m67 15h0m97 103h0m28 47h0m-180 -78h0m-20 -54h0m-37 -49h0m135 100h0m45 30h0m-110 -163h0m-103 118h0m79 95h0m52 -100h0m-151 110h0m51 5h0m6 -87h0m42 -113h0m184 177h0m11 6h0m-47 -82h0m-173 -112h0m190 222h0m-127 -166h0m61 -5h0m63 150h0m4 -1h0m32 7h0m-187 -118h0m202 139h0m-191 -35h0m118 7h0m-115 -204h0m62 192h0m-169 -174h0m12 2h0m89 207h0m46 32h0m28 -155h0m-51 -46h0m-72 117h0m105 -8h0m-22 55h0m-114 -192h0m24 -57h0m201 238h0m-16 -119h0m-125 -1h0m87 78h0m-232 -75h0m93 -1h0m2 95h0m-16 43h0m111 -192h0m12 160h0m106 11h0m2 -77h0m-100 145h0m-139 -197h0m201 51h0m-191 33h0m261 26h0m-87 -34h0m-214 -139h0m82 16h0m-2 170h0m-83 -205h0m156 38h0m2 240h0m-2 -122h0m112 47h0m-114 -107h0m30 -35h0m-116 174h0m-93 -52h0m265 -77h0m40 97h0m-237 -151h0m148 60h0m-33 -43h0m-134 98h0m152 -79h0m79 93h0m-140 -21h0m75 -12h0m-64 -141h0m-4 38h0m155 121h0m-156 -61h0m-101 -91h0m205 119h0m-149 -110h0m71 68h0m-16 111h0m48 -96h0m7 58h0m-69 -67h0m-89 54h0m101 -152h0m-42 202h0m-76 -129h0m171 -2h0m-18 42h0m-130 -102h0m67 -2h0m166 197h0m-200 -125h0m100 -70h0m131 201h0m-96 44h0m25 -173h0m-130 109h0m129 -21h0m-103 -174h0m51 254h0m58 -136h0m-132 -135h0m-89 246h0m-25 7h0m272 17h0m-95 -212h0m-66 -7h0m48 92h0m-73 -155h0m66 292h0m-78 -88h0m-37 -141h0m43 130h0m156 -66h0m-63 199h0m-140 -130h0m81 50h0m-28 -228h0m-40 173h0m216 -3h0m-273 -65h0m-9 26h0m118 97h0m96 75h0m-95 -227h0m98 232h0m-164 -268h0m196 128h0m-88 -158h0m34 23h0m-49 15h0m68 80h0m-179 122h0m160 39h0m-127 -274h0m110 242h0m65 -49h0m-16 -135h0m50 35h0m-73 -85h0m-124 71h0m14 -95h0m171 224h0m-213 -36h0m56 -130h0m157 165h0m-58 24h0m-209 -154h0m121 75h0m-122 6h0m283 -44h0m-222 54h0m6 -127h0m55 168h0m15 1h0m184 -5h0m-166 -72h0m13 82h0m40 -23h0m-94 -137h0m226 152h0m-282 -96h0m177 44h0m-144 -165h0m-38 191h0m285 58h0m-151 2h0m28 -138h0m23 64h0m-44 -14h0m52 117h0m-46 -112h0m-142 15h0m71 -37h0m22 32h0m-63 -76h0m-76 93h0m23 -103h0m168 118h0m-183 -174h0m123 112h0m-101 90h0m103 -81h0m-67 -158h0m18 103h0m-61 -69h0m22 9h0m30 -4h0m3 154h0m206 4h0m-252 -168h0m190 116h0m-131 -138h0m165 125h0m-162 -50h0m-36 2h0m49 108h0m99 -107h0m-148 30h0m-14 97h0m-14 -86h0m84 -74h0m-74 45h0m-9 -66h0m178 27h0m27 148h0m-91 -51h0m-110 -148h0m253 120h0m-216 2h0m193 131h0m-48 -7h0m-21 -16h0m-53 -99h0m115 -19h0m-242 15h0m106 8h0m22 -95h0m-31 116h0m-32 -152h0m-39 86h0m157 197h0m-131 -289h0m31 -20h0m64 32h0m20 235h0m-36 21h0m20 -261h0m-89 154h0m112 58h0m39 -140h0m-20 -42h0m-74 -14h0m167 186h0m-160 42h0m-25 -112h0m112 69h0m-58 -155h0m-58 -24h0m213 195h0m-56 -7h0m-158 -110h0m48 146h0m9 -67h0m-33 66h0m-6 -248h0m28 136h0m32 159h0m-135 -198h0m196 54h0m-139 -194h0m64 271h0m-26 -129h0m35 70h0m51 45h0m-7 66h0m-16 -191h0m13 106h0m-159 -28h0m258 48h0m-268 -225h0m102 8h0m69 102h0m-11 70h0m13 -84h0m-159 -20h0m205 171h0m-83 -42h0m-134 -87h0m197 92h0m-255 -145h0m115 153h0m60 84h0m-24 -26h0m-58 -215h0m99 -27h0m-193 121h0m192 117h0m-113 -144h0m-25 -63h0m85 144h0m-143 -62h0m242 9h0m-35 39h0m23 -8h0m-112 -185h0m30 41h0m153 76h0m-123 161h0m-145 -234h0m57 155h0m-33 -41h0m76 -29h0m-41 -103h0m-58 10h0m242 116h0m-275 -58h0m297 49h0m-129 -37h0m140 136h0m-196 -100h0m37 -45h0m170 142h0m-169 -143h0m124 151h0m-176 -127h0m208 94h0m-63 -69h0m-155 -75h0m10 -34h0m106 210h0m-40 -91h0m-42 54h0m-79 -92h0m-27 86h0m-2 -96h0m264 23h0m-113 101h0m-155 -78h0m32 -147h0m140 296h0m-66 -212h0m46 8h0m46 102h0m-11 -122h0m96 81h0m-269 -121h0m-21 122h0m206 36h0m-54 -149h0m-51 83h0m38 32h0m17 -96h0m11 19h0m128 123h0m-219 -231h0m81 289h0m-25 -206h0m-63 -86h0m5 19h0m85 263h0m-32 -159h0m20 41h0m-94 83h0m128 -83h0m17 43h0m-165 -5h0m85 47h0m-55 -199h0m139 120h0m1 115h0m-143 -245h0m41 154h0m-80 -10h0m251 64h0m-60 -114h0m-65 -35h0m67 39h0m-90 -30h0m26 -2h0m117 81h0m-123 -165h0m121 210h0m-186 -178h0m86 18h0m104 166h0m-174 -41h0m172 18h0m-55 5h0m-177 46h0m111 -145h0m19 -98h0m-30 -17h0m-110 265h0m97 -200h0m0 191h0m-6 -161h0m-4 -97h0m-90 108h0m24 138h0m5 -155h0m-30 72h0m27 -149h0m187 339h0m-108 -340h0m20 223h0m83 -93h0m-49 -5h0m-145 -56h0m113 37h0m171 100h0m-156 -61h0m13 151h0m-79 -317h0m44 223h0m21 -105h0m89 140h0m-106 -152h0m58 74h0m4 -93h0m-13 53h0m7 5h0m-46 34h0m132 53h0m-174 -61h0m-39 43h0m53 -24h0m86 164h0m-39 -99h0m6 5h0m-61 -18h0m32 -83h0m15 -14h0m142 109h0m-187 -175h0m-39 -7h0m-59 12h0m68 191h0m-42 -261h0m180 103h0m-163 -82h0m48 -13h0m21 95h0m30 176h0m116 -135h0m-286 62h0m46 -162h0m-27 110h0m268 51h0m-10 -77h0m-77 156h0m-15 -111h0m-169 31h0m98 -174h0m107 192h0m-35 -202h0m-35 84h0m-96 -35h0m125 154h0m-129 0h0m185 -25h0m-11 -89h0m-70 -8h0m-70 -61h0m10 222h0m95 -39h0m-131 -98h0m44 20h0m135 4h0m-242 52h0m189 9h0m-24 76h0m-38 -236h0m-53 43h0m143 166h0m-50 33h0m-12 -241h0m-71 10h0m11 196h0m90 41h0m-156 -168h0m196 207h0m19 -184h0m-156 -158h0m-35 116h0m3 31h0m126 113h0m-76 -32h0m107 103h0m-118 -228h0m199 115h0m-273 14h0m187 -99h0m-95 29h0m-35 -125h0m96 213h0m62 -12h0m-81 -127h0m18 148h0m-49 -263h0m172 200h0m-23 73h0m-75 -247h0m-47 201h0m16 -94h0m-2 148h0m161 -16h0m-180 -72h0m112 43h0m-202 -132h0m-37 160h0m315 0h0m-184 -144h0m167 156h0m-148 -62h0m-30 -184h0m-116 165h0m-20 -61h0m290 64h0m-248 22h0m-3 -169h0m-31 131h0m22 -83h0m10 159h0m216 1h0m-126 -216h0m6 29h0m9 205h0m-49 -202h0m-17 195h0m137 75h0m87 -178h0m-67 -19h0m-11 -39h0m-96 116h0m66 93h0m-46 -245h0m51 162h0m-190 -165h0m25 10h0m192 75h0m-31 -87h0m16 107h0m-129 -55h0m27 -75h0m210 209h0m-180 -217h0m-88 235h0m138 -244h0m18 23h0m37 134h0m-96 -61h0m14 179h0m24 -53h0m-70 -11h0m13 -60h0m72 84h0m112 -36h0m-219 16h0m-57 -157h0m15 -39h0m-26 103h0m264 98h0m-60 78h0m-90 -176h0m80 -20h0m65 35h0m-107 150h0m-49 -194h0m59 -24h0m8 -57h0m-141 66h0m148 211h0m-159 -250h0m38 -12h0m120 23h0m57 90h0m-189 57h0m-16 54h0m62 -27h0m26 -37h0m-35 -109h0m57 -86h0m-139 182h0m66 -46h0m-45 17h0m228 6h0m-137 -142h0m-17 173h0m89 135h0m-52 -108h0m92 -49h0m-106 50h0m-41 -54h0m-7 -177h0m56 127h0m-136 52h0m40 -129h0m83 -16h0m97 272h0m-67 -259h0m39 267h0m43 -86h0m63 -8h0m-197 -10h0m79 -105h0m-143 82h0m27 52h0m48 10h0m100 -114h0m-223 -65h0m81 113h0m22 -45h0m-66 -40h0m116 120h0m79 23h0m-182 -14h0m122 69h0m-42 -147h0m10 -130h0m46 26h0m-64 80h0m115 93h0m63 -66h0m-250 -70h0m154 83h0m-163 -55h0m99 -104h0m90 209h0m9 -39h0m-108 -24h0m-83 76h0m65 -245h0m-25 0h0m187 163h0m-273 91h0m51 -37h0m-22 -48h0m-9 -53h0m84 61h0m-59 9h0m-22 -13h0m148 118h0m-98 -69h0m142 134h0m-98 -185h0m115 76h0m-57 13h0m53 -85h0m-106 -72h0m38 62h0m0 137h0m-14 -189h0m-3 122h0m-29 -198h0m45 262h0m-149 -27h0m220 -31h0m-79 -78h0m87 -24h0m-46 -86h0m-107 131h0m157 14h0m-84 -68h0m47 45h0m-86 -40h0m174 18h0m-151 -21h0m-27 -57h0m30 55h0m23 194h0m-119 -126h0m121 -28h0m5 1h0m25 54h0m-67 -201h0m90 131h0m-127 -134h0m-92 135h0m265 56h0m-127 95h0m27 -178h0m-60 -32h0m-120 92h0m162 -154h0m18 153h0m-154 76h0m7 -57h0m171 23h0m-107 -173h0m19 93h0m-85 45h0m63 -87h0m-8 91h0m62 4h0m-34 68h0m-87 -105h0m89 79h0m56 35h0m171 -9h0m-263 -22h0m-12 -60h0m-6 26h0m35 -82h0m152 54h0m-161 76h0m235 15h0m-265 -167h0m21 -82h0m129 143h0m-17 -1h0m-102 -98h0m118 49h0m-66 10h0m-137 -31h0m295 156h0m-212 30h0m70 -7h0m37 -221h0m130 220h0m-262 -23h0m11 -237h0m40 114h0m95 -72h0m42 116h0m-152 9h0m63 100h0m53 -30h0m-25 -183h0m-166 12h0m49 152h0m-11 -172h0m65 135h0m1 -68h0m99 41h0m-135 -108h0m-43 197h0m144 -78h0m116 82h0m-144 20h0m-27 -244h0m20 143h0m-74 56h0m68 -78h0m73 -104h0m-114 171h0m128 -85h0m-25 199h0m-145 -333h0m237 257h0m-212 -176h0m146 169h0m-194 -81h0m86 -75h0m-16 165h0m4 -228h0m73 172h0m56 -43h0m-60 -133h0m-53 124h0m136 115h0m-54 -207h0m54 222h0m-248 -144h0m69 -68h0m238 171h0m-104 112h0m48 -73h0m-2 -33h0m-92 -217h0m0 114h0m12 90h0m-109 31h0m33 -91h0m33 -120h0m-79 84h0m123 -12h0m-79 -26h0m76 42h0m-62 -34h0m-20 -113h0m221 258h0m-148 -150h0m33 75h0m-65 -169h0m-122 190h0m42 -148h0m154 149h0m-125 -169h0m71 -14h0m-38 223h0m-88 -109h0m-41 1h0m182 164h0m-120 -33h0m28 -201h0m-15 117h0m118 2h0m-8 -131h0m-35 168h0m54 -11h0m-85 -18h0m24 -54h0m185 109h0m-22 35h0m-81 -73h0m60 50h0m-252 -45h0m-40 -90h0m93 102h0m-49 -4h0m264 33h0m-254 -77h0m50 -57h0m45 111h0m-89 -189h0m28 176h0m-15 56h0m-63 -183h0m54 182h0m219 12h0m-55 -113h0m-136 -157h0m180 242h0m-180 -49h0m63 -10h0m78 -22h0m-220 -8h0m260 78h0m-58 80h0m-63 -205h0m48 25h0m-110 -131h0m6 104h0m-20 86h0m124 28h0m5 -171h0m-137 50h0m154 14h0m100 58h0m-120 -123h0m118 106h0m-185 -54h0m35 25h0m-24 141h0m108 -120h0m-49 91h0m26 -127h0m-75 23h0m-122 -83h0m132 176h0m-17 -203h0m-131 170h0m-3 43h0m99 18h0m187 -53h0m-173 -173h0m33 214h0m60 76h0m23 -178h0m-227 -11h0m112 38h0m179 3h0m-154 -150h0m-128 29h0m178 45h0m26 247h0m-67 -130h0m114 -43h0m-263 -22h0m142 88h0m-110 -44h0m24 -179h0m140 174h0m67 32h0m-145 -174h0m-78 165h0m113 34h0m-114 -96h0m25 -141h0m47 173h0m64 -120h0m57 249h0m80 -76h0m-87 -18h0m-72 57h0m-72 -47h0m-34 -49h0m24 38h0m46 -167h0m-79 25h0m92 193h0m-79 -183h0m65 13h0m-65 -44h0m68 145h0m113 -32h0m-107 -29h0m-43 109h0m62 -25h0m-154 -55h0m50 -87h0m214 59h0m35 54h0m-92 -67h0m-118 92h0m38 -116h0m-124 58h0m279 89h0m-61 -114h0m56 -14h0m-155 51h0m-56 -153h0m217 167h0m-181 -191h0m47 102h0m-38 -98h0m-75 196h0m163 74h0m-198 -166h0m190 39h0m-59 99h0m169 -56h0m-16 -35h0m-150 -94h0m92 185h0m-93 -7h0m-47 -224h0m131 260h0m18 -66h0m-119 -95h0m59 96h0m-46 50h0m-99 -40h0m178 -80h0m-70 -55h0m-137 82h0m178 -144h0m-169 147h0m53 72h0m15 -235h0m54 74h0m26 -7h0m43 218h0m-187 -44h0m165 -73h0m77 89h0m-47 -145h0m117 133h0m-53 -15h0m-113 -191h0m-118 145h0m14 -178h0m9 212h0m171 -53h0m76 -18h0m-141 49h0m-2 -34h0m-84 21h0m126 -134h0m-42 130h0m-108 28h0m222 46h0m-121 -86h0m-128 -18h0m4 106h0m192 -136h0m-95 -128h0m-108 151h0m154 -55h0m-27 139h0m27 -35h0m-104 -174h0m163 110h0m-95 1h0m118 118h0m-207 -237h0m86 206h0m108 -86h0m-245 -26h0m93 -102h0m27 76h0m116 167h0m-28 40h0m-64 -170h0m68 133h0m-51 -60h0m-52 -54h0m45 -100h0m72 236h0m51 -63h0m-139 -93h0m40 82h0m-96 -172h0m182 144h0m-185 -121h0m155 306h0m-171 -100h0m-22 -4h0m-22 -81h0m-13 -57h0m92 -57h0m59 -31h0m-87 108h0m-27 -72h0m163 34h0m-35 194h0m59 -92h0m-160 -195h0m138 42h0m115 196h0m-284 -22h0m-33 -131h0m167 -66h0m47 104h0m-175 103h0m151 27h0m66 -24h0m-115 -221h0m177 236h0m-313 -60h0m-5 -17h0m224 151h0m76 -155h0m-42 97h0m-246 -126h0m159 136h0m-58 -87h0m155 57h0m-135 31h0m-14 -130h0m22 80h0m157 -23h0m-99 -103h0m-124 31h0m-39 48h0m-24 -51h0m139 121h0m134 28h0m-85 -29h0m-54 -209h0m-104 156h0m180 -61h0m-196 -7h0m42 -48h0m-67 111h0m58 -87h0m-1 -97h0m23 259h0m47 -136h0m45 -101h0m-131 132h0m28 -28h0m-37 120h0m46 -99h0m93 -131h0m-34 218h0m-124 -72h0m109 59h0m128 -61h0m-63 -28h0m-95 16h0m-65 38h0m116 57h0m-143 -31h0m111 -62h0m167 90h0m-122 58h0m-147 -239h0m139 54h0m56 222h0m-128 -96h0m-43 -28h0m-35 -70h0m141 -52h0m56 27h0m-163 -68h0m172 190h0m84 -68h0m-191 -95h0m-31 -34h0m149 129h0m-60 -126h0m-84 175h0m189 -65h0m-132 -2h0m70 -70h0m-53 129h0m-35 -3h0m9 -202h0m23 31h0m-46 47h0m-52 94h0m19 59h0m177 -58h0m68 76h0m-38 -12h0m-58 -140h0m24 32h0m-205 -70h0m128 91h0m-125 13h0m212 2h0m-111 -139h0m176 241h0m-297 -70h0m48 -128h0m104 111h0m25 -57h0m28 11h0m17 35h0m-36 75h0m-181 -178h0m65 148h0m41 18h0m184 -13h0m-126 -8h0m-6 -1h0m79 62h0m51 -54h0m-280 -146h0m-2 130h0m37 -16h0m97 79h0m-45 -159h0m13 -112h0m82 273h0m76 -84h0m-90 -130h0m-44 167h0m-21 -65h0m-111 -122h0m292 179h0m-11 -26h0m-72 39h0m-76 -209h0m-36 33h0m-47 36h0m173 147h0m-145 -249h0m-41 185h0m46 -185h0m71 114h0m-83 139h0m84 -126h0m-66 116h0m122 -122h0m-136 14h0m39 -10h0m-66 78h0m77 -193h0m-12 80h0m124 36h0m-125 151h0m-17 -35h0m-4 -7h0m-76 -202h0m215 92h0m-15 32h0m-116 0h0m-24 -113h0m-72 120h0m197 -42h0m-214 136h0m6 -61h0m54 1h0m122 29h0m15 -46h0m89 45h0m-104 -188h0m27 110h0m-208 20h0m76 20h0m107 -99h0m28 201h0m-65 -187h0m-52 14h0m-41 -19h0m129 238h0m-35 -108h0m-52 -185h0m-20 -42h0m185 150h0m43 90h0m-274 16h0m20 -228h0m77 55h0m32 -31h0m55 181h0m-93 -142h0m160 129h0m-250 -18h0m33 -207h0m-70 159h0m22 -46h0m55 14h0m149 38h0m-32 46h0m-156 -138h0m153 71h0m-102 -100h0m28 204h0m88 103h0m53 -157h0m-271 -66h0m69 144h0m115 -18h0m-35 -55h0m193 49h0m-182 -192h0m69 61h0m-23 -57h0m-24 163h0m-65 -199h0m-39 35h0m30 -8h0m123 51h0m-106 102h0m61 -99h0m114 91h0m15 33h0m-102 -64h0m64 2h0m-9 -40h0m-219 -8h0m171 97h0m-192 -153h0m200 289h0m14 -4h0m-113 -208h0m81 -96h0m-136 -27h0m192 243h0m-149 -17h0m79 78h0m18 -96h0m-8 -124h0m21 36h0m-62 39h0m-75 -146h0m119 316h0m27 -27h0m-22 -54h0m82 7h0m-177 -142h0m-34 -1h0m49 61h0m-65 89h0m69 -268h0m200 250h0m-101 91h0m-128 -359h0m184 224h0m-136 -17h0m74 -33h0m-38 16h0m-32 18h0m63 36h0m-108 -221h0m119 134h0m-13 195h0m33 -171h0m-255 -50h0m27 27h0m87 -39h0m185 120h0m-212 -213h0m238 252h0m-237 -227h0m50 170h0m169 -55h0m-88 65h0m28 19h0m-175 -137h0m20 -87h0m101 222h0m-30 -55h0m23 -106h0m149 160h0m-114 101h0m68 -50h0m-121 11h0m39 -244h0m-43 243h0m-78 -58h0m248 -10h0m-103 -117h0m83 124h0m-10 -33h0m-147 -145h0m145 169h0m-207 -217h0m184 191h0m-6 49h0m-216 -77h0m16 -20h0m199 104h0m-62 -56h0m-28 86h0m-48 -175h0m-134 -4h0m197 158h0m-133 -12h0m92 -92h0m-154 47h0m220 -102h0m-66 -60h0m-30 59h0m94 114h0m-63 -180h0m85 160h0m41 -43h0m-111 136h0m157 -40h0m-172 -3h0m-67 -177h0m184 218h0m-178 -194h0m94 128h0m-96 -102h0m-32 -33h0m144 61h0m-41 -37h0m101 76h0m-245 30h0m271 -80h0m-101 161h0m21 -43h0m-50 -159h0m-77 -87h0m26 -9h0m-75 224h0m148 -196h0m-23 256h0m-20 -204h0m147 114h0m-105 135h0m16 -168h0m-146 -41h0m215 153h0m24 -37h0m-223 -213h0m104 168h0m113 -38h0m-231 -76h0m192 82h0m-220 51h0m164 30h0m-191 -50h0m286 41h0m-100 -31h0m-45 -32h0m-68 -157h0m77 63h0m-86 24h0m63 44h0m44 144h0m-26 -3h0m-2 -121h0m51 158h0m33 -169h0m-164 11h0m-43 89h0m218 -86h0m-58 74h0m3 -9h0m-39 52h0m-95 -46h0m-31 -128h0m109 144h0m-40 -71h0m74 -26h0m-124 13h0m-1 1h0m133 -8h0m-71 82h0m-61 -97h0m53 22h0m65 -92h0m6 16h0m-37 -24h0m-32 186h0m240 -2h0m-170 -92h0m51 149h0m-86 -139h0m145 88h0m9 -61h0m-152 34h0m33 7h0m134 -38h0m-93 -156h0m-170 38h0m172 231h0m59 -177h0m-72 -106h0m-85 76h0m38 -87h0m46 62h0m117 135h0m10 -35h0m-234 50h0m12 -215h0m130 66h0m-34 188h0m-11 6h0m97 -2h0m-162 -240h0m160 179h0m-205 -179h0m10 54h0m185 122h0m-246 -5h0m184 136h0m23 -98h0m-215 -54h0m303 -24h0m-217 -167h0m32 235h0m-28 -22h0m216 40h0m-240 -41h0m-58 -42h0m33 -134h0m107 -22h0m-29 206h0m207 37h0m-80 -14h0m-156 -120h0m185 95h0m-205 -221h0m52 52h0m-8 93h0m159 55h0m-138 -75h0m166 107h0m-193 -162h0m108 38h0m-30 63h0m4 88h0m-184 -164h0m251 103h0m-18 -74h0m-127 115h0m137 21h0m24 -29h0m-123 -9h0m113 -64h0m-153 -36h0m14 -42h0m77 -23h0m87 183h0m-149 -57h0m97 32h0m-201 -149h0m79 76h0m-85 15h0m53 118h0m22 -9h0m38 -97h0m-28 3h0m148 104h0m-173 -78h0m124 -11h0m85 71h0m-92 -191h0m-53 34h0m-80 2h0m-9 116h0m36 -70h0m-12 -126h0m179 131h0m-138 -58h0m60 -47h0m32 72h0m-59 126h0m35 -40h0m-103 -22h0m54 -29h0m63 189h0m16 -192h0m-23 -24h0m22 100h0m-89 35h0m107 -71h0m20 -12h0m-201 -55h0m-75 -9h0m120 136h0m-38 20h0m132 53h0m109 -115h0m-83 -51h0m-208 -78h0m-31 96h0m127 68h0m-32 -11h0m-98 -116h0m156 -103h0m13 106h0m-148 -17h0m79 52h0m172 -2h0m-85 78h0m58 86h0m-17 -31h0m-7 53h0m-28 -218h0m-39 -107h0m15 152h0m125 26h0m-39 48h0m-115 -78h0m-94 5h0m191 60h0m-94 -82h0m172 92h0m-120 -70h0m28 39h0m38 3h0m-34 -80h0m-124 74h0m-42 -55h0m9 115h0m65 -185h0m110 76h0m-134 34h0m100 -61h0m34 197h0m-29 -237h0m-121 131h0m-73 52h0m119 -159h0m38 -35h0m-165 31h0m146 60h0m-95 28h0m-40 -81h0m196 154h0m-62 -234h0m12 55h0m-45 -10h0m24 66h0m-32 -37h0m219 159h0m-73 -12h0m-234 -25h0m168 -30h0m-94 -105h0m102 12h0m-52 167h0m29 -61h0m-136 -181h0m242 177h0m-99 -162h0m120 122h0m7 57h0m-237 27h0m-34 -116h0m99 -129h0m67 68h0m70 142h0m-113 -39h0m-60 -156h0m-38 -21h0m-10 165h0m249 23h0m-111 -76h0m-15 -27h0m107 48h0m-228 -126h0m209 264h0m-212 -130h0m205 124h0m-44 77h0m51 -205h0m-148 -10h0m144 -6h0m-202 -7h0m119 -37h0m-162 -23h0m52 193h0m253 -37h0m-226 -49h0m116 98h0m-108 -216h0m-93 79h0m92 61h0m12 -15h0m-16 -153h0m52 139h0m5 -113h0m116 194h0m-179 -161h0m112 240h0m-206 -145h0m229 185h0m-214 -234h0m197 133h0m-195 -119h0m69 82h0m83 -9h0m-137 -150h0m10 -23h0m205 172h0m-21 -64h0m-184 -80h0m118 5h0m12 147h0m-154 -75h0m102 -1h0m7 -119h0m47 270h0m92 -39h0m-153 -149h0m7 -21h0m75 22h0m-116 19h0m202 31h0m-258 -91h0m15 122h0m-9 -138h0m207 198h0m-46 -140h0m-74 -39h0m44 -42h0m-34 182h0m-52 -168h0m200 177h0m-28 10h0m-16 -96h0m-41 -28h0m23 241h0m-14 -256h0m-9 212h0m-136 -157h0m189 204h0m-188 -243h0m195 132h0m47 13h0m-169 -149h0m-16 4h0m72 -72h0m-155 181h0m222 43h0m-86 -102h0m-123 -51h0m169 140h0m-131 -4h0m41 -77h0m-89 108h0m88 -79h0m118 -29h0m-63 69h0m17 -124h0m-149 25h0m99 -32h0m55 246h0m73 -96h0m-68 51h0m-99 -40h0m8 -12h0m109 -119h0m-135 -58h0m59 -9h0m164 106h0m-90 31h0m-190 -138h0m60 80h0m174 -3h0m-132 102h0m10 5h0m-58 -37h0m99 80h0m33 -50h0m-50 -88h0m55 50h0m-102 -142h0m-39 -20h0m101 199h0m89 -46h0m-124 31h0m16 -186h0m-18 96h0m-85 -45h0m243 132h0m-268 -2h0m55 -78h0m9 -35h0m-82 -40h0m-14 38h0m66 51h0m87 -138h0m53 141h0m-15 -7h0m10 -65h0m-3 157h0m-106 -217h0m161 141h0m-56 98h0m-74 -227h0m76 299h0m-119 -297h0m109 233h0m75 -131h0m-186 40h0m-30 -155h0m258 224h0m-122 -133h0m-152 1h0m-16 73h0m266 97h0m-150 -47h0m-49 -210h0m16 151h0m51 40h0m104 -86h0m-7 30h0m-93 115h0m17 -219h0m73 79h0m-145 83h0m4 -115h0m-20 -16h0m85 119h0m-69 55h0m8 -147h0m-13 76h0m-79 23h0m183 55h0m118 -11h0m-225 19h0m29 -41h0m33 0h0m114 -55h0m69 61h0m-221 -163h0m36 156h0m120 18h0m-78 74h0m-76 -227h0m1 -60h0m136 222h0m-56 -149h0m14 214h0m4 18h0m-185 -119h0m305 13h0m-188 -49h0m-43 -130h0m-6 215h0m166 -28h0m-130 -89h0m-41 -68h0m99 6h0m-71 -37h0m-10 189h0m87 -169h0m-3 13h0m-34 -47h0m-91 73h0m-34 84h0m-2 -157h0m37 193h0m51 -34h0m130 13h0m-203 -70h0m148 186h0m-180 -219h0m54 -33h0m68 27h0m-6 -80h0m-25 33h0m127 226h0m34 -34h0m-205 -214h0m-22 3h0m2 -7h0m56 110h0m-76 -94h0m74 -4h0m172 174h0m-75 61h0m-137 -34h0m231 -17h0m47 25h0m-144 -162h0m105 111h0m-175 9h0m-38 -84h0m42 -51h0m108 40h0m-239 64h0m24 -73h0m150 -5h0m-56 -120h0m-5 51h0m112 127h0m-184 31h0m44 -159h0m14 240h0m-45 -136h0m56 -53h0m-96 59h0m229 177h0m-115 -271h0m47 -23h0m-5 22h0m-54 -49h0m93 106h0m68 154h0m-93 -158h0m-139 160h0m-1 -78h0m153 -51h0m-45 -119h0m-74 257h0m41 -256h0m73 285h0m-28 -261h0m-77 225h0m71 -196h0m114 141h0m-219 -75h0m61 -119h0m128 129h0m-178 113h0m50 -47h0m83 -108h0m-69 22h0m66 130h0m-7 -93h0m-81 -97h0m217 163h0m-310 -144h0m197 -41h0m112 181h0m2 37h0m-141 44h0m-94 -78h0m148 -37h0m-26 -61h0m-77 -42h0m105 215h0m-163 -184h0m95 190h0m-72 -68h0m62 -115h0m-6 115h0m-90 -93h0m12 -119h0m21 45h0m17 -51h0m122 114h0m30 -3h0m14 102h0m-225 -150h0m207 44h0m-217 -38h0m6 20h0m-31 -1h0m188 135h0m-203 -75h0m129 -101h0m21 56h0m-1 -114h0m-101 181h0m162 12h0m-54 73h0m104 -142h0m-20 196h0m61 -117h0m-249 -45h0m67 7h0m-6 -26h0m114 -17h0m-29 79h0m-51 -52h0m97 -54h0m-115 -60h0m133 125h0m-198 -138h0m149 47h0m-203 103h0m149 -26h0m-43 -7h0m158 0h0m-46 -4h0m-74 118h0m13 8h0m-101 -178h0m127 -5h0m-73 98h0m-76 5h0m10 76h0m5 -6h0m159 -95h0m-41 -49h0m78 -4h0m-219 -66h0m256 171h0m-185 -137h0m198 127h0m-262 54h0m122 -101h0m-70 1h0m-33 0h0m240 40h0m-102 -65h0m127 134h0m-210 -179h0m203 167h0m-131 59h0m39 32h0m-59 -55h0m-114 -228h0m-41 33h0m16 21h0m205 34h0m-49 47h0m55 -58h0m-141 -123h0m72 280h0m-122 -203h0m97 42h0m-43 -130h0m-47 17h0m150 142h0m106 101h0m-193 -32h0m-113 -59h0m201 134h0m-9 -179h0m-60 -41h0m6 -37h0m-6 37h0m6 -52h0m106 80h0m41 119h0m-197 -190h0m136 134h0m-216 -67h0m14 -59h0m26 74h0m80 124h0m116 -132h0m-131 4h0m40 -104h0m-139 94h0m211 173h0m-86 -68h0m-63 10h0m-15 -189h0m3 146h0m268 60h0m-133 -137h0m-119 -28h0m204 119h0m-170 -23h0m146 58h0m-152 -106h0m51 121h0m14 -227h0m3 107h0m35 10h0m59 47h0m-197 -117h0m46 10h0m-15 8h0m-4 171h0m42 -113h0m-143 1h0m49 -61h0m45 131h0m52 -188h0m-102 111h0m129 34h0m2 124h0m-46 -168h0m26 54h0m-114 -13h0m79 -57h0m-49 15h0m62 -53h0m-145 35h0m1 -10h0m109 78h0m111 154h0m-82 -64h0m-89 -113h0m230 82h0m-120 -226h0m-75 218h0m98 -82h0m-19 111h0m104 -5h0m-108 -94h0m-94 -10h0m150 125h0m36 -83h0m-87 -52h0m-154 27h0m105 -56h0m124 235h0m-87 -107h0m29 -142h0m-18 103h0m110 -29h0m-99 79h0m-27 -179h0m-48 179h0m9 -236h0m50 31h0m16 -16h0m48 126h0m16 63h0m-58 91h0m-7 -1h0m-23 -187h0m4 147h0m25 -131h0m22 127h0m0 -230h0m-113 86h0m115 -41h0m-133 -71h0m105 20h0m126 107h0m-79 41h0m-49 24h0m86 -32h0m6 8h0m17 -47h0m-82 9h0m-40 9h0m48 113h0m-186 -177h0m83 -3h0m19 4h0m35 143h0m-71 -110h0m-28 -100h0m240 156h0m-31 70h0m-174 -115h0m-40 -98h0m195 218h0m38 -76h0m-96 0h0m2 127h0m-26 -272h0m-120 178h0m-17 -149h0m297 197h0m-77 -58h0m48 10h0m-210 -86h0m-50 13h0m-26 113h0m147 4h0m-68 -198h0m234 155h0m-145 -54h0m57 135h0m-236 -144h0m133 -1h0m43 -55h0m-32 -52h0m121 91h0m-70 107h0m14 -157h0m-173 63h0m83 43h0m-74 -30h0m167 -111h0m-30 107h0m-74 19h0m153 -25h0m-99 131h0m18 -67h0m-50 12h0m80 7h0m44 -1h0m-97 -181h0m11 52h0m-79 0h0m207 146h0m-97 72h0m12 -105h0m-68 -152h0m-19 83h0m-2 11h0m-15 -112h0m-34 -11h0m168 211h0m-14 -68h0m32 15h0m-124 -133h0m-12 191h0m171 -37h0m-250 -31h0m172 -141h0m104 189h0m-263 -202h0m262 203h0m-113 76h0m-45 -211h0m60 -23h0m36 175h0m-156 -1h0m111 -80h0m-25 -30h0m-76 -62h0m95 9h0m37 168h0m-127 -35h0m180 39h0m-130 -89h0m-49 -104h0m173 167h0m-187 -138h0m13 -57h0m69 185h0m121 -66h0m-225 -145h0m49 113h0m120 19h0m-182 111h0m130 -210h0m-111 234h0m-11 -249h0m157 147h0m-24 -109h0m50 103h0m-191 85h0m171 79h0m40 -191h0m-100 126h0m110 -82h0m-154 -22h0m167 55h0m-217 -151h0m98 146h0m131 37h0m-5 -101h0m-235 41h0m113 53h0m38 -133h0m-90 19h0m160 62h0m-1 -41h0m-215 65h0m44 -104h0m-63 -45h0m-12 112h0m176 -48h0m-146 151h0m3 -5h0m211 -136h0m-171 106h0m109 -131h0m-160 -62h0m-42 183h0m220 -109h0m-136 -71h0m208 155h0m-98 25h0m-131 -178h0m48 28h0m-7 4h0m142 45h0m-112 95h0m84 -20h0m-147 -133h0m135 90h0m-187 88h0m280 -3h0m-315 -142h0m46 -90h0m29 87h0m99 137h0m-167 -73h0m70 102h0m-22 -12h0m19 -263h0m49 91h0m-16 48h0m-79 -6h0m150 75h0m131 0h0m3 46h0m-55 -102h0m-199 39h0m51 -119h0m-91 184h0m203 -35h0m-184 -114h0m211 146h0m-1 -37h0m-56 -115h0m5 217h0m-158 -218h0m81 33h0m-122 64h0m253 -76h0m-103 44h0m-87 -45h0m105 75h0m-163 -21h0m48 43h0m-22 -61h0m174 103h0m41 -137h0m-98 37h0m-87 -130h0m-58 78h0m124 25h0m86 -49h0m-175 188h0m191 79h0m37 -59h0m-45 -51h0m84 -74h0m-56 -35h0m-93 -78h0m72 287h0m-99 -93h0m56 -76h0m-42 18h0m1 -103h0m100 54h0m-16 -41h0m-40 131h0m-126 24h0m97 17h0m39 -130h0m-168 -31h0m76 15h0m-57 136h0m192 -97h0m-168 -69h0m16 -25h0m14 -60h0m-22 264h0m-89 -73h0m197 -144h0m6 78h0m-150 49h0m-4 -159h0m70 221h0m-99 -40h0m264 -51h0m-143 -143h0m-20 172h0m66 121h0m-123 -234h0m26 42h0m91 0h0m-101 141h0m91 -54h0m101 39h0m25 -5h0m-153 -226h0m-31 207h0m-7 -80h0m31 128h0m171 -74h0m-74 -57h0m5 175h0m84 -97h0m-160 -181h0m-107 10h0m147 196h0m-115 -55h0m173 9h0m19 111h0m-171 -55h0m-15 -64h0m-35 0h0m111 105h0m-126 -207h0m69 75h0m191 65h0m-12 -79h0m-250 -86h0m289 214h0m-277 -136h0m27 156h0m17 -298h0m92 91h0m-132 5h0m11 95h0m182 -6h0m-75 92h0m15 -104h0m31 0h0m-42 39h0m21 91h0m-181 -58h0m34 -175h0m103 132h0m68 -9h0m27 -36h0m-246 45h0m21 -92h0m234 143h0m-192 -216h0m77 -18h0m61 149h0m-174 -69h0m38 31h0m173 52h0m-39 58h0m83 29h0m-44 -107h0m12 12h0m-245 55h0m38 59h0m223 -19h0m-71 -114h0m-154 24h0m176 -123h0m-180 56h0m188 40h0m-110 104h0m-16 -153h0m74 -29h0m-172 122h0m182 137h0m-154 -164h0m85 -123h0m162 199h0m-180 -244h0m25 150h0m-87 -63h0m50 5h0m-81 133h0m102 -43h0m-41 2h0m76 -102h0m66 266h0m21 -6h0m-179 -181h0m48 111h0m115 19h0m79 -75h0m-33 9h0m-141 -172h0m26 -22h0m-28 -23h0m161 201h0m-231 -48h0m73 -3h0m-96 -50h0m200 -9h0m-156 192h0m7 -245h0m47 211h0m59 -142h0m-123 -45h0m124 172h0m-105 23h0m-44 -115h0m111 57h0m41 -68h0m-155 -42h0m-10 146h0m295 1h0m-194 -75h0m1 -79h0m79 166h0m-137 -3h0m140 54h0m-64 -121h0m132 39h0m-191 -216h0m-52 132h0m260 72h0m-272 -4h0m290 -40h0m-229 -48h0m-9 -78h0m121 260h0m-59 -144h0m27 31h0m-104 48h0m-6 -70h0m15 2h0m126 171h0m-112 -190h0m-64 -59h0m273 207h0m-169 -294h0m118 110h0m-158 73h0m222 -6h0m-3 48h0m-166 -161h0m153 131h0m-96 100h0m-181 -189h0m138 140h0m4 -154h0m-98 -45h0m121 271h0m-46 -164h0m29 13h0m120 104h0m-196 -108h0m-48 -94h0m179 169h0m-139 -148h0m212 127h0m-57 -38h0m-50 89h0m-130 -50h0m172 59h0m-100 -96h0m107 13h0m28 -40h0m-56 139h0m-16 -3h0m19 -243h0m-158 0h0m257 186h0m-268 -175h0m122 12h0m-134 55h0m26 74h0m228 -64h0m-183 15h0m82 -30h0m-45 65h0m-7 11h0m115 -50h0m-232 -43h0m93 179h0m182 -145h0m-220 57h0m99 -156h0m26 81h0m90 79h0m-54 -27h0m-72 -113h0m-102 125h0m191 148h0m13 -164h0m-28 -21h0m-96 98h0m6 -195h0m-96 102h0m52 -151h0m-82 166h0m202 -111h0m-180 57h0m86 55h0m-85 -3h0m20 -52h0m93 96h0m44 -10h0m-54 -157h0m115 322h0m-35 -214h0m98 9h0m-4 62h0m-201 -212h0m-3 270h0m136 -136h0m-73 -40h0m-15 139h0m-4 -163h0m15 157h0m18 56h0m-108 -226h0m-68 157h0m188 -138h0m44 119h0m-102 -163h0m12 95h0m1 19h0m103 76h0m-175 -188h0m95 226h0m28 -96h0m62 -26h0m-119 -135h0m120 270h0m4 -24h0m-234 -2h0m63 -171h0m179 122h0m-68 -161h0m-12 53h0m65 125h0m10 31h0m-206 -163h0m23 -34h0m-12 -21h0m171 206h0m25 27h0m-29 48h0m-136 -263h0m17 79h0m112 2h0m-186 139h0m201 -129h0m-191 46h0m-9 -28h0m235 122h0m-136 -76h0m-45 -42h0m24 92h0m-53 -29h0m18 -175h0m-7 230h0m13 -102h0m132 -6h0m-206 -113h0m22 104h0m226 1h0m-143 -172h0m-75 246h0m-16 -186h0m80 58h0m86 227h0m-26 -89h0m-135 -59h0m43 -17h0m-34 2h0m150 -121h0m-45 117h0m-109 -144h0m144 177h0m-143 -175h0m-46 90h0m216 -21h0m35 132h0m-198 -41h0m61 -97h0m9 47h0m81 -24h0m62 165h0m-107 -106h0m-51 -69h0m21 -100h0m31 206h0m134 50h0m-146 -28h0m67 -186h0m52 118h0m-194 -85h0m-74 136h0m102 -152h0m26 118h0m-10 -7h0m123 -42h0m-166 119h0m-19 3h0m112 -63h0m-45 50h0m53 -25h0m14 48h0m107 11h0m-192 -91h0m158 94h0m-34 -104h0m-157 24h0m104 -45h0m-112 -48h0m74 -80h0m19 240h0m77 -142h0m46 104h0m-80 2h0m-82 -130h0m-26 2h0m93 3h0m138 103h0m-148 -41h0m-2 155h0m63 -154h0m-181 -74h0m-25 113h0m173 61h0m-129 -32h0m60 8h0m4 -100h0m-133 -38h0m56 -83h0m13 100h0m56 13h0m-54 -79h0m62 42h0m24 128h0m99 -91h0m-255 12h0m260 -9h0m-32 91h0m-191 -150h0m117 -32h0m31 279h0m4 -126h0m-181 -2h0m188 -38h0m-27 161h0m142 -102h0m-318 -115h0m92 -110h0m92 270h0m12 63h0m140 -74h0m-169 -147h0m-17 87h0m-102 35h0m76 -85h0m-54 0h0m94 135h0m-97 -28h0m206 -104h0m-207 -9h0m61 21h0m30 -9h0m17 -39h0m39 147h0m-74 -177h0m-34 155h0m117 -31h0m-182 2h0m244 77h0m-31 -69h0m-158 -119h0m-92 24h0m91 2h0m210 33h0m-242 -136h0m149 223h0m-78 -107h0m109 204h0m-151 -66h0m102 -82h0m-127 -153h0m128 303h0m86 -48h0m-247 -98h0m54 -142h0m-24 149h0m254 75h0m6 -28h0m-129 -56h0m2 -66h0m32 76h0m-128 69h0m-21 -186h0m-76 79h0m144 -123h0m-129 67h0m165 160h0m36 -187h0m-65 96h0m13 -123h0m-21 99h0m69 79h0m-116 -16h0m10 -217h0m187 150h0m-57 149h0m91 -57h0m-205 -231h0m134 206h0m-239 10h0m190 6h0m-42 17h0m63 -12h0m-219 -90h0m290 63h0m-54 -68h0m-235 65h0m20 -150h0m252 138h0m-103 -168h0m28 207h0m-76 -89h0m-8 -11h0m-90 -75h0m76 -10h0m116 62h0m-55 98h0m-24 -40h0m-105 -60h0m142 182h0m124 -121h0m-250 15h0m-47 -79h0m175 -48h0m-88 -11h0m56 200h0m-90 -36h0m131 130h0m-10 -170h0m-15 35h0m-141 -88h0m195 114h0m33 -86h0m-72 -55h0m79 130h0m0 -46h0m-119 89h0m-55 -106h0m-79 74h0m17 -185h0m59 104h0m157 92h0m-75 19h0m54 -86h0m-79 111h0m-17 -146h0m-11 39h0m35 -149h0m16 165h0m-57 62h0m82 -141h0m-156 120h0m97 -214h0m-84 38h0m86 178h0m71 -157h0m-92 151h0m163 37h0m-155 -31h0m139 14h0m-30 34h0m-179 -71h0m256 29h0m-72 96h0m36 -142h0m-114 29h0m74 19h0m42 3h0m-101 -150h0m86 83h0m-249 -52h0m77 153h0m-46 -62h0m93 40h0m104 76h0m-102 -277h0m73 183h0m-195 -78h0m285 92h0m27 8h0m-123 -101h0m-33 -141h0m124 174h0m22 75h0m-253 -64h0m-6 -120h0m213 184h0m43 -43h0m-250 -94h0m99 -36h0m-138 125h0m33 -98h0m-21 -62h0m295 204h0m-253 -15h0m-80 -56h0m251 -36h0m-108 95h0m-73 -189h0m105 42h0m-39 3h0m68 -53h0m6 218h0m-125 -276h0m46 27h0m40 64h0m27 145h0m45 -26h0m74 21h0m-19 -9h0m4 -46h0m-194 74h0m94 74h0m-119 -251h0m133 105h0m21 145h0m-159 -108h0m127 38h0m-102 -96h0m21 45h0m5 -104h0m-32 47h0m128 100h0m-93 -242h0m-13 -1h0m-70 178h0m15 -79h0m211 125h0m-70 2h0m55 -20h0m-129 -61h0m-70 33h0m83 -55h0m-118 17h0m250 65h0m-140 -67h0m-105 104h0m19 -84h0m141 161h0m-81 -189h0m72 99h0m-17 -165h0m-80 213h0m13 -163h0m-69 -16h0m99 133h0m-10 -106h0m63 100h0m39 -107h0m-68 -108h0m-29 20h0m-116 67h0m202 2h0m-118 -18h0m64 8h0m-48 -32h0m47 198h0m55 -193h0m-13 -17h0m47 84h0m0 24h0m-42 30h0m7 -126h0m-187 22h0m4 133h0m219 -31h0m-109 -114h0m123 62h0m-118 -73h0m-49 -59h0m123 42h0m96 180h0m-188 23h0m192 -10h0m-269 -158h0m81 143h0m-18 -139h0m-26 158h0m184 27h0m-65 -153h0m-24 64h0m76 16h0m-234 57h0m180 -209h0m67 91h0m-273 9h0m335 90h0m-91 -81h0m-226 29h0m114 72h0m-25 -120h0m-54 -109h0m222 243h0m-130 6h0m1 -200h0m-10 181h0m-81 -144h0m3 -40h0m276 172h0m-49 23h0m-123 -93h0m22 68h0m56 -114h0m-228 -20h0m227 178h0m-177 -133h0m95 -5h0m-83 91h0m205 -40h0m-173 -95h0m-1 86h0m128 6h0m-67 -29h0m91 -33h0m-179 -8h0m37 -71h0m-53 162h0m49 -216h0m21 70h0m6 129h0m35 46h0m177 1h0m-10 3h0m-281 -35h0m-29 -25h0m50 -93h0m253 160h0m-174 -230h0m8 206h0m-51 -85h0m93 110h0m-196 -62h0m75 80h0m159 -102h0m-65 -51h0m-141 -67h0m39 -14h0m87 226h0m168 -24h0m-110 -21h0m-75 -176h0m-14 53h0m-29 164h0m120 -10h0m-50 -143h0m99 114h0m-116 -131h0m38 148h0m98 24h0m-176 -162h0m30 53h0m23 -121h0m52 214h0m-95 12h0m152 -69h0m-252 5h0m189 -61h0m37 98h0m-177 -168h0m143 118h0m48 64h0m-124 -8h0m2 -66h0m31 -139h0m41 224h0m40 -67h0m-124 -58h0m-41 33h0m-80 -57h0m140 81h0m18 -58h0m-109 -53h0m48 -77h0m-31 134h0m128 198h0m102 -124h0m-278 -104h0m208 193h0m-117 -137h0m197 69h0m-21 25h0m-241 -170h0m227 197h0m-269 -30h0m45 -226h0m2 126h0m26 84h0m106 -104h0m66 -3h0m-36 98h0m-28 -74h0m-74 -140h0m-109 114h0m234 121h0m-99 13h0m-8 -192h0m79 219h0m-73 -60h0m145 6h0m-267 -109h0m71 2h0m110 125h0m16 -1h0m-91 -223h0m87 16h0m-12 250h0m-197 -135h0m161 -129h0m-16 109h0m114 115h0m-68 -186h0m7 37h0m-204 49h0m121 -111h0m153 80h0m-160 127h0m14 -256h0m-14 228h0m109 13h0m-1 -127h0m-56 165h0m19 -182h0m-166 147h0m277 -85h0m-200 111h0m227 -32h0m-294 -130h0m55 137h0m98 -11h0m-29 18h0m60 82h0m53 -199h0m-105 137h0m61 -170h0m77 98h0m-295 0h0m114 -75h0m10 -38h0m60 202h0m-13 -215h0m133 182h0m-278 -171h0m164 122h0m140 61h0m-26 -79h0m-23 -39h0m-133 38h0m123 33h0m-149 -37h0m128 31h0m-233 56h0m23 -153h0m-44 61h0m201 70h0m126 -5h0m-163 -77h0m-36 31h0m-72 -99h0m165 4h0m100 158h0m-171 -73h0m174 79h0m-155 10h0m-95 -30h0m61 -119h0m4 110h0m76 87h0m13 -166h0m37 -28h0m-149 29h0m106 54h0m-129 -9h0m-64 -59h0m88 9h0m5 -15h0m-86 -17h0m299 122h0m-55 52h0m-98 -72h0m-96 51h0m-33 -14h0m67 -22h0m45 28h0m-44 -69h0m8 25h0m47 -147h0m134 182h0m9 22h0m-203 -22h0m-59 -216h0m119 221h0m-28 -3h0m-108 -201h0m218 80h0m-33 -11h0m-66 144h0m132 22h0m-189 -184h0m34 53h0m-91 43h0m145 -115h0m-130 -65h0m-45 204h0m53 -197h0m56 69h0m211 148h0m-305 -86h0m300 58h0m-9 41h0m-157 -144h0m-8 -72h0m-18 114h0m-78 89h0m31 21h0m75 -210h0m-68 2h0m53 66h0m95 223h0m-28 -204h0m-162 0h0m-28 -12h0m27 -41h0m-52 136h0m47 -68h0m80 -31h0m19 157h0m-5 -35h0m165 -104h0m-120 -6h0m-113 56h0m115 137h0m-31 -39h0m67 -154h0m-36 -55h0m24 -44h0m-13 300h0m-4 -91h0m-163 -48h0m154 -82h0m-4 -81h0m-136 139h0m146 134h0m-47 -43h0m77 -120h0m-207 44h0m188 -154h0m-76 136h0m13 -142h0m28 242h0m-26 -124h0m167 9h0m-70 198h0m-76 -257h0m-3 154h0m80 -104h0m-191 -79h0m190 262h0m-133 -72h0m48 -237h0m-74 251h0m-3 -54h0m34 -150h0m-57 141h0m45 64h0m156 -68h0m-110 -61h0m14 56h0m-78 -53h0m195 -18h0m-222 -82h0m164 171h0m18 127h0m-29 -185h0m-24 -84h0m-135 55h0m12 90h0m172 134h0m-188 -119h0m262 6h0m-162 -188h0m107 153h0m-198 -113h0m277 124h0m-285 -2h0m230 -88h0m-53 -22h0m-67 184h0m0 -234h0m-4 10h0m172 157h0m-236 -177h0m149 132h0m-77 107h0m-38 -64h0m-7 -188h0m-24 164h0m128 39h0m-88 -200h0m10 12h0m98 247h0m-82 -282h0m-79 262h0m174 -114h0m39 66h0m-273 -63h0m291 24h0m-39 -15h0m-235 -62h0m21 33h0m37 -96h0m-10 -29h0m58 261h0m123 -32h0m-130 -101h0m44 165h0m-66 -211h0m-1 119h0m102 88h0m-28 -50h0m-99 -174h0m93 18h0m-92 -30h0m-56 8h0m175 173h0m-39 -74h0m-61 -96h0m-4 -17h0m101 180h0m9 -20h0m89 22h0m-184 -213h0m-67 90h0m50 -126h0m-35 203h0m212 56h0m-157 -127h0m-94 63h0m213 130h0m-4 -136h0m-77 -77h0m100 138h0m-62 45h0m-107 -43h0m-65 -53h0m16 66h0m-19 -98h0m176 -134h0m57 136h0m-68 -69h0m-76 -82h0m44 75h0m142 153h0m-173 -45h0m51 22h0m15 18h0m92 -41h0m24 57h0m-107 -216h0m-40 41h0m31 121h0m150 52h0m-342 -146h0m142 102h0m-15 -171h0m-89 28h0m91 151h0m43 -96h0m-81 -111h0m-68 190h0m107 -146h0m210 187h0m-276 17h0m216 -94h0m22 91h0m-106 -203h0m-136 36h0m257 80h0m-252 83h0m-35 -61h0m62 -60h0m90 -32h0m-48 63h0m14 -114h0m-89 198h0m-16 -118h0m178 164h0m-71 -279h0m-29 125h0m4 -17h0m-39 -85h0m-52 166h0m60 -131h0m18 16h0m115 175h0m-84 -107h0m49 50h0m-64 -215h0m198 212h0m-278 6h0m-31 35h0m192 -45h0m-93 -130h0m178 182h0m-109 -5h0m101 6h0m40 -27h0m-179 -1h0m62 93h0m93 -172h0m-282 73h0m133 -46h0m58 -71h0m-181 39h0m38 50h0m98 -62h0m6 156h0m-48 -48h0m-86 -10h0m148 58h0m91 7h0m-200 -31h0m227 -21h0m-82 97h0m-47 -205h0m54 -16h0m-152 -107h0m-64 176h0m311 50h0m-265 -81h0m224 84h0m-132 8h0m-49 32h0m188 -76h0m-253 -41h0m14 34h0m-21 -47h0m310 86h0m-35 -47h0m-130 -120h0m-9 58h0m-52 -134h0m-34 141h0m167 106h0m-43 -152h0m-30 -52h0m-144 176h0m12 -76h0m154 12h0m-12 105h0m-131 -161h0m77 83h0m193 94h0m-243 -182h0m102 61h0m-131 -105h0m44 41h0m-77 126h0m94 -97h0m124 13h0m22 108h0m-177 -7h0m50 -186h0m-29 167h0m52 -139h0m-116 86h0m171 -89h0m-69 -51h0m-125 108h0m38 79h0m3 20h0m-28 18h0m40 -28h0m213 -57h0m-6 -5h0m-28 156h0m-81 -7h0m125 -129h0m-147 -38h0m97 54h0m-96 -141h0m73 110h0m-59 69h0m61 -6h0m30 18h0m-162 -1h0m-34 -12h0m-33 -149h0m247 181h0m-121 -135h0m93 77h0m35 -68h0m-7 82h0m16 -81h0m-231 -92h0m-8 57h0m-11 30h0m135 -98h0m62 89h0m-32 147h0m-39 -41h0m102 -13h0m-220 -162h0m232 177h0m-100 -174h0m64 202h0m-86 -63h0m-84 -133h0m20 216h0m2 15h0m32 -289h0m141 220h0m-262 -79h0m216 53h0m-18 100h0m-15 -115h0m-136 -33h0m70 89h0m26 -100h0m-96 -102h0m29 -9h0m82 177h0m31 -5h0m-170 62h0m259 -59h0m-171 -193h0m64 233h0m51 -167h0m-10 92h0m-135 -13h0m-59 108h0m130 -85h0m130 40h0m-209 67h0m231 -29h0m-223 -240h0m99 40h0m-138 -1h0m-8 32h0m40 -29h0m89 217h0m5 5h0m-42 -77h0m188 55h0m-86 -24h0m-193 -130h0m105 -99h0m-133 210h0m140 -83h0m138 14h0m-188 -126h0m181 141h0m-124 -134h0m-143 80h0m303 152h0m-49 -78h0m27 -15h0m-66 -58h0m-93 4h0m-133 8h0m217 171h0m27 -169h0m-149 -7h0m-11 27h0m239 126h0m-51 -15h0m-90 -78h0m137 -7h0m-311 -1h0m137 -114h0m-21 183h0m-75 -100h0m171 127h0m-212 -83h0m138 101h0m22 -231h0m10 -4h0m-106 62h0m234 99h0m-157 -186h0m6 91h0m-69 -106h0m93 42h0m-49 134h0m66 138h0m26 -249h0m-200 172h0m131 15h0m-60 -165h0m129 35h0m81 75h0m-117 113h0m64 -183h0m-94 52h0m-81 83h0m-40 -161h0m242 91h0m-127 -173h0m-105 139h0m101 85h0m58 -136h0m-5 82h0m-77 -177h0m139 203h0m-86 41h0m-111 -231h0m-14 139h0m112 -122h0m-73 36h0m203 171h0m-38 -42h0m-103 -40h0m-73 108h0m114 45h0m-101 -117h0m194 38h0m-187 -31h0m109 -109h0m-8 183h0m136 -27h0m-312 -134h0m298 103h0m-97 -17h0m-17 -136h0m8 44h0m-163 50h0m-14 32h0m-19 -99h0m40 13h0m61 140h0m-71 -180h0m25 -49h0m-8 196h0m74 -168h0m84 84h0m26 165h0m-172 -179h0m113 -46h0m17 272h0m-189 -126h0m87 -50h0m6 -144h0m-65 215h0m134 -39h0m-4 13h0m112 49h0m-108 -36h0m-149 -12h0m49 -92h0m77 -44h0m30 100h0m-56 -149h0m-35 53h0m-67 53h0m-21 -22h0m53 -94h0m130 123h0m-86 -38h0m221 128h0m-110 83h0m-21 -139h0m77 -42h0m-141 51h0m148 106h0m1 -30h0m-43 -44h0m-214 25h0m194 -89h0m71 84h0m-133 -125h0m55 175h0m-18 -257h0m-72 208h0m77 72h0m-116 -168h0m-37 25h0m17 71h0m174 107h0m-55 -294h0m126 140h0m-236 -56h0m187 105h0m-140 -245h0m12 38h0m181 149h0m-77 -7h0m-16 -139h0m-116 32h0m39 60h0m-46 86h0m71 -147h0m31 187h0m-94 -158h0m196 152h0m-166 -77h0m131 58h0m-70 -82h0m-61 -64h0m59 16h0m106 127h0m-176 -54h0m-38 -28h0m130 108h0m-70 -55h0m77 -34h0m-154 -34h0m232 100h0m-275 -143h0m313 154h0m-278 -127h0m9 45h0m1 -121h0m120 281h0m-52 -167h0m40 -1h0m-125 -26h0m0 -62h0m76 -7h0m167 134h0m-165 -156h0m21 -3h0m-33 89h0m187 57h0m-139 -85h0m100 120h0m-52 -150h0m-142 -31h0m149 310h0m-8 -125h0m98 -53h0m-209 97h0m11 -191h0m105 160h0m3 -12h0m46 27h0m-185 -156h0m206 119h0m-9 58h0m-213 18h0m-40 -203h0m266 158h0m-127 -16h0m-69 -219h0m-47 240h0m282 -29h0m-107 -4h0m-159 -91h0m77 120h0m-129 -160h0m41 67h0m-3 7h0m-11 -74h0m163 236h0m0 -2h0m-4 -27h0m-23 -218h0m8 186h0m-79 -210h0m186 126h0m-153 -50h0m-116 -19h0m62 152h0m46 -65h0m-9 -95h0m-5 -71h0m32 -13h0m-130 171h0m142 -79h0m-5 -94h0m-130 183h0m143 -70h0m10 114h0m-95 -139h0m69 -54h0m18 103h0m63 -12h0m58 10h0m-16 116h0m-9 -132h0m-75 11h0m41 205h0m-91 -318h0m-2 59h0m52 88h0m-83 98h0m25 -98h0m-44 -81h0m90 133h0m150 42h0m-245 -165h0m119 120h0m67 46h0m2 -70h0m23 5h0m-94 131h0m-106 -74h0m-15 -162h0m50 -97h0m-106 222h0m237 31h0m-115 -125h0m-39 -92h0m113 104h0m-7 -100h0m-114 14h0m-22 -34h0m116 268h0m61 -136h0m-69 -40h0m-34 112h0m166 59h0m-144 -7h0m-14 -141h0m-32 34h0m140 22h0m-51 99h0m-97 -295h0m11 40h0m128 109h0m-72 -1h0m46 209h0m92 -121h0m-260 -47h0m-48 -65h0m138 -103h0m-45 239h0m101 -36h0m-3 15h0m-12 57h0m107 -103h0m9 29h0m-110 -174h0m-109 -26h0m-8 32h0m136 62h0m-173 -39h0m49 -62h0m57 77h0m-122 69h0m202 -6h0m-15 197h0m-71 -176h0m-104 -112h0m206 139h0m42 58h0m-258 -11h0m171 -46h0m-84 -185h0m-24 107h0m47 45h0m44 -66h0m-107 -63h0m103 219h0m-45 5h0m70 -174h0m-96 8h0m182 103h0m21 -29h0m-198 5h0m66 -131h0m81 142h0m-172 65h0m84 35h0m70 35h0m-52 -14h0m58 -63h0m-51 -187h0m19 214h0m-148 -222h0m-45 218h0m63 -196h0m-44 24h0m225 163h0m-72 -104h0m66 75h0m-3 -104h0m-66 95h0m-16 -165h0m115 176h0m-123 28h0m36 -169h0m-120 194h0m-28 -171h0m185 233h0m90 -64h0m-64 -126h0m-81 -119h0m-167 91h0m257 24h0m-164 -152h0m94 132h0m-77 2h0m8 -123h0m-19 37h0m-1 137h0m-101 0h0m109 -70h0m146 177h0m-56 -163h0m-178 8h0m119 -7h0m39 -17h0m-40 15h0m40 53h0m91 15h0m-224 -171h0m41 156h0m-71 67h0m-19 -119h0m222 150h0m-161 -119h0m184 14h0m-31 -82h0m-64 66h0m114 86h0m-224 -131h0m88 -61h0m-5 119h0m-28 -100h0m108 149h0m-123 -108h0m37 -102h0m4 107h0m-83 115h0m-13 43h0m188 -104h0m-169 95h0m10 -123h0m215 3h0m-106 -56h0m-26 174h0m-90 -246h0m-41 85h0m217 104h0m13 4h0m-213 2h0m-23 -52h0m90 -156h0m25 36h0m39 104h0m5 -61h0m-147 61h0m8 -9h0m75 85h0m106 103h0m-152 -224h0m-18 152h0m125 -132h0m-61 -15h0m-2 26h0m-73 26h0m283 12h0m-152 19h0m-148 14h0m276 42h0m-56 69h0m-187 -66h0m-7 -205h0m87 155h0m-16 -152h0m176 123h0m-161 46h0m-8 -176h0m63 103h0m-42 -129h0m-14 34h0m71 0h0m-130 -29h0m58 185h0m-8 -100h0m94 59h0m-2 -34h0m32 172h0m30 -101h0m-97 -133h0m67 144h0m37 -58h0m-166 -161h0m18 131h0m72 51h0m51 -11h0m-161 -66h0m140 193h0m-47 -13h0m128 4h0m-270 -216h0m174 177h0m78 -86h0m-125 -126h0m-48 207h0m63 -22h0m-132 -24h0m85 -140h0m25 127h0m12 3h0m-52 -9h0m106 -44h0m-2 104h0m-195 -125h0m211 28h0m-162 65h0m103 -167h0m-123 220h0m31 -137h0m-33 83h0m-32 -5h0m260 -5h0m-196 -186h0m97 87h0m39 26h0m-68 43h0m-8 -97h0m-127 86h0m257 146h0m-154 -94h0m22 -173h0m-127 156h0m49 61h0m215 38h0m-184 -9h0m45 -235h0m40 67h0m-150 33h0m213 14h0m-182 94h0m18 -130h0m153 -4h0m-78 -6h0m-20 180h0m-1 -200h0m93 260h0m-181 -257h0m141 112h0m13 14h0m117 -8h0m-49 -71h0m55 111h0m-19 15h0m-223 -204h0m20 107h0m85 -16h0m-106 50h0m27 -85h0m136 36h0m-32 66h0m-48 -171h0m20 270h0m-36 -149h0m-59 -99h0m146 73h0m-129 52h0m43 81h0m-37 -95h0m-36 -86h0m128 157h0m-36 -36h0m44 -171h0m-8 239h0m111 -29h0m-228 27h0m46 -78h0m25 -110h0m-111 -28h0m103 -48h0m12 165h0m145 26h0m-183 -120h0m-74 29h0m-57 30h0m50 -19h0m166 202h0m-213 -225h0m166 197h0m-122 -82h0m-32 -99h0m129 143h0m-141 -147h0m129 -16h0m-106 110h0m76 -81h0m-65 91h0m68 -92h0m-12 83h0m177 60h0m-190 -234h0m-72 144h0m200 50h0m110 18h0m-66 -18h0m-62 40h0m14 21h0m-184 -112h0m15 -22h0m147 100h0m-3 0h0m20 71h0m-156 -230h0m174 26h0m-2 -30h0m-120 183h0m106 -175h0m-157 71h0m66 94h0m-59 -236h0m82 84h0m-13 36h0m85 -4h0m-28 -4h0m26 165h0m82 -47h0m-62 -93h0m-179 -50h0m-7 -63h0m168 271h0m45 -152h0m-66 -120h0m32 157h0m-63 -40h0m-141 -43h0m164 194h0m-167 -76h0m111 -77h0m110 30h0m35 -78h0m-250 71h0m129 -152h0m-89 107h0m-26 -50h0m56 168h0m76 -218h0m-35 -11h0m-99 114h0m283 71h0m-245 -96h0m56 -60h0m-77 -33h0m-42 91h0m294 143h0m-207 -146h0m68 -72h0m139 185h0m-219 -27h0m116 93h0m-26 -65h0m44 -89h0m-8 -4h0m-86 75h0m-85 -5h0m72 -94h0m-66 115h0m-33 -19h0m29 10h0m122 42h0m13 -118h0m29 83h0m-33 -132h0m171 176h0m-312 -54h0m234 22h0m-26 36h0m-159 -38h0m59 -116h0m-121 17h0m313 125h0m-257 -97h0m-4 -52h0m5 74h0m-29 -54h0m150 174h0m-177 -143h0m252 79h0m-173 -203h0m123 44h0m-114 -61h0m111 194h0m15 -43h0m50 -44h0m-16 129h0m-209 -77h0m110 -69h0m104 -41h0m-11 -6h0m55 54h0m-17 -54h0m-45 3h0m51 20h0m-37 -22h0m-8 0h0m13 10h0m18 -1h0m-20 -5h0m-19 13h0m54 39h0m2 -36h0m10 -15h0m-37 31h0m20 18h0m-9 -34h0m17 -26h0m-21 41h0m-34 -33h0m-4 -10h0m70 60h0m-38 -36h0m-33 6h0m-8 -22h0m17 -3h0m4 32h0m44 -36h0m19 55h0m-70 -29h0m-18 -11h0m82 -4h0m-50 6h0m-15 5h0m53 -7h0m-6 19h0m-41 -1h0m-1 4h0m49 17h0m-35 -19h0m4 -6h0m-20 -6h0m27 14h0m-29 -25h0m-6 10h0m62 28h0m13 8h0m-13 -55h0m-17 12h0m30 19h0m-51 -4h0m28 8h0m-55 -12h0m41 5h0m-27 -30h0m2 4h0m58 46h0m-27 -10h0m13 -36h0m-41 25h0m33 30h0m17 -57h0m-21 -9h0m-5 35h0m39 31h0m-55 -34h0m4 -3h0m-2 0h0m-24 -17h0m41 8h0m24 17h0m-60 -24h0m7 -5h0m55 25h0m-35 -6h0m-19 -6h0m-11 5h0m31 2h0m-31 -3h0m17 -22h0m34 19h0m-67 -7h0m74 -8h0m-11 0h0m-47 26h0m-5 4h0m31 -3h0m30 5h0m4 26h0m7 2h0m-17 0h0m-6 -51h0m-25 -4h0m51 55h0m-30 -48h0m-47 -6h0m53 26h0m-20 -8h0m-1 -24h0m-21 19h0m-2 9h0m55 -27h0m-33 21h0m-6 -6h0m52 -4h0m5 62h0m-81 -62h0m59 -4h0m-22 24h0m-13 -1h0m-21 4h0m61 25h0m-44 -47h0m62 57h0m-68 -63h0m63 58h0m-6 -9h0m-60 -20h0m64 23h0m-35 -59h0m-13 24h0m-1 15h0m-10 -34h0m31 23h0m-39 -28h0m16 -3h0m30 38h0m21 -11h0m-62 -22h0m34 24h0m-45 -16h0m70 1h0m-7 44h0m0 8h0m-35 -37h0m47 33h0m-63 -57h0m36 14h0m16 31h0m10 19h0m-56 -51h0m-15 -11h0m50 56h0m-35 -55h0m30 13h0m28 56h0m-42 -49h0m-30 -2h0m10 4h0m16 9h0m33 8h0m-11 -41h0m14 41h0m-31 -51h0m-11 31h0m22 6h0m-15 -15h0m-12 -19h0m57 70h0m-42 -26h0m-13 -9h0m-5 -3h0m41 -23h0m-8 7h0m2 20h0m-18 -15h0m-24 13h0m58 22h0m-53 -24h0m57 27h0m-21 -24h0m-30 8h0m35 -7h0m-36 -1h0m-3 -25h0m57 15h0m-15 -24h0m-44 3h0m40 23h0m-51 -3h0m74 37h0m-32 -43h0m-33 -17h0m42 65h0m-43 -21h0m44 -43h0m-12 42h0m-21 -23h0m20 -7h0m3 17h0m7 14h0m15 -7h0m-77 -24h0m55 6h0m11 18h0m-26 -34h0m8 33h0m27 35h0m11 0h0m-29 -61h0m-17 19h0m-12 2h0m-4 -32h0m4 25h0m-12 0h0m-1 -3h0m20 1h0m55 10h0m-65 -23h0m12 14h0m18 10h0m-31 -10h0m38 11h0m-39 -3h0m16 -18h0m-15 -16h0m-14 27h0m65 -19h0m6 30h0m-77 -9h0m36 8h0m16 -3h0m11 -27h0m0 13h0m-33 17h0m52 -7h0m-17 -19h0m0 3h0m-3 50h0m5 -34h0m-25 12h0m-8 -33h0m48 68h0m-61 -63h0m43 53h0m1 -58h0m-42 32h0m12 -28h0m8 22h0m-10 -30h0m20 8h0m-28 23h0m53 27h0m-18 -50h0m-40 -4h0m47 7h0m5 45h0m-48 -25h0m28 -13h0m-23 -5h0m41 -9h0m12 39h0m-19 -13h0m12 -23h0m-73 10h0m38 9h0m37 -18h0m-49 22h0m-28 -6h0m-2 -13h0m19 -2h0m33 16h0m30 28h0m-26 -19h0m5 7h0m-28 -24h0m-3 6h0m12 13h0m27 21h0m-26 -31h0m35 39h0m-79 -57h0m49 10h0m-4 -4h0m9 -7h0m-43 18h0m25 -3h0m-19 9h0m46 26h0m1 8h0m-9 -43h0m-8 -26h0m7 28h0m13 8h0m-8 5h0m-11 9h0m11 -28h0m-39 -1h0m40 6h0m-8 0h0m21 23h0m-32 -48h0m38 51h0m-56 -44h0m52 6h0m-52 -7h0m53 45h0m-39 -10h0m21 0h0m17 29h0m3 -1h0m-14 -52h0m14 33h0m-67 -14h0m55 35h0m-27 -44h0m-32 -1h0m42 -13h0m20 -4h0m-33 -7h0m8 42h0m-45 -34h0m64 28h0m-19 4h0m19 -15h0m22 -6h0m-49 15h0m34 -11h0m8 31h0m-59 -32h0m-7 9h0m23 7h0m28 -37h0m0 23h0m0 -19h0m-50 26h0m39 -22h0m-32 1h0m-12 11h0m61 38h0m12 14h0m-34 -48h0m-2 1h0m35 38h0m-60 -66h0m28 32h0m3 -1h0m-28 -28h0m43 1h0m-68 11h0m53 4h0m-6 12h0m12 6h0m-14 11h0m-22 -36h0m-3 15h0m3 5h0m48 23h0m-23 -27h0m-22 7h0m11 -5h0m30 -2h0m-3 -22h0m-55 19h0m47 -8h0m17 34h0m-57 -27h0m22 2h0m16 -15h0m15 26h0m-45 -22h0m61 8h0m-49 4h0m-6 -18h0m-12 18h0m55 -15h0m-44 22h0m-19 -17h0m74 24h0m-16 -30h0m-1 14h0m-50 0h0m4 11h0m29 -3h0m34 24h0m-75 -35h0m10 -16h0m13 -9h0m-11 9h0m58 7h0m4 63h0m-56 -41h0m6 -14h0m-3 13h0m-18 -3h0m15 -36h0m56 64h0m-1 -19h0m-60 -16h0m59 30h0m-39 -54h0m20 18h0m24 12h0m-56 -15h0m34 50h0m16 -14h0m-72 -19h0m12 2h0m18 -12h0m-9 0h0m29 2h0m19 14h0m-57 2h0m43 22h0m-17 -45h0m28 -14h0m-23 12h0m35 29h0m-65 -30h0m4 -3h0m35 22h0m-46 -23h0m5 -5h0m1 33h0m-20 -26h0m10 1h0m74 41h0m-18 4h0m0 -53h0m21 20h0m-46 22h0m31 -13h0m7 -9h0m3 28h0m-55 -26h0m51 -16h0m-48 15h0m58 31h0m-21 -28h0m10 -12h0m6 50h0m-63 -62h0m59 7h0m-4 47h0m-73 -42h0m40 13h0m-30 -5h0m58 46h0m4 -64h0m8 7h0m-60 10h0m4 -9h0m40 -6h0m-47 27h0m2 3h0m19 -40h0m29 11h0m7 52h0m12 13h0m-3 -40h0m-51 -25h0m-6 3h0m25 2h0m-24 10h0m6 7h0m3 -1h0m21 -15h0m-46 4h0m-5 -18h0m68 9h0m-42 20h0m52 1h0m-26 0h0m-46 -6h0m71 8h0m-3 24h0m-52 -32h0m46 30h0m-23 -23h0m16 -6h0m-24 11h0m43 -13h0m-37 25h0m-14 -16h0m2 -26h0m10 17h0m-24 -1h0m35 10h0m16 15h0m12 24h0m-60 -30h0m-10 -18h0m3 -26h0m8 23h0m50 -16h0m-25 9h0m-20 16h0m16 -1h0m5 5h0m-44 -31h0m7 28h0m44 -31h0m-8 33h0m18 -24h0m-52 12h0m45 -17h0m17 9h0m-29 31h0m19 -1h0m1 -34h0m-28 -6h0m18 24h0m-36 8h0m57 44h0m-27 -47h0m3 -9h0m4 10h0m-15 -13h0m5 14h0m-17 -5h0m23 -9h0m11 -10h0m-48 17h0m12 -1h0m16 3h0m30 34h0m-68 -52h0m13 10h0m61 50h0m-151 -190h0m17 27h0m-4 1h0m6 5h0m79 11h0m-85 -6h0m56 21h0m28 -11h0m-66 -5h0m48 -4h0m-42 -22h0m10 6h0m-38 4h0m-4 -26h0m67 39h0m-62 -42h0m7 5h0m-6 29h0m79 8h0m-68 -10h0m-16 -7h0m49 29h0m51 15h0m-55 -28h0m-41 -43h0m2 32h0m35 -13h0m-49 15h0m7 -4h0m7 9h0m24 -14h0m-20 -14h0m3 18h0m66 36h0m-55 -58h0m-8 2h0m15 2h0m-28 9h0m89 47h0m-56 -50h0m31 38h0m-65 -30h0m-6 -13h0m71 5h0m-65 -17h0m0 24h0m88 29h0m-31 -31h0m-40 27h0m-8 7h0m41 -6h0m-62 -34h0m15 39h0m0 -44h0m24 12h0m45 11h0m-5 9h0m-44 0h0m-3 -30h0m-25 22h0m59 25h0m-20 -10h0m-38 3h0m65 -6h0m-53 11h0m44 -17h0m27 -4h0m-38 18h0m-47 -33h0m49 30h0m-52 -38h0m59 41h0m25 -17h0m-40 -6h0m-47 2h0m41 -10h0m-15 1h0m39 -10h0m-36 -4h0m-14 7h0m36 9h0m-25 8h0m0 -24h0m-8 10h0m-8 -12h0m55 52h0m-36 -13h0m-32 -37h0m21 -1h0m25 14h0m48 36h0m3 6h0m-26 -3h0m11 -21h0m-35 -31h0m-1 12h0m-2 13h0m9 -2h0m-7 -21h0m-34 -8h0m18 0h0m27 29h0m-50 -12h0m73 3h0m17 7h0m-78 -22h0m58 22h0m-56 -12h0m-27 14h0m97 32h0m-17 -46h0m-65 18h0m83 -10h0m-14 32h0m-51 -55h0m53 35h0m-13 -10h0m-39 3h0m61 5h0m-4 16h0m-68 -44h0m53 55h0m-17 -29h0m57 37h0m-91 -25h0m49 2h0m-37 0h0m80 -6h0m-36 3h0m-14 -21h0m43 -3h0m-84 6h0m17 23h0m43 0h0m-25 -36h0m-20 3h0m-19 0h0m10 35h0m-21 -18h0m61 17h0m-69 -27h0m56 20h0m48 4h0m-85 -8h0m53 -20h0m-5 33h0m-3 -32h0m-43 3h0m18 18h0m64 13h0m-61 -26h0m26 29h0m-67 -20h0m30 -13h0m19 -10h0m-26 -19h0m79 64h0m-72 -45h0m82 12h0m-28 31h0m-67 -38h0m22 -3h0m13 18h0m28 9h0m-56 -30h0m16 36h0m-28 -49h0m5 53h0m90 -21h0m-66 -7h0m-35 -4h0m41 1h0m52 39h0m-59 -44h0m8 32h0m22 -17h0m31 31h0m-59 -36h0m-8 27h0m53 -21h0m-30 25h0m-43 -54h0m-12 27h0m75 -16h0m3 31h0m-74 4h0m17 4h0m74 4h0m-13 -22h0m-36 -27h0m-33 43h0m91 -18h0m-88 -21h0m8 18h0m-3 -2h0m31 11h0m-35 -19h0m10 28h0m11 -5h0m46 -6h0m-48 -18h0m-27 -19h0m61 57h0m-64 -23h0m81 -1h0m-3 0h0m-2 14h0m-47 -42h0m32 18h0m-54 -27h0m63 33h0m-33 25h0m32 -18h0m11 25h0m-42 -46h0m-22 -18h0m19 56h0m-38 -28h0m4 4h0m49 17h0m-22 -4h0m35 0h0m-38 -31h0m-25 -7h0m66 13h0m7 0h0m-21 31h0m-54 -20h0m36 -22h0m-4 0h0m-14 41h0m40 -24h0m-34 -9h0m-21 21h0m5 -17h0m85 45h0m-73 -11h0m73 11h0m-60 -47h0m18 -3h0m-31 39h0m54 -31h0m-13 -2h0m-43 -9h0m32 41h0m-22 -23h0m-6 -10h0m-3 22h0m-16 -29h0m39 10h0m26 -5h0m-15 23h0m31 -21h0m-64 9h0m25 21h0m-36 -34h0m44 30h0m44 3h0m-7 -7h0m-91 -30h0m9 -12h0m43 44h0m-35 12h0m11 -18h0m29 2h0m-7 -4h0m-15 -26h0m25 31h0m-38 6h0m64 -15h0m-10 -6h0m-12 29h0m-11 -13h0m41 18h0m1 -28h0m-16 -8h0m-56 -7h0m-8 1h0m46 -3h0m11 42h0m-61 -58h0m50 37h0m-56 5h0m96 7h0m-26 -20h0m-65 -22h0m83 52h0m-27 -32h0m-69 -4h0m88 36h0m-10 -3h0m-59 -37h0m39 4h0m-28 16h0m72 28h0m-100 -23h0m5 -9h0m61 -5h0m-12 -7h0m10 -2h0m-6 6h0m-3 3h0m-30 -25h0m-25 24h0m26 31h0m47 -11h0m-42 -44h0m62 57h0m-60 -11h0m11 -25h0m-3 25h0m-16 -30h0m15 33h0m-21 -45h0m83 48h0m-92 -40h0m93 14h0m-69 -27h0m18 29h0m33 -15h0m-44 7h0m-5 0h0m29 24h0m-37 -16h0m14 -21h0m-14 3h0m12 -5h0m-5 37h0m8 -29h0m30 30h0m-32 2h0m21 -6h0m-44 -23h0m58 4h0m1 -11h0m-39 15h0m-18 -12h0m-6 -7h0m63 30h0m-30 -23h0m19 23h0m-57 -38h0m59 45h0m-33 -28h0m24 22h0m-40 -25h0m41 29h0m27 -19h0m-81 13h0m-2 -23h0m71 -2h0m26 44h0m-20 -34h0m-62 9h0m-22 1h0m22 12h0m57 4h0m-62 -34h0m1 -16h0m59 28h0m-81 5h0m56 15h0m11 7h0m12 -4h0m-27 -6h0m-53 1h0m26 -21h0m-17 17h0m88 -9h0m-18 -10h0m-16 -2h0m40 40h0m-80 -14h0m78 10h0m-69 -5h0m41 -37h0m18 10h0m-63 -4h0m61 26h0m10 17h0m-59 -42h0m19 13h0m-51 -20h0m18 -8h0m-10 15h0m61 1h0m-8 28h0m-11 -29h0m-52 19h0m14 -29h0m79 31h0m14 16h0m-70 -39h0m10 -5h0m-20 0h0m19 -3h0m-33 41h0m-11 -36h0m104 51h0m-34 -26h0m7 -17h0m-79 23h0m68 -9h0m-46 -27h0m5 45h0m44 -28h0m38 11h0m-12 31h0m-51 -29h0m-15 12h0m-5 -34h0m0 -18h0m5 46h0m3 -36h0m-27 20h0m102 -6h0m-66 22h0m-18 -3h0m51 10h0m-33 -3h0m-9 1h0m-1 -10h0m-17 14h0m34 -1h0m-41 -13h0m16 9h0m-14 -12h0m52 -11h0m19 13h0m-36 -6h0m-44 -21h0m82 28h0m-50 -16h0m41 -6h0m27 10h0m-69 14h0m-16 -33h0m3 11h0m3 25h0m80 15h0m-36 -48h0m-15 19h0m-4 -21h0m-33 19h0m64 3h0m19 32h0m-90 -45h0m56 21h0m-41 18h0m23 -17h0m53 -10h0m-56 -24h0m-38 32h0m90 -23h0m-21 32h0m-29 -8h0m-22 -5h0m63 11h0m-56 0h0m0 -28h0m-25 24h0m28 -41h0m32 42h0m7 7h0m-38 4h0m30 -20h0m-12 -4h0m-41 -35h0m43 18h0m-6 17h0m17 22h0m0 -11h0m-14 13h0m-52 -24h0m44 -13h0m-24 -15h0m-6 3h0m76 13h0m-13 8h0m-22 0h0m49 -12h0m-86 -13h0m54 51h0m-31 -37h0m2 -7h0m37 37h0m33 -31h0m-24 5h0m-36 17h0m53 30h0m-8 -7h0m-63 -35h0m4 11h0m0 -19h0m-35 23h0m74 8h0m1 -15h0m-49 -40h0m64 37h0m-50 -7h0m40 10h0m25 26h0m-1 9h0m-92 -70h0m49 46h0m10 3h0m-32 -6h0m-4 -28h0m-33 18h0m45 6h0m46 23h0m-84 -6h0m47 -6h0m-64 -14h0m49 13h0m-30 -28h0m82 38h0m-53 -35h0m-20 -19h0m-1 32h0m29 -3h0m50 -13h0m-53 34h0m-1 -6h0m-42 -25h0m8 16h0m8 -21h0m1 -12h0m24 24h0m-11 -7h0m60 19h0m-7 -13h0m-59 -30h0m-14 -3h0m26 32h0m-37 9h0m72 4h0m-73 -23h0m37 -11h0m-4 30h0m47 -17h0m7 42h0m-54 -32h0m60 10h0m-57 -24h0m57 43h0m-64 -16h0m-7 -24h0m44 10h0m-29 -9h0m3 27h0m36 -12h0m-36 16h0m-26 -8h0m68 -21h0m-29 26h0m-28 -33h0m-22 24h0m48 14h0m-34 -37h0m58 12h0m-46 -13h0m34 6h0m-66 -7h0m81 14h0m10 31h0m-61 -7h0m-27 -39h0m9 20h0m98 0h0m-77 3h0m74 -17h0m-94 -12h0m66 19h0m-46 4h0m-13 -19h0m66 43h0m-21 -11h0m-45 -5h0m53 17h0m-47 -27h0m43 25h0m-6 -17h0m-58 -2h0m17 -6h0m46 -1h0m-53 -22h0m39 32h0m-46 -2h0m79 -15h0m-2 17h0m-8 19h0m1 -30h0m-30 8h0m-16 15h0m-12 -28h0m64 41h0m-28 -13h0m-34 4h0m9 -40h0m12 3h0m-34 13h0m30 21h0m-19 -47h0m54 47h0m-1 -4h0m-75 -16h0m14 -6h0m0 6h0m45 11h0m-18 -18h0m43 23h0m-51 5h0m39 -13h0m-64 11h0m16 -29h0m47 3h0m38 43h0m-110 -48h0m31 -10h0m-22 -6h0m25 20h0m48 32h0m-67 -2h0m23 -7h0m-26 -32h0m-3 1h0m94 17h0m1 19h0m-1 -7h0m-16 -22h0m-6 24h0m9 -14h0m29 40h0m-31 -41h0m2 21h0m-18 8h0m4 -33h0m-56 -14h0m59 39h0m4 8h0m-7 -13h0m26 0h0m-36 -16h0m-25 10h0m-29 -43h0m52 53h0m43 10h0m-21 -35h0m-73 -22h0m183 19h0m-60 40h0m31 -35h0m25 8h0m-44 22h0m-25 -9h0m-6 38h0m64 -35h0m-4 -21h0m28 12h0m-52 3h0m-69 30h0m95 -52h0m-54 46h0m8 -17h0m-44 20h0m91 -31h0m29 -12h0m-16 -16h0m-17 5h0m-30 40h0m53 -45h0m-65 1h0m0 20h0m44 -6h0m-52 40h0m84 -39h0m-57 18h0m-1 11h0m-58 16h0m19 -3h0m41 -10h0m-39 -9h0m56 -21h0m14 10h0m-53 18h0m50 6h0m-45 -8h0m-20 14h0m28 -14h0m68 -31h0m-84 5h0m-12 46h0m65 -18h0m-30 5h0m-3 -32h0m-18 -26h0m81 20h0m-60 36h0m-37 17h0m71 -62h0m-75 56h0m16 -40h0m60 -2h0m-34 7h0m-4 -16h0m7 33h0m-13 -50h0m-4 25h0m-13 36h0m41 -32h0m10 -14h0m-56 -10h0m-7 58h0m4 -1h0m10 -51h0m-22 49h0m93 -37h0m-104 46h0m47 -18h0m-42 24h0m38 -29h0m53 -19h0m-32 27h0m-34 -41h0m2 16h0m1 -5h0m51 25h0m-36 -53h0m-60 75h0m110 -39h0m-65 27h0m4 -23h0m58 13h0m11 -37h0m-68 27h0m-9 -23h0m4 45h0m15 -19h0m-20 -44h0m16 35h0m-1 -26h0m-3 44h0m67 -37h0m-77 18h0m8 -1h0m65 -9h0m-32 3h0m-23 9h0m52 -12h0m-70 -13h0m7 26h0m10 -15h0m-5 25h0m39 -16h0m1 32h0m8 -32h0m-13 -2h0m-46 -14h0m71 14h0m-16 2h0m-53 36h0m4 -14h0m65 -21h0m-75 29h0m19 -55h0m-11 -11h0m13 26h0m41 9h0m-19 19h0m-45 2h0m48 -22h0m-63 41h0m109 -52h0m-25 -4h0m-14 44h0m-40 -48h0m-17 64h0m23 -11h0m-9 -51h0m48 48h0m35 -45h0m-62 -8h0m-24 12h0m-32 54h0m59 -36h0m14 19h0m-40 -37h0m8 27h0m-51 23h0m104 -53h0m-38 5h0m29 19h0m-57 -29h0m5 1h0m3 50h0m6 -33h0m77 -9h0m-87 7h0m-10 26h0m49 -10h0m30 -19h0m-74 49h0m8 -52h0m-29 54h0m6 3h0m25 -21h0m7 -13h0m32 -21h0m3 9h0m24 -24h0m-58 26h0m19 9h0m3 4h0m-37 -33h0m7 -17h0m4 33h0m-8 -21h0m7 27h0m-5 -15h0m74 15h0m-32 -24h0m-48 53h0m66 -6h0m-6 -48h0m-36 20h0m19 -1h0m-26 -29h0m37 59h0m31 -49h0m-7 25h0m-83 -38h0m4 71h0m83 -60h0m-101 59h0m27 -36h0m2 -6h0m-5 28h0m31 8h0m24 -37h0m-30 -16h0m-29 6h0m76 6h0m-68 -6h0m78 -4h0m-58 30h0m51 -33h0m-17 32h0m-48 -21h0m-53 51h0m72 -35h0m-20 13h0m-2 1h0m8 -17h0m43 20h0m-13 -27h0m-63 46h0m15 -60h0m54 43h0m-5 3h0m-9 -28h0m-50 40h0m13 -26h0m47 -29h0m-23 8h0m-27 38h0m49 -54h0m5 19h0m-37 30h0m38 -13h0m14 -17h0m6 7h0m-81 40h0m85 -37h0m-21 20h0m-18 -44h0m-37 7h0m-9 -18h0m38 51h0m-13 -16h0m-3 -27h0m5 10h0m-1 16h0m-67 36h0m120 -36h0m-68 -23h0m72 24h0m-77 28h0m17 -12h0m52 -2h0m-67 -6h0m-13 28h0m17 -70h0m-20 69h0m-34 4h0m79 -26h0m-38 -4h0m56 -11h0m-56 35h0m33 -9h0m-8 -4h0m8 -45h0m47 32h0m-20 -32h0m-18 25h0m49 -9h0m-72 14h0m-20 14h0m37 -28h0m-22 3h0m20 23h0m-34 -3h0m57 -24h0m21 -3h0m-66 36h0m17 -2h0m-29 9h0m79 -27h0m-55 9h0m0 -48h0m-7 10h0m0 31h0m-24 17h0m22 -8h0m-3 -53h0m12 5h0m-19 27h0m58 5h0m-28 8h0m-37 -31h0m15 47h0m5 0h0m-7 -37h0m-47 50h0m31 -2h0m54 -28h0m37 -3h0m-7 -14h0m-9 2h0m-73 37h0m27 -47h0m3 41h0m-39 19h0m51 -30h0m41 -14h0m-55 -31h0m31 32h0m-54 35h0m-4 9h0m26 -21h0m-17 16h0m22 -19h0m50 -28h0m-71 5h0m21 4h0m-54 42h0m10 2h0m37 -18h0m-7 -35h0m-33 56h0m29 -12h0m54 -57h0m-53 47h0m-45 12h0m50 -21h0m-14 -31h0m-14 45h0m80 -56h0m-57 24h0m45 7h0m-25 -24h0m-40 57h0m69 -37h0m-51 -7h0m3 18h0m67 -31h0m-26 -2h0m-65 55h0m25 -54h0m4 30h0m42 -8h0m-22 -12h0m0 2h0m26 27h0m-13 -18h0m-31 -21h0m-1 15h0m-35 48h0m72 -49h0m34 -16h0m-15 19h0m-23 1h0m-33 6h0m-20 22h0m19 -23h0m48 -27h0m11 30h0m-71 -30h0m58 7h0m-68 62h0m-17 -9h0m27 -4h0m-16 -1h0m13 13h0m29 -33h0m40 -10h0m-17 20h0m5 -2h0m-47 -27h0m13 -24h0m-20 32h0m5 -11h0m-8 44h0m57 -49h0m-78 61h0m68 -66h0m11 7h0m-67 57h0m84 -35h0m-91 35h0m22 -19h0m-11 14h0m40 -44h0m35 31h0m-5 -7h0m15 -16h0m-87 -40h0m28 55h0m5 7h0m-34 12h0m51 -8h0m29 -26h0m-67 11h0m58 -30h0m-29 14h0m51 -4h0m-88 33h0m15 -54h0m43 17h0m-35 16h0m-44 39h0m79 -68h0m26 26h0m-119 36h0m36 -20h0m58 1h0m34 -27h0m-14 -19h0m-26 34h0m-43 -24h0m67 3h0m-111 51h0m8 3h0m59 -49h0m4 15h0m-24 5h0m-18 30h0m44 -29h0m39 -17h0m-56 -1h0m35 4h0m-25 -3h0m12 35h0m-27 -18h0m-27 29h0m49 -52h0m34 -13h0m-68 38h0m66 -36h0m-58 -22h0m62 24h0m-73 -16h0m36 24h0m10 -16h0m0 19h0m15 6h0m-21 -10h0m37 -5h0m-63 23h0m-5 4h0m9 13h0m17 -48h0m43 13h0m-67 11h0m60 -12h0m7 11h0m-57 -26h0m-4 40h0m54 -14h0m-6 -19h0m-63 -8h0m52 46h0m-2 -15h0m23 -17h0m-12 2h0m-6 -1h0m11 12h0m7 10h0m3 0h0m-64 12h0m19 -25h0m-30 -16h0m23 37h0m8 -8h0m5 -25h0m-26 36h0m2 -19h0m36 -20h0m32 12h0m-56 6h0m2 -25h0m-14 45h0m2 11h0m43 -51h0m-18 54h0m-9 -9h0m-26 -58h0m6 26h0m62 7h0m-21 27h0m-42 -3h0m65 -26h0m-3 -9h0m-68 36h0m19 6h0m13 -5h0m-2 -41h0m20 12h0m-35 30h0m-19 -41h0m34 47h0m-29 -24h0m24 14h0m51 -23h0m-6 -15h0m-68 -5h0m24 46h0m-34 18h0m61 -42h0m-3 0h0m19 12h0m-103 33h0m44 -63h0m12 10h0m55 17h0m-23 -18h0m-54 -10h0m8 45h0m-6 -36h0m66 9h0m-62 -23h0m-7 48h0m9 -48h0m17 51h0m-30 -1h0m33 -15h0m-66 25h0m42 -38h0m40 0h0m-25 28h0m7 -13h0m41 -34h0m-62 29h0m-43 30h0m55 -44h0m-13 -17h0m56 15h0m-90 45h0m73 -17h0m-55 -4h0m15 3h0m32 12h0m26 -11h0m1 -13h0m11 -25h0m-45 44h0m-36 -51h0m7 13h0m21 20h0m60 -20h0m-74 40h0m-4 4h0m75 -35h0m-8 -20h0m-48 46h0m-51 15h0m68 -26h0m11 -21h0m21 3h0m-17 2h0m-60 44h0m26 -45h0m-30 43h0m18 -55h0m10 41h0m31 -44h0m-31 -10h0m-26 69h0m39 -48h0m48 14h0m-96 34h0m61 -12h0m-9 -8h0m37 -11h0m-67 -48h0m20 50h0m-16 -10h0m-4 -25h0m-7 -7h0m-6 78h0m8 -58h0m-37 55h0m93 -34h0m-24 -13h0m8 16h0m-8 -30h0m48 21h0m-88 -23h0m41 6h0m-69 55h0m104 -54h0m-8 10h0m3 -19h0m-59 -1h0m69 18h0m-65 34h0m-2 -33h0m14 27h0m-11 -37h0m-37 62h0m53 -60h0m-26 41h0m-7 -4h0m88 -33h0m-57 -17h0m46 1h0m-69 16h0m-28 55h0m31 -55h0m2 -3h0m-2 6h0m44 28h0m-57 17h0m56 -36h0m31 -12h0m-69 10h0m-34 40h0m86 -21h0m-78 13h0m38 -9h0m-14 -26h0m20 -9h0m10 25h0m-3 -9h0m-32 16h0m76 -23h0m-53 -28h0m-23 25h0m80 3h0m-77 -11h0m6 38h0m67 -18h0m-58 -1h0m0 5h0m-8 -7h0m10 -33h0m1 54h0m-15 -42h0m48 20h0m-22 14h0m-189 -104h0m115 32h0m-67 -65h0m13 0h0m-33 12h0m16 26h0m58 28h0m-56 -63h0m22 26h0m-13 -36h0m14 35h0m-52 8h0m67 -13h0m-36 14h0m30 2h0m-35 -34h0m7 -4h0m18 30h0m-69 1h0m75 -17h0m-10 -11h0m-20 30h0m55 9h0m-57 -20h0m6 -24h0m24 22h0m-29 -24h0m72 70h0m-42 -47h0m-55 16h0m13 3h0m73 2h0m-20 -14h0m-37 -22h0m48 16h0m-2 -31h0m3 77h0m-12 -55h0m-48 22h0m73 37h0m-23 -57h0m-27 -14h0m-10 -2h0m-8 29h0m44 30h0m-17 -68h0m39 43h0m4 29h0m-84 -50h0m61 19h0m-38 -21h0m-28 8h0m62 45h0m-81 -28h0m59 13h0m6 -22h0m21 -7h0m-3 15h0m-42 -13h0m3 21h0m-3 2h0m-16 -20h0m35 -25h0m-11 13h0m32 -24h0m-31 46h0m-21 1h0m10 1h0m15 -9h0m34 2h0m-2 -24h0m23 57h0m13 -2h0m-62 -57h0m18 7h0m-31 22h0m72 25h0m-106 -19h0m94 23h0m-31 -9h0m-3 -36h0m6 22h0m-67 -7h0m45 -36h0m32 32h0m31 31h0m-94 -27h0m71 1h0m-104 8h0m30 -18h0m97 31h0m-93 -16h0m43 -15h0m36 48h0m-49 -69h0m16 3h0m8 2h0m29 58h0m-70 -29h0m43 -35h0m-11 24h0m-28 -24h0m19 -10h0m-2 17h0m20 -13h0m-66 44h0m61 6h0m-56 -4h0m77 -21h0m-61 4h0m26 -13h0m2 23h0m-15 9h0m40 18h0m9 2h0m-4 -15h0m-6 -22h0m-93 17h0m96 -20h0m21 50h0m-109 -30h0m42 -20h0m-10 -10h0m59 36h0m-84 -27h0m-20 21h0m23 -2h0m1 -14h0m65 -13h0m24 23h0m-29 -29h0m18 3h0m-91 27h0m54 -4h0m-18 0h0m49 14h0m-33 -14h0m6 -27h0m-14 16h0m2 12h0m-46 5h0m60 -34h0m-23 33h0m-6 -23h0m7 -7h0m1 32h0m53 22h0m14 -6h0m-60 -37h0m35 -3h0m-59 15h0m72 -27h0m-57 34h0m48 -9h0m0 1h0m-48 1h0m-47 3h0m107 11h0m-29 -25h0m23 -25h0m-45 44h0m15 6h0m32 -22h0m-11 1h0m-21 -29h0m21 67h0m-12 -41h0m-17 29h0m68 4h0m-33 -38h0m-2 -3h0m-48 18h0m-9 1h0m54 1h0m-8 -27h0m-80 28h0m122 22h0m-1 -8h0m-102 -13h0m25 -17h0m-12 9h0m50 -1h0m-11 -1h0m14 -26h0m-23 53h0m31 7h0m4 -39h0m-17 -16h0m-37 -1h0m48 14h0m-1 -10h0m-84 30h0m47 1h0m12 -15h0m33 -2h0m-26 -13h0m-52 21h0m46 -1h0m-14 -9h0m-31 16h0m2 4h0m45 -37h0m-7 33h0m15 -18h0m12 47h0m1 1h0m-4 -21h0m-80 -13h0m112 21h0m-58 -48h0m-17 21h0m15 15h0m11 -7h0m4 -9h0m4 6h0m3 9h0m-20 -30h0m42 50h0m9 -1h0m-31 -53h0m16 64h0m-96 -42h0m81 -33h0m16 30h0m-3 41h0m-8 -68h0m11 25h0m-57 13h0m18 -21h0m27 -13h0m-38 6h0m25 35h0m-60 -12h0m63 -13h0m39 43h0m-42 -20h0m-38 -4h0m52 -14h0m29 21h0m2 20h0m-43 -49h0m-75 25h0m49 -13h0m55 35h0m-46 -60h0m3 2h0m40 2h0m-12 61h0m0 -4h0m18 -35h0m-37 -16h0m-1 -4h0m6 14h0m-51 3h0m63 -20h0m7 60h0m-31 -67h0m-35 42h0m54 -29h0m-42 17h0m50 4h0m-42 -29h0m41 30h0m5 -18h0m-21 -8h0m-43 34h0m60 -12h0m1 -25h0m-25 12h0m-29 23h0m57 -27h0m-74 27h0m68 -23h0m23 19h0m-12 -19h0m-81 24h0m62 -17h0m-20 22h0m18 -24h0m5 12h0m-1 -9h0m-43 13h0m11 -36h0m-6 32h0m49 -4h0m22 21h0m-50 -15h0m-52 -1h0m57 6h0m20 -27h0m24 55h0m-110 -23h0m112 27h0m-29 -66h0m-3 32h0m-52 -3h0m84 4h0m-91 0h0m9 -9h0m76 8h0m-105 -7h0m120 25h0m-60 -47h0m0 27h0m-2 -24h0m50 31h0m-63 -34h0m24 -19h0m25 56h0m9 -2h0m-72 -27h0m34 -19h0m50 53h0m-16 -31h0m-26 13h0m-3 -6h0m-28 -19h0m7 19h0m6 15h0m-41 -4h0m38 5h0m24 -15h0m-56 -5h0m95 42h0m-97 -49h0m-24 27h0m81 -4h0m-72 -3h0m69 -9h0m0 -31h0m-15 -2h0m-15 27h0m0 -11h0m48 17h0m28 19h0m-51 5h0m-5 -34h0m16 -13h0m7 26h0m3 15h0m-17 -25h0m-39 -6h0m46 24h0m-33 -12h0m40 1h0m22 49h0m-47 -81h0m14 13h0m37 33h0m-4 -1h0m10 28h0m-25 -46h0m2 -23h0m-46 -3h0m-2 45h0m48 4h0m-38 -11h0m1 5h0m-38 -1h0m55 12h0m11 14h0m22 -5h0m-21 -42h0m-26 22h0m56 5h0m1 12h0m-35 -55h0m-66 37h0m56 -10h0m25 31h0m-25 -1h0m-4 -4h0m46 11h0m5 -13h0m-114 -27h0m71 16h0m-26 -27h0m10 -5h0m-21 26h0m53 -6h0m27 33h0m-32 -36h0m-25 22h0m57 -2h0m-77 -20h0m3 -23h0m53 46h0m-33 -16h0m52 18h0m-31 -13h0m-35 -40h0m33 -3h0m1 20h0m-49 5h0m4 23h0m42 -52h0m-86 47h0m112 29h0m-54 -46h0m-28 -4h0m56 25h0m-75 -1h0m33 -41h0m27 27h0m45 23h0m-96 -11h0m99 25h0m-28 -39h0m-7 18h0m-21 -6h0m-26 0h0m82 12h0m-70 -11h0m28 -21h0m-32 16h0m-15 7h0m47 -47h0m29 54h0m-90 -22h0m80 8h0m-57 -21h0m25 44h0m20 -71h0m-88 43h0m95 2h0m18 34h0m7 -2h0m-93 -19h0m37 -36h0m-2 4h0m-39 28h0m65 7h0m-48 -6h0m83 35h0m-21 -45h0m9 -2h0m4 37h0m-96 -24h0m82 -35h0m-91 30h0m29 -19h0m53 -19h0m24 54h0m-65 -29h0m46 28h0m-46 -22h0m29 8h0m-11 -39h0m14 55h0m22 -32h0m-62 -12h0m-7 28h0m42 -15h0m42 37h0m-67 -62h0m76 65h0m-37 -49h0m34 34h0m-95 -24h0m79 25h0m-7 1h0m-94 -19h0m87 -10h0m-93 10h0m82 -33h0m-3 9h0m-19 7h0m66 40h0m-57 -54h0m-29 34h0m61 10h0m-35 -2h0m54 18h0m-10 -28h0m-74 11h0m20 -47h0m-38 44h0m33 -6h0m-20 -9h0m23 -9h0m17 -4h0m-7 14h0m-19 7h0m68 31h0m6 -17h0m-4 8h0m-95 -28h0m53 -34h0m41 56h0m-54 -17h0m-7 2h0m-13 0h0m43 14h0m-23 -41h0m-11 11h0m41 -13h0m-10 11h0m-42 14h0m-27 14h0m7 -14h0m33 -11h0m14 -18h0m28 69h0m-42 -38h0m-29 6h0m91 11h0m-54 -6h0m20 -17h0m11 8h0m-31 -34h0m6 16h0m-21 -4h0m-32 15h0m10 10h0m59 -10h0m-10 26h0m15 -46h0m31 45h0m-105 -10h0m50 -38h0m-50 36h0m82 -33h0m-54 30h0m62 -13h0m18 38h0m-118 -31h0m57 -11h0m37 -15h0m-2 44h0m-43 -24h0m-9 14h0m-2 0h0m-24 -14h0m102 33h0m-49 -18h0m-47 -17h0m32 -2h0m32 8h0m-3 -17h0m14 9h0m-12 18h0m27 9h0m-40 -13h0m7 23h0m-10 -52h0m-71 38h0m65 -12h0m33 -18h0m-82 28h0m-12 -15h0m94 -21h0m20 58h0m-34 -57h0m21 14h0m24 40h0m-56 -57h0m22 0h0m-14 34h0m20 19h0m-16 -22h0m8 -32h0m-6 46h0m6 -52h0m-10 -3h0m32 46h0m-108 -11h0m89 23h0m6 -24h0m-10 -11h0m13 45h0m-34 -36h0m-29 -1h0m-1 11h0m87 26h0m-49 -33h0m23 -18h0m-3 11h0m-16 7h0m-51 13h0m0 -23h0m-24 6h0m-2 20h0m42 -13h0m-34 2h0m68 -35h0m-33 21h0m-27 16h0m31 -41h0m-3 23h0m-23 15h0m67 -14h0m-15 -32h0m-27 41h0m30 -10h0m24 34h0m-13 -29h0m-14 0h0m6 -25h0m-27 49h0m48 1h0m-8 -6h0m-65 -17h0m20 -2h0m-7 7h0m-16 10h0m72 -38h0m-46 39h0m18 -5h0m-1 11h0m31 9h0m-15 -31h0m-68 17h0m22 -30h0m74 22h0m-50 -31h0m-9 18h0m0 -6h0m28 9h0m-18 -20h0m35 34h0m69 -24h0m-8 6h0m10 4h0m0 -17h0m-26 13h0m35 30h0m-26 -34h0m14 24h0m-23 -19h0m-10 5h0m46 13h0m-36 -14h0m30 -3h0m-14 1h0m26 15h0m-15 -27h0m8 35h0m-14 -25h0m0 -19h0m-2 29h0m-16 -24h0m15 1h0m-29 10h0m38 21h0m4 10h0m-16 -47h0m-5 13h0m5 20h0m-6 -25h0m27 27h0m-6 -6h0m-18 -21h0m6 32h0m5 -30h0m-22 11h0m11 -9h0m-9 -5h0m23 18h0m5 -20h0m-30 14h0m7 -11h0m-6 2h0m22 15h0m-6 -5h0m-21 7h0m25 1h0m-7 -17h0m9 7h0m-14 -1h0m-10 6h0m28 20h0m-26 -36h0m-2 16h0m14 -12h0m-28 4h0m46 13h0m1 8h0m-5 6h0m-15 -40h0m16 39h0m-40 -19h0m26 -11h0m-4 15h0m7 4h0m7 -16h0m-12 2h0m3 8h0m-3 -4h0m-2 -11h0m19 4h0m-23 -12h0m42 62h0m-48 -50h0m12 5h0m7 9h0m-30 -7h0m18 1h0m22 5h0m-31 -19h0m9 -4h0m4 20h0m9 -23h0m-20 20h0m1 6h0m6 -27h0m23 49h0m-8 -25h0m9 16h0m-19 -31h0m6 -1h0m2 15h0m0 -6h0m0 7h0m-1 -3h0m1 -12h0m12 42h0m-36 -46h0m50 52h0m-23 -44h0m13 24h0m-37 -16h0m25 11h0m-7 -26h0m12 4h0m1 26h0m15 26h0m-25 -34h0m-5 1h0m-7 -5h0m10 -19h0m2 6h0m16 27h0m-41 -27h0m21 24h0m12 -19h0m-27 -11h0m31 33h0m-15 -16h0m-12 1h0m25 13h0m-3 -6h0m18 12h0m-10 -3h0m9 16h0m-45 -26h0m9 -21h0m-1 7h0m32 27h0m-13 -9h0m3 -4h0m4 12h0m-6 -3h0m-22 -19h0m5 -14h0m10 4h0m16 15h0m-41 -16h0m26 19h0m-21 -13h0m7 -12h0m-5 5h0m8 3h0m22 5h0m-16 1h0m7 8h0m-9 -4h0m2 -12h0m6 8h0m7 22h0m13 0h0m-19 -7h0m1 -27h0m-7 22h0m-15 -11h0m32 21h0m-7 -25h0m9 19h0m2 20h0m-30 -15h0m3 -20h0m23 26h0m-2 1h0m-9 -23h0m-25 8h0m-1 -17h0m26 11h0m-29 4h0m22 -15h0m18 14h0m-20 -18h0m10 4h0m-27 16h0m35 19h0m-12 -27h0m1 -11h0m17 28h0m-13 11h0m-12 -42h0m11 5h0m-37 5h0m36 28h0m-4 -15h0m-2 -24h0m-14 8h0m20 15h0m-4 4h0m-20 -22h0m24 4h0m-20 7h0m8 6h0m-27 -7h0m42 18h0m-29 -11h0m26 -6h0m9 4h0m-14 -19h0m-1 5h0m4 10h0m3 14h0m-28 -7h0m56 35h0m-55 -52h0m33 27h0m-18 -19h0m11 -10h0m7 12h0m-24 -2h0m-9 -3h0m4 3h0m7 19h0m-9 -6h0m11 -17h0m-9 5h0m24 11h0m10 -1h0m-22 -10h0m-23 9h0m21 -21h0m18 19h0m-10 -24h0m20 52h0m-10 -5h0m29 14h0m-23 -19h0m-3 -34h0m-26 0h0m0 15h0m3 5h0m-6 -25h0m2 29h0m141 131h0m2 18h0m-26 2h0m27 6h0m-42 -19h0m-2 5h0m3 -9h0m43 12h0m-43 6h0m24 -19h0m16 -7h0m-8 12h0m-15 6h0m4 -9h0m20 5h0m-16 0h0m-22 5h0m-11 -11h0m15 4h0m39 -9h0m-6 40h0m-11 -40h0m-23 20h0m48 -12h0m-48 12h0m0 -4h0m44 -17h0m-31 16h0m15 -1h0m11 -9h0m-49 5h0m15 6h0m-11 0h0m43 -16h0m1 -1h0m-18 14h0m-31 1h0m4 0h0m53 -4h0m-27 2h0m26 -7h0m-56 2h0m43 10h0m-22 -4h0m-21 1h0m32 -5h0m19 9h0m-35 -1h0m-8 -5h0m26 0h0m-35 -10h0m32 4h0m11 14h0m4 -13h0m1 21h0m0 3h0m-40 -23h0m-5 -1h0m10 14h0m31 -28h0m-18 24h0m-16 14h0m39 -33h0m0 2h0m-6 25h0m-9 -5h0m-20 -15h0m37 27h0m-48 -14h0m33 -7h0m7 -7h0m15 17h0m-9 -25h0m-43 14h0m50 10h0m-8 2h0m-21 -12h0m-8 6h0m-11 -6h0m-1 15h0m8 -2h0m-15 -16h0m34 8h0m-26 1h0m0 -6h0m1 20h0m24 -16h0m0 -16h0m19 39h0m-45 -14h0m54 -3h0m-52 -7h0m42 12h0m-31 -11h0m25 14h0m-4 -19h0m5 3h0m-41 -8h0m25 10h0m19 -7h0m-36 11h0m5 -1h0m-7 -11h0m35 -2h0m-22 10h0m27 3h0m-15 -1h0m13 -21h0m10 34h0m-49 -11h0m42 2h0m-23 -12h0m27 -1h0m-24 -16h0m8 17h0m6 -11h0m-5 24h0m-8 -12h0m2 -11h0m-28 24h0m42 -2h0m0 -27h0m-17 21h0m-23 -4h0m38 13h0m1 -23h0m-26 16h0m6 -6h0m1 3h0m-20 -4h0m27 -4h0m-23 3h0m-9 4h0m7 13h0m24 -18h0m3 -8h0m17 22h0m-12 6h0m-30 -1h0m19 -21h0m28 16h0m-53 2h0m11 -7h0m38 20h0m-17 -30h0m9 7h0m-41 -1h0m28 -2h0m-22 -2h0m-10 2h0m42 10h0m-43 -9h0m33 9h0m13 1h0m-33 3h0m43 -11h0m-30 -9h0m8 6h0m1 5h0m20 5h0m-28 -18h0m14 22h0m-22 -6h0m20 6h0m3 -26h0m-31 22h0m48 -5h0m-54 -8h0m2 0h0m42 9h0m4 11h0m-11 -3h0m7 -2h0m-10 1h0m6 -31h0m-39 21h0m38 -17h0m6 32h0m-4 -34h0m-40 12h0m16 8h0m30 7h0m-8 16h0m-39 -6h0m50 -7h0m-49 1h0m1 0h0m34 -20h0m5 19h0m-16 -13h0m-5 6h0m20 23h0m12 -25h0m-10 11h0m-46 -18h0m58 8h0m-4 7h0m-26 -8h0m27 -11h0m-10 -3h0m-46 5h0m42 -4h0m12 10h0m-20 -4h0m23 -2h0m-57 14h0m38 -2h0m-27 -7h0m0 14h0m18 -26h0m-20 19h0m9 -1h0m14 -4h0m15 14h0m-3 -1h0m-45 -22h0m47 -8h0m-40 10h0m18 11h0m24 19h0m2 -22h0m-47 -2h0m48 -10h0m-54 -4h0m49 -4h0m-37 30h0m-2 6h0m44 -13h0m-49 7h0m13 -3h0m-35 90h0m69 -5h0m-35 5h0m-34 -9h0m32 -14h0m21 1h0m-21 27h0m19 -28h0m-58 21h0m39 -9h0m-2 5h0m24 -19h0m-17 12h0m9 -17h0m-34 7h0m22 13h0m15 14h0m5 -19h0m-2 -8h0m-43 26h0m22 -7h0m-6 -11h0m-30 11h0m13 -21h0m19 9h0m8 -2h0m12 29h0m-38 -33h0m36 5h0m14 -4h0m-27 19h0m-17 -26h0m10 19h0m20 -14h0m1 17h0m-50 -3h0m25 29h0m34 -12h0m-21 -39h0m30 33h0m-39 8h0m-31 -13h0m60 -16h0m-27 17h0m6 0h0m-10 -3h0m34 14h0m-12 4h0m-45 -19h0m12 4h0m28 -16h0m3 -18h0m22 25h0m-14 9h0m-49 3h0m51 1h0m-25 12h0m-19 -40h0m20 11h0m-17 29h0m33 -17h0m8 -3h0m15 3h0m-14 11h0m-64 -11h0m50 -24h0m-17 3h0m0 33h0m14 -29h0m18 15h0m-42 -20h0m40 14h0m-13 4h0m-2 10h0m-19 -17h0m19 14h0m-30 -2h0m0 -20h0m10 21h0m4 -25h0m21 24h0m-15 -10h0m4 -24h0m-3 42h0m-30 -23h0m56 -1h0m-40 -6h0m-13 13h0m33 30h0m-3 -35h0m-33 4h0m45 -11h0m-19 10h0m9 12h0m19 -20h0m-2 1h0m-61 20h0m17 -24h0m35 11h0m19 1h0m-64 -2h0m29 11h0m4 14h0m6 -26h0m-19 3h0m-16 3h0m28 -23h0m7 -5h0m7 20h0m-27 -5h0m32 9h0m-44 17h0m0 -1h0m30 -23h0m-7 19h0m5 -34h0m-13 11h0m-21 29h0m49 -16h0m-14 7h0m-20 -12h0m-12 11h0m45 8h0m1 -9h0m-1 -17h0m7 -3h0m-40 24h0m41 -13h0m-2 10h0m-11 -5h0m0 24h0m11 -32h0m-50 -1h0m18 -6h0m-4 11h0m-22 6h0m63 -25h0m-4 26h0m-53 -8h0m-4 11h0m23 14h0m7 9h0m-27 -25h0m37 -3h0m-46 0h0m28 8h0m13 3h0m4 -27h0m11 5h0m0 18h0m-6 -8h0m17 -7h0m-49 -2h0m10 9h0m17 24h0m-8 -3h0m-22 -28h0m5 -7h0m7 39h0m22 -46h0m-10 38h0m-23 -30h0m12 1h0m53 7h0m-50 26h0m30 -16h0m6 -26h0m-34 -5h0m1 42h0m40 -7h0m-25 -8h0m-22 4h0m15 7h0m-28 -3h0m47 2h0m-53 -9h0m42 2h0m-2 -7h0m-16 0h0m3 11h0m23 -5h0m3 10h0m6 -20h0m-49 4h0m32 6h0m-13 14h0m10 -11h0m-14 0h0m-6 -26h0m-9 42h0m-4 -13h0m-7 -13h0m19 -24h0m6 8h0m22 38h0m-43 0h0m38 -12h0m-22 -24h0m2 -4h0m-1 6h0m20 25h0m-16 13h0m27 -35h0m8 -6h0m-32 27h0m-11 -25h0m10 -1h0m16 18h0m11 -23h0m-58 24h0m61 -5h0m-26 -22h0m-27 15h0m38 12h0m6 -13h0m-37 29h0m4 -34h0m26 -9h0m-39 24h0m66 7h0m-61 -12h0m50 21h0m-29 -10h0m-20 -19h0m55 28h0m-58 -19h0m27 22h0m-5 -14h0m0 -29h0m44 34h0m-46 0h0m-15 14h0m17 -37h0m4 23h0m2 6h0m19 1h0m-39 -30h0m-6 6h0m19 33h0m21 -28h0m-7 -19h0m27 25h0m-51 -21h0m13 29h0m-13 -6h0m-16 12h0m35 -3h0m-14 -1h0m7 -14h0m11 30h0m-1 -32h0m29 7h0m-63 18h0m56 -25h0m-18 14h0m2 -15h0m-36 25h0m5 -35h0m33 -10h0m-6 27h0m-34 -17h0m51 36h0m-39 -15h0m23 -28h0m-40 30h0m10 -26h0m42 35h0m5 -24h0m-47 16h0m48 -18h0m-52 24h0m36 -3h0m-7 -21h0m9 1h0m1 35h0m19 -40h0m-45 -3h0m4 10h0m35 -1h0m-17 20h0m22 -15h0m-50 -18h0m26 12h0m-17 4h0m42 -10h0m-13 17h0m-39 4h0m46 -12h0m-35 5h0m-27 11h0m18 -20h0m31 33h0m-13 2h0m-34 -25h0m2 3h0m36 6h0m15 -31h0m0 24h0m14 9h0m-11 -7h0m-39 -14h0m28 -16h0m-6 17h0m18 2h0m-10 10h0m-16 4h0m-28 9h0m32 8h0m10 -16h0m1 21h0m-34 -9h0m23 -9h0m-21 3h0m44 -24h0m-16 16h0m-9 16h0m11 1h0m29 -16h0m-68 -17h0m18 1h0m20 28h0m-28 -37h0m2 1h0m-20 19h0m57 19h0m-6 -21h0m7 -3h0m-18 8h0m-27 -18h0m10 9h0m27 23h0m11 -37h0m-20 -9h0m5 36h0m0 -20h0m4 21h0m2 -18h0m-3 5h0m-10 17h0m-20 -39h0m-13 33h0m14 -24h0m23 13h0m13 21h0m-22 -18h0m38 2h0m-43 -23h0m-1 23h0m18 -8h0m-10 9h0m17 0h0m-38 18h0m43 -9h0m-40 -25h0m-16 9h0m58 -9h0m-24 30h0m-8 -21h0m23 12h0m-35 -24h0m-10 12h0m2 6h0m-5 0h0m-1 -3h0m8 -10h0m26 18h0m-22 12h0m-8 -30h0m57 35h0m-6 -45h0m-41 12h0m17 29h0m-30 -19h0m19 -8h0m-3 16h0m28 0h0m-35 12h0m11 -22h0m10 3h0m-6 -4h0m36 -11h0m1 26h0m-31 11h0m-24 -33h0m8 11h0m-6 14h0m14 -18h0m17 30h0m-35 -42h0m22 6h0m35 11h0m-14 24h0m-14 -33h0m25 -5h0m-10 11h0m-2 23h0m-14 -41h0m-10 18h0m4 27h0m-9 -22h0m36 -14h0m-15 13h0m-14 -5h0m47 8h0m-38 3h0m-6 9h0m38 -5h0m-58 2h0m39 4h0m17 -13h0m-42 0h0m11 -33h0m19 45h0m4 -25h0m-14 30h0m-25 -43h0m-2 23h0m18 -1h0m20 12h0m6 -6h0m-430 -100h0m8 21h0m-4 -22h0m-7 13h0m17 -14h0m-16 8h0m-4 30h0m14 -24h0m-19 31h0m32 -56h0m-18 41h0m-6 1h0m-10 23h0m27 -59h0m5 -11h0m-32 56h0m17 -18h0m-15 25h0m4 -22h0m7 -22h0m-15 46h0m2 -5h0m14 -16h0m2 -3h0m-17 8h0m32 -41h0m-8 -2h0m8 4h0m-3 0h0m-26 25h0m22 -25h0m-18 17h0m8 18h0m-4 -2h0m-14 25h0m20 -36h0m-6 -10h0m-13 36h0m40 -60h0m-32 36h0m8 -8h0m8 -9h0m-11 30h0m4 3h0m-5 4h0m21 -44h0m-24 38h0m-2 -3h0m23 -34h0m-17 27h0m-11 20h0m14 -12h0m14 -30h0m-10 4h0m-20 49h0m32 -60h0m5 5h0m-36 50h0m24 -60h0m5 8h0m-22 46h0m2 -4h0m5 -4h0m16 -36h0m-15 20h0m11 -14h0m-10 4h0m17 -15h0m-7 7h0m-10 15h0m12 -26h0m-14 22h0m-2 4h0m19 -19h0m-17 12h0m-2 20h0m14 -35h0m-16 22h0m5 -8h0m-15 35h0m16 -36h0m5 7h0m-6 -1h0m-8 20h0m-8 14h0m16 -33h0m7 -11h0m-11 8h0m19 -15h0m-10 11h0m-12 30h0m10 -21h0m2 5h0m-5 11h0m-15 20h0m14 -45h0m17 -10h0m-13 23h0m-6 -4h0m10 -26h0m-15 42h0m9 -18h0m-7 12h0m21 -32h0m-16 21h0m15 -8h0m-10 14h0m-17 30h0m29 -61h0m-9 30h0m-7 -3h0m-4 -5h0m3 21h0m11 -40h0m-10 42h0m5 -14h0m-13 17h0m21 -45h0m-16 42h0m23 -50h0m-15 17h0m-17 43h0m17 -42h0m-7 32h0m20 -39h0m-9 -6h0m-1 1h0m3 5h0m-15 23h0m24 -37h0m-25 52h0m4 -24h0m-7 27h0m21 -32h0m4 -6h0m-18 8h0m12 -15h0m-19 56h0m5 -25h0m-6 15h0m11 -6h0m-1 -7h0m9 -17h0m-2 -3h0m-24 53h0m33 -62h0m-35 58h0m29 -39h0m8 -18h0m-19 38h0m469 104h0m0 0h0m-2 4h0m1 -3h0m-2 3h0m-6 9h0m9 -13h0m-10 14h0m8 -10h0m-9 13h0m9 -14h0m-7 10h0m-8 11h0m13 -19h0m-8 11h0m7 -7h0m-8 8h0m9 -11h0m-4 8h0m7 -13h0m-8 9h0m5 -2h0m3 -4h0m-13 17h0m13 -19h0m-15 20h0m6 -9h0m2 -3h0m0 0h0m-3 5h0m3 -6h0m-2 7h0m0 -2h0m0 -3h0m-5 10h0m11 -14h0m0 -1h0m-12 17h0m1 -4h0m6 -5h0m-3 1h0m-3 7h0m5 -7h0m10 -13h0m-11 14h0m-114 -140h0m17 22h0m-26 -30h0m10 10h0m-9 8h0m21 5h0m-21 -19h0m19 17h0m-4 2h0m8 13h0m-29 -35h0m16 17h0m2 -11h0m-15 -7h0m13 25h0m18 2h0m-3 0h0m-11 -14h0m-15 -11h0m12 8h0m-7 -7h0m-3 8h0m12 6h0m16 10h0m7 -6h0m-36 -5h0m-5 -12h0m28 13h0m-14 -2h0m22 10h0m-16 3h0m11 -11h0m-15 -1h0m-21 -19h0m30 41h0m-17 -28h0m18 16h0m-26 -32h0m25 27h0m8 1h0m-25 -19h0m9 15h0m-3 -7h0m-6 6h0m7 2h0m-14 -22h0m22 23h0m-6 -1h0m-16 -25h0m13 13h0m-14 13h0m37 0h0m-37 -27h0m35 42h0m1 -12h0m-17 -13h0m11 9h0m-7 6h0m-19 -36h0m7 27h0m10 -12h0m-23 -7h0m22 12h0m-11 2h0m22 4h0m-37 -11h0m4 -10h0m35 31h0m-30 -20h0m-3 -13h0m15 19h0m-10 -2h0m5 -18h0m-5 16h0m-8 -13h0m15 12h0m12 21h0m-4 -15h0m11 14h0m-22 -11h0m38 16h0m-37 -26h0m-4 11h0m15 12h0m-17 -25h0m21 25h0m-17 -21h0m18 22h0m-15 -24h0m-2 -2h0m-12 -3h0m5 12h0m4 -6h0m-18 -22h0m37 40h0m-8 -12h0m-16 -20h0m1 5h0m38 31h0m-19 -10h0m13 9h0m-18 -17h0m4 -7h0m-7 8h0m-14 -32h0m10 24h0m12 19h0m-18 -8h0m-8 -24h0m33 27h0m-28 -11h0m2 -7h0m22 10h0m-17 -4h0m15 -1h0m-13 0h0m6 8h0m13 19h0m-6 -13h0m-16 -10h0m0 1h0m4 -16h0m25 32h0m-14 2h0m15 -9h0m-34 -14h0m35 34h0m-32 -34h0m21 17h0m-31 -16h0m36 10h0m-37 -20h0m40 36h0m-4 -26h0m-24 -4h0m17 7h0m-10 5h0m27 20h0m-14 -9h0m4 12h0m-34 -55h0m26 42h0m-25 -14h0m24 21h0m-16 -22h0m-14 -16h0m3 6h0m14 10h0m4 8h0m-8 -9h0m2 0h0m6 6h0m7 2h0m-14 -1h0m26 6h0m-23 -14h0m-7 -6h0m24 25h0m-17 -20h0m-14 -17h0m25 35h0m-21 -24h0m-6 -12h0m37 28h0m2 1h0m-26 7h0m17 -3h0m-7 -15h0m-16 -11h0m17 25h0m-7 -18h0m4 6h0m-10 -8h0m3 -9h0m23 33h0m-7 -17h0m-18 -7h0m31 24h0m-18 -11h0m11 8h0m-27 -11h0m-8 -20h0m40 40h0m-16 -17h0m-18 -14h0m14 16h0m18 3h0m-18 -6h0m12 18h0m9 -7h0m-33 -15h0m-5 -8h0m38 15h0m3 20h0m-1 -26h0m-29 11h0m2 -6h0m-14 -26h0m19 22h0m18 7h0m44 195h0m3 8h0m5 1h0m-2 0h0m-1 -5h0m1 6h0m-11 -14h0m1 0h0m3 4h0m12 13h0m1 3h0m-17 -19h0m1 1h0m5 6h0m2 1h0m7 4h0m-4 0h0m6 4h0m-12 -12h0m2 0h0m0 1h0m9 14h0m0 -3h0m-13 -15h0m1 0h0m10 14h0m-5 -9h0m-3 -3h0m2 3h0m4 7h0m-14 -16h0m18 20h0m-11 -13h0m10 9h0m-12 -11h0m5 5h0m4 8h0m1 0h0m-2 -5h0m2 2h0m-5 -10h0m-5 -4h0m-1 2h0m5 5h0m3 2h0m2 9h0m1 -5h0m-10 -13h0m5 8h0m5 8h0m-31 -62h0m24 3h0m13 5h0m-12 -6h0m-28 -16h0m33 16h0m-29 -12h0m1 -2h0m-2 6h0m20 6h0m3 1h0m-23 -6h0m30 6h0m-3 2h0m-22 -2h0m-4 -2h0m36 2h0m-21 5h0m-20 -16h0m13 11h0m16 2h0m-26 -8h0m27 9h0m-26 -14h0m21 16h0m12 -4h0m-2 2h0m1 -1h0m-27 -5h0m16 4h0m-3 1h0m15 -1h0m-5 0h0m-31 -5h0m40 9h0m-45 -11h0m27 8h0m-10 1h0m5 2h0m14 -8h0m-19 2h0m0 1h0m-6 0h0m3 -5h0m7 10h0m1 -5h0m-13 -3h0m42 6h0m-14 -2h0m-15 0h0m23 1h0m-23 -1h0m15 1h0m-14 -4h0m11 3h0m-23 2h0m9 0h0m-13 -13h0m37 13h0m-29 2h0m28 -3h0m6 -1h0m-38 1h0m-3 -13h0m39 13h0m-13 -2h0m-14 0h0m-13 -2h0m28 3h0m-6 0h0m-17 -3h0m9 2h0m3 5h0m-20 -20h0m4 11h0m3 -1h0m0 3h0m32 5h0m-4 -3h0m7 5h0m-38 -15h0m21 16h0m3 -5h0m0 0h0m-9 2h0m14 -2h0m-1 0h0m-27 -8h0m7 5h0m25 3h0m-8 -5h0m-12 8h0m23 0h0m-38 -15h0m23 10h0m12 5h0m-37 -18h0m31 15h0m-10 0h0m-8 4h0m9 -4h0m-16 -6h0m7 5h0m-4 1h0m-9 -14h0m17 16h0m-16 -9h0m12 7h0m-10 -2h0m7 5h0" stroke="#d9d9df" stroke-width="1.9" stroke-linecap="round" fill="none" stroke-opacity="0.65"/>
<path d="M3327 2137h0m-142 64h0m-66 -30h0m21 -9h0m123 -74h0m-44 41h0m69 153h0m58 -113h0m-179 -211h0m18 215h0m-75 -207h0m-1 79h0m147 -45h0m-65 18h0m29 225h0m65 -119h0m-8 130h0m-168 -175h0m12 32h0m58 -107h0m84 237h0m-147 -71h0m259 6h0m-11 3h0m-284 -76h0m149 96h0m-91 -234h0m37 153h0m-56 -89h0m226 95h0m-133 -29h0m-7 62h0m-138 -96h0m14 15h0m98 -49h0m144 122h0m34 -16h0m-96 115h0m54 -87h0m-195 71h0m202 18h0m-156 -108h0m47 -62h0m-39 -85h0m60 30h0m-148 23h0m140 -65h0m-21 245h0m-147 -79h0m134 -172h0m183 222h0m-294 13h0m117 -151h0m-102 -22h0m82 182h0m29 -134h0m149 19h0m-197 46h0m193 -40h0m-274 49h0m244 -27h0m22 40h0m-13 32h0m-88 -91h0m65 114h0m-141 -209h0m-66 202h0m39 -234h0m69 0h0m-58 59h0m170 183h0m48 -48h0m-71 12h0m-100 -209h0m37 308h0m-182 -141h0m303 43h0m-172 21h0m-86 -21h0m226 -106h0m-160 -22h0m34 -33h0m-76 -23h0m22 202h0m103 -26h0m36 -19h0m-46 -37h0m-109 38h0m235 43h0m-268 -163h0m146 25h0m-5 186h0m7 -185h0m-48 -36h0m-13 31h0m-7 144h0m58 -13h0m-161 -161h0m154 21h0m-119 45h0m179 156h0m-124 -287h0m-3 145h0m89 93h0m14 -189h0m-44 135h0m-123 -154h0m55 -55h0m-109 150h0m312 9h0m-201 80h0m179 50h0m-74 -96h0m-11 135h0m22 -51h0m-25 -66h0m-173 -88h0m154 132h0m-16 11h0m143 -24h0m11 31h0m-264 -152h0m0 102h0m5 -81h0m5 35h0m-16 -126h0m89 104h0m80 -37h0m-108 138h0m84 -60h0m18 81h0m-17 -163h0m-162 83h0m-13 -36h0m216 203h0m-149 -343h0m90 283h0m-116 -269h0m-43 74h0m136 191h0m154 -20h0m-59 -57h0m-240 34h0m157 -162h0m85 109h0m21 60h0m-196 -173h0m-33 -34h0m41 91h0m-60 74h0m222 -36h0m-58 105h0m-46 -33h0m73 -42h0m-55 -171h0m-16 243h0m176 -40h0m-261 -108h0m272 111h0m-173 19h0m-72 9h0m146 -149h0m12 192h0m35 -122h0m-137 -156h0m176 235h0m-175 -29h0m70 -23h0m-149 -31h0m79 -158h0m117 144h0m-160 97h0m138 -71h0m-114 -34h0m66 -28h0m-111 85h0m53 -14h0m96 64h0m-72 -150h0m-78 129h0m226 -10h0m-112 -55h0m-48 -93h0m-42 138h0m24 -156h0m176 137h0m-13 -57h0m-258 78h0m273 -46h0m-236 -125h0m112 -40h0m-158 111h0m230 9h0m-115 -8h0m186 128h0m-308 -70h0m187 -22h0m109 -7h0m-171 -111h0m-81 148h0m251 -23h0m-281 -39h0m34 -33h0m-8 7h0m120 204h0m79 -192h0m-112 -79h0m-95 221h0m285 -18h0m-145 -149h0m-112 4h0m139 -20h0m62 208h0m-82 -55h0m-16 44h0m-114 -264h0m112 35h0m-144 133h0m87 72h0m168 -121h0m-117 -5h0m-23 15h0m-87 -79h0m186 98h0m-83 -52h0m46 144h0m-6 -37h0m-113 6h0m198 13h0m-126 -147h0m-111 5h0m46 -6h0m143 253h0m-113 -349h0m56 262h0m-33 -220h0m75 175h0m-33 61h0m90 -50h0m4 -14h0m-11 -91h0m-233 -7h0m168 2h0m-34 95h0m157 30h0m-53 29h0m-168 -51h0m-90 -76h0m145 58h0m-4 -111h0m-113 -4h0m131 179h0m-123 -175h0m274 150h0m-75 -59h0m-244 85h0m159 -198h0m58 55h0m-16 -35h0m-12 118h0m-194 14h0m-9 -55h0m40 -24h0m5 128h0m189 83h0m-96 -177h0m123 -10h0m-180 -125h0m152 215h0m-186 -108h0m243 90h0m-101 -87h0m125 12h0m-131 156h0m17 2h0m-150 -137h0m-4 92h0m145 -180h0m42 265h0m-54 -41h0m-170 -108h0m70 11h0m213 50h0m-168 -105h0m197 74h0m-144 -148h0m-102 -18h0m3 148h0m52 -219h0m-6 94h0m18 167h0m101 -67h0m-210 16h0m101 34h0m145 21h0m-186 -126h0m-92 -8h0m263 64h0m-70 118h0m42 -140h0m-80 -117h0m-23 -34h0m82 89h0m-29 154h0m22 -207h0m8 224h0m-48 -25h0m15 -104h0m57 186h0m-211 -74h0m65 -121h0m85 -121h0m-20 6h0m97 189h0m-137 -216h0m108 264h0m41 -75h0m72 39h0m-289 -78h0m80 -98h0m-50 194h0m71 -5h0m80 -59h0m-169 -158h0m-38 219h0m146 -147h0m-91 94h0m15 64h0m-16 -102h0m30 -123h0m125 183h0m26 -1h0m-140 50h0m-92 -168h0m101 14h0m173 134h0m-31 -14h0m-41 -168h0m17 159h0m-169 -158h0m173 87h0m-200 -63h0m198 27h0m-125 -1h0m47 133h0m56 46h0m-109 -191h0m-111 125h0m141 -151h0m33 109h0m-32 1h0m-143 -24h0m154 52h0m113 28h0m-68 -141h0m-153 -67h0m168 19h0m-3 239h0m66 -115h0m-48 -19h0m69 -27h0m7 -1h0m-17 -64h0m-41 25h0m59 4h0m-15 -30h0m-23 12h0m24 -14h0m20 53h0m-61 -24h0m25 9h0m-4 4h0m-15 -23h0m25 -9h0m6 7h0m-34 -8h0m55 59h0m-20 -49h0m1 7h0m-21 5h0m-13 -30h0m30 26h0m23 15h0m-71 -21h0m50 -2h0m-130 -108h0m79 -9h0m-64 -18h0m8 1h0m-13 26h0m37 -1h0m-8 12h0m-5 -27h0m55 47h0m-63 -43h0m10 16h0m-41 -13h0m96 12h0m-1 29h0m-28 -40h0m-64 16h0m90 -12h0m-92 1h0m16 12h0m95 27h0m-71 -33h0m52 -11h0m-84 -8h0m4 -9h0m58 34h0m57 8h0m18 -1h0m47 -42h0m-9 36h0m-26 -9h0m-34 -34h0m65 28h0m-44 -2h0m20 -1h0m41 -10h0m-76 20h0m24 10h0m-55 25h0m23 -38h0m-26 45h0m39 -47h0m-39 41h0m106 -61h0m-50 27h0m33 -7h0m5 0h0m-9 6h0m16 -30h0m-66 20h0m37 -1h0m34 14h0m-6 -34h0m-27 45h0m-13 -4h0m25 -2h0m-156 -82h0m-38 -27h0m19 8h0m44 29h0m-26 -27h0m30 -21h0m-20 -17h0m21 2h0m-41 13h0m29 -3h0m-32 5h0m29 -16h0m51 60h0m-30 -24h0m-11 -23h0m4 25h0m-38 -13h0m-29 12h0m63 -8h0m-23 -17h0m53 46h0m-31 -35h0m-37 -16h0m21 21h0m-37 -2h0m76 32h0m-43 -45h0m13 22h0m28 24h0m-94 -20h0m75 31h0m-22 -29h0m17 -22h0m-9 20h0m-75 1h0m153 -22h0m-17 6h0m35 -12h0m4 38h0m-17 -24h0m-4 -1h0m47 45h0m-25 -23h0m-35 -28h0m37 -12h0m-27 9h0m-1 4h0m120 169h0m38 -11h0m-18 11h0m-36 -15h0m17 2h0m-8 10h0m41 21h0m2 -8h0m-16 -21h0m-14 3h0m6 -2h0m-15 14h0m24 58h0m-1 -4h0m-33 42h0m-28 -19h0m65 -6h0m-15 -4h0m-38 3h0m11 -20h0m33 12h0m-19 -5h0m-18 1h0m2 11h0m-4 -4h0m27 10h0m-34 21h0m36 -13h0m8 2h0m16 -3h0m-58 9h0m14 3h0" stroke="#b39ad9" stroke-width="2.3" stroke-linecap="round" fill="none" stroke-opacity="0.8"/>
<path d="M2965 1766.6L2965 2349.7" stroke="#444" stroke-width="1.9" fill="none" />
<path d="M2964 2348.7L3522.5 2348.7" stroke="#444" stroke-width="1.9" fill="none" />
<path d="M2959 1795.9L2959 1800.9" stroke="#555" stroke-width="1.4" fill="none" />
<text font-size="62" x="2958.5" y="1822.9" text-anchor="end">40</text>
<path d="M2959 1930.7L2959 1935.7" stroke="#555" stroke-width="1.4" fill="none" />
<text font-size="62" x="2958.5" y="1957.7" text-anchor="end">20</text>
<path d="M2959 2065.5L2959 2070.5" stroke="#555" stroke-width="1.4" fill="none" />
<text font-size="62" x="2958.5" y="2092.5" text-anchor="end">0</text>
<path d="M2959 2200.3L2959 2205.3" stroke="#555" stroke-width="1.4" fill="none" />
<text font-size="62" x="2958.5" y="2227.3" text-anchor="end">−20</text>
<path d="M2959 2335.1L2959 2340.1" stroke="#555" stroke-width="1.4" fill="none" />
<text font-size="62" x="2958.5" y="2362.1" text-anchor="end">−40</text>
<path d="M2977 2348.7L2977 2353.7" stroke="#555" stroke-width="1.6" fill="none" />
<text font-size="62" x="2965.5" y="2400.5" text-anchor="middle">−40</text>
<path d="M3108.5 2348.7L3108.5 2353.7" stroke="#555" stroke-width="1.6" fill="none" />
<text font-size="62" x="3096" y="2400.5" text-anchor="middle">−20</text>
<path d="M3240 2348.7L3240 2353.7" stroke="#555" stroke-width="1.6" fill="none" />
<text font-size="62" x="3228" y="2400.5" text-anchor="middle">0</text>
<path d="M3371.5 2348.7L3371.5 2353.7" stroke="#555" stroke-width="1.6" fill="none" />
<text font-size="62" x="3360" y="2400.5" text-anchor="middle">20</text>
<path d="M3503 2348.7L3503 2353.7" stroke="#555" stroke-width="1.6" fill="none" />
<text font-size="62" x="3490" y="2400.5" text-anchor="middle">40</text>
<text font-size="61.5" x="3220.6" y="2464.5" text-anchor="middle">tSNE_1</text>
<text font-size="61.5" x="2881" y="2082" transform="rotate(-90 2881 2082)" text-anchor="middle">tSNE_2</text>
<text font-size="25" x="3259" y="1759" class="a" text-anchor="middle" fill="#222">BCS1L</text>
<text font-size="17" x="3293.2" y="1855.7" class="a" text-anchor="middle" fill="#222">Epithelial_cells</text>
<text font-size="17" x="3257.4" y="1949.9" class="a" text-anchor="middle" fill="#222">Monocyte</text>
<text font-size="17" x="3380.6" y="1941.2" class="a" text-anchor="middle" fill="#222">Macrophage</text>
<text font-size="17" x="3328.4" y="2041.7" class="a" text-anchor="middle" fill="#222">NK_cell</text>
<text font-size="17" x="3429.9" y="2081.8" class="a" text-anchor="middle" fill="#222">B_cell</text>
<text font-size="17" x="3201.3" y="2112.3" class="a" text-anchor="middle" fill="#222">T_cells</text>
<text font-size="17" x="3441" y="2164" class="a" text-anchor="middle" fill="#222">Tissue_stem_cells</text>
<text font-size="17" x="3151.1" y="2313.8" class="a" text-anchor="middle" fill="#222">Endothelial_cells</text>
<rect x="3537" y="2021.7" width="12.6" height="72.3" fill="url(#gB)"/>
<text font-size="15" x="3554.4" y="2034" class="a" fill="#222">3</text>
<text font-size="15" x="3554.4" y="2054.7" class="a" fill="#222">2</text>
<text font-size="15" x="3554.4" y="2075.5" class="a" fill="#222">1</text>
<text font-size="15" x="3554.4" y="2096.7" class="a" fill="#222">0</text>
<rect x="661" y="2684.5" width="2444" height="1176" fill="none" stroke="#222" stroke-width="3"/>
<path d="M648 2741.6L661 2741.6" stroke="#222" stroke-width="3.6" fill="none" />
<text font-size="53.5" transform="translate(641 2759.1) scale(1.02 1)" text-anchor="end">TIGIT</text>
<path d="M648 2838L661 2838" stroke="#222" stroke-width="3.6" fill="none" />
<text font-size="53.5" transform="translate(641 2855.5) scale(1.02 1)" text-anchor="end">LAG3</text>
<path d="M648 2934.5L661 2934.5" stroke="#222" stroke-width="3.6" fill="none" />
<text font-size="53.5" transform="translate(641 2952) scale(1.02 1)" text-anchor="end">ILDR2</text>
<path d="M648 3031L661 3031" stroke="#222" stroke-width="3.6" fill="none" />
<text font-size="53.5" transform="translate(641 3048.5) scale(1.02 1)" text-anchor="end">ICOS</text>
<path d="M648 3128L661 3128" stroke="#222" stroke-width="3.6" fill="none" />
<text font-size="53.5" transform="translate(641 3145.5) scale(1.02 1)" text-anchor="end">HAVCR2</text>
<path d="M648 3224.5L661 3224.5" stroke="#222" stroke-width="3.6" fill="none" />
<text font-size="53.5" transform="translate(641 3242) scale(1.02 1)" text-anchor="end">CD276</text>
<path d="M648 3321L661 3321" stroke="#222" stroke-width="3.6" fill="none" />
<text font-size="53.5" transform="translate(641 3338.5) scale(1.02 1)" text-anchor="end">C10orf54</text>
<path d="M648 3417.5L661 3417.5" stroke="#222" stroke-width="3.6" fill="none" />
<text font-size="53.5" transform="translate(641 3435) scale(1.02 1)" text-anchor="end">BTLA</text>
<path d="M648 3514.3L661 3514.3" stroke="#222" stroke-width="3.6" fill="none" />
<text font-size="53.5" transform="translate(641 3531.8) scale(1.02 1)" text-anchor="end">CTLA4</text>
<path d="M648 3610.4L661 3610.4" stroke="#222" stroke-width="3.6" fill="none" />
<text font-size="53.5" transform="translate(641 3627.9) scale(1.02 1)" text-anchor="end">CD274</text>
<path d="M648 3707L661 3707" stroke="#222" stroke-width="3.6" fill="none" />
<text font-size="53.5" transform="translate(641 3724.5) scale(1.02 1)" text-anchor="end">PDCD1</text>
<path d="M648 3803.8L661 3803.8" stroke="#222" stroke-width="3.6" fill="none" />
<text font-size="53.5" transform="translate(641 3821.3) scale(1.02 1)" text-anchor="end">BCS1L</text>
<path d="M839 3860.5L839 3873.5" stroke="#222" stroke-width="3.6" fill="none" />
<text font-size="44.2" x="859" y="3909.5" transform="rotate(-35 859 3909.5)" text-anchor="end">B cell</text>
<path d="M1137 3860.5L1137 3873.5" stroke="#222" stroke-width="3.6" fill="none" />
<text font-size="44.2" x="1157" y="3909.5" transform="rotate(-35 1157 3909.5)" text-anchor="end">Endoothelial cells</text>
<path d="M1435 3860.5L1435 3873.5" stroke="#222" stroke-width="3.6" fill="none" />
<text font-size="44.2" x="1455" y="3909.5" transform="rotate(-35 1455 3909.5)" text-anchor="end">Epithelial cells</text>
<path d="M1733.2 3860.5L1733.2 3873.5" stroke="#222" stroke-width="3.6" fill="none" />
<text font-size="44.2" x="1753.2" y="3909.5" transform="rotate(-35 1753.2 3909.5)" text-anchor="end">Macrophage</text>
<path d="M2031.6 3860.5L2031.6 3873.5" stroke="#222" stroke-width="3.6" fill="none" />
<text font-size="44.2" x="2051.6" y="3909.5" transform="rotate(-35 2051.6 3909.5)" text-anchor="end">Monocyte</text>
<path d="M2329.8 3860.5L2329.8 3873.5" stroke="#222" stroke-width="3.6" fill="none" />
<text font-size="44.2" x="2349.8" y="3909.5" transform="rotate(-35 2349.8 3909.5)" text-anchor="end">NK cell</text>
<path d="M2628 3860.5L2628 3873.5" stroke="#222" stroke-width="3.6" fill="none" />
<text font-size="44.2" x="2648" y="3909.5" transform="rotate(-35 2648 3909.5)" text-anchor="end">T cell</text>
<path d="M2926.4 3860.5L2926.4 3873.5" stroke="#222" stroke-width="3.6" fill="none" />
<text font-size="44.2" x="2946.4" y="3909.5" transform="rotate(-35 2946.4 3909.5)" text-anchor="end">Tissue stem cell</text>
<circle cx="839" cy="2741.6" r="5.8" fill="#9b79c0"/>
<circle cx="1137" cy="2741.6" r="6" fill="#9b79c0"/>
<circle cx="1435" cy="2741.6" r="5.8" fill="#8a68b8"/>
<circle cx="1733.2" cy="2741.6" r="7" fill="#9b79c0"/>
<circle cx="2031.6" cy="2741.6" r="6.5" fill="#9b79c0"/>
<circle cx="2628" cy="2741.6" r="19" fill="#e60012"/>
<circle cx="2926.4" cy="2741.6" r="4.2" fill="#7a5db0"/>
<circle cx="839" cy="2838" r="6.3" fill="#9b79c0"/>
<circle cx="1137" cy="2838" r="4.5" fill="#8464b4"/>
<circle cx="1435" cy="2838" r="6.3" fill="#8a68b8"/>
<circle cx="1733.2" cy="2838" r="7.8" fill="#9b79c0"/>
<circle cx="2031.6" cy="2838" r="6.5" fill="#8a68b8"/>
<circle cx="2329.8" cy="2838" r="15.2" fill="#f4a582"/>
<circle cx="2628" cy="2838" r="17" fill="#ee7c58"/>
<circle cx="2926.4" cy="2838" r="6.5" fill="#8060b0"/>
<circle cx="1137" cy="2934.5" r="2.8" fill="#4a3a9a"/>
<circle cx="1435" cy="2934.5" r="2.5" fill="#4a3a9a"/>
<circle cx="1733.2" cy="2934.5" r="3" fill="#4a3a9a"/>
<circle cx="2031.6" cy="2934.5" r="2.5" fill="#b497cd"/>
<circle cx="2329.8" cy="2934.5" r="2.5" fill="#f8c8b0"/>
<circle cx="2926.4" cy="2934.5" r="2.5" fill="#f6b89c"/>
<circle cx="839" cy="3031" r="5.2" fill="#a888c8"/>
<circle cx="1137" cy="3031" r="6.3" fill="#b497cd"/>
<circle cx="1435" cy="3031" r="5.8" fill="#9b79c0"/>
<circle cx="1733.2" cy="3031" r="6.8" fill="#a080c0"/>
<circle cx="2031.6" cy="3031" r="5.8" fill="#9b79c0"/>
<circle cx="2329.8" cy="3031" r="5.2" fill="#b79ad0"/>
<circle cx="2628" cy="3031" r="17" fill="#e60012"/>
<circle cx="2926.4" cy="3031" r="4.2" fill="#9878c0"/>
<circle cx="839" cy="3128" r="5" fill="#5a3fa3"/>
<circle cx="1137" cy="3128" r="4" fill="#4a3a9a"/>
<circle cx="1435" cy="3128" r="5.2" fill="#4a3a9a"/>
<circle cx="1733.2" cy="3128" r="31.5" fill="#f8bea2"/>
<circle cx="2031.6" cy="3128" r="21" fill="#fce4d8"/>
<circle cx="2329.8" cy="3128" r="10.5" fill="#fef8f4"/>
<circle cx="2628" cy="3128" r="7" fill="#fffcfa"/>
<circle cx="2926.4" cy="3128" r="4.2" fill="#4a3a9a"/>
<circle cx="839" cy="3224.5" r="3" fill="#7050b0"/>
<circle cx="1137" cy="3224.5" r="9" fill="#efdcea"/>
<circle cx="1435" cy="3224.5" r="10.5" fill="#b296cc"/>
<circle cx="2031.6" cy="3224.5" r="5.8" fill="#8a68b8"/>
<circle cx="2329.8" cy="3224.5" r="3" fill="#4a3a9a"/>
<circle cx="2628" cy="3224.5" r="3" fill="#5a40a4"/>
<circle cx="2926.4" cy="3224.5" r="21.5" fill="#e8321a"/>
<circle cx="839" cy="3321" r="15" fill="#5a3fa3"/>
<circle cx="1137" cy="3321" r="17.5" fill="#a585c6"/>
<circle cx="1435" cy="3321" r="16.2" fill="#08338f"/>
<circle cx="1733.2" cy="3321" r="31.5" fill="#fad6c4"/>
<circle cx="2031.6" cy="3321" r="26.8" fill="#f8bea2"/>
<circle cx="2329.8" cy="3321" r="9" fill="#fffdfc"/>
<circle cx="2628" cy="3321" r="12" fill="#fef9f7"/>
<circle cx="2926.4" cy="3321" r="18.5" fill="#4a3c98"/>
<circle cx="839" cy="3417.5" r="4.8" fill="#f08a5e"/>
<circle cx="1137" cy="3417.5" r="2.5" fill="#6040a8"/>
<circle cx="1435" cy="3417.5" r="2.5" fill="#7050b0"/>
<circle cx="1733.2" cy="3417.5" r="2.5" fill="#7050b0"/>
<circle cx="2031.6" cy="3417.5" r="3.5" fill="#c0a8d8"/>
<circle cx="2329.8" cy="3417.5" r="2.5" fill="#8060b0"/>
<circle cx="2628" cy="3417.5" r="5.2" fill="#f09878"/>
<circle cx="2926.4" cy="3417.5" r="2.5" fill="#7050b0"/>
<circle cx="839" cy="3514.3" r="6.3" fill="#b08fcf"/>
<circle cx="1137" cy="3514.3" r="5.2" fill="#8a68b8"/>
<circle cx="1435" cy="3514.3" r="6.3" fill="#9b79c0"/>
<circle cx="1733.2" cy="3514.3" r="7.8" fill="#a888c8"/>
<circle cx="2031.6" cy="3514.3" r="6.8" fill="#a080c0"/>
<circle cx="2329.8" cy="3514.3" r="5.2" fill="#a888c8"/>
<circle cx="2628" cy="3514.3" r="18.5" fill="#e60012"/>
<circle cx="2926.4" cy="3514.3" r="5.2" fill="#a080c0"/>
<circle cx="839" cy="3610.4" r="3" fill="#2a2f9a"/>
<circle cx="1137" cy="3610.4" r="4.8" fill="#fde8dc"/>
<circle cx="1435" cy="3610.4" r="4.8" fill="#5038a0"/>
<circle cx="2031.6" cy="3610.4" r="5.2" fill="#f09068"/>
<circle cx="2329.8" cy="3610.4" r="3" fill="#7050b0"/>
<circle cx="2926.4" cy="3610.4" r="3.7" fill="#3030a0"/>
<circle cx="839" cy="3707" r="3.2" fill="#9070b8"/>
<circle cx="1137" cy="3707" r="4.2" fill="#c0a0d0"/>
<circle cx="1435" cy="3707" r="4.8" fill="#9b79c0"/>
<circle cx="1733.2" cy="3707" r="3.5" fill="#9b79c0"/>
<circle cx="2031.6" cy="3707" r="4.2" fill="#a080c0"/>
<circle cx="2329.8" cy="3707" r="4.8" fill="#e8d8ec"/>
<circle cx="2628" cy="3707" r="9.5" fill="#e60012"/>
<circle cx="2926.4" cy="3707" r="3" fill="#8060b0"/>
<circle cx="839" cy="3803.8" r="3.5" fill="#7050b0"/>
<circle cx="1137" cy="3803.8" r="7.3" fill="#f08058"/>
<circle cx="1435" cy="3803.8" r="9" fill="#eddcee"/>
<circle cx="1733.2" cy="3803.8" r="6.8" fill="#6040a8"/>
<circle cx="2031.6" cy="3803.8" r="5.2" fill="#4038a0"/>
<circle cx="2329.8" cy="3803.8" r="3" fill="#7050b0"/>
<circle cx="2628" cy="3803.8" r="3.7" fill="#a080c0"/>
<circle cx="2926.4" cy="3803.8" r="9.5" fill="#f4b098"/>
<text font-size="54.5" x="3180" y="2782.8">Pct.exp</text>
<circle cx="3217" cy="2838" r="2" fill="#000"/>
<text font-size="39" x="3280.5" y="2852" class="a">0</text>
<circle cx="3217" cy="2916" r="8.5" fill="#000"/>
<text font-size="39" x="3280.5" y="2930" class="a">10</text>
<circle cx="3217" cy="2992.5" r="13.5" fill="#000"/>
<text font-size="39" x="3280.5" y="3006.5" class="a">20</text>
<circle cx="3217" cy="3069" r="18.2" fill="#000"/>
<text font-size="39" x="3280.5" y="3083" class="a">30</text>
<circle cx="3217" cy="3146.4" r="23.4" fill="#000"/>
<text font-size="39" x="3280.5" y="3160.4" class="a">40</text>
<circle cx="3217" cy="3223" r="28.5" fill="#000"/>
<text font-size="39" x="3280.5" y="3237" class="a">50</text>
<text font-size="54.5" x="3167" y="3406">Average expression</text>
<rect x="3178" y="3431" width="78" height="385.6" fill="url(#gD)"/>
<path d="M3178 3479.6L3193 3479.6" stroke="#fff" stroke-width="1.5" fill="none" />
<path d="M3241 3479.6L3256 3479.6" stroke="#fff" stroke-width="1.5" fill="none" />
<text font-size="39" x="3280.5" y="3493.6" class="a">2</text>
<path d="M3178 3582L3193 3582" stroke="#fff" stroke-width="1.5" fill="none" />
<path d="M3241 3582L3256 3582" stroke="#fff" stroke-width="1.5" fill="none" />
<text font-size="39" x="3280.5" y="3596" class="a">1</text>
<path d="M3178 3684L3193 3684" stroke="#fff" stroke-width="1.5" fill="none" />
<path d="M3241 3684L3256 3684" stroke="#fff" stroke-width="1.5" fill="none" />
<text font-size="39" x="3280.5" y="3698" class="a">0</text>
<path d="M3178 3786L3193 3786" stroke="#fff" stroke-width="1.5" fill="none" />
<path d="M3241 3786L3256 3786" stroke="#fff" stroke-width="1.5" fill="none" />
<text font-size="39" x="3280.5" y="3800" class="a">−1</text>
</svg></body></html>
